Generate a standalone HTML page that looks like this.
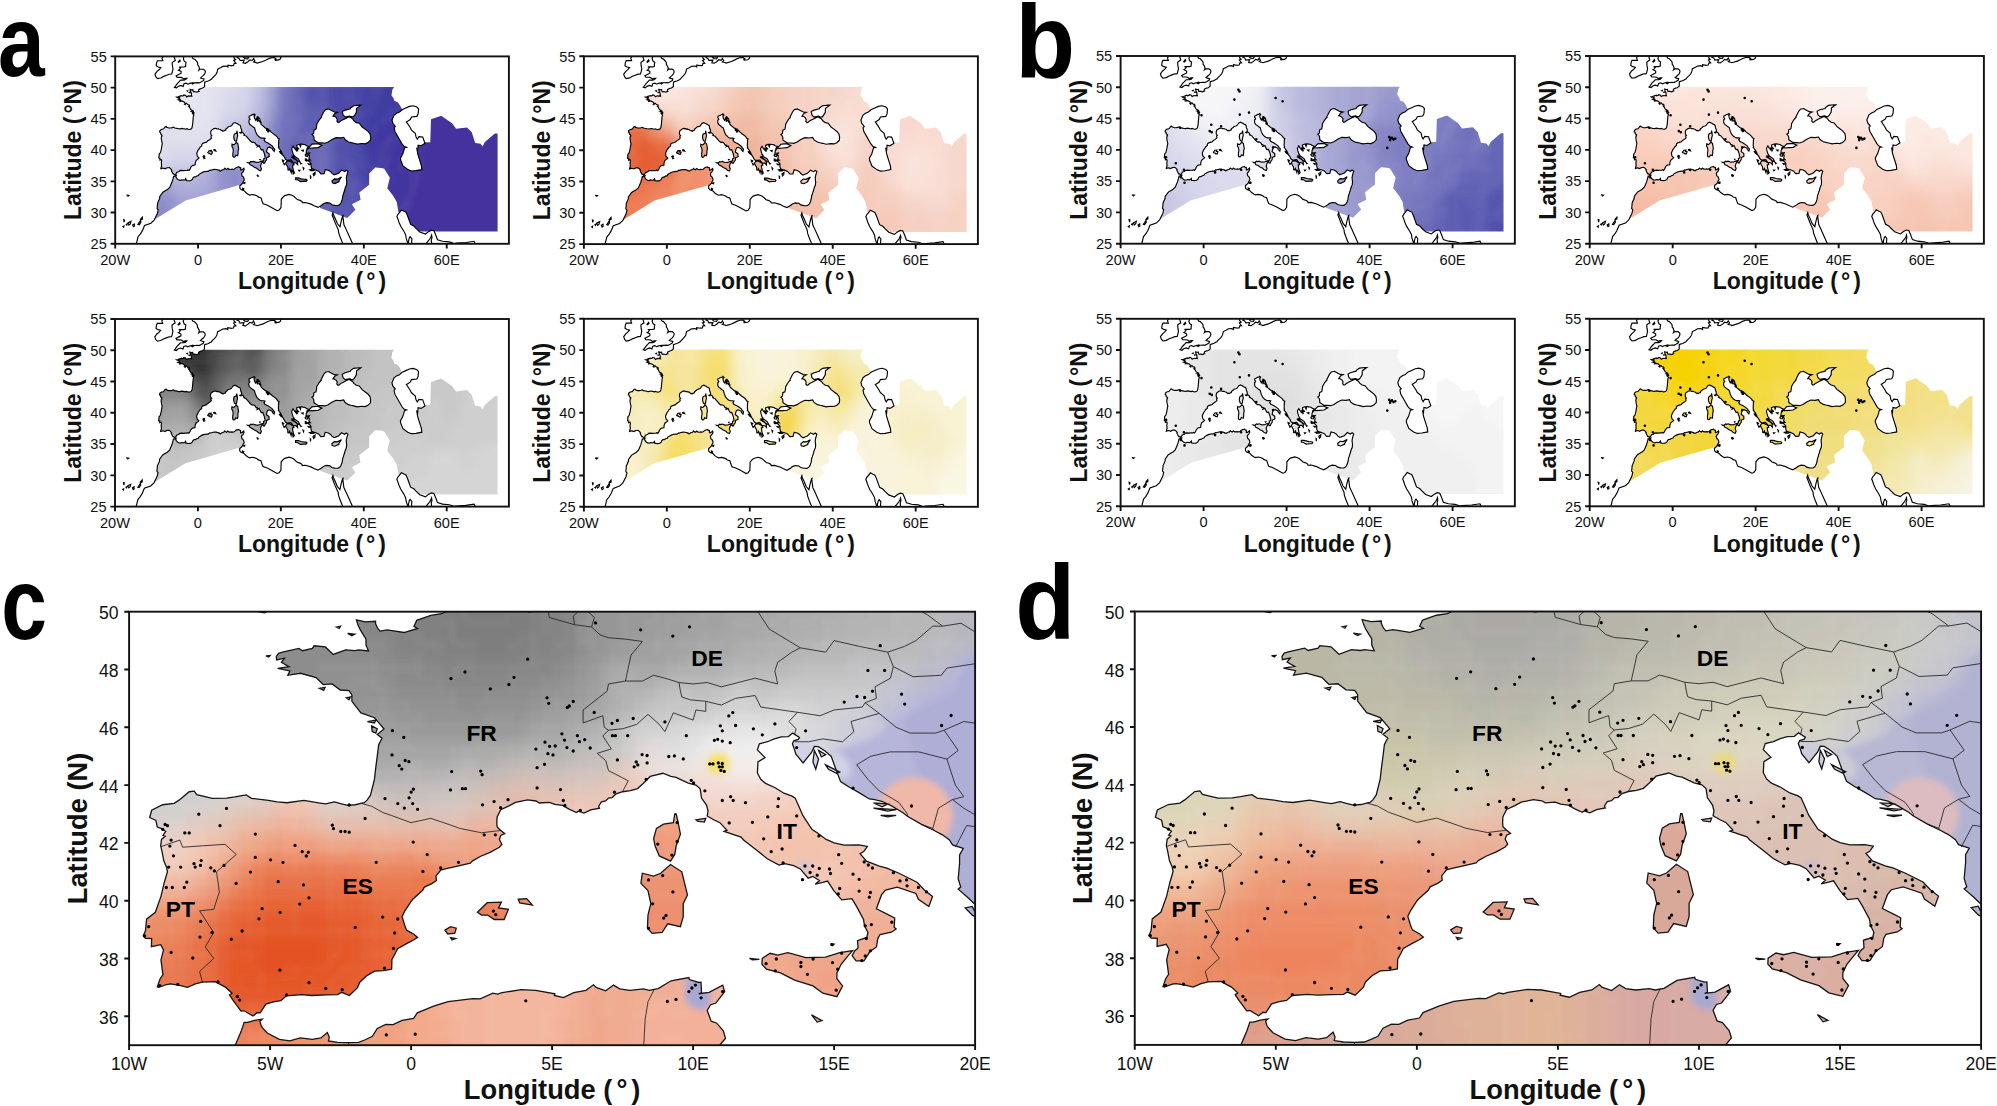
<!DOCTYPE html><html><head><meta charset="utf-8"><title>Figure</title><style>html,body{margin:0;padding:0;background:#fff}body{width:1997px;height:1106px;overflow:hidden;position:relative}svg.main{position:absolute;left:0;top:0}text{font-family:"Liberation Sans",Arial,Helvetica,sans-serif;fill:#111}.t{font-size:14.6px}.tl{font-size:17.6px}.ax{font-size:23px;font-weight:bold}.axl{font-size:27.3px;font-weight:bold}.cl{font-size:22.8px;font-weight:bold;fill:#000}.lab{font-size:100px;font-weight:bold;fill:#000}</style></head><body><svg class="main" width="1997" height="1106" viewBox="0 0 1997 1106"><defs><path id="land" vector-effect="non-scaling-stroke" d="M-17.1 -21L-16.9 -22L-16.3 -23L-15.9 -23.7L-15.3 -24.5L-14.9 -25L-14.48 -26.13L-13.9 -26.6L-13.4 -27.15L-12.92 -27.94L-11.4 -28.3L-10.6 -28.8L-10.17 -29.38L-9.85 -29.8L-9.62 -30.42L-9.89 -30.63L-9.8 -31.2L-9.77 -31.51L-9.25 -32.3L-9.27 -32.54L-8.5 -33.25L-7.62 -33.6L-7.38 -33.7L-6.84 -34.02L-6.66 -34.3L-6.29 -34.88L-6.15 -35.2L-6.03 -35.47L-5.92 -35.79L-5.8 -35.79L-5.55 -35.86L-5.28 -35.9L-5.36 -35.83L-5.32 -35.68L-5.27 -35.6L-5.1 -35.42L-4.67 -35.2L-4.3 -35.15L-3.93 -35.25L-3.5 -35.2L-3.2 -35.25L-2.97 -35.44L-2.9 -35.27L-2.93 -35.15L-2.6 -35.1L-2.23 -35.09L-1.86 -35.1L-1.65 -35.18L-1.38 -35.3L-1.2 -35.58L-0.9 -35.72L-0.64 -35.71L-0.32 -35.86L0.09 -35.93L0.22 -36.12L0.8 -36.35L1.31 -36.51L2.19 -36.61L2.45 -36.6L2.9 -36.8L3.06 -36.77L3.23 -36.82L3.91 -36.92L4.42 -36.9L5.1 -36.78L5.08 -36.72L5.4 -36.65L5.77 -36.82L6.2 -36.9L6.47 -37.09L6.56 -37L6.9 -36.88L7.18 -37.08L7.4 -36.95L7.76 -36.9L8.24 -36.95L8.44 -36.9L8.76 -36.96L9.22 -37.23L9.85 -37.34L9.87 -37.27L10.2 -37.17L10.28 -37.18L10.3 -36.82L10.2 -36.78L10.57 -36.83L11.05 -37.08L11.12 -36.85L10.8 -36.45L10.62 -36.4L10.5 -36.2L10.64 -35.83L10.83 -35.77L11.07 -35.5L11.15 -35.24L10.9 -34.95L10.76 -34.74L10.4 -34.45L10.07 -34.3L10.1 -33.88L10.45 -33.65L10.7 -33.6L11.11 -33.5L11.57 -33.17L12.08 -32.93L12.48 -32.8L13.19 -32.89L13.7 -32.8L14.26 -32.65L14.57 -32.47L15.1 -32.38L15.2 -32.35L15.4 -31.9L15.7 -31.4L16.59 -31.2L17.5 -30.9L18.57 -30.5L19.1 -30.3L19.58 -30.42L20 -30.8L20.05 -31.4L20.07 -32.12L20.58 -32.53L20.95 -32.71L21.97 -32.9L22.64 -32.77L23.1 -32.6L23.96 -32.08L24.6 -31.95L25.08 -31.76L25.16 -31.57L25.92 -31.61L27.25 -31.35L28 -31.1L28.95 -30.83L29.9 -31.2L30.07 -31.32L30.4 -31.45L31 -31.58L31.82 -31.52L32.3 -31.26L33 -31.15L33.8 -31.13L34.25 -31.32L34.45 -31.52L34.57 -31.67L34.77 -32.08L34.96 -32.83L35.07 -32.93L35.2 -33.27L35.37 -33.56L35.48 -33.9L35.82 -34.44L35.88 -34.89L35.77 -35.52L35.85 -35.85L35.93 -36.08L36.17 -36.59L35.8 -36.77L35.37 -36.57L34.64 -36.8L33.9 -36.3L33.3 -36.15L32.83 -36.02L32.3 -36.27L32 -36.54L31.45 -36.77L30.7 -36.88L30.57 -36.6L30.4 -36.22L29.64 -36.2L29.1 -36.62L28.8 -36.7L28.27 -36.85L27.8 -36.7L27.4 -36.7L27.9 -36.9L27.43 -37.03L27.26 -37.37L27.26 -37.86L26.8 -38.2L26.3 -38.32L26.5 -38.45L27.1 -38.42L26.75 -38.67L26.88 -39.07L26.69 -39.32L26.9 -39.55L26.07 -39.48L26.15 -39.95L26.4 -40.15L26.7 -40.35L26.55 -40.3L26.2 -40.05L26.35 -40.35L26.75 -40.55L26.5 -40.62L26.08 -40.72L25.87 -40.85L25 -40.95L24.4 -40.93L23.8 -40.77L23.85 -40.5L24.4 -40.15L23.9 -40.3L23.98 -39.96L23.65 -40.2L23.7 -39.95L23.3 -40.25L22.94 -40.63L22.6 -40.25L22.7 -39.9L22.95 -39.36L23.2 -39.15L22.95 -39L22.6 -38.85L23.1 -38.65L23.6 -38.46L24 -38.15L24.03 -37.65L23.63 -37.94L23.2 -37.95L22.98 -37.93L23.15 -37.63L22.8 -37.57L22.86 -37.17L23.05 -36.69L23.2 -36.44L22.8 -36.6L22.57 -36.76L22.48 -36.38L22.3 -36.7L22.11 -37.03L21.96 -36.8L21.7 -36.82L21.69 -36.91L21.66 -37.25L21.32 -37.65L21.14 -37.93L21.4 -38.2L21.73 -38.24L22.08 -38.25L22.93 -37.94L22.8 -38.1L22.43 -38.43L21.83 -38.39L21.43 -38.37L21.08 -38.53L20.75 -38.96L20.4 -39.28L20.27 -39.5L20 -39.87L19.75 -40.1L19.4 -40.4L19.49 -40.47L19.4 -40.75L19.45 -41.3L19.45 -41.58L19.58 -41.81L19.2 -41.93L19.09 -42.1L18.84 -42.28L18.55 -42.43L18.1 -42.64L17.6 -42.92L17.43 -43.05L17.02 -43.29L16.69 -43.44L16.44 -43.5L16.25 -43.52L15.9 -43.73L15.5 -43.95L15.23 -44.12L15.07 -44.53L14.9 -44.99L14.69 -45.17L14.44 -45.33L14.3 -45.34L14.2 -45.13L13.9 -44.77L13.64 -45.08L13.6 -45.22L13.52 -45.43L13.57 -45.53L13.73 -45.58L13.77 -45.65L13.53 -45.8L13.38 -45.68L13.13 -45.67L12.88 -45.6L12.64 -45.5L12.35 -45.43L12.28 -45.22L12.55 -44.95L12.3 -44.8L12.28 -44.42L12.4 -44.2L12.57 -44.06L12.91 -43.91L13.22 -43.72L13.51 -43.62L13.62 -43.55L13.73 -43.31L13.89 -42.95L14.22 -42.46L14.4 -42.35L14.72 -42.12L15 -42L15.35 -41.92L15.88 -41.93L16.18 -41.88L16.05 -41.7L15.92 -41.63L16.15 -41.37L16.6 -41.2L16.87 -41.13L17.3 -40.95L17.94 -40.64L18.2 -40.37L18.49 -40.15L18.36 -39.8L17.99 -40.05L17.9 -40.25L17.24 -40.47L16.82 -40.37L16.68 -40.2L16.5 -39.72L16.95 -39.5L17.15 -39.4L17.13 -39.08L17.2 -39.02L17.03 -38.91L16.63 -38.83L16.55 -38.69L16.5 -38.4L16.27 -38.24L16.06 -37.92L15.78 -37.92L15.64 -38.1L15.72 -38.25L15.85 -38.36L15.83 -38.62L16.16 -38.73L16.2 -38.9L16.08 -39.13L16.04 -39.36L15.79 -39.81L15.63 -40.07L15.27 -40.03L14.99 -40.35L14.77 -40.68L14.6 -40.63L14.33 -40.57L14.48 -40.7L14.25 -40.84L14.08 -40.78L13.8 -41.1L13.57 -41.21L13.25 -41.28L13.05 -41.23L12.63 -41.45L12.28 -41.73L11.8 -42.09L11.7 -42.2L11.1 -42.4L11.2 -42.44L10.95 -42.7L10.73 -42.8L10.5 -42.93L10.53 -43.1L10.48 -43.3L10.3 -43.55L10.25 -43.87L10.1 -44L9.83 -44.07L9.6 -44.17L9.4 -44.27L9.21 -44.3L8.93 -44.41L8.48 -44.3L8.22 -44.05L8.03 -43.88L7.78 -43.81L7.5 -43.77L7.27 -43.7L7.13 -43.57L7 -43.55L6.9 -43.45L6.75 -43.42L6.65 -43.27L6.68 -43.2L6.37 -43.14L6.13 -43.03L5.93 -43.1L5.86 -43.05L5.6 -43.17L5.37 -43.3L5.1 -43.33L4.9 -43.4L4.55 -43.38L4.43 -43.45L4.13 -43.49L3.7 -43.4L3.47 -43.28L3.18 -43.15L3.05 -42.9L3.04 -42.7L3.05 -42.55L3.17 -42.44L3.32 -42.32L3.18 -42.26L3.13 -42.12L3.22 -41.95L3.13 -41.85L2.8 -41.67L2.45 -41.53L2.18 -41.38L2.1 -41.3L1.8 -41.23L1.25 -41.11L1.05 -41.06L0.88 -40.85L0.9 -40.7L0.75 -40.6L0.47 -40.47L0.41 -40.36L0.06 -40.05L0 -39.98L-0.22 -39.65L-0.32 -39.45L-0.23 -39.16L-0.16 -38.98L0.1 -38.84L0.23 -38.73L0.07 -38.63L-0.13 -38.53L-0.48 -38.34L-0.55 -38.2L-0.68 -37.97L-0.69 -37.63L-0.98 -37.58L-1.3 -37.56L-1.58 -37.4L-1.82 -37.18L-1.9 -36.99L-2.19 -36.72L-2.46 -36.83L-2.6 -36.75L-3.02 -36.74L-3.52 -36.72L-3.88 -36.75L-4.42 -36.71L-4.62 -36.54L-4.88 -36.5L-5.15 -36.42L-5.35 -36.12L-5.45 -36.13L-5.61 -36.01L-5.92 -36.19L-6.03 -36.18L-6.3 -36.53L-6.36 -36.62L-6.44 -36.74L-6.35 -36.8L-6.57 -37L-6.95 -37.2L-7.4 -37.18L-7.65 -37.12L-7.93 -37L-8.25 -37.08L-8.54 -37.12L-8.67 -37.1L-8.95 -37L-9 -37.02L-8.9 -37.3L-8.8 -37.44L-8.87 -37.95L-8.78 -38.3L-8.88 -38.48L-9.21 -38.41L-9.2 -38.69L-9.42 -38.7L-9.5 -38.78L-9.42 -38.96L-9.38 -39.36L-9.07 -39.6L-8.87 -40.15L-8.75 -40.64L-8.64 -41L-8.67 -41.15L-8.77 -41.38L-8.83 -41.69L-8.88 -41.9L-8.85 -42.12L-8.72 -42.23L-8.8 -42.26L-8.7 -42.4L-8.87 -42.5L-9 -42.55L-9.05 -42.78L-9.27 -42.88L-9.2 -43.13L-8.81 -43.32L-8.4 -43.37L-8.23 -43.48L-7.87 -43.77L-7.69 -43.79L-7.6 -43.67L-7.05 -43.54L-6.54 -43.55L-6.25 -43.59L-5.85 -43.66L-5.66 -43.54L-5.06 -43.47L-4.75 -43.42L-4.4 -43.39L-3.8 -43.47L-3.22 -43.38L-3.03 -43.35L-2.72 -43.42L-2.5 -43.36L-2.25 -43.3L-1.98 -43.32L-1.78 -43.37L-1.66 -43.39L-1.56 -43.48L-1.44 -43.65L-1.3 -44.2L-1.25 -44.63L-1.2 -45L-1.15 -45.4L-1.06 -45.57L-1.03 -45.62L-1.2 -45.75L-0.96 -45.94L-1.15 -46.16L-1.3 -46.33L-1.78 -46.5L-1.94 -46.7L-2.1 -46.9L-2.1 -47.12L-2.2 -47.27L-2.51 -47.29L-2.8 -47.5L-3.12 -47.48L-3.37 -47.72L-3.92 -47.87L-4.37 -47.8L-4.3 -47.95L-4.73 -48.04L-4.33 -48.1L-4.6 -48.25L-4.49 -48.39L-4.77 -48.33L-4.78 -48.45L-4.7 -48.56L-4.56 -48.6L-3.98 -48.73L-3.85 -48.65L-3.5 -48.73L-3.44 -48.82L-3.04 -48.78L-2.76 -48.52L-2.32 -48.68L-2 -48.65L-1.85 -48.68L-1.51 -48.64L-1.6 -48.84L-1.6 -49.05L-1.8 -49.37L-1.88 -49.53L-1.94 -49.72L-1.62 -49.65L-1.26 -49.67L-1.26 -49.58L-1.18 -49.42L-1.1 -49.33L-0.85 -49.37L-0.62 -49.34L-0.25 -49.28L0.23 -49.42L0.1 -49.49L0.2 -49.7L0.37 -49.76L0.7 -49.87L1.08 -49.93L1.37 -50.06L1.6 -50.2L1.56 -50.4L1.58 -50.52L1.6 -50.73L1.58 -50.87L1.86 -50.95L2.37 -51.05L2.55 -51.1L2.92 -51.23L3.2 -51.33L3.44 -51.53L3.7 -51.7L3.9 -51.83L4.12 -51.98L4.27 -52.1L4.42 -52.24L4.58 -52.46L4.75 -52.96L5.4 -53.17L6 -53.4L6.8 -53.45L7.2 -53.3L7.2 -53.6L8.1 -53.5L8.13 -53.52L8.57 -53.55L8.7 -53.87L9.14 -53.9L8.86 -54.13L8.6 -54.35L9.05 -54.48L8.7 -54.7L8.66 -54.91L8.6 -55.3L8.2 -55.6L8.1 -56.2L10.3 -56.2L10 -55.7L9.75 -55.4L9.7 -55L9.45 -54.8L9.9 -54.67L10.15 -54.35L11.1 -54.4L10.85 -53.97L11.45 -53.9L12.1 -54.18L12.5 -54.45L13.1 -54.35L13.4 -54.68L13.7 -54.3L13.4 -54.1L14 -54L14.25 -53.92L15.58 -54.18L16.4 -54.43L16.85 -54.59L17.56 -54.76L18.33 -54.83L18.8 -54.6L18.55 -54.52L18.65 -54.38L19.5 -54.45L19.9 -54.65L20 -54.95L21.1 -55.2L21.1 -56.5L80 -56.5L80 -20L67 -24.85L66.6 -25.4L64.6 -25.2L62.3 -25.1L61.8 -25.05L60.6 -25.3L59 -25.4L57.77 -25.65L57.3 -26.5L56.9 -27.1L56.3 -27.18L55.6 -26.95L54.88 -26.56L53.5 -26.9L52.6 -27.47L52.06 -27.84L51.3 -28.1L50.83 -28.97L50.5 -29.58L50.17 -30.05L49.7 -30.2L49.07 -30.42L48.55 -29.95L48.3 -29.8L47.97 -29.37L48.2 -29L48.49 -28.42L48.9 -27.8L49.66 -27L50.1 -26.43L50.2 -25.9L50.55 -25.2L50.8 -24.75L50.78 -25.42L51 -26L51.2 -26.15L51.6 -25.8L51.53 -25.29L51.6 -24.9L51.5 -24.4L52.5 -24.1L54.37 -24.47L55.3 -25.27L55.4 -25.36L55.95 -25.8L56.25 -26.2L56.35 -26.38L56.45 -26L56.27 -25.6L56.35 -25.1L56.7 -24.35L57.5 -23.8L58.6 -23.6L59.8 -22.5L59.5 -20L40 -20L39.1 -22L38.5 -23.2L38.06 -24.09L37.26 -25.05L36.45 -26.24L35.7 -27.35L35.2 -28.05L34.95 -29.35L35 -29.53L34.92 -29.5L34.67 -28.97L34.5 -28.5L34.3 -27.9L34.25 -27.73L33.6 -28.24L33.1 -29.05L32.7 -29.6L32.55 -29.97L32.35 -29.6L32.65 -29.1L33.08 -28.35L33.83 -27.25L33.93 -26.75L34.28 -26.1L34.9 -25.07L35.5 -23.9L36 -22L37 -20L-17.3 -20ZM-5.7 -50.05L-5.2 -49.96L-4.8 -50.2L-4.2 -50.35L-3.6 -50.2L-3.4 -50.62L-2.9 -50.72L-2.45 -50.55L-2 -50.68L-1.3 -50.78L-0.8 -50.77L0 -50.8L0.3 -50.75L0.8 -50.93L1.35 -51.15L1.43 -51.38L0.9 -51.47L0.6 -51.55L1 -51.8L1.3 -51.95L1.6 -52.2L1.75 -52.5L1.7 -52.73L1.3 -52.95L0.5 -52.97L0.2 -52.8L0.35 -53.1L0.1 -53.5L-0.1 -53.65L-0.15 -54.05L-0.4 -54.25L-0.8 -54.55L-1.2 -54.63L-1.5 -55L-1.6 -55.6L-2.5 -56.5L-3.3 -56.5L-3.2 -55.5L-3.4 -54.95L-3.55 -54.6L-3.3 -54.2L-2.9 -54.05L-3 -53.75L-3 -53.4L-3.4 -53.3L-4 -53.3L-4.6 -53.3L-4.2 -53.2L-4.5 -52.9L-4.75 -52.8L-4.1 -52.6L-4.1 -52.3L-4.7 -52.1L-5.3 -51.9L-5.05 -51.65L-4.3 -51.65L-3.9 -51.6L-3.5 -51.4L-3 -51.5L-2.7 -51.5L-3 -51.3L-3.4 -51.2L-4.2 -51.2L-4.5 -51L-5 -50.65L-5.5 -50.2ZM-6 -55.2L-5.7 -54.75L-5.5 -54.35L-5.9 -54.2L-6.25 -54L-6.2 -53.5L-6.05 -53L-6.2 -52.55L-6.36 -52.18L-6.95 -52.15L-7.6 -51.98L-8.3 -51.8L-9 -51.55L-9.8 -51.45L-10.2 -51.75L-10.4 -52.15L-9.9 -52.6L-9.35 -52.9L-9 -53.2L-9.6 -53.3L-10.1 -53.5L-10 -54L-9.8 -54.3L-9 -54.3L-8.5 -54.3L-8.7 -54.7L-8.3 -55.15L-7.6 -55.3L-7 -55.2ZM9.4 -43L9.47 -42.7L9.55 -42.3L9.4 -41.9L9.35 -41.6L9.2 -41.37L8.8 -41.55L8.65 -41.9L8.6 -42.15L8.7 -42.5L8.95 -42.65L9.3 -42.7L9.35 -43ZM9.2 -41.25L9.6 -41L9.7 -40.6L9.8 -40.2L9.65 -39.9L9.65 -39.45L9.55 -39.1L9.1 -39.2L8.9 -38.9L8.55 -38.87L8.38 -39.05L8.4 -39.5L8.5 -39.9L8.4 -40.35L8.15 -40.6L8.2 -40.95L8.6 -40.85L8.85 -40.95ZM15.65 -38.27L15.2 -38.2L14.7 -38.05L14 -38.03L13.36 -38.2L13 -38.12L12.73 -38.18L12.45 -38L12.44 -37.8L12.6 -37.63L13.1 -37.5L13.6 -37.25L14.25 -37.05L14.6 -36.8L15.1 -36.68L15.3 -37.05L15.1 -37.3L15.1 -37.5L15.25 -37.8L15.5 -38.1ZM2.35 -39.6L2.7 -39.93L3.2 -39.95L3.1 -39.75L3.45 -39.7L3.3 -39.35L2.95 -39.35L2.72 -39.5L2.5 -39.5ZM3.8 -40.05L4.1 -40.07L4.3 -39.85L3.85 -39.92ZM1.2 -38.98L1.4 -39.1L1.6 -39.05L1.55 -38.88L1.3 -38.85ZM1.4 -38.72L1.58 -38.69L1.45 -38.64ZM23.55 -35.55L24.2 -35.55L24.9 -35.42L25.4 -35.35L26.1 -35.32L26.3 -35.2L26.1 -35L25.5 -35L24.7 -34.95L24 -35.25L23.55 -35.25ZM32.3 -35.05L32.9 -35.4L33.6 -35.35L34.6 -35.7L33.95 -35.05L34 -34.95L33 -34.65L32.4 -34.75ZM22.8 -39L23.4 -38.95L24.2 -38.6L24.6 -38.1L24.1 -38.2L23.6 -38.5L23.1 -38.8ZM27.75 -36.2L28.25 -36.45L28.2 -36.1L27.9 -35.9ZM25.85 -39.25L26.2 -39.4L26.6 -39.25L26.4 -38.98L25.95 -39.05ZM25.9 -38.6L26.15 -38.55L26.1 -38.25L25.9 -38.3ZM26.6 -37.8L27.05 -37.75L26.8 -37.65ZM20.35 -38.4L20.7 -38.3L20.5 -38.1L20.4 -38.25ZM19.65 -39.75L19.9 -39.8L20.1 -39.4L19.9 -39.5ZM20.65 -37.9L20.95 -37.75L20.8 -37.65ZM10.1 -42.8L10.45 -42.85L10.4 -42.72L10.15 -42.75ZM10.75 -33.9L11.05 -33.8L10.95 -33.65L10.75 -33.7ZM14.2 -36.05L14.57 -35.85L14.4 -35.8ZM-13.9 -28.9L-13.45 -29.25L-13.42 -28.95L-13.8 -28.85ZM-14.5 -28.1L-13.85 -28.75L-13.82 -28.4L-14.2 -28.05ZM-15.8 -28L-15.4 -28.18L-15.35 -27.85L-15.6 -27.73ZM-16.9 -28.35L-16.2 -28.58L-16.35 -28.2L-16.7 -28ZM-17.35 -28.1L-17.1 -28.2L-17.2 -28ZM-17.95 -28.85L-17.75 -28.8L-17.85 -28.45ZM-18.15 -27.75L-17.9 -27.85L-17.95 -27.65ZM-17.25 -32.8L-16.7 -32.75L-16.9 -32.63ZM-2.25 -49.25L-2 -49.22L-2.1 -49.17ZM-2.65 -49.47L-2.5 -49.5L-2.55 -49.42ZM-1.55 -50.68L-1.3 -50.77L-1.07 -50.68L-1.3 -50.57ZM-4.8 -54.1L-4.4 -54.42L-4.3 -54.25L-4.7 -54.05ZM9.7 -55.5L10.5 -55.6L10.9 -55.3L10.6 -55L10 -55.1ZM11 -55.5L11.9 -56.1L12.6 -55.7L12.3 -55.2L11.7 -55.05L11.2 -55.2ZM11 -54.85L11.8 -54.95L12.2 -54.85L12 -54.6L11.3 -54.65ZM14.7 -55.2L15.1 -55.3L15.15 -55.05L14.75 -55.05ZM-1.55 -46.2L-1.25 -46.25L-1.3 -46.15ZM-1.4 -46.05L-1.2 -45.95L-1.25 -45.8L-1.38 -45.85ZM-3.25 -47.35L-3.05 -47.38L-3.1 -47.28ZM-2.3 -47.02L-2.15 -47.05L-2.2 -46.95ZM-5.15 -48.47L-5 -48.48L-5.05 -48.43ZM11 -34.7L11.3 -34.8L11.25 -34.65ZM14.45 -45.2L14.7 -45.05L14.55 -44.98ZM14.3 -45.2L14.45 -44.9L14.35 -44.55L14.25 -44.8ZM14.7 -44.7L15.2 -44.45L15.1 -44.4L14.8 -44.55ZM16.4 -43.38L16.9 -43.35L16.7 -43.25ZM16.4 -43.2L17.2 -43.15L16.9 -43.1ZM16.65 -42.95L17.2 -42.95L16.9 -42.9ZM24.55 -40.8L24.8 -40.75L24.7 -40.55ZM25.05 -39.95L25.4 -39.98L25.35 -39.8ZM25.35 -37.2L25.55 -37.1L25.45 -36.95ZM24.7 -37.95L24.95 -37.85L24.8 -37.8ZM24.3 -36.75L24.55 -36.75L24.4 -36.65ZM22.9 -36.35L23.1 -36.25L22.95 -36.15ZM27.1 -35.85L27.2 -35.8L27.15 -35.4ZM26.95 -36.85L27.35 -36.9L27.2 -36.75ZM14.9 -38.5L15 -38.5L14.95 -38.45ZM12 -38L12.35 -37.97L12.1 -37.95Z"/><path id="lakes" vector-effect="non-scaling-stroke" d="M29.05 -41.15L29.9 -41.15L30.6 -41.1L31.4 -41.3L32.3 -41.7L33.3 -42L34.3 -41.95L35.15 -42.05L35.5 -41.65L36.3 -41.3L36.9 -41.2L37.6 -41.1L38.4 -40.95L39.5 -41.05L40.3 -41L41 -41.2L41.6 -41.6L41.65 -42.1L41.5 -42.6L41 -43L40.2 -43.4L39.6 -43.7L38.9 -44.3L38.2 -44.4L37.6 -44.7L37.3 -45L36.8 -45.2L36.45 -45.35L35.4 -45L34.95 -44.85L34.4 -44.67L34.15 -44.49L33.8 -44.39L33.5 -44.6L33.6 -44.9L33.35 -45.2L32.7 -45.5L32.48 -45.35L33 -45.85L33.6 -46.05L32.9 -46.1L31.6 -46.55L31.55 -46.6L30.75 -46.48L30.3 -46.1L29.7 -45.3L29.75 -45.2L29.65 -45.16L29.2 -44.8L28.65 -44.17L28.6 -43.8L28.47 -43.36L27.95 -43.2L27.9 -42.7L27.5 -42.5L27.7 -42.4L27.95 -42.1L28 -41.6L28.6 -41.35ZM36.6 -45.45L35.5 -45.3L35 -45.6L34.8 -46.17L35.5 -46.4L36.75 -46.62L36.8 -46.75L37.55 -47.1L38.9 -47.2L39.3 -47.2L38.25 -46.7L38.2 -46.05L37.7 -45.5L37.4 -45.3L36.9 -45.35ZM47.5 -42.98L47.3 -43.6L47.6 -43.8L47 -44.3L46.8 -44.8L47.3 -45.6L47.9 -45.9L48.6 -46.1L49.3 -46.5L50 -46.7L51 -47L51.9 -47.1L52.8 -46.9L53.2 -46.6L53.1 -45.8L52.8 -45.4L51.5 -45.3L51.2 -44.9L50.5 -44.6L50.27 -44.52L51.15 -43.65L51.5 -43.2L52.4 -42.7L52.6 -42.1L52.9 -41.75L53.3 -42.15L54.2 -42.1L54.75 -41.1L53.8 -40.7L53.1 -40.8L53 -40.05L52.8 -40.2L53 -39.4L53.9 -37.5L54 -36.9L52.6 -36.72L51.5 -36.66L50.6 -36.9L49.45 -37.47L48.87 -38.43L48.85 -38.75L49.4 -39.4L49.85 -40.38L50.3 -40.45L49.7 -40.6L49.2 -41L48.3 -42.05ZM26.7 -40.4L27.5 -40.95L28.3 -41L29 -41L29.9 -40.75L29 -40.4L28 -40.35L27 -40.3Z"/><path id="bord" vector-effect="non-scaling-stroke" d="M-1.78 -43.37L-1.4 -43.27L-1 -43.05L-0.7 -42.95L0 -42.7L0.7 -42.85L1.45 -42.6L1.73 -42.5L2.5 -42.35L3.17 -42.43M-8.87 -41.87L-8.2 -42.1L-8.1 -41.85L-7.4 -41.9L-6.6 -41.95L-6.2 -41.6L-6.9 -41L-6.8 -40.3L-7 -39.7L-7.5 -39.65L-7.2 -39.2L-7 -38.9L-7.3 -38.4L-7 -38L-7.5 -37.55L-7.4 -37.18M2.55 -51.1L2.95 -50.75L3.3 -50.5L4.2 -50.3L4.15 -49.97L4.85 -50.1L4.9 -49.8L5.8 -49.55L6.4 -49.47L6.7 -49.2L7 -49.1L7.6 -49.05L8.2 -48.97L7.8 -48.5L7.6 -47.6M5.8 -49.55L5.75 -49.85L6.1 -50.15L6.4 -50.3L6 -50.75M6.1 -50.15L6.5 -49.8L6.4 -49.47M7.6 -47.6L7 -47.5L6.95 -47.25L6.1 -46.6L6.1 -46.15L6.8 -46.4L6.85 -46L7 -45.9L6.8 -45.7L7.1 -45.25L6.6 -45.1L6.9 -44.85L7 -44.5L7.7 -44.15L7.5 -43.78M7 -45.9L7.5 -45.95L8 -46.1L8.4 -46.45L8.8 -46.1L9 -45.85L9.3 -46.5L10 -46.25L10.1 -46.6L10.45 -46.55L10.45 -46.9M7.6 -47.6L8.2 -47.6L8.6 -47.8L9 -47.7L9.5 -47.55L9.55 -47.25L9.6 -47.05L9.9 -46.95L10.45 -46.9M10.45 -46.9L11 -46.77L11.5 -47L12.2 -47.1L12.4 -46.7L13.7 -46.52L13.4 -46.2L13.65 -45.95L13.6 -45.75M9.5 -47.55L10 -47.5L10.5 -47.55L11 -47.4L12.2 -47.7L13 -47.5L12.9 -47.95L13 -48.25L13.5 -48.6L13.8 -48.75L12.7 -49.4L12.1 -50.3L12.5 -50.4L13.5 -50.7L14.3 -51.05M14.3 -51.05L14.7 -51.5L14.6 -52.5L14.2 -53L14.25 -53.92M13.8 -48.75L14.7 -48.6L15 -49L15.9 -48.8L16.9 -48.6L17.1 -48.1L17 -47.7L16.45 -47.4L16.5 -47L16.1 -46.85M13.7 -46.52L14.5 -46.4L15 -46.6L16 -46.7L16.1 -46.85L16.6 -46.48M13.6 -45.5L14.1 -45.5L14.6 -45.6L15.3 -45.5L15.7 -45.85L15.6 -46.2L16.3 -46.4L16.6 -46.48M16.6 -46.48L17.2 -46L17.7 -45.8L18.6 -45.8L18.9 -45.9L19.4 -45.2L19 -44.9M19 -44.9L18 -45.15L17 -45.15L16.3 -45L15.8 -44.7L16.2 -44.2L16.6 -43.8L17.3 -43.4L17.6 -43L17.6 -42.92M18.1 -42.64L18.5 -42.5L18.55 -42.43M19 -44.9L19.3 -44L19.6 -43.6L19.2 -43.5L18.7 -43.2L18.5 -42.5M19.2 -43.5L19.6 -43.2L20.3 -42.8M19.3 -41.85L19.7 -42.6L20.1 -42.55M17.1 -48.1L17.8 -47.75L18.8 -47.8L19 -48.05L20 -48.2L20.5 -48.5M16.9 -48.6L17.5 -48.8L17.9 -49L18.5 -49.5L18.85 -49.5M18.85 -49.5L18.3 -49.9L17.7 -50.2L16.9 -50.4L16.4 -50.6L15 -51L14.3 -51.05M18.85 -49.5L19.5 -49.6L20 -49.3L21 -49.4M18.9 -45.9L19.6 -46.2L20.3 -46.1M-2.23 -35.09L-2 -34.6L-1.8 -34M8.63 -36.95L8.4 -36.5L8.3 -35.9L8.25 -35L7.6 -34M20 -39.7L20.7 -40.3L21 -40.8"/><path id="maskp" d="M-12 -50.1L47.3 -50.1L46.85 -49.63L46.68 -48.76L47.17 -48.32L47.34 -47.89L48.16 -47.67L48.65 -47.23L48.98 -46.8L49.8 -45.8L50.3 -44.5L51 -43.2L52 -42.2L52.6 -41.7L53.5 -41.6L54.88 -41.24L56.03 -41.24L56.2 -44.94L58.66 -45.49L61.28 -44.29L62.26 -43.42L64.89 -43.63L66.04 -42.87L66.86 -41.13L68.17 -41.02L68.66 -40.58L69.15 -41.24L71.61 -42.65L72.27 -42.65L72.27 -26.95L51.5 -26.95L49.8 -28.8L49.2 -29.9L48.55 -29.95L48.35 -30.04L47.94 -31.7L47.11 -32.66L45.65 -33.91L46.27 -35.56L44.92 -37.01L44.2 -37.15L42.74 -37.22L41.29 -36.26L41.29 -34.46L38.9 -33.22L39.21 -32.04L37.13 -31.35L37.96 -30.46L35.99 -29.14L29.45 -30.73L29 -31.8L25 -33.5L20 -34L12 -34.3L10.3 -34.3L9.94 -34.4L-3 -31.95L-10.5 -28.9L-10.2 -29.5L-12 -33Z"/><clipPath id="cland"><use href="#land"/></clipPath><clipPath id="cmask"><use href="#maskp"/></clipPath><filter id="bs" x="-5%" y="-5%" width="110%" height="110%"><feGaussianBlur stdDeviation="0.8 0.5"/></filter><filter id="bl" x="-5%" y="-5%" width="110%" height="110%"><feGaussianBlur stdDeviation="0.11 0.11"/></filter></defs><svg x="115.20" y="56.40" width="393.70" height="187.40" viewBox="-20 -55 95 30" preserveAspectRatio="none"><g clip-path="url(#cland)"><g clip-path="url(#cmask)"><g filter="url(#bs)"><path fill="#45339f" d="M49 -27h25v1h-25zM48 -28h26v1h-26zM49 -29h25v1h-25zM49 -30h25v1h-25zM50 -31h24v1h-24zM51 -32h23v1h-23zM51 -33h23v1h-23zM52 -34h22v1h-22zM52 -35h22v1h-22zM53 -36h21v1h-21zM53 -37h21v1h-21zM53 -38h21v1h-21zM54 -39h20v1h-20zM54 -40h20v1h-20zM54 -41h20v1h-20zM54 -42h20v1h-20zM53 -43h21v1h-21zM53 -44h15v1h-15zM69 -44h5v1h-5zM54 -45h14v1h-14zM70 -45h3v1h-3zM54 -46h12v1h-12zM55 -47h7v1h-7z"/><path fill="#8a8ac9" d="M-12 -28h4v1h-4zM-12 -29h6v1h-6zM-13 -30h7v1h-7zM-13 -31h6v1h-6zM-13 -32h4v1h-4zM8 -33h1v1h-1zM11 -33h1v1h-1zM17 -33h1v1h-1zM8 -34h1v1h-1zM11 -34h1v1h-1zM17 -34h1v1h-1zM8 -35h3v1h-3zM8 -36h2v1h-2zM17 -40h1v1h-1zM17 -44h1v1h-1zM18 -47h1v1h-1z"/><path fill="#5451ae" d="M34 -28h1v1h-1zM34 -29h1v1h-1zM34 -30h1v1h-1zM34 -31h1v1h-1zM33 -37h1v1h-1zM33 -38h1v1h-1zM27 -47h1v1h-1zM26 -50h1v1h-1z"/><path fill="#514eae" d="M35 -28h1v1h-1zM35 -29h1v1h-1zM35 -31h1v1h-1z"/><path fill="#4e4eab" d="M36 -28h1v1h-1zM36 -29h1v1h-1zM36 -30h1v1h-1zM36 -31h1v1h-1zM36 -32h1v1h-1zM35 -33h1v1h-1zM35 -34h1v1h-1zM35 -35h1v1h-1zM34 -37h1v1h-1zM34 -38h1v1h-1zM34 -39h1v1h-1zM30 -46h1v1h-1zM29 -47h1v1h-1zM28 -49h1v1h-1zM28 -50h1v1h-1z"/><path fill="#5d5db4" d="M30 -29h1v1h-1zM29 -30h2v1h-2zM29 -31h2v1h-2zM25 -32h1v1h-1zM29 -32h2v1h-2zM20 -33h1v1h-1zM25 -33h1v1h-1zM30 -33h1v1h-1zM30 -34h1v1h-1zM24 -35h1v1h-1zM26 -44h1v1h-1z"/><path fill="#5a5ab1" d="M31 -29h1v1h-1zM31 -30h1v1h-1zM31 -31h1v1h-1zM31 -32h1v1h-1zM21 -33h3v1h-3zM31 -33h1v1h-1zM22 -34h1v1h-1zM31 -34h1v1h-1zM31 -42h1v1h-1zM29 -44h1v1h-1zM26 -45h2v1h-2zM25 -46h1v1h-1zM24 -49h1v1h-1zM24 -50h1v1h-1zM24 -51h1v1h-1z"/><path fill="#5757b1" d="M32 -29h1v1h-1zM32 -30h1v1h-1zM32 -31h1v1h-1zM32 -32h1v1h-1zM32 -33h1v1h-1zM32 -34h1v1h-1z"/><path fill="#5454ae" d="M33 -29h1v1h-1zM33 -30h1v1h-1zM33 -31h1v1h-1zM33 -32h1v1h-1zM33 -33h1v1h-1zM33 -34h1v1h-1zM33 -35h1v1h-1zM33 -36h1v1h-1zM32 -43h1v1h-1zM31 -44h1v1h-1zM29 -45h1v1h-1zM28 -46h1v1h-1zM26 -48h1v1h-1zM26 -49h1v1h-1z"/><path fill="#4e4bab" d="M37 -29h2v1h-2zM37 -30h2v1h-2zM37 -31h1v1h-1zM37 -32h1v1h-1zM36 -33h1v1h-1zM36 -34h1v1h-1zM35 -36h1v1h-1zM34 -40h1v1h-1zM34 -41h1v1h-1zM34 -42h1v1h-1zM33 -44h1v1h-1zM32 -45h1v1h-1zM30 -47h1v1h-1zM29 -48h1v1h-1zM29 -49h1v1h-1zM29 -50h1v1h-1zM28 -51h1v1h-1z"/><path fill="#45369f" d="M47 -29h2v1h-2zM48 -30h1v1h-1zM49 -31h1v1h-1zM50 -32h1v1h-1z"/><path fill="#8d8dcc" d="M-6 -30h1v1h-1zM-7 -31h1v1h-1zM-9 -32h2v1h-2zM-13 -33h3v1h-3zM7 -33h1v1h-1zM7 -34h1v1h-1zM12 -34h1v1h-1zM7 -35h1v1h-1zM11 -35h1v1h-1zM7 -36h1v1h-1zM11 -36h1v1h-1zM7 -37h4v1h-4z"/><path fill="#9393cc" d="M-5 -30h1v1h-1zM-8 -33h1v1h-1zM6 -38h1v1h-1zM16 -40h1v1h-1zM16 -41h1v1h-1zM16 -42h1v1h-1zM16 -43h1v1h-1zM16 -44h1v1h-1zM18 -50h1v1h-1zM18 -51h1v1h-1z"/><path fill="#9696cf" d="M-4 -30h1v1h-1zM-5 -32h1v1h-1zM5 -32h1v1h-1zM-7 -33h1v1h-1zM5 -33h1v1h-1zM14 -33h2v1h-2zM-13 -34h4v1h-4zM14 -34h1v1h-1zM16 -34h1v1h-1zM13 -35h1v1h-1zM16 -35h1v1h-1zM16 -36h1v1h-1zM12 -37h1v1h-1zM16 -37h1v1h-1zM5 -38h1v1h-1zM11 -38h1v1h-1zM16 -38h1v1h-1zM6 -39h1v1h-1zM9 -39h1v1h-1zM16 -39h1v1h-1z"/><path fill="#6060b4" d="M28 -30h1v1h-1zM27 -31h2v1h-2zM26 -32h3v1h-3zM26 -33h4v1h-4zM20 -34h1v1h-1zM25 -34h2v1h-2zM29 -34h1v1h-1zM25 -35h1v1h-1zM30 -35h1v1h-1zM21 -36h1v1h-1zM24 -36h1v1h-1zM30 -36h1v1h-1zM21 -37h4v1h-4zM22 -38h2v1h-2zM22 -39h2v1h-2zM30 -41h1v1h-1zM30 -42h1v1h-1zM24 -43h3v1h-3zM29 -43h1v1h-1zM24 -44h2v1h-2zM24 -45h1v1h-1zM23 -46h1v1h-1zM23 -47h1v1h-1zM23 -48h1v1h-1zM23 -49h1v1h-1zM23 -50h1v1h-1zM23 -51h1v1h-1z"/><path fill="#5151ae" d="M35 -30h1v1h-1zM34 -32h1v1h-1zM34 -33h1v1h-1zM33 -39h1v1h-1z"/><path fill="#4b4bab" d="M39 -30h1v1h-1zM38 -31h2v1h-2zM38 -32h1v1h-1zM37 -33h1v1h-1zM34 -43h1v1h-1z"/><path fill="#42369f" d="M46 -30h2v1h-2zM46 -31h3v1h-3zM45 -32h5v1h-5zM44 -33h7v1h-7zM44 -34h8v1h-8zM45 -35h7v1h-7zM46 -36h6v1h-6zM48 -37h4v1h-4zM49 -38h3v1h-3zM50 -39h2v1h-2zM51 -40h1v1h-1zM51 -41h1v1h-1zM51 -42h2v1h-2zM52 -43h1v1h-1zM52 -44h1v1h-1zM52 -45h1v1h-1z"/><path fill="#9090cc" d="M-6 -31h1v1h-1zM-7 -32h1v1h-1zM-10 -33h2v1h-2zM6 -33h1v1h-1zM13 -33h1v1h-1zM6 -34h1v1h-1zM6 -35h1v1h-1zM12 -35h1v1h-1zM6 -36h1v1h-1zM6 -37h1v1h-1zM7 -38h3v1h-3zM17 -46h1v1h-1zM18 -49h1v1h-1z"/><path fill="#9393cf" d="M-5 -31h1v1h-1zM-6 -32h1v1h-1zM16 -33h1v1h-1zM5 -34h1v1h-1zM13 -34h1v1h-1zM5 -35h1v1h-1zM5 -36h1v1h-1zM12 -36h1v1h-1zM5 -37h1v1h-1zM11 -37h1v1h-1zM10 -38h1v1h-1zM7 -39h2v1h-2z"/><path fill="#9999cf" d="M-4 -31h1v1h-1zM-6 -33h1v1h-1zM-9 -34h2v1h-2zM15 -34h1v1h-1zM13 -36h1v1h-1zM10 -39h1v1h-1zM16 -45h1v1h-1zM17 -48h1v1h-1z"/><path fill="#9c9cd2" d="M-3 -31h1v1h-1zM-4 -32h1v1h-1zM3 -32h1v1h-1zM-5 -33h1v1h-1zM3 -33h1v1h-1zM-7 -34h1v1h-1zM3 -34h1v1h-1zM3 -35h1v1h-1zM14 -37h2v1h-2zM4 -38h1v1h-1zM13 -38h3v1h-3zM5 -39h1v1h-1zM11 -39h1v1h-1zM15 -39h1v1h-1zM6 -40h4v1h-4zM15 -40h1v1h-1zM15 -41h1v1h-1zM15 -42h1v1h-1zM15 -43h1v1h-1zM16 -46h1v1h-1z"/><path fill="#9f9fd2" d="M-2 -31h1v1h-1zM-3 -32h1v1h-1zM-4 -33h1v1h-1zM-6 -34h1v1h-1zM3 -36h1v1h-1zM12 -39h3v1h-3zM10 -40h1v1h-1zM14 -40h1v1h-1zM15 -44h1v1h-1zM17 -50h1v1h-1zM17 -51h1v1h-1z"/><path fill="#a2a2d5" d="M-1 -31h2v1h-2zM-2 -32h4v1h-4zM-3 -33h2v1h-2zM0 -33h2v1h-2zM-5 -34h1v1h-1zM1 -34h1v1h-1zM-13 -35h1v1h-1zM2 -35h1v1h-1zM3 -37h1v1h-1zM4 -39h1v1h-1zM11 -40h3v1h-3zM14 -41h1v1h-1z"/><path fill="#4b48ab" d="M40 -31h1v1h-1z"/><path fill="#9f9fd5" d="M2 -32h1v1h-1zM2 -33h1v1h-1zM2 -34h1v1h-1z"/><path fill="#9999d2" d="M4 -32h1v1h-1zM4 -33h1v1h-1zM4 -34h1v1h-1zM4 -35h1v1h-1zM14 -35h2v1h-2zM4 -36h1v1h-1zM14 -36h2v1h-2zM4 -37h1v1h-1zM13 -37h1v1h-1zM12 -38h1v1h-1z"/><path fill="#5d5db1" d="M24 -32h1v1h-1zM24 -33h1v1h-1zM21 -34h1v1h-1zM23 -34h2v1h-2zM21 -35h3v1h-3zM22 -36h2v1h-2zM31 -36h1v1h-1zM31 -37h1v1h-1zM31 -38h1v1h-1zM31 -39h1v1h-1zM31 -40h1v1h-1zM30 -43h1v1h-1zM27 -44h2v1h-2zM25 -45h1v1h-1zM24 -46h1v1h-1zM24 -47h1v1h-1z"/><path fill="#514eab" d="M35 -32h1v1h-1zM34 -36h1v1h-1zM33 -43h1v1h-1zM31 -45h1v1h-1zM28 -48h1v1h-1zM27 -50h1v1h-1zM27 -51h1v1h-1z"/><path fill="#4b48a8" d="M39 -32h2v1h-2zM38 -33h2v1h-2zM38 -34h1v1h-1zM37 -35h1v1h-1zM36 -36h1v1h-1zM36 -37h1v1h-1zM35 -39h1v1h-1zM35 -40h1v1h-1zM35 -41h1v1h-1zM35 -42h1v1h-1zM34 -44h1v1h-1zM33 -45h1v1h-1zM32 -46h1v1h-1zM32 -47h1v1h-1zM31 -48h2v1h-2zM31 -49h2v1h-2zM31 -50h2v1h-2zM31 -51h2v1h-2z"/><path fill="#a5a5d5" d="M-1 -33h1v1h-1zM-4 -34h2v1h-2zM0 -34h1v1h-1zM-12 -35h5v1h-5zM1 -35h1v1h-1zM2 -36h1v1h-1zM3 -38h1v1h-1zM5 -40h1v1h-1zM7 -41h3v1h-3zM13 -41h1v1h-1zM14 -42h1v1h-1zM15 -45h1v1h-1zM16 -48h1v1h-1z"/><path fill="#8787c9" d="M9 -33h2v1h-2zM9 -34h2v1h-2zM17 -41h1v1h-1z"/><path fill="#8a8acc" d="M12 -33h1v1h-1zM10 -36h1v1h-1z"/><path fill="#7878c0" d="M18 -33h1v1h-1zM19 -45h1v1h-1zM20 -48h1v1h-1zM20 -49h1v1h-1z"/><path fill="#6666b7" d="M19 -33h1v1h-1zM27 -35h2v1h-2zM26 -36h4v1h-4zM20 -37h1v1h-1zM26 -37h1v1h-1zM29 -37h1v1h-1zM25 -38h1v1h-1zM29 -38h1v1h-1zM25 -39h1v1h-1zM29 -39h1v1h-1zM21 -40h1v1h-1zM25 -40h2v1h-2zM29 -40h1v1h-1zM21 -41h1v1h-1zM26 -41h3v1h-3zM21 -42h1v1h-1zM27 -42h2v1h-2zM22 -44h1v1h-1zM22 -45h1v1h-1zM22 -46h1v1h-1zM22 -47h1v1h-1zM22 -48h1v1h-1zM22 -49h1v1h-1z"/><path fill="#4845a8" d="M40 -33h1v1h-1zM39 -34h2v1h-2zM39 -35h1v1h-1zM38 -36h1v1h-1zM37 -37h1v1h-1zM36 -39h1v1h-1zM36 -40h1v1h-1zM36 -41h1v1h-1zM36 -42h1v1h-1zM35 -44h1v1h-1zM35 -45h1v1h-1zM34 -46h1v1h-1zM34 -47h1v1h-1zM34 -48h1v1h-1zM34 -49h1v1h-1zM34 -50h1v1h-1zM34 -51h1v1h-1z"/><path fill="#4845a5" d="M41 -33h1v1h-1zM37 -38h1v1h-1zM35 -46h1v1h-1zM35 -47h1v1h-1zM35 -48h1v1h-1zM35 -49h1v1h-1zM35 -50h1v1h-1zM35 -51h1v1h-1z"/><path fill="#a8a8d8" d="M-2 -34h2v1h-2zM0 -35h1v1h-1zM2 -37h1v1h-1zM6 -41h1v1h-1zM11 -41h2v1h-2z"/><path fill="#7b7bc0" d="M18 -34h1v1h-1zM19 -46h1v1h-1zM20 -50h1v1h-1zM20 -51h1v1h-1z"/><path fill="#6969b7" d="M19 -34h1v1h-1zM27 -37h2v1h-2zM20 -38h1v1h-1zM26 -38h3v1h-3zM20 -39h1v1h-1zM26 -39h3v1h-3zM27 -40h2v1h-2zM21 -43h1v1h-1zM21 -44h1v1h-1zM22 -50h1v1h-1zM22 -51h1v1h-1z"/><path fill="#6363b4" d="M27 -34h2v1h-2zM20 -35h1v1h-1zM26 -35h1v1h-1zM29 -35h1v1h-1zM20 -36h1v1h-1zM25 -36h1v1h-1zM30 -37h1v1h-1zM21 -38h1v1h-1zM24 -38h1v1h-1zM30 -38h1v1h-1zM21 -39h1v1h-1zM24 -39h1v1h-1zM30 -39h1v1h-1zM22 -40h3v1h-3zM22 -41h4v1h-4zM22 -42h5v1h-5zM29 -42h1v1h-1zM23 -43h1v1h-1zM27 -43h1v1h-1zM23 -44h1v1h-1zM23 -45h1v1h-1z"/><path fill="#5151ab" d="M34 -34h1v1h-1zM34 -35h1v1h-1zM33 -40h1v1h-1zM33 -41h1v1h-1zM33 -42h1v1h-1zM32 -44h1v1h-1zM29 -46h1v1h-1zM28 -47h1v1h-1zM27 -48h1v1h-1zM27 -49h1v1h-1z"/><path fill="#4b4ba8" d="M37 -34h1v1h-1zM36 -35h1v1h-1zM35 -37h1v1h-1zM35 -38h1v1h-1zM31 -47h1v1h-1zM30 -48h1v1h-1zM30 -49h1v1h-1zM30 -50h1v1h-1zM30 -51h1v1h-1z"/><path fill="#4542a5" d="M41 -34h1v1h-1zM40 -35h1v1h-1zM39 -36h2v1h-2zM38 -37h2v1h-2zM38 -38h1v1h-1zM37 -39h2v1h-2zM37 -40h1v1h-1zM37 -41h1v1h-1zM37 -42h1v1h-1zM37 -43h1v1h-1zM37 -44h1v1h-1zM37 -45h1v1h-1zM36 -46h2v1h-2zM36 -47h2v1h-2zM36 -48h2v1h-2zM37 -49h2v1h-2zM37 -50h2v1h-2zM37 -51h2v1h-2z"/><path fill="#423fa2" d="M42 -34h1v1h-1zM41 -36h1v1h-1zM40 -38h1v1h-1zM39 -40h1v1h-1zM39 -44h1v1h-1zM40 -46h1v1h-1zM41 -48h1v1h-1zM41 -49h1v1h-1zM42 -50h1v1h-1zM42 -51h1v1h-1z"/><path fill="#a8a8d5" d="M-7 -35h2v1h-2zM10 -41h1v1h-1zM14 -43h1v1h-1zM15 -46h1v1h-1zM16 -49h1v1h-1zM16 -50h1v1h-1z"/><path fill="#ababd8" d="M-5 -35h2v1h-2zM-1 -35h1v1h-1zM1 -36h1v1h-1zM13 -42h1v1h-1zM14 -44h1v1h-1zM16 -51h1v1h-1z"/><path fill="#aeaed8" d="M-3 -35h2v1h-2zM4 -40h1v1h-1zM8 -42h2v1h-2zM12 -42h1v1h-1zM13 -43h1v1h-1zM14 -45h1v1h-1zM15 -47h1v1h-1z"/><path fill="#8d8dc9" d="M17 -35h1v1h-1zM17 -36h1v1h-1zM17 -37h1v1h-1zM17 -38h1v1h-1zM17 -39h1v1h-1zM17 -45h1v1h-1zM18 -48h1v1h-1z"/><path fill="#7b7bc3" d="M18 -35h1v1h-1z"/><path fill="#6c6cba" d="M19 -35h1v1h-1zM20 -41h1v1h-1zM20 -42h1v1h-1zM20 -43h1v1h-1zM21 -46h1v1h-1zM21 -47h1v1h-1z"/><path fill="#5d5ab1" d="M31 -35h1v1h-1zM31 -41h1v1h-1zM24 -48h1v1h-1z"/><path fill="#5757ae" d="M32 -35h1v1h-1zM32 -36h1v1h-1zM32 -37h1v1h-1zM32 -38h1v1h-1zM32 -39h1v1h-1zM32 -40h1v1h-1zM31 -43h1v1h-1zM30 -44h1v1h-1zM28 -45h1v1h-1zM26 -46h1v1h-1zM25 -48h1v1h-1zM25 -49h1v1h-1zM25 -50h1v1h-1z"/><path fill="#4848a8" d="M38 -35h1v1h-1zM37 -36h1v1h-1zM36 -38h1v1h-1zM35 -43h1v1h-1zM34 -45h1v1h-1zM33 -46h1v1h-1zM33 -47h1v1h-1zM33 -48h1v1h-1zM33 -49h1v1h-1zM33 -50h1v1h-1zM33 -51h1v1h-1z"/><path fill="#453fa5" d="M41 -35h1v1h-1z"/><path fill="#423ca2" d="M42 -35h1v1h-1zM42 -36h1v1h-1zM41 -37h1v1h-1zM40 -39h1v1h-1zM39 -41h1v1h-1zM39 -42h1v1h-1zM39 -43h1v1h-1z"/><path fill="#42399f" d="M44 -35h1v1h-1z"/><path fill="#b7b7de" d="M-13 -36h3v1h-3zM0 -37h1v1h-1zM8 -43h4v1h-4zM13 -45h1v1h-1zM14 -47h1v1h-1z"/><path fill="#b4b4db" d="M-10 -36h6v1h-6zM-2 -36h1v1h-1zM6 -42h1v1h-1zM12 -43h1v1h-1zM13 -44h1v1h-1zM14 -46h1v1h-1zM15 -49h1v1h-1zM15 -50h1v1h-1zM15 -51h1v1h-1z"/><path fill="#b7b7db" d="M-4 -36h2v1h-2z"/><path fill="#b1b1db" d="M-1 -36h1v1h-1zM1 -37h1v1h-1zM2 -38h1v1h-1zM5 -41h1v1h-1zM15 -48h1v1h-1z"/><path fill="#aeaedb" d="M0 -36h1v1h-1zM3 -39h1v1h-1zM7 -42h1v1h-1zM10 -42h2v1h-2z"/><path fill="#7e7ec3" d="M18 -36h1v1h-1zM18 -40h1v1h-1zM18 -41h1v1h-1zM18 -42h1v1h-1zM18 -43h1v1h-1zM18 -44h1v1h-1zM19 -47h1v1h-1z"/><path fill="#6f6fba" d="M19 -36h1v1h-1zM20 -44h1v1h-1zM21 -48h1v1h-1zM21 -49h1v1h-1z"/><path fill="#3f39a2" d="M43 -36h1v1h-1zM43 -37h1v1h-1zM42 -38h2v1h-2zM42 -39h2v1h-2zM42 -40h2v1h-2zM41 -41h4v1h-4zM41 -42h5v1h-5zM42 -43h6v1h-6zM43 -44h7v1h-7zM45 -45h6v1h-6zM47 -46h5v1h-5zM49 -47h3v1h-3zM50 -48h1v1h-1z"/><path fill="#3f399f" d="M44 -36h1v1h-1zM44 -37h1v1h-1zM44 -38h1v1h-1zM44 -39h2v1h-2zM44 -40h2v1h-2zM45 -41h3v1h-3zM46 -42h3v1h-3zM48 -43h3v1h-3zM50 -44h1v1h-1zM51 -45h1v1h-1z"/><path fill="#3f369f" d="M45 -36h1v1h-1zM45 -37h3v1h-3zM45 -38h4v1h-4zM46 -39h4v1h-4zM46 -40h5v1h-5zM48 -41h3v1h-3zM49 -42h2v1h-2zM51 -43h1v1h-1zM51 -44h1v1h-1z"/><path fill="#42339f" d="M52 -36h1v1h-1zM52 -37h1v1h-1zM52 -38h1v1h-1zM52 -39h2v1h-2zM52 -40h2v1h-2zM52 -41h2v1h-2zM53 -42h1v1h-1z"/><path fill="#c9c9e4" d="M-13 -37h3v1h-3zM-3 -38h2v1h-2zM2 -40h1v1h-1zM3 -41h1v1h-1zM4 -42h1v1h-1zM5 -43h1v1h-1zM6 -44h1v1h-1zM8 -45h1v1h-1zM11 -46h1v1h-1zM12 -47h1v1h-1zM13 -50h1v1h-1zM13 -51h1v1h-1z"/><path fill="#c6c6e4" d="M-10 -37h1v1h-1zM-1 -38h1v1h-1zM1 -39h1v1h-1zM9 -45h2v1h-2zM13 -49h1v1h-1z"/><path fill="#c3c3e1" d="M-9 -37h2v1h-2zM11 -45h1v1h-1zM12 -46h1v1h-1zM13 -48h1v1h-1z"/><path fill="#c0c0e1" d="M-7 -37h6v1h-6zM0 -38h1v1h-1zM6 -43h1v1h-1zM8 -44h3v1h-3zM12 -45h1v1h-1zM13 -47h1v1h-1zM14 -50h1v1h-1zM14 -51h1v1h-1z"/><path fill="#bdbdde" d="M-1 -37h1v1h-1zM2 -39h1v1h-1zM3 -40h1v1h-1zM4 -41h1v1h-1zM13 -46h1v1h-1zM14 -49h1v1h-1z"/><path fill="#8181c3" d="M18 -37h1v1h-1zM18 -38h1v1h-1zM18 -39h1v1h-1zM18 -45h1v1h-1zM19 -48h1v1h-1z"/><path fill="#7272bd" d="M19 -37h1v1h-1zM19 -38h1v1h-1zM19 -39h1v1h-1zM19 -40h1v1h-1zM19 -41h1v1h-1zM19 -42h1v1h-1zM20 -45h1v1h-1zM20 -46h1v1h-1zM21 -51h1v1h-1z"/><path fill="#6363b7" d="M25 -37h1v1h-1zM22 -43h1v1h-1z"/><path fill="#423fa5" d="M40 -37h1v1h-1zM39 -38h1v1h-1zM39 -39h1v1h-1zM38 -40h1v1h-1zM38 -41h1v1h-1zM38 -42h1v1h-1zM38 -43h1v1h-1zM38 -44h1v1h-1zM38 -45h2v1h-2zM39 -46h1v1h-1zM39 -47h2v1h-2zM39 -48h2v1h-2zM39 -49h2v1h-2zM40 -50h2v1h-2zM40 -51h2v1h-2z"/><path fill="#3f3ca2" d="M42 -37h1v1h-1zM41 -38h1v1h-1zM41 -39h1v1h-1zM40 -40h2v1h-2zM40 -41h1v1h-1zM40 -42h1v1h-1zM40 -43h2v1h-2zM40 -44h3v1h-3zM40 -45h5v1h-5zM41 -46h6v1h-6zM42 -47h7v1h-7zM42 -48h8v1h-8zM43 -49h7v1h-7zM44 -50h5v1h-5zM44 -51h5v1h-5z"/><path fill="#d5d5ea" d="M-13 -38h2v1h-2zM-8 -39h1v1h-1zM-1 -40h2v1h-2zM2 -41h1v1h-1zM3 -42h1v1h-1zM5 -45h1v1h-1zM6 -46h1v1h-1zM7 -47h1v1h-1zM8 -48h2v1h-2zM9 -49h2v1h-2zM10 -50h1v1h-1zM10 -51h1v1h-1z"/><path fill="#d2d2ea" d="M-11 -38h1v1h-1zM8 -47h1v1h-1z"/><path fill="#d2d2e7" d="M-10 -38h1v1h-1zM-6 -39h5v1h-5zM4 -43h1v1h-1zM7 -46h1v1h-1zM9 -47h1v1h-1zM10 -48h1v1h-1zM11 -49h1v1h-1zM11 -50h1v1h-1zM11 -51h1v1h-1z"/><path fill="#cfcfe7" d="M-9 -38h2v1h-2zM-1 -39h1v1h-1zM1 -40h1v1h-1zM5 -44h1v1h-1zM6 -45h1v1h-1zM8 -46h1v1h-1zM10 -47h1v1h-1zM11 -48h1v1h-1zM12 -50h1v1h-1zM12 -51h1v1h-1z"/><path fill="#cccce4" d="M-7 -38h4v1h-4zM0 -39h1v1h-1zM10 -46h1v1h-1zM12 -48h1v1h-1z"/><path fill="#babade" d="M1 -38h1v1h-1zM7 -43h1v1h-1zM12 -44h1v1h-1zM14 -48h1v1h-1z"/><path fill="#dbdbed" d="M-13 -39h2v1h-2zM-11 -40h2v1h-2zM-8 -41h1v1h-1zM-3 -41h4v1h-4zM-6 -42h2v1h-2zM2 -42h1v1h-1zM4 -45h1v1h-1zM4 -46h1v1h-1zM5 -47h1v1h-1zM5 -48h2v1h-2zM6 -49h1v1h-1zM6 -50h2v1h-2zM7 -51h1v1h-1z"/><path fill="#d8d8ea" d="M-11 -39h3v1h-3zM-7 -40h6v1h-6zM1 -41h1v1h-1zM4 -44h1v1h-1zM5 -46h1v1h-1zM6 -47h1v1h-1zM7 -48h1v1h-1zM7 -49h2v1h-2zM8 -50h2v1h-2zM9 -51h1v1h-1z"/><path fill="#d5d5e7" d="M-7 -39h1v1h-1z"/><path fill="#dedeed" d="M-13 -40h2v1h-2zM-13 -41h5v1h-5zM-11 -42h5v1h-5zM-4 -42h6v1h-6zM-9 -43h7v1h-7zM2 -43h1v1h-1zM-8 -44h3v1h-3zM3 -44h1v1h-1zM3 -45h1v1h-1zM3 -46h1v1h-1zM4 -47h1v1h-1zM4 -48h1v1h-1zM4 -49h2v1h-2zM5 -50h1v1h-1zM5 -51h2v1h-2z"/><path fill="#dbdbea" d="M-9 -40h2v1h-2zM-7 -41h4v1h-4zM3 -43h1v1h-1zM8 -51h1v1h-1z"/><path fill="#6969ba" d="M20 -40h1v1h-1zM21 -45h1v1h-1z"/><path fill="#6360b4" d="M30 -40h1v1h-1zM28 -43h1v1h-1z"/><path fill="#6663b7" d="M29 -41h1v1h-1z"/><path fill="#5754ae" d="M32 -41h1v1h-1zM32 -42h1v1h-1zM27 -46h1v1h-1zM26 -47h1v1h-1zM25 -51h1v1h-1z"/><path fill="#e1e1ed" d="M-13 -42h2v1h-2zM-13 -43h4v1h-4zM-2 -43h4v1h-4zM-13 -44h5v1h-5zM-5 -44h3v1h-3zM2 -44h1v1h-1zM-13 -45h9v1h-9zM2 -45h1v1h-1zM-13 -46h7v1h-7zM-13 -47h5v1h-5zM3 -47h1v1h-1zM-13 -48h3v1h-3zM3 -48h1v1h-1zM-13 -49h1v1h-1zM3 -49h1v1h-1zM4 -50h1v1h-1zM4 -51h1v1h-1z"/><path fill="#bdbde1" d="M5 -42h1v1h-1zM11 -44h1v1h-1z"/><path fill="#8787c6" d="M17 -42h1v1h-1zM17 -43h1v1h-1zM19 -50h1v1h-1zM19 -51h1v1h-1z"/><path fill="#7575bd" d="M19 -43h1v1h-1zM20 -47h1v1h-1z"/><path fill="#4545a5" d="M36 -43h1v1h-1zM36 -44h1v1h-1zM36 -45h1v1h-1zM36 -49h1v1h-1zM36 -50h1v1h-1zM36 -51h1v1h-1z"/><path fill="#e1e1f0" d="M-2 -44h4v1h-4zM-4 -45h1v1h-1zM1 -45h1v1h-1zM2 -46h1v1h-1zM2 -47h1v1h-1zM2 -48h1v1h-1zM3 -50h1v1h-1zM3 -51h1v1h-1z"/><path fill="#c3c3e4" d="M7 -44h1v1h-1z"/><path fill="#7575c0" d="M19 -44h1v1h-1z"/><path fill="#e4e4f0" d="M-3 -45h4v1h-4zM-6 -46h8v1h-8zM-8 -47h10v1h-10zM-9 -48h4v1h-4zM-2 -48h4v1h-4zM-11 -49h4v1h-4zM-1 -49h4v1h-4zM-12 -50h4v1h-4zM0 -50h3v1h-3zM-13 -51h3v1h-3zM1 -51h2v1h-2z"/><path fill="#cccce7" d="M7 -45h1v1h-1zM9 -46h1v1h-1zM11 -47h1v1h-1zM12 -49h1v1h-1z"/><path fill="#5451ab" d="M30 -45h1v1h-1zM26 -51h1v1h-1z"/><path fill="#8484c6" d="M18 -46h1v1h-1zM19 -49h1v1h-1z"/><path fill="#4e4ba8" d="M31 -46h1v1h-1zM29 -51h1v1h-1z"/><path fill="#4242a5" d="M38 -46h1v1h-1zM38 -47h1v1h-1zM38 -48h1v1h-1zM39 -50h1v1h-1zM39 -51h1v1h-1z"/><path fill="#a2a2d2" d="M16 -47h1v1h-1z"/><path fill="#9696cc" d="M17 -47h1v1h-1z"/><path fill="#5a57b1" d="M25 -47h1v1h-1z"/><path fill="#3f3fa2" d="M41 -47h1v1h-1zM42 -49h1v1h-1zM43 -50h1v1h-1zM43 -51h1v1h-1z"/><path fill="#e4e4ed" d="M-10 -48h1v1h-1zM-12 -49h1v1h-1zM-13 -50h1v1h-1z"/><path fill="#e7e7f0" d="M-5 -48h3v1h-3zM-7 -49h6v1h-6zM-8 -50h8v1h-8zM-10 -51h11v1h-11z"/><path fill="#9c9ccf" d="M17 -49h1v1h-1z"/><path fill="#6f6fbd" d="M21 -50h1v1h-1z"/></g></g></g><use href="#lakes" fill="#fff"/><use href="#land" fill="none" stroke="#000" stroke-width="1.15"/><use href="#lakes" fill="none" stroke="#000" stroke-width="1.15"/></svg><rect x="115.20" y="56.40" width="393.70" height="187.40" fill="none" stroke="#111" stroke-width="1.9"/><text x="106.80" y="249.10" class="t" text-anchor="end">25</text><text x="106.80" y="217.87" class="t" text-anchor="end">30</text><text x="106.80" y="186.63" class="t" text-anchor="end">35</text><text x="106.80" y="155.40" class="t" text-anchor="end">40</text><text x="106.80" y="124.17" class="t" text-anchor="end">45</text><text x="106.80" y="92.93" class="t" text-anchor="end">50</text><text x="106.80" y="61.70" class="t" text-anchor="end">55</text><text x="115.20" y="264.70" class="t" text-anchor="middle">20W</text><text x="198.08" y="264.70" class="t" text-anchor="middle">0</text><text x="280.97" y="264.70" class="t" text-anchor="middle">20E</text><text x="363.85" y="264.70" class="t" text-anchor="middle">40E</text><text x="446.74" y="264.70" class="t" text-anchor="middle">60E</text><path d="M115.20 243.80h-4.6M115.20 212.57h-4.6M115.20 181.33h-4.6M115.20 150.10h-4.6M115.20 118.87h-4.6M115.20 87.63h-4.6M115.20 56.40h-4.6M115.20 243.80v4.6M198.08 243.80v4.6M280.97 243.80v4.6M363.85 243.80v4.6M446.74 243.80v4.6" stroke="#111" stroke-width="1.9" fill="none"/><text x="312.05" y="289.10" class="ax" text-anchor="middle">Longitude (<tspan dx="3">°</tspan><tspan dx="3">)</tspan></text><text transform="translate(81.20 150.10) rotate(-90)" class="ax" text-anchor="middle">Latitude (<tspan dx="3">°</tspan>N)</text><svg x="583.90" y="56.30" width="394.00" height="187.80" viewBox="-20 -55 95 30" preserveAspectRatio="none"><g clip-path="url(#cland)"><g clip-path="url(#cmask)"><g filter="url(#bs)"><path fill="#f6c9b7" d="M49 -27h6v1h-6zM48 -28h7v1h-7zM47 -29h8v1h-8zM46 -30h2v1h-2zM46 -31h2v1h-2zM45 -32h3v1h-3zM44 -33h4v1h-4zM41 -34h1v1h-1zM46 -34h1v1h-1zM38 -36h1v1h-1zM34 -37h2v1h-2zM32 -38h1v1h-1zM31 -39h1v1h-1zM31 -40h1v1h-1zM30 -42h1v1h-1zM30 -43h1v1h-1zM29 -44h1v1h-1zM28 -45h1v1h-1zM-1 -46h1v1h-1zM27 -46h1v1h-1zM-4 -47h1v1h-1zM26 -47h1v1h-1zM-11 -51h1v1h-1z"/><path fill="#f6c9ba" d="M55 -27h1v1h-1zM55 -28h1v1h-1zM55 -29h1v1h-1zM48 -30h7v1h-7zM48 -31h1v1h-1zM48 -32h1v1h-1zM48 -33h1v1h-1zM45 -34h1v1h-1zM47 -34h2v1h-2zM40 -35h1v1h-1zM47 -35h1v1h-1zM36 -37h1v1h-1zM33 -38h1v1h-1zM31 -41h1v1h-1zM4 -44h1v1h-1zM25 -49h1v1h-1z"/><path fill="#f6ccbd" d="M56 -27h1v1h-1zM56 -28h1v1h-1zM56 -29h1v1h-1zM56 -30h1v1h-1zM56 -31h1v1h-1zM50 -32h6v1h-6zM50 -33h2v1h-2zM42 -34h1v1h-1zM50 -34h1v1h-1zM41 -35h1v1h-1zM50 -35h1v1h-1zM46 -36h1v1h-1zM49 -36h2v1h-2zM38 -37h1v1h-1zM47 -37h3v1h-3zM35 -38h2v1h-2zM33 -39h2v1h-2zM33 -40h1v1h-1zM32 -41h1v1h-1zM32 -42h1v1h-1zM32 -43h1v1h-1zM31 -44h1v1h-1zM2 -45h1v1h-1zM12 -47h1v1h-1zM28 -47h1v1h-1zM-6 -48h1v1h-1zM27 -48h1v1h-1zM-8 -49h1v1h-1zM14 -49h1v1h-1zM26 -49h2v1h-2zM26 -50h1v1h-1zM15 -51h1v1h-1zM26 -51h1v1h-1z"/><path fill="#f6cfc0" d="M57 -27h2v1h-2zM57 -28h2v1h-2zM57 -29h2v1h-2zM57 -30h2v1h-2zM57 -31h1v1h-1zM56 -32h1v1h-1zM52 -33h4v1h-4zM51 -34h2v1h-2zM44 -35h1v1h-1zM51 -35h1v1h-1zM40 -36h1v1h-1zM45 -36h1v1h-1zM51 -36h1v1h-1zM39 -37h1v1h-1zM46 -37h1v1h-1zM50 -37h1v1h-1zM37 -38h1v1h-1zM47 -38h1v1h-1zM50 -38h1v1h-1zM35 -39h2v1h-2zM48 -39h2v1h-2zM34 -40h2v1h-2zM33 -41h2v1h-2zM33 -42h1v1h-1zM33 -43h1v1h-1zM32 -44h1v1h-1zM3 -45h1v1h-1zM5 -45h1v1h-1zM31 -45h1v1h-1zM0 -46h1v1h-1zM8 -46h1v1h-1zM30 -46h1v1h-1zM-3 -47h1v1h-1zM11 -47h1v1h-1zM29 -47h1v1h-1zM28 -48h2v1h-2zM28 -49h1v1h-1zM14 -50h1v1h-1zM27 -50h2v1h-2zM27 -51h2v1h-2z"/><path fill="#f6cfc3" d="M59 -27h5v1h-5zM59 -28h5v1h-5zM59 -29h4v1h-4zM59 -30h3v1h-3zM58 -31h1v1h-1zM57 -32h1v1h-1zM53 -34h1v1h-1zM52 -35h1v1h-1zM47 -39h1v1h-1zM50 -39h1v1h-1zM49 -40h1v1h-1zM34 -42h1v1h-1zM33 -44h1v1h-1zM30 -47h1v1h-1zM29 -49h1v1h-1zM29 -50h1v1h-1zM29 -51h1v1h-1z"/><path fill="#f6d2c3" d="M64 -27h10v1h-10zM64 -28h10v1h-10zM63 -29h2v1h-2zM67 -29h7v1h-7zM62 -30h1v1h-1zM68 -30h6v1h-6zM59 -31h3v1h-3zM69 -31h5v1h-5zM58 -32h1v1h-1zM70 -32h4v1h-4zM56 -33h1v1h-1zM71 -33h3v1h-3zM54 -34h1v1h-1zM42 -35h1v1h-1zM44 -36h1v1h-1zM45 -37h1v1h-1zM51 -37h1v1h-1zM38 -38h1v1h-1zM46 -38h1v1h-1zM51 -38h1v1h-1zM37 -39h1v1h-1zM36 -40h1v1h-1zM48 -40h1v1h-1zM50 -40h1v1h-1zM35 -41h1v1h-1zM49 -41h2v1h-2zM34 -43h1v1h-1zM34 -44h1v1h-1zM4 -45h1v1h-1zM32 -45h2v1h-2zM1 -46h1v1h-1zM7 -46h1v1h-1zM31 -46h3v1h-3zM9 -47h2v1h-2zM31 -47h2v1h-2zM11 -48h1v1h-1zM30 -48h3v1h-3zM30 -49h3v1h-3zM-9 -50h1v1h-1zM13 -50h1v1h-1zM30 -50h3v1h-3zM30 -51h3v1h-3z"/><path fill="#ed7b51" d="M-12 -28h4v1h-4zM-12 -29h5v1h-5zM-13 -30h6v1h-6zM-13 -31h3v1h-3zM-9 -31h3v1h-3zM-7 -32h1v1h-1zM-5 -33h1v1h-1z"/><path fill="#f0bda5" d="M34 -28h1v1h-1zM33 -30h1v1h-1zM33 -31h1v1h-1zM32 -32h1v1h-1zM31 -33h1v1h-1zM16 -45h1v1h-1zM18 -46h3v1h-3z"/><path fill="#f3bda8" d="M35 -28h1v1h-1zM34 -31h1v1h-1zM33 -32h1v1h-1zM32 -33h1v1h-1zM30 -34h1v1h-1zM29 -36h1v1h-1zM28 -37h1v1h-1zM28 -38h1v1h-1zM27 -39h1v1h-1zM26 -41h1v1h-1zM25 -42h1v1h-1zM5 -43h1v1h-1zM24 -43h1v1h-1zM9 -44h4v1h-4zM23 -44h1v1h-1zM15 -45h1v1h-1zM22 -45h1v1h-1zM21 -46h1v1h-1z"/><path fill="#f3c0a8" d="M36 -28h1v1h-1zM35 -29h2v1h-2zM35 -30h1v1h-1zM24 -44h1v1h-1zM23 -45h1v1h-1zM16 -46h1v1h-1zM19 -47h1v1h-1z"/><path fill="#ed7b54" d="M-7 -29h1v1h-1zM-7 -30h2v1h-2zM-6 -31h1v1h-1zM-6 -32h2v1h-2zM-4 -33h1v1h-1zM-2 -34h1v1h-1z"/><path fill="#f0b79f" d="M30 -29h1v1h-1zM29 -30h2v1h-2zM29 -31h2v1h-2zM29 -32h1v1h-1zM28 -34h1v1h-1zM26 -38h1v1h-1zM25 -39h1v1h-1zM24 -40h1v1h-1zM23 -41h1v1h-1zM22 -42h1v1h-1zM7 -43h1v1h-1zM11 -43h4v1h-4zM20 -43h2v1h-2zM17 -44h3v1h-3z"/><path fill="#f0b7a2" d="M31 -29h1v1h-1zM31 -30h1v1h-1zM29 -33h1v1h-1zM28 -35h1v1h-1zM27 -37h1v1h-1zM16 -44h1v1h-1zM20 -44h1v1h-1z"/><path fill="#f0baa2" d="M32 -29h1v1h-1zM32 -30h1v1h-1zM31 -31h1v1h-1zM30 -32h1v1h-1zM29 -34h1v1h-1zM23 -42h1v1h-1zM22 -43h1v1h-1zM15 -44h1v1h-1zM21 -44h1v1h-1zM17 -45h4v1h-4z"/><path fill="#f0baa5" d="M33 -29h1v1h-1zM32 -31h1v1h-1zM31 -32h1v1h-1zM30 -33h1v1h-1zM14 -44h1v1h-1zM22 -44h1v1h-1zM21 -45h1v1h-1z"/><path fill="#f0bda8" d="M34 -29h1v1h-1zM34 -30h1v1h-1zM17 -46h1v1h-1z"/><path fill="#f3c0ab" d="M37 -29h2v1h-2zM36 -30h4v1h-4zM35 -31h5v1h-5zM34 -32h3v1h-3zM33 -33h2v1h-2zM31 -34h2v1h-2zM30 -35h1v1h-1zM29 -37h1v1h-1zM28 -39h1v1h-1zM27 -40h1v1h-1zM27 -41h1v1h-1zM26 -42h1v1h-1zM4 -43h1v1h-1zM25 -43h2v1h-2zM2 -44h1v1h-1zM8 -44h1v1h-1zM25 -44h1v1h-1zM0 -45h1v1h-1zM14 -45h1v1h-1zM24 -45h1v1h-1zM15 -46h1v1h-1zM22 -46h1v1h-1zM17 -47h2v1h-2zM20 -47h2v1h-2z"/><path fill="#f6d2c6" d="M65 -29h2v1h-2zM63 -30h2v1h-2zM66 -30h2v1h-2zM62 -31h1v1h-1zM67 -31h2v1h-2zM59 -32h2v1h-2zM69 -32h1v1h-1zM70 -33h1v1h-1zM55 -34h1v1h-1zM71 -34h3v1h-3zM53 -35h1v1h-1zM73 -35h1v1h-1zM41 -36h1v1h-1zM52 -36h1v1h-1zM46 -39h1v1h-1zM51 -39h1v1h-1zM47 -40h1v1h-1zM48 -41h1v1h-1zM35 -42h1v1h-1zM49 -42h2v1h-2zM35 -43h1v1h-1zM34 -45h1v1h-1zM34 -46h1v1h-1zM-2 -47h1v1h-1zM33 -47h2v1h-2zM33 -48h2v1h-2zM12 -49h1v1h-1zM33 -49h2v1h-2zM33 -50h2v1h-2zM33 -51h2v1h-2z"/><path fill="#ed7e54" d="M-5 -30h1v1h-1zM-5 -31h1v1h-1zM-4 -32h1v1h-1zM-3 -33h1v1h-1z"/><path fill="#ed7e57" d="M-4 -30h1v1h-1zM-4 -31h2v1h-2zM-3 -32h1v1h-1zM-2 -33h1v1h-1zM-1 -34h1v1h-1zM0 -35h1v1h-1zM1 -36h1v1h-1z"/><path fill="#f0b49c" d="M28 -30h1v1h-1zM27 -31h2v1h-2zM28 -32h1v1h-1zM28 -33h1v1h-1zM27 -36h1v1h-1zM26 -37h1v1h-1zM24 -39h1v1h-1zM23 -40h1v1h-1zM22 -41h1v1h-1zM19 -42h3v1h-3zM8 -43h3v1h-3zM15 -43h4v1h-4z"/><path fill="#f6ccba" d="M55 -30h1v1h-1zM49 -31h7v1h-7zM49 -32h1v1h-1zM49 -33h1v1h-1zM44 -34h1v1h-1zM49 -34h1v1h-1zM45 -35h2v1h-2zM48 -35h2v1h-2zM39 -36h1v1h-1zM47 -36h2v1h-2zM37 -37h1v1h-1zM34 -38h1v1h-1zM32 -39h1v1h-1zM32 -40h1v1h-1zM31 -42h1v1h-1zM31 -43h1v1h-1zM30 -44h1v1h-1zM29 -45h1v1h-1zM28 -46h1v1h-1zM27 -47h1v1h-1zM26 -48h1v1h-1zM15 -50h1v1h-1zM25 -50h1v1h-1zM25 -51h1v1h-1z"/><path fill="#f6d5c6" d="M65 -30h1v1h-1zM61 -32h1v1h-1zM68 -32h1v1h-1zM69 -33h1v1h-1zM70 -34h1v1h-1zM71 -35h2v1h-2zM40 -37h1v1h-1zM52 -37h1v1h-1zM45 -38h1v1h-1zM51 -40h1v1h-1zM36 -41h1v1h-1zM47 -41h1v1h-1zM51 -41h1v1h-1zM35 -44h1v1h-1zM35 -45h1v1h-1zM6 -46h1v1h-1zM35 -46h2v1h-2zM8 -47h1v1h-1zM35 -47h2v1h-2zM-5 -48h1v1h-1zM10 -48h1v1h-1zM35 -48h3v1h-3zM35 -49h3v1h-3zM35 -50h4v1h-4zM13 -51h1v1h-1zM35 -51h4v1h-4z"/><path fill="#ed7851" d="M-10 -31h1v1h-1zM-13 -32h6v1h-6zM-13 -33h8v1h-8zM-3 -34h1v1h-1zM-1 -35h1v1h-1z"/><path fill="#ed815a" d="M-2 -31h2v1h-2zM-1 -32h1v1h-1zM-1 -33h1v1h-1zM0 -34h1v1h-1zM3 -39h1v1h-1z"/><path fill="#f0845d" d="M0 -31h1v1h-1z"/><path fill="#f3c3ae" d="M40 -31h1v1h-1zM37 -32h4v1h-4zM35 -33h4v1h-4zM33 -34h3v1h-3zM31 -35h2v1h-2zM30 -36h1v1h-1zM29 -38h1v1h-1zM29 -39h1v1h-1zM28 -41h1v1h-1zM28 -42h1v1h-1zM27 -43h1v1h-1zM26 -44h1v1h-1zM12 -45h2v1h-2zM25 -45h1v1h-1zM16 -47h1v1h-1zM22 -47h1v1h-1zM17 -48h2v1h-2zM20 -48h2v1h-2z"/><path fill="#f6d5c9" d="M63 -31h4v1h-4zM62 -32h1v1h-1zM67 -32h1v1h-1zM57 -33h2v1h-2zM68 -33h1v1h-1zM69 -34h1v1h-1zM54 -35h1v1h-1zM70 -35h1v1h-1zM42 -36h2v1h-2zM53 -36h1v1h-1zM71 -36h3v1h-3zM44 -37h1v1h-1zM71 -37h3v1h-3zM39 -38h1v1h-1zM52 -38h1v1h-1zM71 -38h3v1h-3zM38 -39h1v1h-1zM45 -39h1v1h-1zM71 -39h3v1h-3zM37 -40h1v1h-1zM46 -40h1v1h-1zM71 -40h3v1h-3zM72 -41h2v1h-2zM36 -42h1v1h-1zM47 -42h2v1h-2zM51 -42h1v1h-1zM72 -42h2v1h-2zM36 -43h1v1h-1zM48 -43h4v1h-4zM73 -43h1v1h-1zM73 -44h1v1h-1zM36 -45h1v1h-1zM2 -46h1v1h-1zM5 -46h1v1h-1zM37 -46h1v1h-1zM-1 -47h1v1h-1zM7 -47h1v1h-1zM37 -47h2v1h-2zM38 -48h2v1h-2zM11 -49h1v1h-1zM38 -49h3v1h-3zM12 -50h1v1h-1zM39 -50h3v1h-3zM39 -51h3v1h-3z"/><path fill="#ed8157" d="M-2 -32h1v1h-1zM2 -37h1v1h-1z"/><path fill="#ed845d" d="M0 -32h1v1h-1zM0 -33h1v1h-1zM1 -35h1v1h-1zM2 -36h1v1h-1zM3 -38h1v1h-1z"/><path fill="#f08760" d="M1 -32h1v1h-1zM1 -33h1v1h-1zM2 -35h1v1h-1z"/><path fill="#f08a63" d="M2 -32h1v1h-1zM2 -33h1v1h-1zM3 -34h1v1h-1zM3 -35h1v1h-1zM3 -36h1v1h-1zM4 -38h1v1h-1z"/><path fill="#f08a66" d="M3 -32h1v1h-1zM3 -33h1v1h-1zM4 -36h1v1h-1zM4 -37h1v1h-1z"/><path fill="#f08d66" d="M4 -32h2v1h-2zM4 -33h3v1h-3zM4 -34h3v1h-3zM4 -35h2v1h-2zM5 -36h1v1h-1zM5 -37h1v1h-1z"/><path fill="#f0a287" d="M24 -32h1v1h-1zM24 -33h1v1h-1zM24 -34h1v1h-1zM23 -35h1v1h-1zM-10 -49h1v1h-1z"/><path fill="#f0a88d" d="M25 -32h1v1h-1zM25 -35h1v1h-1zM24 -36h1v1h-1zM20 -37h4v1h-4zM18 -38h1v1h-1zM13 -40h2v1h-2zM11 -41h1v1h-1zM3 -42h1v1h-1zM-5 -46h1v1h-1z"/><path fill="#f0ae93" d="M26 -32h1v1h-1zM20 -39h3v1h-3zM17 -40h2v1h-2zM13 -41h4v1h-4zM6 -42h1v1h-1zM10 -42h1v1h-1z"/><path fill="#f0b199" d="M27 -32h1v1h-1zM27 -33h1v1h-1zM27 -34h1v1h-1zM27 -35h1v1h-1zM22 -40h1v1h-1zM19 -41h2v1h-2zM4 -42h2v1h-2zM12 -42h6v1h-6z"/><path fill="#f6d8cc" d="M63 -32h4v1h-4zM59 -33h2v1h-2zM67 -33h1v1h-1zM68 -34h1v1h-1zM55 -35h1v1h-1zM68 -35h2v1h-2zM54 -36h1v1h-1zM69 -36h2v1h-2zM41 -37h1v1h-1zM43 -37h1v1h-1zM53 -37h1v1h-1zM69 -37h2v1h-2zM40 -38h1v1h-1zM44 -38h1v1h-1zM68 -38h3v1h-3zM39 -39h1v1h-1zM52 -39h1v1h-1zM68 -39h3v1h-3zM38 -40h1v1h-1zM45 -40h1v1h-1zM52 -40h1v1h-1zM68 -40h3v1h-3zM37 -41h1v1h-1zM46 -41h1v1h-1zM52 -41h1v1h-1zM68 -41h3v1h-3zM46 -42h1v1h-1zM52 -42h1v1h-1zM69 -42h3v1h-3zM47 -43h1v1h-1zM52 -43h1v1h-1zM69 -43h3v1h-3zM48 -44h2v1h-2zM52 -44h1v1h-1zM70 -44h3v1h-3zM37 -45h1v1h-1zM50 -45h2v1h-2zM70 -45h3v1h-3zM38 -46h1v1h-1zM6 -47h1v1h-1zM39 -47h2v1h-2zM8 -48h1v1h-1zM40 -48h2v1h-2zM9 -49h2v1h-2zM41 -49h3v1h-3zM11 -50h1v1h-1zM42 -50h3v1h-3zM11 -51h1v1h-1zM42 -51h4v1h-4z"/><path fill="#f08d69" d="M7 -33h4v1h-4zM7 -34h3v1h-3zM6 -35h3v1h-3zM6 -36h2v1h-2zM6 -37h1v1h-1zM5 -38h1v1h-1z"/><path fill="#f09069" d="M11 -33h1v1h-1zM10 -34h1v1h-1zM9 -35h2v1h-2zM8 -36h2v1h-2zM7 -37h1v1h-1z"/><path fill="#ed906c" d="M12 -33h1v1h-1z"/><path fill="#ed9372" d="M13 -33h1v1h-1zM12 -35h1v1h-1zM7 -39h1v1h-1zM3 -41h1v1h-1z"/><path fill="#ed9675" d="M14 -33h1v1h-1zM13 -35h1v1h-1zM12 -36h1v1h-1zM9 -39h1v1h-1z"/><path fill="#ed9c7b" d="M15 -33h1v1h-1zM14 -35h1v1h-1zM9 -40h1v1h-1z"/><path fill="#ed9f7e" d="M16 -33h1v1h-1zM15 -35h1v1h-1z"/><path fill="#ed9f81" d="M17 -33h1v1h-1zM16 -34h1v1h-1zM16 -35h1v1h-1zM15 -36h1v1h-1zM14 -37h1v1h-1zM13 -38h1v1h-1zM10 -40h1v1h-1z"/><path fill="#eda284" d="M18 -33h1v1h-1zM20 -33h1v1h-1zM17 -34h1v1h-1zM21 -34h3v1h-3zM17 -35h1v1h-1zM16 -36h1v1h-1zM15 -37h1v1h-1zM14 -38h1v1h-1zM12 -39h1v1h-1zM11 -40h1v1h-1z"/><path fill="#eda287" d="M19 -33h1v1h-1zM18 -34h3v1h-3zM21 -35h2v1h-2z"/><path fill="#ed9f84" d="M21 -33h3v1h-3z"/><path fill="#f0a58a" d="M25 -33h1v1h-1zM25 -34h1v1h-1zM24 -35h1v1h-1zM22 -36h2v1h-2zM12 -40h1v1h-1zM10 -41h1v1h-1zM-3 -45h1v1h-1zM-7 -47h1v1h-1z"/><path fill="#f0ab90" d="M26 -33h1v1h-1zM26 -34h1v1h-1zM25 -36h1v1h-1zM24 -37h1v1h-1zM19 -38h4v1h-4zM17 -39h2v1h-2zM15 -40h2v1h-2zM12 -41h1v1h-1zM7 -42h1v1h-1zM9 -42h1v1h-1zM-11 -50h1v1h-1z"/><path fill="#f3c3b1" d="M39 -33h1v1h-1zM36 -34h2v1h-2zM33 -35h1v1h-1zM31 -36h1v1h-1zM30 -37h1v1h-1zM29 -40h1v1h-1zM28 -43h1v1h-1zM27 -44h1v1h-1zM-2 -46h1v1h-1zM14 -46h1v1h-1zM24 -46h1v1h-1zM23 -47h1v1h-1zM22 -48h1v1h-1zM18 -49h4v1h-4z"/><path fill="#f3c6b1" d="M40 -33h1v1h-1zM38 -34h1v1h-1zM34 -35h3v1h-3zM30 -38h1v1h-1zM29 -41h1v1h-1zM6 -44h1v1h-1zM10 -45h2v1h-2zM26 -45h1v1h-1zM25 -46h1v1h-1zM15 -47h1v1h-1zM16 -48h1v1h-1zM23 -48h1v1h-1zM17 -49h1v1h-1zM22 -49h1v1h-1z"/><path fill="#f3c6b4" d="M41 -33h1v1h-1zM39 -34h2v1h-2zM37 -35h2v1h-2zM32 -36h5v1h-5zM31 -37h1v1h-1zM31 -38h1v1h-1zM30 -39h1v1h-1zM30 -40h1v1h-1zM29 -42h1v1h-1zM29 -43h1v1h-1zM3 -44h1v1h-1zM28 -44h1v1h-1zM1 -45h1v1h-1zM9 -45h1v1h-1zM27 -45h1v1h-1zM13 -46h1v1h-1zM26 -46h1v1h-1zM24 -47h2v1h-2zM24 -48h1v1h-1zM23 -49h1v1h-1zM17 -50h7v1h-7zM18 -51h5v1h-5z"/><path fill="#f9d8cc" d="M61 -33h1v1h-1zM52 -45h1v1h-1zM0 -47h1v1h-1zM-4 -48h1v1h-1z"/><path fill="#f9d8cf" d="M62 -33h1v1h-1zM53 -43h7v1h-7zM53 -44h8v1h-8zM54 -45h8v1h-8zM54 -46h8v1h-8zM55 -47h7v1h-7z"/><path fill="#f9dbcf" d="M63 -33h3v1h-3zM57 -34h1v1h-1zM66 -34h1v1h-1zM56 -35h1v1h-1zM67 -35h1v1h-1zM55 -36h1v1h-1zM67 -36h1v1h-1zM54 -37h1v1h-1zM43 -38h1v1h-1zM54 -38h1v1h-1zM66 -38h1v1h-1zM53 -39h1v1h-1zM53 -40h1v1h-1zM53 -41h1v1h-1zM53 -42h4v1h-4zM66 -42h1v1h-1zM60 -43h1v1h-1zM61 -44h1v1h-1zM67 -44h1v1h-1zM62 -45h1v1h-1zM48 -46h2v1h-2zM62 -46h1v1h-1zM1 -47h4v1h-4zM43 -47h1v1h-1zM50 -47h2v1h-2zM-3 -48h1v1h-1zM45 -48h3v1h-3zM46 -49h3v1h-3zM-8 -50h1v1h-1zM47 -50h2v1h-2zM48 -51h1v1h-1z"/><path fill="#f6d8cf" d="M66 -33h1v1h-1zM67 -34h1v1h-1zM68 -36h1v1h-1zM42 -37h1v1h-1zM68 -37h1v1h-1zM53 -38h1v1h-1zM67 -39h1v1h-1zM67 -40h1v1h-1zM67 -41h1v1h-1zM37 -42h1v1h-1zM68 -42h1v1h-1zM68 -43h1v1h-1zM69 -44h1v1h-1zM49 -45h1v1h-1zM39 -46h1v1h-1zM51 -46h1v1h-1zM42 -48h1v1h-1zM45 -50h1v1h-1zM46 -51h1v1h-1z"/><path fill="#ea754e" d="M-13 -34h3v1h-3zM-6 -34h2v1h-2zM-10 -47h1v1h-1z"/><path fill="#ea754b" d="M-10 -34h4v1h-4zM-2 -35h1v1h-1zM2 -40h1v1h-1zM-6 -44h1v1h-1zM-9 -46h1v1h-1z"/><path fill="#ed784e" d="M-4 -34h1v1h-1z"/><path fill="#ed8760" d="M1 -34h1v1h-1zM3 -37h1v1h-1z"/><path fill="#f08763" d="M2 -34h1v1h-1z"/><path fill="#f0906c" d="M11 -34h1v1h-1zM11 -35h1v1h-1zM10 -36h1v1h-1zM8 -37h2v1h-2zM6 -38h2v1h-2zM5 -39h1v1h-1z"/><path fill="#ed936f" d="M12 -34h1v1h-1zM11 -36h1v1h-1zM10 -37h1v1h-1zM9 -38h1v1h-1z"/><path fill="#ed9672" d="M13 -34h1v1h-1zM11 -37h1v1h-1zM10 -38h1v1h-1zM8 -39h1v1h-1z"/><path fill="#ed9978" d="M14 -34h1v1h-1zM13 -36h1v1h-1zM12 -37h1v1h-1zM11 -38h1v1h-1zM10 -39h1v1h-1zM6 -40h2v1h-2zM-2 -44h1v1h-1zM-6 -46h1v1h-1z"/><path fill="#ed9c7e" d="M15 -34h1v1h-1zM14 -36h1v1h-1zM13 -37h1v1h-1zM12 -38h1v1h-1zM11 -39h1v1h-1z"/><path fill="#f6d8c9" d="M56 -34h1v1h-1zM36 -44h1v1h-1zM3 -46h2v1h-2zM9 -48h1v1h-1zM12 -51h1v1h-1z"/><path fill="#f9dbd2" d="M58 -34h1v1h-1zM62 -34h4v1h-4zM64 -35h3v1h-3zM65 -36h2v1h-2zM55 -37h1v1h-1zM65 -37h2v1h-2zM41 -38h2v1h-2zM55 -38h1v1h-1zM65 -38h1v1h-1zM40 -39h1v1h-1zM54 -39h2v1h-2zM65 -39h1v1h-1zM39 -40h1v1h-1zM44 -40h1v1h-1zM54 -40h2v1h-2zM64 -40h2v1h-2zM54 -41h4v1h-4zM64 -41h2v1h-2zM57 -42h4v1h-4zM63 -42h3v1h-3zM61 -43h6v1h-6zM62 -44h5v1h-5zM46 -45h1v1h-1zM63 -45h5v1h-5zM41 -46h1v1h-1zM45 -46h3v1h-3zM63 -46h3v1h-3zM44 -47h6v1h-6zM48 -48h3v1h-3zM-6 -49h1v1h-1zM7 -49h1v1h-1zM49 -49h1v1h-1z"/><path fill="#f9ded2" d="M59 -34h3v1h-3zM63 -35h1v1h-1zM56 -36h1v1h-1zM64 -36h1v1h-1zM64 -37h1v1h-1zM64 -38h1v1h-1zM43 -39h1v1h-1zM64 -39h1v1h-1zM56 -40h1v1h-1zM44 -41h1v1h-1zM63 -41h1v1h-1zM38 -42h1v1h-1zM61 -42h2v1h-2zM45 -43h1v1h-1zM45 -44h1v1h-1zM39 -45h1v1h-1zM45 -45h1v1h-1zM42 -46h3v1h-3zM-2 -48h1v1h-1zM5 -48h1v1h-1zM6 -49h1v1h-1zM8 -50h1v1h-1zM9 -51h1v1h-1z"/><path fill="#ea7248" d="M-13 -35h1v1h-1zM-4 -35h2v1h-2zM-1 -36h1v1h-1zM2 -39h1v1h-1zM-8 -45h1v1h-1zM-12 -48h1v1h-1z"/><path fill="#ea6f48" d="M-12 -35h2v1h-2zM-11 -47h1v1h-1z"/><path fill="#ea6f45" d="M-10 -35h6v1h-6z"/><path fill="#eda587" d="M18 -35h3v1h-3zM17 -36h1v1h-1zM16 -37h1v1h-1zM15 -38h1v1h-1zM13 -39h1v1h-1z"/><path fill="#f0ab93" d="M26 -35h1v1h-1zM23 -38h1v1h-1zM19 -39h1v1h-1zM0 -44h1v1h-1z"/><path fill="#f3bda5" d="M29 -35h1v1h-1zM26 -40h1v1h-1zM25 -41h1v1h-1zM13 -44h1v1h-1z"/><path fill="#f3c9b7" d="M39 -35h1v1h-1zM37 -36h1v1h-1zM33 -37h1v1h-1zM5 -44h1v1h-1zM8 -45h1v1h-1zM12 -46h1v1h-1zM25 -48h1v1h-1zM24 -49h1v1h-1zM16 -50h1v1h-1zM24 -50h1v1h-1zM17 -51h1v1h-1zM23 -51h2v1h-2z"/><path fill="#f9ded5" d="M57 -35h1v1h-1zM61 -35h2v1h-2zM57 -36h1v1h-1zM62 -36h2v1h-2zM56 -37h1v1h-1zM63 -37h1v1h-1zM56 -38h1v1h-1zM63 -38h1v1h-1zM41 -39h2v1h-2zM56 -39h2v1h-2zM63 -39h1v1h-1zM40 -40h1v1h-1zM43 -40h1v1h-1zM57 -40h2v1h-2zM63 -40h1v1h-1zM39 -41h1v1h-1zM58 -41h5v1h-5zM44 -42h1v1h-1zM38 -43h1v1h-1zM44 -43h1v1h-1zM38 -44h1v1h-1zM44 -44h1v1h-1zM40 -45h1v1h-1zM43 -45h2v1h-2zM-1 -48h2v1h-2zM3 -48h2v1h-2zM-5 -49h1v1h-1zM5 -49h1v1h-1zM6 -50h2v1h-2zM-9 -51h1v1h-1zM7 -51h2v1h-2z"/><path fill="#f9e1d8" d="M58 -35h3v1h-3zM58 -36h4v1h-4zM57 -37h2v1h-2zM61 -37h2v1h-2zM57 -38h2v1h-2zM61 -38h2v1h-2zM58 -39h2v1h-2zM61 -39h2v1h-2zM41 -40h2v1h-2zM59 -40h4v1h-4zM40 -41h4v1h-4zM39 -42h1v1h-1zM43 -42h1v1h-1zM39 -43h1v1h-1zM43 -43h1v1h-1zM39 -44h2v1h-2zM42 -44h2v1h-2zM-4 -49h2v1h-2zM3 -49h2v1h-2zM-6 -50h1v1h-1zM4 -50h2v1h-2zM-8 -51h1v1h-1zM5 -51h2v1h-2z"/><path fill="#e76942" d="M-13 -36h1v1h-1z"/><path fill="#e7693f" d="M-12 -36h5v1h-5zM-3 -36h1v1h-1zM1 -40h1v1h-1zM-13 -43h2v1h-2zM-6 -43h1v1h-1zM-13 -44h5v1h-5z"/><path fill="#e7693c" d="M-7 -36h4v1h-4zM-11 -43h1v1h-1z"/><path fill="#ea6c42" d="M-2 -36h1v1h-1z"/><path fill="#ea784e" d="M0 -36h1v1h-1zM1 -37h1v1h-1z"/><path fill="#eda58a" d="M18 -36h4v1h-4zM17 -37h1v1h-1zM16 -38h1v1h-1zM14 -39h1v1h-1z"/><path fill="#f0ae96" d="M26 -36h1v1h-1zM25 -37h1v1h-1zM24 -38h1v1h-1zM19 -40h2v1h-2zM17 -41h1v1h-1zM2 -43h1v1h-1zM-2 -45h1v1h-1z"/><path fill="#f3baa5" d="M28 -36h1v1h-1zM27 -38h1v1h-1zM24 -42h1v1h-1zM3 -43h1v1h-1zM23 -43h1v1h-1zM-9 -49h1v1h-1z"/><path fill="#e7633c" d="M-13 -37h1v1h-1z"/><path fill="#e76339" d="M-12 -37h3v1h-3zM0 -38h1v1h-1zM-13 -40h2v1h-2zM-12 -41h2v1h-2zM-9 -42h1v1h-1zM-5 -42h1v1h-1z"/><path fill="#e76336" d="M-9 -37h2v1h-2zM-2 -37h1v1h-1zM-10 -41h1v1h-1zM-8 -42h3v1h-3z"/><path fill="#e76036" d="M-7 -37h1v1h-1zM-12 -38h3v1h-3zM-12 -39h2v1h-2zM-11 -40h2v1h-2zM-9 -41h1v1h-1z"/><path fill="#e76033" d="M-6 -37h4v1h-4zM-9 -38h1v1h-1zM-10 -39h1v1h-1z"/><path fill="#e7663c" d="M-1 -37h1v1h-1zM1 -39h1v1h-1zM-13 -41h1v1h-1zM-1 -41h1v1h-1zM-13 -42h3v1h-3zM-4 -42h1v1h-1zM-10 -43h4v1h-4z"/><path fill="#ea6f42" d="M0 -37h1v1h-1zM1 -38h1v1h-1z"/><path fill="#eda88a" d="M18 -37h1v1h-1zM15 -39h1v1h-1z"/><path fill="#eda88d" d="M19 -37h1v1h-1zM17 -38h1v1h-1zM16 -39h1v1h-1z"/><path fill="#f3c9b4" d="M32 -37h1v1h-1zM14 -47h1v1h-1zM15 -48h1v1h-1zM16 -49h1v1h-1z"/><path fill="#f9e1db" d="M59 -37h2v1h-2zM59 -38h1v1h-1zM60 -39h1v1h-1zM40 -42h1v1h-1zM41 -44h1v1h-1zM-2 -49h1v1h-1zM2 -49h1v1h-1z"/><path fill="#f6dbcf" d="M67 -37h1v1h-1zM67 -38h1v1h-1zM44 -39h1v1h-1zM66 -39h1v1h-1zM66 -40h1v1h-1zM38 -41h1v1h-1zM45 -41h1v1h-1zM66 -41h1v1h-1zM67 -42h1v1h-1zM37 -43h1v1h-1zM46 -43h1v1h-1zM67 -43h1v1h-1zM37 -44h1v1h-1zM47 -44h1v1h-1zM38 -45h1v1h-1zM47 -45h2v1h-2zM50 -46h1v1h-1zM5 -47h1v1h-1zM41 -47h2v1h-2zM6 -48h2v1h-2zM43 -48h2v1h-2zM8 -49h1v1h-1zM44 -49h2v1h-2zM9 -50h2v1h-2zM46 -50h1v1h-1zM10 -51h1v1h-1zM47 -51h1v1h-1z"/><path fill="#e76039" d="M-13 -38h1v1h-1zM-13 -39h1v1h-1z"/><path fill="#e45d33" d="M-8 -38h1v1h-1zM-9 -39h1v1h-1z"/><path fill="#e45d30" d="M-7 -38h1v1h-1zM-1 -38h1v1h-1zM-8 -39h1v1h-1zM-8 -40h2v1h-2zM-1 -40h1v1h-1zM-7 -41h4v1h-4z"/><path fill="#e45a2d" d="M-6 -38h2v1h-2zM-2 -38h1v1h-1zM-7 -39h2v1h-2zM-1 -39h1v1h-1zM-6 -40h1v1h-1zM-2 -40h1v1h-1z"/><path fill="#e45a2a" d="M-4 -38h2v1h-2zM-5 -40h3v1h-3z"/><path fill="#ea7851" d="M2 -38h1v1h-1zM-7 -45h1v1h-1zM-11 -48h1v1h-1z"/><path fill="#f0936f" d="M8 -38h1v1h-1zM6 -39h1v1h-1z"/><path fill="#f0b499" d="M25 -38h1v1h-1zM21 -41h1v1h-1zM18 -42h1v1h-1z"/><path fill="#f6cfbd" d="M48 -38h2v1h-2zM6 -45h1v1h-1zM30 -45h1v1h-1zM9 -46h1v1h-1zM29 -46h1v1h-1zM13 -48h1v1h-1z"/><path fill="#f9e4db" d="M60 -38h1v1h-1zM41 -42h2v1h-2zM40 -43h3v1h-3zM-1 -49h3v1h-3zM-5 -50h2v1h-2zM2 -50h2v1h-2zM-7 -51h1v1h-1zM3 -51h2v1h-2z"/><path fill="#e4572a" d="M-5 -39h4v1h-4z"/><path fill="#e46033" d="M0 -39h1v1h-1zM-9 -40h1v1h-1zM-8 -41h1v1h-1zM-3 -41h1v1h-1z"/><path fill="#ed8a66" d="M4 -39h1v1h-1zM-7 -46h1v1h-1z"/><path fill="#f0b196" d="M23 -39h1v1h-1zM21 -40h1v1h-1zM18 -41h1v1h-1zM11 -42h1v1h-1z"/><path fill="#f3baa2" d="M26 -39h1v1h-1zM25 -40h1v1h-1zM24 -41h1v1h-1zM6 -43h1v1h-1z"/><path fill="#e46036" d="M0 -40h1v1h-1z"/><path fill="#ea845d" d="M3 -40h1v1h-1zM2 -41h1v1h-1z"/><path fill="#ed906f" d="M4 -40h1v1h-1z"/><path fill="#f09675" d="M5 -40h1v1h-1z"/><path fill="#ed997b" d="M8 -40h1v1h-1zM2 -42h1v1h-1zM-4 -45h1v1h-1z"/><path fill="#f3c0ae" d="M28 -40h1v1h-1zM27 -42h1v1h-1zM7 -44h1v1h-1zM23 -46h1v1h-1zM-5 -47h1v1h-1zM19 -48h1v1h-1z"/><path fill="#e46336" d="M-2 -41h1v1h-1z"/><path fill="#e76c42" d="M0 -41h1v1h-1zM-13 -45h5v1h-5zM-13 -46h3v1h-3zM-13 -47h1v1h-1z"/><path fill="#e7754e" d="M1 -41h1v1h-1zM-1 -42h1v1h-1z"/><path fill="#f09f81" d="M4 -41h1v1h-1z"/><path fill="#f0a284" d="M5 -41h2v1h-2zM8 -41h2v1h-2zM1 -43h1v1h-1zM-1 -44h1v1h-1z"/><path fill="#f09f84" d="M7 -41h1v1h-1z"/><path fill="#f6c6b4" d="M30 -41h1v1h-1z"/><path fill="#f6d5cc" d="M71 -41h1v1h-1zM72 -43h1v1h-1zM50 -44h2v1h-2z"/><path fill="#e76639" d="M-10 -42h1v1h-1z"/><path fill="#e76c3f" d="M-3 -42h1v1h-1zM-8 -44h1v1h-1z"/><path fill="#e76f45" d="M-2 -42h1v1h-1zM-5 -43h1v1h-1zM-7 -44h1v1h-1zM-10 -46h1v1h-1zM-12 -47h1v1h-1zM-13 -48h1v1h-1z"/><path fill="#ea7e57" d="M0 -42h1v1h-1z"/><path fill="#ea8a66" d="M1 -42h1v1h-1z"/><path fill="#f0ab8d" d="M8 -42h1v1h-1z"/><path fill="#f6dbd2" d="M45 -42h1v1h-1zM46 -44h1v1h-1zM40 -46h1v1h-1z"/><path fill="#e7754b" d="M-4 -43h1v1h-1z"/><path fill="#ea7b54" d="M-3 -43h1v1h-1zM-5 -44h1v1h-1z"/><path fill="#ea815d" d="M-2 -43h1v1h-1zM-6 -45h1v1h-1zM-9 -47h1v1h-1z"/><path fill="#ea8a69" d="M-1 -43h1v1h-1z"/><path fill="#ed9375" d="M0 -43h1v1h-1z"/><path fill="#f0b79c" d="M19 -43h1v1h-1z"/><path fill="#ea8460" d="M-4 -44h1v1h-1z"/><path fill="#ed8d6c" d="M-3 -44h1v1h-1zM-5 -45h1v1h-1z"/><path fill="#f3b79f" d="M1 -44h1v1h-1z"/><path fill="#f3b7a2" d="M-1 -45h1v1h-1z"/><path fill="#f3ccba" d="M7 -45h1v1h-1zM10 -46h2v1h-2zM13 -47h1v1h-1zM14 -48h1v1h-1z"/><path fill="#f9e1d5" d="M41 -45h2v1h-2zM1 -48h2v1h-2zM-7 -50h1v1h-1z"/><path fill="#ea7b57" d="M-8 -46h1v1h-1zM-12 -49h1v1h-1z"/><path fill="#f3b19c" d="M-4 -46h1v1h-1z"/><path fill="#f3baa8" d="M-3 -46h1v1h-1z"/><path fill="#ed9072" d="M-8 -47h1v1h-1zM-12 -50h1v1h-1z"/><path fill="#f3b49f" d="M-6 -47h1v1h-1z"/><path fill="#ed8763" d="M-10 -48h1v1h-1z"/><path fill="#f0997b" d="M-9 -48h1v1h-1z"/><path fill="#f3b199" d="M-8 -48h1v1h-1zM-12 -51h1v1h-1z"/><path fill="#f6c3ae" d="M-7 -48h1v1h-1z"/><path fill="#f6d2c0" d="M12 -48h1v1h-1zM13 -49h1v1h-1zM14 -51h1v1h-1z"/><path fill="#ea724b" d="M-13 -49h1v1h-1z"/><path fill="#ed8d69" d="M-11 -49h1v1h-1z"/><path fill="#f9d5c9" d="M-7 -49h1v1h-1zM-10 -51h1v1h-1z"/><path fill="#f3c9ba" d="M15 -49h1v1h-1zM16 -51h1v1h-1z"/><path fill="#ea7e5a" d="M-13 -50h1v1h-1z"/><path fill="#f6c0ae" d="M-10 -50h1v1h-1z"/><path fill="#f9e4de" d="M-3 -50h2v1h-2zM0 -50h2v1h-2zM-6 -51h1v1h-1zM2 -51h1v1h-1z"/><path fill="#f9e7de" d="M-1 -50h1v1h-1zM-5 -51h4v1h-4zM1 -51h1v1h-1z"/><path fill="#ed9678" d="M-13 -51h1v1h-1z"/><path fill="#f9e7e1" d="M-1 -51h2v1h-2z"/></g></g></g><use href="#lakes" fill="#fff"/><use href="#land" fill="none" stroke="#000" stroke-width="1.15"/><use href="#lakes" fill="none" stroke="#000" stroke-width="1.15"/></svg><rect x="583.90" y="56.30" width="394.00" height="187.80" fill="none" stroke="#111" stroke-width="1.9"/><text x="575.50" y="249.40" class="t" text-anchor="end">25</text><text x="575.50" y="218.10" class="t" text-anchor="end">30</text><text x="575.50" y="186.80" class="t" text-anchor="end">35</text><text x="575.50" y="155.50" class="t" text-anchor="end">40</text><text x="575.50" y="124.20" class="t" text-anchor="end">45</text><text x="575.50" y="92.90" class="t" text-anchor="end">50</text><text x="575.50" y="61.60" class="t" text-anchor="end">55</text><text x="583.90" y="265.00" class="t" text-anchor="middle">20W</text><text x="666.85" y="265.00" class="t" text-anchor="middle">0</text><text x="749.79" y="265.00" class="t" text-anchor="middle">20E</text><text x="832.74" y="265.00" class="t" text-anchor="middle">40E</text><text x="915.69" y="265.00" class="t" text-anchor="middle">60E</text><path d="M583.90 244.10h-4.6M583.90 212.80h-4.6M583.90 181.50h-4.6M583.90 150.20h-4.6M583.90 118.90h-4.6M583.90 87.60h-4.6M583.90 56.30h-4.6M583.90 244.10v4.6M666.85 244.10v4.6M749.79 244.10v4.6M832.74 244.10v4.6M915.69 244.10v4.6" stroke="#111" stroke-width="1.9" fill="none"/><text x="780.90" y="289.40" class="ax" text-anchor="middle">Longitude (<tspan dx="3">°</tspan><tspan dx="3">)</tspan></text><text transform="translate(549.90 150.20) rotate(-90)" class="ax" text-anchor="middle">Latitude (<tspan dx="3">°</tspan>N)</text><svg x="115.00" y="319.00" width="393.90" height="187.60" viewBox="-20 -55 95 30" preserveAspectRatio="none"><g clip-path="url(#cland)"><g clip-path="url(#cmask)"><g filter="url(#bs)"><path fill="#d5d5d5" d="M49 -27h25v1h-25zM50 -28h24v1h-24zM52 -29h22v1h-22zM55 -30h19v1h-19zM56 -31h8v1h-8zM66 -31h8v1h-8zM56 -32h7v1h-7zM67 -32h7v1h-7zM57 -33h5v1h-5zM68 -33h6v1h-6zM69 -34h5v1h-5zM71 -35h3v1h-3z"/><path fill="#c9c9c9" d="M-12 -28h4v1h-4zM-12 -29h4v1h-4zM-13 -30h4v1h-4zM-13 -31h3v1h-3zM-1 -31h2v1h-2zM27 -31h1v1h-1zM-13 -32h1v1h-1zM-1 -32h2v1h-2zM28 -32h1v1h-1zM31 -32h5v1h-5zM40 -32h1v1h-1zM-1 -33h3v1h-3zM11 -33h1v1h-1zM29 -33h13v1h-13zM0 -34h2v1h-2zM11 -34h1v1h-1zM36 -34h7v1h-7zM1 -35h2v1h-2zM10 -35h1v1h-1zM2 -36h1v1h-1zM9 -36h1v1h-1zM43 -36h2v1h-2zM3 -37h1v1h-1zM7 -37h1v1h-1zM44 -37h2v1h-2zM45 -38h4v1h-4zM45 -39h6v1h-6zM59 -39h2v1h-2zM45 -40h6v1h-6zM58 -40h4v1h-4zM46 -41h6v1h-6zM58 -41h5v1h-5zM47 -42h5v1h-5zM57 -42h7v1h-7zM50 -43h3v1h-3zM55 -43h9v1h-9zM51 -44h13v1h-13zM52 -45h1v1h-1zM54 -45h10v1h-10zM54 -46h11v1h-11zM55 -47h7v1h-7z"/><path fill="#cccccc" d="M34 -28h3v1h-3zM30 -29h9v1h-9zM28 -30h12v1h-12zM28 -31h13v1h-13zM1 -32h3v1h-3zM29 -32h2v1h-2zM36 -32h4v1h-4zM2 -33h2v1h-2zM9 -33h2v1h-2zM44 -33h1v1h-1zM2 -34h2v1h-2zM9 -34h2v1h-2zM44 -34h2v1h-2zM3 -35h1v1h-1zM8 -35h2v1h-2zM44 -35h4v1h-4zM3 -36h2v1h-2zM6 -36h3v1h-3zM45 -36h5v1h-5zM54 -36h7v1h-7zM4 -37h3v1h-3zM46 -37h16v1h-16zM49 -38h14v1h-14zM51 -39h8v1h-8zM61 -39h3v1h-3zM51 -40h7v1h-7zM62 -40h3v1h-3zM52 -41h6v1h-6zM63 -41h2v1h-2zM52 -42h5v1h-5zM64 -42h2v1h-2zM53 -43h2v1h-2zM64 -43h2v1h-2zM64 -44h2v1h-2zM64 -45h2v1h-2zM65 -46h1v1h-1z"/><path fill="#d2d2d2" d="M48 -28h2v1h-2zM47 -29h5v1h-5zM48 -30h7v1h-7zM49 -31h7v1h-7zM64 -31h2v1h-2zM51 -32h5v1h-5zM63 -32h4v1h-4zM52 -33h5v1h-5zM62 -33h6v1h-6zM57 -34h6v1h-6zM66 -34h3v1h-3zM67 -35h4v1h-4z"/><path fill="#c6c6c6" d="M-8 -29h2v1h-2zM-9 -30h6v1h-6zM-10 -31h9v1h-9zM-12 -32h11v1h-11zM27 -32h1v1h-1zM-13 -33h6v1h-6zM-3 -33h2v1h-2zM28 -33h1v1h-1zM-13 -34h2v1h-2zM-1 -34h1v1h-1zM30 -34h6v1h-6zM0 -35h1v1h-1zM11 -35h1v1h-1zM34 -35h9v1h-9zM10 -36h1v1h-1zM36 -36h7v1h-7zM8 -37h2v1h-2zM37 -37h7v1h-7zM4 -38h2v1h-2zM40 -38h5v1h-5zM41 -39h4v1h-4zM41 -40h4v1h-4zM41 -41h5v1h-5zM41 -42h6v1h-6zM43 -43h7v1h-7zM44 -44h7v1h-7zM47 -45h5v1h-5zM50 -46h2v1h-2z"/><path fill="#cfcfcf" d="M46 -30h2v1h-2zM46 -31h3v1h-3zM4 -32h2v1h-2zM45 -32h6v1h-6zM4 -33h5v1h-5zM45 -33h7v1h-7zM4 -34h5v1h-5zM46 -34h11v1h-11zM63 -34h3v1h-3zM4 -35h4v1h-4zM48 -35h19v1h-19zM5 -36h1v1h-1zM50 -36h4v1h-4zM61 -36h13v1h-13zM62 -37h12v1h-12zM63 -38h11v1h-11zM64 -39h10v1h-10zM65 -40h9v1h-9zM65 -41h9v1h-9zM66 -42h8v1h-8zM66 -43h8v1h-8zM66 -44h2v1h-2zM69 -44h5v1h-5zM66 -45h2v1h-2zM70 -45h3v1h-3z"/><path fill="#b7b7b7" d="M24 -32h1v1h-1zM25 -33h1v1h-1zM13 -34h1v1h-1zM26 -34h1v1h-1zM27 -35h1v1h-1zM-7 -36h6v1h-6zM12 -36h1v1h-1zM27 -36h2v1h-2zM28 -37h1v1h-1zM10 -38h1v1h-1zM29 -38h1v1h-1zM6 -39h1v1h-1zM29 -39h2v1h-2zM29 -40h2v1h-2zM30 -41h1v1h-1zM30 -42h2v1h-2zM31 -43h1v1h-1zM32 -44h2v1h-2zM34 -45h2v1h-2zM35 -46h2v1h-2zM35 -47h2v1h-2zM35 -48h2v1h-2zM35 -49h2v1h-2zM35 -50h2v1h-2zM35 -51h2v1h-2z"/><path fill="#bdbdbd" d="M25 -32h1v1h-1zM13 -33h1v1h-1zM26 -33h1v1h-1zM27 -34h1v1h-1zM-12 -35h10v1h-10zM12 -35h1v1h-1zM28 -35h1v1h-1zM30 -36h1v1h-1zM31 -37h2v1h-2zM9 -38h1v1h-1zM32 -38h2v1h-2zM32 -39h2v1h-2zM33 -40h2v1h-2zM33 -41h2v1h-2zM33 -42h3v1h-3zM34 -43h2v1h-2zM36 -44h2v1h-2zM38 -45h2v1h-2zM39 -46h1v1h-1zM39 -47h2v1h-2zM39 -48h2v1h-2zM40 -49h1v1h-1zM40 -50h2v1h-2zM40 -51h2v1h-2z"/><path fill="#c3c3c3" d="M26 -32h1v1h-1zM-7 -33h4v1h-4zM12 -33h1v1h-1zM27 -33h1v1h-1zM-11 -34h5v1h-5zM-4 -34h3v1h-3zM28 -34h2v1h-2zM-1 -35h1v1h-1zM31 -35h3v1h-3zM1 -36h1v1h-1zM33 -36h3v1h-3zM2 -37h1v1h-1zM34 -37h3v1h-3zM6 -38h1v1h-1zM36 -38h4v1h-4zM37 -39h4v1h-4zM38 -40h3v1h-3zM38 -41h3v1h-3zM38 -42h3v1h-3zM39 -43h4v1h-4zM40 -44h4v1h-4zM41 -45h6v1h-6zM42 -46h8v1h-8zM43 -47h9v1h-9zM43 -48h8v1h-8zM43 -49h7v1h-7zM43 -50h6v1h-6zM43 -51h6v1h-6z"/><path fill="#b1b1b1" d="M14 -33h1v1h-1zM23 -33h1v1h-1zM24 -34h1v1h-1zM24 -35h2v1h-2zM-12 -36h3v1h-3zM25 -36h1v1h-1zM-6 -37h1v1h-1zM12 -37h1v1h-1zM26 -37h1v1h-1zM11 -38h1v1h-1zM26 -38h1v1h-1zM8 -39h1v1h-1zM27 -39h1v1h-1zM27 -40h1v1h-1zM28 -41h1v1h-1zM28 -42h1v1h-1zM29 -43h1v1h-1zM30 -44h1v1h-1zM31 -45h2v1h-2zM32 -46h1v1h-1zM32 -47h2v1h-2zM32 -48h2v1h-2zM32 -49h2v1h-2zM32 -50h2v1h-2zM32 -51h2v1h-2z"/><path fill="#ababab" d="M15 -33h1v1h-1zM21 -33h1v1h-1zM15 -34h1v1h-1zM22 -34h1v1h-1zM14 -35h1v1h-1zM-9 -37h1v1h-1zM13 -37h1v1h-1zM24 -37h1v1h-1zM-7 -38h3v1h-3zM1 -38h1v1h-1zM12 -38h1v1h-1zM25 -38h1v1h-1zM10 -39h1v1h-1zM25 -39h1v1h-1zM26 -41h1v1h-1zM27 -42h1v1h-1zM27 -43h1v1h-1zM28 -44h1v1h-1zM29 -45h1v1h-1z"/><path fill="#a8a8a8" d="M16 -33h1v1h-1zM20 -33h1v1h-1zM16 -34h1v1h-1zM21 -34h1v1h-1zM15 -35h1v1h-1zM22 -35h1v1h-1zM14 -36h1v1h-1zM23 -36h1v1h-1zM-10 -37h1v1h-1zM14 -37h1v1h-1zM-8 -38h1v1h-1zM-4 -38h1v1h-1zM13 -38h1v1h-1zM24 -38h1v1h-1zM-6 -39h1v1h-1zM3 -39h1v1h-1zM11 -39h1v1h-1zM6 -40h1v1h-1zM25 -40h1v1h-1zM25 -41h1v1h-1zM26 -42h1v1h-1zM26 -43h1v1h-1zM27 -44h1v1h-1zM29 -46h1v1h-1zM29 -47h1v1h-1zM29 -48h1v1h-1zM29 -49h1v1h-1zM29 -50h1v1h-1zM29 -51h1v1h-1z"/><path fill="#a5a5a5" d="M17 -33h3v1h-3zM17 -34h1v1h-1zM20 -34h1v1h-1zM16 -35h1v1h-1zM21 -35h1v1h-1zM15 -36h2v1h-2zM22 -36h1v1h-1zM-11 -37h1v1h-1zM15 -37h1v1h-1zM23 -37h1v1h-1zM-9 -38h1v1h-1zM-3 -38h1v1h-1zM0 -38h1v1h-1zM14 -38h1v1h-1zM-8 -39h2v1h-2zM-5 -39h1v1h-1zM12 -39h1v1h-1zM24 -39h1v1h-1zM7 -40h2v1h-2zM24 -40h1v1h-1zM25 -42h1v1h-1zM25 -43h1v1h-1zM26 -44h1v1h-1zM27 -45h2v1h-2zM28 -46h1v1h-1zM28 -47h1v1h-1zM28 -48h1v1h-1zM28 -49h1v1h-1zM28 -50h1v1h-1zM28 -51h1v1h-1z"/><path fill="#aeaeae" d="M22 -33h1v1h-1zM14 -34h1v1h-1zM23 -34h1v1h-1zM23 -35h1v1h-1zM-13 -36h1v1h-1zM13 -36h1v1h-1zM24 -36h1v1h-1zM-8 -37h2v1h-2zM-5 -37h5v1h-5zM25 -37h1v1h-1zM9 -39h1v1h-1zM26 -39h1v1h-1zM26 -40h1v1h-1zM27 -41h1v1h-1zM28 -43h1v1h-1zM29 -44h1v1h-1zM30 -45h1v1h-1zM30 -46h2v1h-2zM30 -47h2v1h-2zM30 -48h2v1h-2zM30 -49h2v1h-2zM30 -50h2v1h-2zM30 -51h2v1h-2z"/><path fill="#b4b4b4" d="M24 -33h1v1h-1zM25 -34h1v1h-1zM13 -35h1v1h-1zM26 -35h1v1h-1zM-9 -36h2v1h-2zM26 -36h1v1h-1zM0 -37h1v1h-1zM27 -37h1v1h-1zM2 -38h1v1h-1zM27 -38h2v1h-2zM4 -39h1v1h-1zM7 -39h1v1h-1zM28 -39h1v1h-1zM28 -40h1v1h-1zM29 -41h1v1h-1zM29 -42h1v1h-1zM30 -43h1v1h-1zM31 -44h1v1h-1zM33 -45h1v1h-1zM33 -46h2v1h-2zM34 -47h1v1h-1zM34 -48h1v1h-1zM34 -49h1v1h-1zM34 -50h1v1h-1zM34 -51h1v1h-1z"/><path fill="#c0c0c0" d="M-6 -34h2v1h-2zM12 -34h1v1h-1zM-13 -35h1v1h-1zM-2 -35h1v1h-1zM29 -35h2v1h-2zM0 -36h1v1h-1zM11 -36h1v1h-1zM31 -36h2v1h-2zM10 -37h1v1h-1zM33 -37h1v1h-1zM3 -38h1v1h-1zM7 -38h2v1h-2zM34 -38h2v1h-2zM34 -39h3v1h-3zM35 -40h3v1h-3zM35 -41h3v1h-3zM36 -42h2v1h-2zM36 -43h3v1h-3zM38 -44h2v1h-2zM40 -45h1v1h-1zM40 -46h2v1h-2zM41 -47h2v1h-2zM41 -48h2v1h-2zM41 -49h2v1h-2zM42 -50h1v1h-1zM42 -51h1v1h-1z"/><path fill="#a2a2a2" d="M18 -34h2v1h-2zM17 -35h4v1h-4zM17 -36h2v1h-2zM20 -36h2v1h-2zM-13 -37h2v1h-2zM16 -37h2v1h-2zM22 -37h1v1h-1zM-10 -38h1v1h-1zM-2 -38h2v1h-2zM15 -38h2v1h-2zM23 -38h1v1h-1zM-4 -39h1v1h-1zM13 -39h3v1h-3zM23 -39h1v1h-1zM-7 -40h3v1h-3zM5 -40h1v1h-1zM9 -40h2v1h-2zM24 -41h1v1h-1zM24 -42h1v1h-1zM24 -43h1v1h-1zM25 -44h1v1h-1zM25 -45h2v1h-2zM26 -46h2v1h-2zM26 -47h2v1h-2zM27 -48h1v1h-1zM27 -49h1v1h-1zM27 -50h1v1h-1zM27 -51h1v1h-1z"/><path fill="#bababa" d="M-1 -36h1v1h-1zM29 -36h1v1h-1zM1 -37h1v1h-1zM11 -37h1v1h-1zM29 -37h2v1h-2zM30 -38h2v1h-2zM5 -39h1v1h-1zM31 -39h1v1h-1zM31 -40h2v1h-2zM31 -41h2v1h-2zM32 -42h1v1h-1zM32 -43h2v1h-2zM34 -44h2v1h-2zM36 -45h2v1h-2zM37 -46h2v1h-2zM37 -47h2v1h-2zM37 -48h2v1h-2zM37 -49h3v1h-3zM37 -50h3v1h-3zM37 -51h3v1h-3z"/><path fill="#9f9f9f" d="M19 -36h1v1h-1zM18 -37h4v1h-4zM-11 -38h1v1h-1zM17 -38h2v1h-2zM21 -38h2v1h-2zM-9 -39h1v1h-1zM-3 -39h1v1h-1zM16 -39h2v1h-2zM22 -39h1v1h-1zM-8 -40h1v1h-1zM11 -40h6v1h-6zM23 -40h1v1h-1zM23 -41h1v1h-1zM23 -42h1v1h-1zM23 -43h1v1h-1zM24 -44h1v1h-1zM24 -45h1v1h-1zM24 -46h2v1h-2zM25 -47h1v1h-1zM25 -48h2v1h-2zM26 -49h1v1h-1zM26 -50h1v1h-1zM26 -51h1v1h-1z"/><path fill="#999999" d="M-13 -38h1v1h-1zM-11 -39h1v1h-1zM-2 -39h1v1h-1zM19 -40h2v1h-2zM7 -41h7v1h-7zM16 -41h3v1h-3zM20 -41h2v1h-2zM21 -42h1v1h-1zM22 -43h1v1h-1zM22 -44h1v1h-1zM23 -46h1v1h-1zM23 -47h1v1h-1zM23 -48h1v1h-1zM24 -50h1v1h-1zM24 -51h1v1h-1z"/><path fill="#9c9c9c" d="M-12 -38h1v1h-1zM19 -38h2v1h-2zM-10 -39h1v1h-1zM2 -39h1v1h-1zM18 -39h4v1h-4zM-9 -40h1v1h-1zM-4 -40h1v1h-1zM17 -40h2v1h-2zM21 -40h2v1h-2zM-7 -41h3v1h-3zM14 -41h2v1h-2zM22 -41h1v1h-1zM22 -42h1v1h-1zM23 -44h1v1h-1zM23 -45h1v1h-1zM24 -47h1v1h-1zM24 -48h1v1h-1zM24 -49h2v1h-2zM25 -50h1v1h-1zM25 -51h1v1h-1z"/><path fill="#939393" d="M-13 -39h1v1h-1zM0 -39h1v1h-1zM-11 -40h1v1h-1zM-9 -41h1v1h-1zM-7 -42h3v1h-3zM8 -42h6v1h-6zM18 -42h2v1h-2zM19 -43h2v1h-2zM21 -44h1v1h-1zM21 -45h1v1h-1zM22 -47h1v1h-1zM22 -48h1v1h-1zM22 -49h1v1h-1z"/><path fill="#969696" d="M-12 -39h1v1h-1zM-1 -39h1v1h-1zM1 -39h1v1h-1zM-10 -40h1v1h-1zM-3 -40h1v1h-1zM4 -40h1v1h-1zM-8 -41h1v1h-1zM-4 -41h1v1h-1zM6 -41h1v1h-1zM19 -41h1v1h-1zM14 -42h4v1h-4zM20 -42h1v1h-1zM21 -43h1v1h-1zM22 -45h1v1h-1zM22 -46h1v1h-1zM23 -49h1v1h-1zM23 -50h1v1h-1zM23 -51h1v1h-1z"/><path fill="#8d8d8d" d="M-13 -40h1v1h-1zM-11 -41h1v1h-1zM-4 -42h1v1h-1zM13 -43h1v1h-1zM18 -44h1v1h-1zM19 -45h1v1h-1zM20 -46h1v1h-1zM21 -48h1v1h-1zM21 -49h1v1h-1z"/><path fill="#909090" d="M-12 -40h1v1h-1zM-2 -40h1v1h-1zM-10 -41h1v1h-1zM-3 -41h1v1h-1zM-8 -42h1v1h-1zM7 -42h1v1h-1zM14 -43h5v1h-5zM19 -44h2v1h-2zM20 -45h1v1h-1zM21 -46h1v1h-1zM21 -47h1v1h-1zM22 -50h1v1h-1zM22 -51h1v1h-1z"/><path fill="#8a8a8a" d="M-1 -40h1v1h-1zM-12 -41h1v1h-1zM5 -41h1v1h-1zM-9 -42h1v1h-1zM-7 -43h3v1h-3zM9 -43h4v1h-4zM16 -44h2v1h-2zM18 -45h1v1h-1zM19 -46h1v1h-1zM20 -47h1v1h-1zM21 -50h1v1h-1zM21 -51h1v1h-1z"/><path fill="#848484" d="M0 -40h1v1h-1zM-12 -42h2v1h-2zM-9 -43h1v1h-1zM-4 -43h1v1h-1zM7 -43h1v1h-1zM13 -44h2v1h-2zM18 -46h1v1h-1zM19 -47h1v1h-1zM20 -50h1v1h-1zM20 -51h1v1h-1z"/><path fill="#818181" d="M1 -40h2v1h-2zM-1 -41h1v1h-1zM-13 -42h1v1h-1zM-10 -43h1v1h-1zM-7 -44h2v1h-2zM9 -44h4v1h-4zM16 -45h1v1h-1zM17 -46h1v1h-1zM18 -47h1v1h-1zM19 -48h1v1h-1zM19 -49h1v1h-1z"/><path fill="#878787" d="M3 -40h1v1h-1zM-13 -41h1v1h-1zM-2 -41h1v1h-1zM-10 -42h1v1h-1zM-3 -42h1v1h-1zM6 -42h1v1h-1zM-8 -43h1v1h-1zM8 -43h1v1h-1zM15 -44h1v1h-1zM17 -45h1v1h-1zM20 -48h1v1h-1zM20 -49h1v1h-1z"/><path fill="#787878" d="M0 -41h1v1h-1zM4 -41h1v1h-1zM5 -42h1v1h-1zM-13 -44h3v1h-3zM-4 -44h1v1h-1zM-9 -45h4v1h-4zM10 -45h1v1h-1zM13 -45h1v1h-1zM18 -49h1v1h-1zM18 -50h1v1h-1zM18 -51h1v1h-1z"/><path fill="#6f6f6f" d="M1 -41h1v1h-1zM-3 -44h1v1h-1zM7 -45h1v1h-1zM-7 -46h1v1h-1zM14 -46h1v1h-1zM-13 -47h5v1h-5zM-13 -48h3v1h-3zM-13 -49h1v1h-1zM17 -50h1v1h-1zM17 -51h1v1h-1z"/><path fill="#696969" d="M2 -41h2v1h-2zM0 -42h1v1h-1zM-4 -45h1v1h-1zM6 -45h1v1h-1zM-6 -46h1v1h-1zM7 -46h1v1h-1zM12 -46h1v1h-1zM-8 -47h1v1h-1zM-11 -49h1v1h-1zM16 -49h1v1h-1zM-12 -50h1v1h-1z"/><path fill="#7e7e7e" d="M-2 -42h1v1h-1zM-11 -43h1v1h-1zM-8 -44h1v1h-1zM-5 -44h1v1h-1zM8 -44h1v1h-1zM15 -45h1v1h-1zM19 -50h1v1h-1zM19 -51h1v1h-1z"/><path fill="#757575" d="M-1 -42h1v1h-1zM-13 -45h4v1h-4zM8 -45h2v1h-2zM11 -45h2v1h-2zM15 -46h1v1h-1zM17 -48h1v1h-1z"/><path fill="#606060" d="M1 -42h1v1h-1zM-3 -45h1v1h-1zM-5 -46h1v1h-1zM6 -46h1v1h-1zM-7 -47h1v1h-1zM7 -47h1v1h-1zM11 -47h3v1h-3zM-10 -49h1v1h-1zM15 -49h1v1h-1z"/><path fill="#5a5a5a" d="M2 -42h2v1h-2zM4 -43h1v1h-1zM-1 -44h1v1h-1zM6 -47h1v1h-1zM10 -48h2v1h-2zM13 -48h1v1h-1zM8 -49h1v1h-1zM14 -49h1v1h-1zM15 -51h1v1h-1z"/><path fill="#636363" d="M4 -42h1v1h-1zM-2 -44h1v1h-1zM5 -44h1v1h-1zM8 -47h1v1h-1zM10 -47h1v1h-1zM-9 -48h1v1h-1z"/><path fill="#7b7b7b" d="M-13 -43h2v1h-2zM-3 -43h1v1h-1zM6 -43h1v1h-1zM-10 -44h2v1h-2zM7 -44h1v1h-1zM14 -45h1v1h-1zM16 -46h1v1h-1zM17 -47h1v1h-1zM18 -48h1v1h-1z"/><path fill="#727272" d="M-2 -43h1v1h-1zM6 -44h1v1h-1zM-5 -45h1v1h-1zM-13 -46h6v1h-6zM16 -47h1v1h-1zM17 -49h1v1h-1z"/><path fill="#666666" d="M-1 -43h1v1h-1zM9 -47h1v1h-1zM14 -47h1v1h-1zM15 -48h1v1h-1zM16 -50h1v1h-1zM-13 -51h1v1h-1zM16 -51h1v1h-1z"/><path fill="#5d5d5d" d="M0 -43h1v1h-1zM5 -45h1v1h-1zM7 -48h3v1h-3zM14 -48h1v1h-1zM-11 -50h1v1h-1zM15 -50h1v1h-1zM-12 -51h1v1h-1z"/><path fill="#575757" d="M1 -43h1v1h-1zM-2 -45h1v1h-1zM-4 -46h1v1h-1zM5 -46h1v1h-1zM-8 -48h1v1h-1zM12 -48h1v1h-1zM7 -49h1v1h-1zM9 -49h1v1h-1z"/><path fill="#515151" d="M2 -43h2v1h-2zM4 -45h1v1h-1zM5 -47h1v1h-1zM6 -49h1v1h-1zM11 -49h2v1h-2zM10 -50h1v1h-1zM7 -51h3v1h-3z"/><path fill="#6c6c6c" d="M5 -43h1v1h-1zM8 -46h4v1h-4zM13 -46h1v1h-1zM15 -47h1v1h-1zM-10 -48h1v1h-1zM16 -48h1v1h-1zM-12 -49h1v1h-1zM-13 -50h1v1h-1z"/><path fill="#545454" d="M0 -44h1v1h-1zM4 -44h1v1h-1zM-6 -47h1v1h-1zM6 -48h1v1h-1zM-9 -49h1v1h-1zM10 -49h1v1h-1zM13 -49h1v1h-1zM7 -50h3v1h-3zM14 -50h1v1h-1zM14 -51h1v1h-1z"/><path fill="#4e4e4e" d="M1 -44h1v1h-1zM3 -44h1v1h-1zM-1 -45h1v1h-1zM-3 -46h1v1h-1zM-10 -50h1v1h-1zM11 -50h3v1h-3zM10 -51h1v1h-1z"/><path fill="#4b4b4b" d="M2 -44h1v1h-1zM4 -46h1v1h-1zM-5 -47h1v1h-1zM-7 -48h1v1h-1zM5 -48h1v1h-1zM6 -50h1v1h-1zM-11 -51h1v1h-1zM11 -51h1v1h-1zM13 -51h1v1h-1z"/><path fill="#484848" d="M0 -45h1v1h-1zM3 -45h1v1h-1zM-2 -46h1v1h-1zM6 -51h1v1h-1zM12 -51h1v1h-1z"/><path fill="#454545" d="M1 -45h2v1h-2zM-4 -47h1v1h-1zM4 -47h1v1h-1zM-8 -49h1v1h-1zM5 -49h1v1h-1z"/><path fill="#424242" d="M-1 -46h1v1h-1zM3 -46h1v1h-1zM-6 -48h1v1h-1zM5 -50h1v1h-1z"/><path fill="#3f3f3f" d="M0 -46h3v1h-3zM-3 -47h1v1h-1zM4 -48h1v1h-1zM-9 -50h1v1h-1zM5 -51h1v1h-1z"/><path fill="#3c3c3c" d="M-2 -47h1v1h-1zM3 -47h1v1h-1zM-5 -48h1v1h-1zM4 -49h1v1h-1zM-10 -51h1v1h-1z"/><path fill="#393939" d="M-1 -47h4v1h-4zM-4 -48h1v1h-1zM3 -48h1v1h-1zM-7 -49h1v1h-1zM4 -50h1v1h-1z"/><path fill="#363636" d="M-3 -48h2v1h-2zM2 -48h1v1h-1zM-6 -49h1v1h-1zM3 -49h1v1h-1zM-8 -50h1v1h-1zM-9 -51h1v1h-1zM4 -51h1v1h-1z"/><path fill="#333333" d="M-1 -48h3v1h-3zM-5 -49h1v1h-1zM2 -49h1v1h-1zM-7 -50h1v1h-1zM3 -50h1v1h-1z"/><path fill="#303030" d="M-4 -49h6v1h-6zM-6 -50h3v1h-3zM2 -50h1v1h-1zM-8 -51h2v1h-2zM3 -51h1v1h-1z"/><path fill="#2d2d2d" d="M-3 -50h5v1h-5zM-6 -51h9v1h-9z"/></g></g></g><use href="#lakes" fill="#fff"/><use href="#land" fill="none" stroke="#000" stroke-width="1.15"/><use href="#lakes" fill="none" stroke="#000" stroke-width="1.15"/></svg><rect x="115.00" y="319.00" width="393.90" height="187.60" fill="none" stroke="#111" stroke-width="1.9"/><text x="106.60" y="511.90" class="t" text-anchor="end">25</text><text x="106.60" y="480.63" class="t" text-anchor="end">30</text><text x="106.60" y="449.37" class="t" text-anchor="end">35</text><text x="106.60" y="418.10" class="t" text-anchor="end">40</text><text x="106.60" y="386.83" class="t" text-anchor="end">45</text><text x="106.60" y="355.57" class="t" text-anchor="end">50</text><text x="106.60" y="324.30" class="t" text-anchor="end">55</text><text x="115.00" y="527.50" class="t" text-anchor="middle">20W</text><text x="197.93" y="527.50" class="t" text-anchor="middle">0</text><text x="280.85" y="527.50" class="t" text-anchor="middle">20E</text><text x="363.78" y="527.50" class="t" text-anchor="middle">40E</text><text x="446.71" y="527.50" class="t" text-anchor="middle">60E</text><path d="M115.00 506.60h-4.6M115.00 475.33h-4.6M115.00 444.07h-4.6M115.00 412.80h-4.6M115.00 381.53h-4.6M115.00 350.27h-4.6M115.00 319.00h-4.6M115.00 506.60v4.6M197.93 506.60v4.6M280.85 506.60v4.6M363.78 506.60v4.6M446.71 506.60v4.6" stroke="#111" stroke-width="1.9" fill="none"/><text x="311.95" y="551.90" class="ax" text-anchor="middle">Longitude (<tspan dx="3">°</tspan><tspan dx="3">)</tspan></text><text transform="translate(81.00 412.80) rotate(-90)" class="ax" text-anchor="middle">Latitude (<tspan dx="3">°</tspan>N)</text><svg x="583.90" y="318.80" width="394.00" height="188.00" viewBox="-20 -55 95 30" preserveAspectRatio="none"><g clip-path="url(#cland)"><g clip-path="url(#cmask)"><g filter="url(#bs)"><path fill="#f9f3de" d="M49 -27h7v1h-7zM65 -27h1v1h-1zM48 -28h8v1h-8zM65 -28h1v1h-1zM31 -29h3v1h-3zM47 -29h9v1h-9zM65 -29h1v1h-1zM31 -30h3v1h-3zM47 -30h3v1h-3zM51 -30h4v1h-4zM66 -30h1v1h-1zM32 -31h3v1h-3zM47 -31h2v1h-2zM67 -31h1v1h-1zM33 -32h3v1h-3zM40 -32h1v1h-1zM47 -32h2v1h-2zM68 -32h1v1h-1zM34 -33h7v1h-7zM48 -33h1v1h-1zM69 -33h1v1h-1zM45 -34h1v1h-1zM48 -34h2v1h-2zM70 -34h1v1h-1zM46 -35h4v1h-4zM72 -35h2v1h-2zM47 -36h3v1h-3zM48 -37h1v1h-1z"/><path fill="#f9f3db" d="M56 -27h1v1h-1zM56 -28h1v1h-1zM30 -29h1v1h-1zM56 -29h1v1h-1zM29 -30h2v1h-2zM50 -30h1v1h-1zM55 -30h2v1h-2zM65 -30h1v1h-1zM30 -31h2v1h-2zM49 -31h8v1h-8zM66 -31h1v1h-1zM31 -32h2v1h-2zM49 -32h8v1h-8zM67 -32h1v1h-1zM33 -33h1v1h-1zM41 -33h1v1h-1zM49 -33h6v1h-6zM68 -33h1v1h-1zM34 -34h7v1h-7zM44 -34h1v1h-1zM50 -34h2v1h-2zM69 -34h1v1h-1zM36 -35h3v1h-3zM45 -35h1v1h-1zM50 -35h2v1h-2zM70 -35h2v1h-2zM45 -36h2v1h-2zM50 -36h2v1h-2zM46 -37h2v1h-2zM49 -37h2v1h-2zM47 -38h4v1h-4zM48 -39h2v1h-2zM24 -47h3v1h-3zM23 -48h5v1h-5zM22 -49h6v1h-6zM22 -50h6v1h-6zM22 -51h6v1h-6z"/><path fill="#f9f3d8" d="M57 -27h8v1h-8zM57 -28h8v1h-8zM57 -29h8v1h-8zM28 -30h1v1h-1zM57 -30h8v1h-8zM28 -31h2v1h-2zM57 -31h5v1h-5zM30 -32h1v1h-1zM57 -32h4v1h-4zM31 -33h2v1h-2zM55 -33h2v1h-2zM33 -34h1v1h-1zM41 -34h1v1h-1zM52 -34h3v1h-3zM35 -35h1v1h-1zM39 -35h1v1h-1zM44 -35h1v1h-1zM52 -35h2v1h-2zM52 -36h1v1h-1zM72 -36h2v1h-2zM45 -37h1v1h-1zM51 -37h1v1h-1zM46 -38h1v1h-1zM51 -38h1v1h-1zM47 -39h1v1h-1zM50 -39h1v1h-1zM47 -40h4v1h-4zM49 -41h2v1h-2zM23 -46h2v1h-2zM22 -47h2v1h-2zM27 -47h2v1h-2zM21 -48h2v1h-2zM28 -48h2v1h-2zM21 -49h1v1h-1zM28 -49h2v1h-2zM21 -50h1v1h-1zM28 -50h2v1h-2zM21 -51h1v1h-1zM28 -51h2v1h-2z"/><path fill="#f9f6e1" d="M66 -27h8v1h-8zM34 -28h3v1h-3zM66 -28h8v1h-8zM34 -29h5v1h-5zM66 -29h8v1h-8zM35 -30h5v1h-5zM67 -30h7v1h-7zM35 -31h6v1h-6zM68 -31h6v1h-6zM69 -32h5v1h-5zM70 -33h4v1h-4zM71 -34h3v1h-3z"/><path fill="#f9f0cc" d="M-12 -28h4v1h-4zM-12 -29h6v1h-6zM-13 -30h7v1h-7zM-13 -31h6v1h-6zM-13 -32h6v1h-6zM-13 -33h5v1h-5zM29 -33h1v1h-1zM-13 -34h4v1h-4zM31 -34h1v1h-1zM41 -36h2v1h-2zM35 -37h1v1h-1zM39 -37h1v1h-1zM43 -37h1v1h-1zM54 -37h1v1h-1zM54 -38h1v1h-1zM53 -39h2v1h-2zM53 -40h2v1h-2zM46 -41h1v1h-1zM53 -41h3v1h-3zM47 -42h1v1h-1zM53 -42h5v1h-5zM20 -43h3v1h-3zM53 -43h3v1h-3zM20 -44h1v1h-1zM24 -44h1v1h-1zM51 -44h4v1h-4zM19 -45h1v1h-1zM26 -45h1v1h-1zM52 -45h1v1h-1zM19 -46h1v1h-1zM31 -46h1v1h-1zM32 -47h1v1h-1zM32 -48h1v1h-1zM18 -49h1v1h-1zM-8 -50h1v1h-1zM18 -50h1v1h-1zM-10 -51h4v1h-4zM33 -51h1v1h-1z"/><path fill="#f9f0c6" d="M-6 -30h1v1h-1zM-7 -32h1v1h-1zM-8 -34h1v1h-1zM-10 -35h1v1h-1zM32 -35h1v1h-1zM33 -36h1v1h-1zM34 -37h1v1h-1zM41 -37h2v1h-2zM38 -38h1v1h-1zM43 -38h1v1h-1zM-5 -39h2v1h-2zM-5 -40h1v1h-1zM20 -42h1v1h-1zM25 -44h1v1h-1zM28 -45h1v1h-1zM18 -46h1v1h-1zM17 -50h1v1h-1zM17 -51h1v1h-1z"/><path fill="#f6edbd" d="M-5 -30h1v1h-1zM-6 -33h1v1h-1zM-6 -36h1v1h-1zM-13 -37h3v1h-3zM-5 -37h1v1h-1zM-11 -38h3v1h-3zM40 -38h2v1h-2zM-9 -39h1v1h-1zM-2 -39h1v1h-1zM38 -39h1v1h-1zM-8 -40h1v1h-1zM-2 -40h1v1h-1zM21 -40h1v1h-1zM-7 -41h1v1h-1zM-4 -41h1v1h-1zM23 -41h1v1h-1zM19 -42h1v1h-1zM48 -44h1v1h-1zM31 -45h3v1h-3zM17 -46h1v1h-1zM34 -46h1v1h-1zM51 -46h1v1h-1zM35 -48h1v1h-1zM-5 -49h1v1h-1zM35 -49h1v1h-1zM-11 -50h1v1h-1zM-4 -50h1v1h-1zM43 -50h2v1h-2zM46 -50h2v1h-2zM42 -51h1v1h-1zM48 -51h1v1h-1z"/><path fill="#f6eab1" d="M-4 -30h1v1h-1zM27 -33h1v1h-1zM20 -39h1v1h-1zM22 -39h1v1h-1zM34 -39h1v1h-1zM38 -40h1v1h-1zM-11 -41h1v1h-1zM-2 -41h1v1h-1zM24 -41h1v1h-1zM37 -41h1v1h-1zM44 -41h1v1h-1zM-9 -42h1v1h-1zM18 -42h1v1h-1zM45 -42h1v1h-1zM-7 -43h2v1h-2zM46 -43h1v1h-1zM35 -45h1v1h-1zM48 -46h1v1h-1zM16 -47h1v1h-1zM36 -47h1v1h-1zM48 -47h1v1h-1zM-5 -48h1v1h-1zM16 -48h1v1h-1zM45 -48h2v1h-2zM-12 -50h1v1h-1zM37 -50h1v1h-1zM-2 -51h1v1h-1z"/><path fill="#f9f3e1" d="M34 -30h1v1h-1z"/><path fill="#f9f6de" d="M46 -30h1v1h-1zM46 -31h1v1h-1zM36 -32h4v1h-4zM45 -32h2v1h-2zM44 -33h4v1h-4zM46 -34h2v1h-2z"/><path fill="#f9f0c9" d="M-7 -31h1v1h-1zM-8 -33h1v1h-1zM-9 -34h1v1h-1zM-13 -35h3v1h-3zM40 -37h1v1h-1zM36 -38h2v1h-2zM44 -39h1v1h-1zM45 -40h1v1h-1zM55 -40h1v1h-1zM56 -41h1v1h-1zM21 -42h2v1h-2zM23 -43h1v1h-1zM48 -43h1v1h-1zM19 -44h1v1h-1zM50 -44h1v1h-1zM27 -45h1v1h-1zM32 -46h1v1h-1zM18 -47h1v1h-1zM18 -48h1v1h-1zM33 -49h1v1h-1zM-9 -50h1v1h-1zM-7 -50h1v1h-1zM33 -50h1v1h-1zM-11 -51h1v1h-1zM-6 -51h1v1h-1z"/><path fill="#f6edc3" d="M-6 -31h1v1h-1zM28 -33h1v1h-1zM-8 -35h1v1h-1zM58 -35h2v1h-2zM-13 -36h5v1h-5zM57 -36h2v1h-2zM60 -36h1v1h-1zM57 -37h1v1h-1zM60 -37h2v1h-2zM-7 -38h1v1h-1zM57 -38h5v1h-5zM-7 -39h1v1h-1zM58 -39h4v1h-4zM22 -41h1v1h-1zM23 -42h1v1h-1zM24 -43h1v1h-1zM33 -46h1v1h-1zM34 -48h1v1h-1zM-6 -49h1v1h-1zM34 -49h1v1h-1zM-5 -50h1v1h-1z"/><path fill="#f6edba" d="M-5 -31h1v1h-1zM-6 -34h1v1h-1zM-6 -35h1v1h-1zM-4 -37h1v1h-1zM-13 -38h2v1h-2zM-2 -38h1v1h-1zM-10 -39h1v1h-1zM42 -39h1v1h-1zM-9 -40h1v1h-1zM22 -40h1v1h-1zM36 -40h1v1h-1zM-8 -41h1v1h-1zM-3 -41h1v1h-1zM-7 -42h3v1h-3zM24 -42h1v1h-1zM18 -43h1v1h-1zM25 -43h1v1h-1zM17 -45h1v1h-1zM49 -45h1v1h-1zM-7 -48h1v1h-1zM46 -49h1v1h-1zM48 -50h1v1h-1zM16 -51h1v1h-1zM36 -51h1v1h-1z"/><path fill="#f6eaae" d="M-4 -31h1v1h-1zM-4 -35h1v1h-1zM-1 -38h1v1h-1zM21 -38h1v1h-1zM0 -39h1v1h-1zM0 -40h1v1h-1zM34 -40h1v1h-1zM42 -40h1v1h-1zM-13 -41h2v1h-2zM-10 -42h1v1h-1zM25 -42h1v1h-1zM35 -42h2v1h-2zM-8 -43h1v1h-1zM26 -43h1v1h-1zM34 -44h1v1h-1zM16 -45h1v1h-1zM47 -45h1v1h-1zM16 -46h1v1h-1zM-7 -47h1v1h-1zM47 -47h1v1h-1zM44 -48h1v1h-1zM-11 -49h1v1h-1zM-3 -49h1v1h-1zM42 -49h1v1h-1zM41 -50h1v1h-1zM40 -51h1v1h-1z"/><path fill="#f6e7a2" d="M-3 -31h1v1h-1zM28 -34h1v1h-1zM-3 -35h1v1h-1zM30 -35h1v1h-1zM32 -37h1v1h-1zM19 -39h1v1h-1zM18 -41h1v1h-1zM39 -41h1v1h-1zM-2 -42h1v1h-1zM-4 -43h1v1h-1zM45 -43h1v1h-1zM-13 -44h1v1h-1zM32 -44h1v1h-1zM36 -44h1v1h-1zM-13 -45h3v1h-3zM46 -45h1v1h-1zM-13 -46h4v1h-4zM-7 -46h1v1h-1zM-13 -47h3v1h-3zM-5 -47h1v1h-1zM44 -47h1v1h-1zM-13 -48h2v1h-2zM-3 -48h1v1h-1zM42 -48h1v1h-1zM-13 -49h1v1h-1zM38 -49h1v1h-1zM39 -50h1v1h-1zM0 -51h1v1h-1zM5 -51h1v1h-1zM15 -51h1v1h-1z"/><path fill="#f6e496" d="M-2 -31h1v1h-1zM19 -34h1v1h-1zM-2 -35h1v1h-1zM19 -35h1v1h-1zM19 -36h1v1h-1zM23 -37h1v1h-1zM24 -39h1v1h-1zM2 -40h1v1h-1zM7 -40h2v1h-2zM18 -40h1v1h-1zM2 -41h1v1h-1zM5 -41h3v1h-3zM0 -42h1v1h-1zM4 -42h1v1h-1zM7 -42h1v1h-1zM39 -42h1v1h-1zM4 -43h1v1h-1zM6 -43h1v1h-1zM4 -44h1v1h-1zM6 -44h1v1h-1zM15 -44h1v1h-1zM30 -44h1v1h-1zM37 -44h1v1h-1zM6 -45h1v1h-1zM-5 -46h1v1h-1zM3 -46h1v1h-1zM6 -46h1v1h-1zM44 -46h1v1h-1zM-3 -47h1v1h-1zM6 -47h1v1h-1zM0 -48h3v1h-3zM39 -48h1v1h-1z"/><path fill="#f6e187" d="M-1 -31h1v1h-1zM18 -33h1v1h-1zM23 -33h2v1h-2zM11 -34h1v1h-1zM18 -34h1v1h-1zM23 -34h1v1h-1zM-1 -35h1v1h-1zM7 -37h1v1h-1zM18 -38h1v1h-1zM32 -39h1v1h-1zM4 -40h1v1h-1zM26 -41h1v1h-1zM27 -42h1v1h-1zM32 -42h1v1h-1zM1 -43h1v1h-1zM40 -43h1v1h-1zM8 -44h1v1h-1zM39 -44h1v1h-1zM1 -45h1v1h-1zM39 -45h1v1h-1zM-2 -46h3v1h-3zM42 -46h1v1h-1zM8 -49h1v1h-1z"/><path fill="#f6de75" d="M0 -31h1v1h-1zM0 -32h1v1h-1zM17 -33h1v1h-1zM6 -34h1v1h-1zM17 -34h1v1h-1zM0 -35h1v1h-1zM6 -35h1v1h-1zM12 -35h1v1h-1zM17 -35h1v1h-1zM17 -36h1v1h-1zM25 -36h1v1h-1zM17 -37h1v1h-1zM2 -38h1v1h-1zM5 -38h1v1h-1zM25 -38h1v1h-1zM31 -38h1v1h-1zM4 -39h1v1h-1zM12 -40h1v1h-1zM26 -40h1v1h-1zM12 -42h2v1h-2zM31 -42h1v1h-1zM11 -43h1v1h-1zM13 -43h1v1h-1zM9 -45h1v1h-1zM10 -50h1v1h-1zM13 -51h1v1h-1z"/><path fill="#f9f0d2" d="M27 -31h1v1h-1zM64 -31h1v1h-1zM28 -32h1v1h-1zM62 -32h1v1h-1zM30 -33h1v1h-1zM60 -33h2v1h-2zM56 -34h1v1h-1zM33 -35h1v1h-1zM42 -35h1v1h-1zM55 -35h1v1h-1zM54 -36h1v1h-1zM69 -36h1v1h-1zM44 -37h1v1h-1zM53 -37h1v1h-1zM69 -37h1v1h-1zM52 -38h1v1h-1zM68 -38h1v1h-1zM67 -39h1v1h-1zM46 -40h1v1h-1zM66 -40h1v1h-1zM47 -41h1v1h-1zM51 -41h1v1h-1zM65 -41h1v1h-1zM48 -42h1v1h-1zM51 -42h1v1h-1zM61 -42h4v1h-4zM50 -43h1v1h-1zM58 -43h2v1h-2zM57 -44h1v1h-1zM56 -45h1v1h-1zM20 -46h1v1h-1zM29 -46h1v1h-1zM55 -46h1v1h-1zM30 -47h1v1h-1zM55 -47h1v1h-1zM31 -48h1v1h-1zM31 -49h1v1h-1zM31 -50h1v1h-1zM31 -51h1v1h-1z"/><path fill="#f9f0d5" d="M62 -31h2v1h-2zM61 -32h1v1h-1zM57 -33h3v1h-3zM54 -35h1v1h-1zM30 -48h1v1h-1zM30 -49h1v1h-1z"/><path fill="#f9f3d5" d="M65 -31h1v1h-1zM29 -32h1v1h-1zM66 -32h1v1h-1zM67 -33h1v1h-1zM42 -34h1v1h-1zM55 -34h1v1h-1zM68 -34h1v1h-1zM34 -35h1v1h-1zM40 -35h1v1h-1zM69 -35h1v1h-1zM35 -36h5v1h-5zM44 -36h1v1h-1zM53 -36h1v1h-1zM70 -36h2v1h-2zM52 -37h1v1h-1zM71 -37h3v1h-3zM45 -38h1v1h-1zM70 -38h4v1h-4zM46 -39h1v1h-1zM51 -39h1v1h-1zM70 -39h4v1h-4zM51 -40h1v1h-1zM69 -40h5v1h-5zM48 -41h1v1h-1zM68 -41h6v1h-6zM49 -42h2v1h-2zM67 -42h7v1h-7zM65 -43h9v1h-9zM61 -44h7v1h-7zM69 -44h5v1h-5zM59 -45h9v1h-9zM70 -45h3v1h-3zM21 -46h2v1h-2zM25 -46h4v1h-4zM58 -46h8v1h-8zM21 -47h1v1h-1zM29 -47h1v1h-1zM57 -47h5v1h-5zM20 -48h1v1h-1zM20 -49h1v1h-1zM20 -50h1v1h-1zM30 -50h1v1h-1zM20 -51h1v1h-1zM30 -51h1v1h-1z"/><path fill="#f6edc0" d="M-6 -32h1v1h-1zM-7 -34h1v1h-1zM-7 -35h1v1h-1zM-8 -36h2v1h-2zM59 -36h1v1h-1zM-10 -37h5v1h-5zM58 -37h2v1h-2zM-8 -38h1v1h-1zM-3 -38h1v1h-1zM-8 -39h1v1h-1zM-7 -40h1v1h-1zM-3 -40h1v1h-1zM-6 -41h2v1h-2zM20 -41h1v1h-1zM45 -41h1v1h-1zM46 -42h1v1h-1zM47 -43h1v1h-1zM18 -44h1v1h-1zM26 -44h1v1h-1zM50 -45h1v1h-1zM17 -47h1v1h-1zM34 -47h1v1h-1zM17 -48h1v1h-1zM-9 -49h1v1h-1zM35 -50h1v1h-1zM45 -50h1v1h-1zM-12 -51h1v1h-1zM-4 -51h1v1h-1zM35 -51h1v1h-1z"/><path fill="#f6eab7" d="M-5 -32h1v1h-1zM32 -36h1v1h-1zM-3 -37h1v1h-1zM-13 -39h2v1h-2zM39 -39h1v1h-1zM-10 -40h1v1h-1zM43 -40h1v1h-1zM-9 -41h1v1h-1zM27 -44h1v1h-1zM34 -45h1v1h-1zM50 -47h2v1h-2zM-6 -48h1v1h-1zM-4 -49h1v1h-1zM36 -49h1v1h-1zM44 -49h1v1h-1zM47 -49h3v1h-3zM42 -50h1v1h-1zM-13 -51h1v1h-1zM-3 -51h1v1h-1zM41 -51h1v1h-1z"/><path fill="#f6eaab" d="M-4 -32h1v1h-1zM-3 -36h1v1h-1zM-2 -37h1v1h-1zM20 -38h1v1h-1zM33 -38h1v1h-1zM19 -40h1v1h-1zM39 -40h1v1h-1zM41 -40h1v1h-1zM-1 -41h1v1h-1zM-11 -42h1v1h-1zM-3 -42h1v1h-1zM-9 -43h1v1h-1zM-5 -43h1v1h-1zM17 -43h1v1h-1zM35 -43h1v1h-1zM-7 -44h1v1h-1zM28 -44h1v1h-1zM33 -44h1v1h-1zM35 -44h1v1h-1zM47 -46h1v1h-1zM-8 -47h1v1h-1zM46 -47h1v1h-1zM-4 -48h1v1h-1zM-2 -50h1v1h-1z"/><path fill="#f6e79f" d="M-3 -32h1v1h-1zM25 -32h1v1h-1zM-3 -33h1v1h-1zM-3 -34h1v1h-1zM-2 -36h1v1h-1zM20 -36h2v1h-2zM-1 -37h1v1h-1zM22 -37h1v1h-1zM0 -38h1v1h-1zM23 -38h1v1h-1zM33 -39h1v1h-1zM25 -41h1v1h-1zM42 -41h1v1h-1zM17 -42h1v1h-1zM44 -42h1v1h-1zM27 -43h1v1h-1zM29 -44h1v1h-1zM45 -46h1v1h-1zM-1 -49h1v1h-1zM5 -49h1v1h-1zM4 -50h3v1h-3zM15 -50h1v1h-1zM4 -51h1v1h-1zM6 -51h1v1h-1z"/><path fill="#f6e493" d="M-2 -32h1v1h-1zM-2 -33h1v1h-1zM19 -33h2v1h-2zM-2 -34h1v1h-1zM21 -34h1v1h-1zM22 -35h1v1h-1zM8 -39h1v1h-1zM6 -40h1v1h-1zM9 -40h1v1h-1zM3 -41h2v1h-2zM8 -41h1v1h-1zM3 -42h1v1h-1zM43 -42h1v1h-1zM7 -43h1v1h-1zM38 -43h1v1h-1zM-4 -44h1v1h-1zM-5 -45h1v1h-1zM3 -45h1v1h-1zM38 -46h1v1h-1zM2 -47h1v1h-1zM42 -47h1v1h-1zM40 -48h1v1h-1zM7 -49h1v1h-1z"/><path fill="#f6e184" d="M-1 -32h1v1h-1zM24 -34h1v1h-1zM26 -34h1v1h-1zM18 -35h1v1h-1zM7 -36h1v1h-1zM18 -36h1v1h-1zM24 -36h1v1h-1zM18 -37h1v1h-1zM24 -37h1v1h-1zM31 -37h1v1h-1zM17 -40h1v1h-1zM32 -40h1v1h-1zM32 -41h1v1h-1zM10 -42h1v1h-1zM9 -43h1v1h-1zM43 -43h1v1h-1zM-2 -44h1v1h-1zM1 -44h1v1h-1zM-3 -45h1v1h-1zM14 -45h1v1h-1zM43 -45h1v1h-1zM40 -46h2v1h-2zM8 -48h1v1h-1zM14 -50h1v1h-1zM9 -51h1v1h-1z"/><path fill="#f6db66" d="M1 -32h1v1h-1zM5 -33h1v1h-1zM1 -35h1v1h-1zM4 -37h1v1h-1zM30 -37h1v1h-1zM12 -45h1v1h-1zM10 -46h1v1h-1zM11 -48h1v1h-1z"/><path fill="#f6db5a" d="M2 -32h1v1h-1zM4 -32h1v1h-1zM2 -33h1v1h-1zM2 -34h2v1h-2zM3 -35h1v1h-1z"/><path fill="#f6d857" d="M3 -32h1v1h-1z"/><path fill="#f6db63" d="M5 -32h1v1h-1zM1 -33h1v1h-1zM1 -34h1v1h-1zM4 -36h1v1h-1zM29 -36h1v1h-1zM3 -37h1v1h-1zM11 -45h1v1h-1zM12 -46h1v1h-1zM12 -47h1v1h-1zM12 -48h1v1h-1z"/><path fill="#f6e48d" d="M24 -32h1v1h-1zM25 -33h1v1h-1zM22 -34h1v1h-1zM0 -37h1v1h-1zM18 -39h1v1h-1zM25 -40h1v1h-1zM16 -42h1v1h-1zM42 -42h1v1h-1zM44 -45h1v1h-1zM-1 -47h2v1h-2zM7 -47h1v1h-1z"/><path fill="#f6eab4" d="M26 -32h1v1h-1zM-5 -33h1v1h-1zM-5 -34h1v1h-1zM29 -34h1v1h-1zM-5 -35h1v1h-1zM-4 -36h1v1h-1zM21 -39h1v1h-1zM40 -39h2v1h-2zM-13 -40h3v1h-3zM23 -40h1v1h-1zM-10 -41h1v1h-1zM19 -41h1v1h-1zM35 -41h2v1h-2zM-8 -42h1v1h-1zM-4 -42h1v1h-1zM17 -44h1v1h-1zM47 -44h1v1h-1zM48 -45h1v1h-1zM35 -46h1v1h-1zM49 -46h1v1h-1zM49 -47h1v1h-1zM-9 -48h1v1h-1zM36 -48h1v1h-1zM47 -48h4v1h-4zM43 -49h1v1h-1zM-3 -50h1v1h-1zM37 -51h1v1h-1z"/><path fill="#f9edc6" d="M27 -32h1v1h-1zM-9 -35h1v1h-1zM-6 -39h1v1h-1zM49 -44h1v1h-1zM51 -45h1v1h-1zM33 -47h1v1h-1zM-8 -49h1v1h-1zM-10 -50h1v1h-1zM-6 -50h1v1h-1zM-5 -51h1v1h-1zM34 -51h1v1h-1z"/><path fill="#f6f0cf" d="M63 -32h1v1h-1zM66 -39h1v1h-1zM65 -40h1v1h-1zM62 -41h2v1h-2z"/><path fill="#f6f0cc" d="M64 -32h1v1h-1zM62 -33h2v1h-2zM65 -33h1v1h-1zM57 -34h5v1h-5zM66 -34h1v1h-1zM67 -35h1v1h-1zM55 -36h1v1h-1zM68 -36h1v1h-1zM67 -37h1v1h-1zM66 -38h1v1h-1zM65 -39h1v1h-1zM64 -40h1v1h-1zM59 -41h3v1h-3z"/><path fill="#f9f0cf" d="M65 -32h1v1h-1zM66 -33h1v1h-1zM67 -34h1v1h-1zM68 -35h1v1h-1zM34 -36h1v1h-1zM40 -36h1v1h-1zM43 -36h1v1h-1zM36 -37h3v1h-3zM68 -37h1v1h-1zM44 -38h1v1h-1zM53 -38h1v1h-1zM67 -38h1v1h-1zM45 -39h1v1h-1zM52 -39h1v1h-1zM52 -40h1v1h-1zM52 -41h1v1h-1zM64 -41h1v1h-1zM52 -42h1v1h-1zM58 -42h3v1h-3zM49 -43h1v1h-1zM51 -43h2v1h-2zM56 -43h2v1h-2zM21 -44h3v1h-3zM55 -44h2v1h-2zM20 -45h1v1h-1zM25 -45h1v1h-1zM54 -45h2v1h-2zM30 -46h1v1h-1zM54 -46h1v1h-1zM19 -47h1v1h-1zM31 -47h1v1h-1zM19 -48h1v1h-1zM32 -49h1v1h-1zM32 -50h1v1h-1zM18 -51h1v1h-1zM32 -51h1v1h-1z"/><path fill="#f9edc3" d="M-7 -33h1v1h-1zM30 -34h1v1h-1zM-6 -38h3v1h-3zM42 -38h1v1h-1zM-3 -39h1v1h-1zM-6 -40h1v1h-1zM-4 -40h1v1h-1zM21 -41h1v1h-1zM19 -43h1v1h-1zM29 -45h1v1h-1zM-7 -49h1v1h-1zM43 -51h4v1h-4z"/><path fill="#f6e7ab" d="M-4 -33h1v1h-1zM-4 -34h1v1h-1zM-12 -42h1v1h-1zM-8 -44h1v1h-1zM36 -46h1v1h-1zM-10 -48h1v1h-1zM38 -51h1v1h-1z"/><path fill="#f6e181" d="M-1 -33h1v1h-1zM7 -33h1v1h-1zM-1 -34h1v1h-1zM7 -34h1v1h-1zM25 -34h1v1h-1zM7 -35h1v1h-1zM11 -35h1v1h-1zM24 -35h1v1h-1zM6 -38h1v1h-1zM11 -40h1v1h-1zM16 -41h1v1h-1zM15 -42h1v1h-1zM41 -43h2v1h-2zM-1 -44h2v1h-2zM14 -44h1v1h-1zM40 -44h1v1h-1zM43 -44h1v1h-1zM-2 -45h3v1h-3zM8 -45h1v1h-1zM40 -45h1v1h-1zM42 -45h1v1h-1zM8 -46h1v1h-1zM14 -46h1v1h-1zM8 -47h1v1h-1zM14 -47h1v1h-1zM14 -48h1v1h-1zM14 -49h1v1h-1z"/><path fill="#f6de72" d="M0 -33h1v1h-1zM6 -33h1v1h-1zM13 -33h1v1h-1zM0 -34h1v1h-1zM26 -35h1v1h-1zM12 -36h1v1h-1zM12 -37h1v1h-1zM25 -37h1v1h-1zM12 -38h1v1h-1zM12 -39h1v1h-1zM16 -39h1v1h-1zM13 -41h2v1h-2zM27 -41h1v1h-1zM28 -42h1v1h-1zM12 -43h1v1h-1zM10 -44h1v1h-1zM13 -44h1v1h-1zM9 -46h1v1h-1zM9 -47h1v1h-1zM13 -50h1v1h-1zM11 -51h1v1h-1z"/><path fill="#f6db57" d="M3 -33h1v1h-1z"/><path fill="#f6db5d" d="M4 -33h1v1h-1zM4 -34h1v1h-1zM2 -35h1v1h-1zM3 -36h1v1h-1z"/><path fill="#f6e18a" d="M8 -33h1v1h-1zM11 -33h1v1h-1zM22 -33h1v1h-1zM8 -34h1v1h-1zM8 -35h1v1h-1zM23 -35h1v1h-1zM29 -35h1v1h-1zM8 -36h1v1h-1zM10 -36h1v1h-1zM10 -37h1v1h-1zM7 -38h1v1h-1zM10 -38h1v1h-1zM6 -39h1v1h-1zM10 -39h1v1h-1zM3 -40h1v1h-1zM10 -40h1v1h-1zM10 -41h1v1h-1zM9 -42h1v1h-1zM2 -43h1v1h-1zM28 -43h1v1h-1zM2 -44h1v1h-1zM1 -46h1v1h-1zM39 -46h1v1h-1z"/><path fill="#f6e490" d="M9 -33h2v1h-2zM21 -33h1v1h-1zM27 -34h1v1h-1zM-1 -36h1v1h-1zM23 -36h1v1h-1zM8 -38h2v1h-2zM32 -38h1v1h-1zM7 -39h1v1h-1zM9 -39h1v1h-1zM9 -41h1v1h-1zM17 -41h1v1h-1zM1 -42h2v1h-2zM8 -42h1v1h-1zM40 -42h1v1h-1zM-2 -43h1v1h-1zM3 -43h1v1h-1zM44 -43h1v1h-1zM3 -44h1v1h-1zM7 -44h1v1h-1zM-4 -46h1v1h-1zM2 -46h1v1h-1zM43 -46h1v1h-1zM-2 -47h1v1h-1zM1 -47h1v1h-1zM7 -48h1v1h-1zM8 -51h1v1h-1z"/><path fill="#f6de7e" d="M12 -33h1v1h-1zM11 -39h1v1h-1zM31 -43h1v1h-1zM41 -44h2v1h-2zM41 -45h1v1h-1z"/><path fill="#f6db6c" d="M14 -33h2v1h-2zM14 -34h3v1h-3zM15 -35h2v1h-2zM13 -36h1v1h-1zM16 -36h1v1h-1zM13 -37h1v1h-1zM16 -37h1v1h-1zM13 -38h1v1h-1zM15 -38h1v1h-1zM13 -39h3v1h-3zM31 -39h1v1h-1zM31 -40h1v1h-1zM11 -44h2v1h-2zM10 -48h1v1h-1z"/><path fill="#f6db6f" d="M16 -33h1v1h-1zM16 -38h1v1h-1zM14 -40h1v1h-1zM31 -41h1v1h-1z"/><path fill="#f6e79c" d="M26 -33h1v1h-1zM20 -35h1v1h-1zM31 -36h1v1h-1zM19 -38h1v1h-1zM1 -39h1v1h-1zM33 -40h1v1h-1zM1 -41h1v1h-1zM40 -41h2v1h-2zM-1 -42h1v1h-1zM26 -42h1v1h-1zM38 -42h1v1h-1zM16 -43h1v1h-1zM33 -43h1v1h-1zM-5 -44h1v1h-1zM-6 -45h1v1h-1zM-6 -46h1v1h-1zM-4 -47h1v1h-1zM43 -47h1v1h-1zM-2 -48h1v1h-1zM15 -49h1v1h-1z"/><path fill="#f6f0c9" d="M64 -33h1v1h-1zM56 -35h1v1h-1zM67 -36h1v1h-1zM55 -37h1v1h-1zM55 -38h1v1h-1zM55 -39h1v1h-1zM56 -40h1v1h-1zM62 -40h2v1h-2zM57 -41h2v1h-2z"/><path fill="#f6db69" d="M5 -34h1v1h-1zM5 -35h1v1h-1zM14 -35h1v1h-1zM14 -36h2v1h-2zM2 -37h1v1h-1zM14 -37h2v1h-2zM14 -38h1v1h-1zM29 -42h2v1h-2zM10 -45h1v1h-1zM10 -47h1v1h-1zM11 -49h2v1h-2z"/><path fill="#f6e190" d="M9 -34h1v1h-1zM9 -35h1v1h-1zM9 -37h1v1h-1zM39 -47h1v1h-1z"/><path fill="#f6e18d" d="M10 -34h1v1h-1zM10 -35h1v1h-1zM9 -36h1v1h-1zM8 -37h1v1h-1zM24 -38h1v1h-1zM5 -40h1v1h-1zM41 -42h1v1h-1zM8 -43h1v1h-1zM15 -43h1v1h-1zM32 -43h1v1h-1zM39 -43h1v1h-1zM38 -44h1v1h-1zM2 -45h1v1h-1zM7 -45h1v1h-1zM38 -45h1v1h-1zM7 -46h1v1h-1zM40 -47h2v1h-2zM8 -50h1v1h-1z"/><path fill="#f6de78" d="M12 -34h1v1h-1zM28 -35h1v1h-1zM6 -36h1v1h-1zM1 -37h1v1h-1zM17 -38h1v1h-1zM3 -39h1v1h-1zM16 -40h1v1h-1zM12 -41h1v1h-1zM15 -41h1v1h-1zM14 -42h1v1h-1zM30 -43h1v1h-1zM9 -48h1v1h-1zM10 -51h1v1h-1z"/><path fill="#f6de6f" d="M13 -34h1v1h-1zM27 -35h1v1h-1zM5 -37h1v1h-1zM13 -40h1v1h-1zM15 -40h1v1h-1zM13 -45h1v1h-1zM10 -49h1v1h-1zM13 -49h1v1h-1zM11 -50h1v1h-1zM12 -51h1v1h-1z"/><path fill="#f6e499" d="M20 -34h1v1h-1zM21 -35h1v1h-1zM22 -36h1v1h-1zM19 -37h1v1h-1zM33 -41h1v1h-1zM5 -42h2v1h-2zM33 -42h1v1h-1zM5 -43h1v1h-1zM5 -44h1v1h-1zM31 -44h1v1h-1zM45 -44h1v1h-1zM4 -45h2v1h-2zM37 -45h1v1h-1zM45 -45h1v1h-1zM4 -46h2v1h-2zM3 -47h1v1h-1zM38 -47h1v1h-1zM-1 -48h1v1h-1zM3 -48h1v1h-1zM6 -48h1v1h-1zM41 -48h1v1h-1zM1 -49h2v1h-2zM7 -50h1v1h-1zM7 -51h1v1h-1z"/><path fill="#f9f3d2" d="M32 -34h1v1h-1zM41 -35h1v1h-1zM70 -37h1v1h-1zM69 -38h1v1h-1zM68 -39h2v1h-2zM67 -40h2v1h-2zM66 -41h2v1h-2zM65 -42h2v1h-2zM60 -43h5v1h-5zM58 -44h3v1h-3zM21 -45h4v1h-4zM57 -45h2v1h-2zM56 -46h2v1h-2zM20 -47h1v1h-1zM56 -47h1v1h-1zM19 -49h1v1h-1zM19 -50h1v1h-1zM19 -51h1v1h-1z"/><path fill="#f6edc9" d="M62 -34h4v1h-4zM62 -35h5v1h-5zM63 -36h4v1h-4zM64 -37h3v1h-3zM64 -38h2v1h-2zM63 -39h2v1h-2zM61 -40h1v1h-1z"/><path fill="#f6db60" d="M4 -35h1v1h-1zM2 -36h1v1h-1z"/><path fill="#f6de6c" d="M13 -35h1v1h-1zM1 -36h1v1h-1zM5 -36h1v1h-1zM4 -38h1v1h-1zM13 -46h1v1h-1zM13 -47h1v1h-1zM13 -48h1v1h-1zM12 -50h1v1h-1z"/><path fill="#f6de7b" d="M25 -35h1v1h-1zM6 -37h1v1h-1zM11 -37h1v1h-1zM11 -38h1v1h-1zM17 -39h1v1h-1zM11 -42h1v1h-1zM10 -43h1v1h-1zM29 -43h1v1h-1zM9 -44h1v1h-1zM9 -49h1v1h-1z"/><path fill="#f6edb7" d="M31 -35h1v1h-1zM33 -37h1v1h-1zM-1 -39h1v1h-1zM-1 -40h1v1h-1zM20 -40h1v1h-1zM35 -40h1v1h-1zM37 -40h1v1h-1zM45 -49h1v1h-1zM16 -50h1v1h-1z"/><path fill="#f6edc6" d="M57 -35h1v1h-1zM60 -35h2v1h-2zM56 -36h1v1h-1zM61 -36h2v1h-2zM56 -37h1v1h-1zM62 -37h2v1h-2zM56 -38h1v1h-1zM62 -38h2v1h-2zM56 -39h2v1h-2zM62 -39h1v1h-1zM57 -40h4v1h-4zM34 -50h1v1h-1z"/><path fill="#f6eaba" d="M-5 -36h1v1h-1zM-11 -39h1v1h-1zM50 -46h1v1h-1zM35 -47h1v1h-1zM-8 -48h1v1h-1zM-10 -49h1v1h-1zM36 -50h1v1h-1z"/><path fill="#f6e17e" d="M0 -36h1v1h-1zM11 -36h1v1h-1zM30 -36h1v1h-1zM5 -39h1v1h-1zM25 -39h1v1h-1zM14 -43h1v1h-1zM9 -50h1v1h-1z"/><path fill="#f3db66" d="M26 -36h1v1h-1z"/><path fill="#f3d857" d="M27 -36h2v1h-2zM30 -39h1v1h-1z"/><path fill="#f6e7a5" d="M20 -37h2v1h-2zM1 -40h1v1h-1zM24 -40h1v1h-1zM0 -41h1v1h-1zM43 -41h1v1h-1zM37 -42h1v1h-1zM-13 -43h2v1h-2zM36 -43h1v1h-1zM-12 -44h3v1h-3zM-6 -44h1v1h-1zM16 -44h1v1h-1zM-10 -45h4v1h-4zM36 -45h1v1h-1zM-9 -46h2v1h-2zM46 -46h1v1h-1zM-10 -47h1v1h-1zM37 -47h1v1h-1zM-11 -48h1v1h-1zM-2 -49h1v1h-1zM41 -49h1v1h-1zM-1 -50h1v1h-1zM40 -50h1v1h-1z"/><path fill="#f3d85d" d="M26 -37h1v1h-1zM26 -38h1v1h-1z"/><path fill="#f3d54b" d="M27 -37h1v1h-1zM27 -38h1v1h-1z"/><path fill="#f3d545" d="M28 -37h1v1h-1z"/><path fill="#f3d54e" d="M29 -37h1v1h-1z"/><path fill="#f6e48a" d="M1 -38h1v1h-1zM-1 -43h1v1h-1zM-3 -44h1v1h-1zM44 -44h1v1h-1zM-4 -45h1v1h-1zM-3 -46h1v1h-1z"/><path fill="#f6de69" d="M3 -38h1v1h-1z"/><path fill="#f6e7a8" d="M22 -38h1v1h-1zM23 -39h1v1h-1zM40 -40h1v1h-1zM38 -41h1v1h-1zM-13 -42h1v1h-1zM34 -42h1v1h-1zM-11 -43h2v1h-2zM34 -43h1v1h-1zM-9 -44h1v1h-1zM46 -44h1v1h-1zM-9 -47h1v1h-1zM45 -47h1v1h-1zM37 -48h1v1h-1zM43 -48h1v1h-1zM-12 -49h1v1h-1zM-13 -50h1v1h-1zM38 -50h1v1h-1zM-1 -51h1v1h-1zM39 -51h1v1h-1z"/><path fill="#f3d242" d="M28 -38h1v1h-1z"/><path fill="#f3d548" d="M29 -38h1v1h-1zM28 -39h2v1h-2z"/><path fill="#f3d85a" d="M30 -38h1v1h-1zM30 -40h1v1h-1zM29 -41h1v1h-1z"/><path fill="#f9edba" d="M34 -38h1v1h-1z"/><path fill="#f9f0c3" d="M35 -38h1v1h-1zM17 -49h1v1h-1z"/><path fill="#f9edc0" d="M39 -38h1v1h-1zM36 -39h2v1h-2zM43 -39h1v1h-1zM44 -40h1v1h-1zM47 -51h1v1h-1z"/><path fill="#f6e487" d="M2 -39h1v1h-1zM0 -43h1v1h-1zM14 -51h1v1h-1z"/><path fill="#f3db63" d="M26 -39h1v1h-1z"/><path fill="#f3d551" d="M27 -39h1v1h-1zM28 -40h2v1h-2z"/><path fill="#f9edbd" d="M35 -39h1v1h-1zM30 -45h1v1h-1z"/><path fill="#f3d860" d="M27 -40h1v1h-1zM28 -41h1v1h-1zM30 -41h1v1h-1z"/><path fill="#f6de81" d="M11 -41h1v1h-1z"/><path fill="#f6eaa8" d="M34 -41h1v1h-1zM-6 -47h1v1h-1z"/><path fill="#f6e799" d="M-3 -43h1v1h-1zM15 -45h1v1h-1zM15 -46h1v1h-1zM15 -47h1v1h-1zM15 -48h1v1h-1z"/><path fill="#f6e49c" d="M37 -43h1v1h-1zM4 -47h2v1h-2zM4 -48h2v1h-2zM38 -48h1v1h-1zM0 -49h1v1h-1zM3 -49h1v1h-1zM6 -49h1v1h-1zM39 -49h2v1h-2zM1 -50h3v1h-3zM1 -51h2v1h-2z"/><path fill="#f6f0c3" d="M18 -45h1v1h-1z"/><path fill="#f3db60" d="M11 -46h1v1h-1zM11 -47h1v1h-1z"/><path fill="#f6e49f" d="M37 -46h1v1h-1zM4 -49h1v1h-1zM0 -50h1v1h-1zM3 -51h1v1h-1z"/><path fill="#f9edc9" d="M33 -48h1v1h-1z"/><path fill="#f6edb4" d="M16 -49h1v1h-1z"/><path fill="#f6e7ae" d="M37 -49h1v1h-1z"/></g></g></g><use href="#lakes" fill="#fff"/><use href="#land" fill="none" stroke="#000" stroke-width="1.15"/><use href="#lakes" fill="none" stroke="#000" stroke-width="1.15"/></svg><rect x="583.90" y="318.80" width="394.00" height="188.00" fill="none" stroke="#111" stroke-width="1.9"/><text x="575.50" y="512.10" class="t" text-anchor="end">25</text><text x="575.50" y="480.77" class="t" text-anchor="end">30</text><text x="575.50" y="449.43" class="t" text-anchor="end">35</text><text x="575.50" y="418.10" class="t" text-anchor="end">40</text><text x="575.50" y="386.77" class="t" text-anchor="end">45</text><text x="575.50" y="355.43" class="t" text-anchor="end">50</text><text x="575.50" y="324.10" class="t" text-anchor="end">55</text><text x="583.90" y="527.70" class="t" text-anchor="middle">20W</text><text x="666.85" y="527.70" class="t" text-anchor="middle">0</text><text x="749.79" y="527.70" class="t" text-anchor="middle">20E</text><text x="832.74" y="527.70" class="t" text-anchor="middle">40E</text><text x="915.69" y="527.70" class="t" text-anchor="middle">60E</text><path d="M583.90 506.80h-4.6M583.90 475.47h-4.6M583.90 444.13h-4.6M583.90 412.80h-4.6M583.90 381.47h-4.6M583.90 350.13h-4.6M583.90 318.80h-4.6M583.90 506.80v4.6M666.85 506.80v4.6M749.79 506.80v4.6M832.74 506.80v4.6M915.69 506.80v4.6" stroke="#111" stroke-width="1.9" fill="none"/><text x="780.90" y="552.10" class="ax" text-anchor="middle">Longitude (<tspan dx="3">°</tspan><tspan dx="3">)</tspan></text><text transform="translate(549.90 412.80) rotate(-90)" class="ax" text-anchor="middle">Latitude (<tspan dx="3">°</tspan>N)</text><svg x="1120.60" y="56.00" width="394.25" height="187.70" viewBox="-20 -55 95 30" preserveAspectRatio="none"><g clip-path="url(#cland)"><g clip-path="url(#cmask)"><g filter="url(#bs)"><path fill="#6969b7" d="M49 -27h7v1h-7zM51 -28h5v1h-5zM54 -29h2v1h-2zM55 -30h1v1h-1zM55 -31h1v1h-1zM60 -36h1v1h-1zM61 -37h1v1h-1zM65 -39h2v1h-2zM67 -40h1v1h-1zM68 -41h1v1h-1zM68 -42h1v1h-1zM69 -44h1v1h-1z"/><path fill="#6363b4" d="M56 -27h1v1h-1zM56 -28h1v1h-1zM56 -29h1v1h-1zM56 -30h1v1h-1zM60 -35h1v1h-1zM62 -36h12v1h-12zM64 -37h3v1h-3z"/><path fill="#5d5db4" d="M57 -27h1v1h-1zM57 -28h1v1h-1zM57 -29h1v1h-1zM57 -30h1v1h-1zM63 -33h4v1h-4zM59 -34h2v1h-2zM67 -34h1v1h-1z"/><path fill="#5d5db1" d="M58 -27h4v1h-4zM58 -28h3v1h-3zM58 -29h3v1h-3zM58 -30h3v1h-3zM58 -31h3v1h-3zM58 -32h3v1h-3zM64 -32h2v1h-2zM58 -33h5v1h-5zM69 -35h1v1h-1z"/><path fill="#5a5ab1" d="M62 -27h4v1h-4zM61 -28h5v1h-5zM61 -29h5v1h-5zM61 -30h5v1h-5zM61 -31h6v1h-6zM61 -32h3v1h-3zM66 -32h1v1h-1zM67 -33h1v1h-1zM68 -34h1v1h-1zM70 -35h1v1h-1z"/><path fill="#5757ae" d="M66 -27h1v1h-1zM67 -30h1v1h-1zM67 -31h1v1h-1z"/><path fill="#5454ae" d="M67 -27h1v1h-1zM67 -28h1v1h-1zM67 -29h2v1h-2zM68 -30h2v1h-2zM68 -31h3v1h-3zM68 -32h5v1h-5zM69 -33h5v1h-5zM70 -34h4v1h-4z"/><path fill="#5151ab" d="M68 -27h1v1h-1zM69 -28h1v1h-1zM70 -29h2v1h-2zM71 -30h2v1h-2zM73 -31h1v1h-1z"/><path fill="#4e4eab" d="M69 -27h4v1h-4zM70 -28h4v1h-4zM72 -29h2v1h-2zM73 -30h1v1h-1z"/><path fill="#4b4bab" d="M73 -27h1v1h-1z"/><path fill="#c3c3e1" d="M-12 -28h4v1h-4zM-12 -29h4v1h-4zM-13 -30h4v1h-4zM-13 -31h3v1h-3zM-13 -32h2v1h-2zM19 -33h1v1h-1zM20 -35h1v1h-1zM20 -36h2v1h-2zM21 -37h1v1h-1zM21 -38h2v1h-2zM22 -39h1v1h-1zM22 -40h1v1h-1zM22 -41h1v1h-1zM22 -42h1v1h-1zM21 -43h2v1h-2zM21 -44h1v1h-1zM21 -45h1v1h-1zM20 -46h1v1h-1zM19 -47h1v1h-1zM19 -48h1v1h-1zM19 -49h1v1h-1z"/><path fill="#9c9ccf" d="M34 -28h1v1h-1zM34 -29h1v1h-1zM34 -30h1v1h-1zM34 -31h2v1h-2zM34 -32h2v1h-2zM34 -33h2v1h-2zM34 -34h2v1h-2zM34 -35h2v1h-2zM34 -36h1v1h-1zM34 -37h1v1h-1zM34 -38h1v1h-1zM33 -39h2v1h-2zM34 -40h1v1h-1zM34 -41h1v1h-1zM34 -42h1v1h-1zM34 -43h1v1h-1zM35 -44h1v1h-1zM39 -46h1v1h-1zM40 -47h1v1h-1zM41 -48h1v1h-1zM41 -49h1v1h-1zM41 -50h1v1h-1zM41 -51h2v1h-2z"/><path fill="#9999cf" d="M35 -28h2v1h-2zM35 -29h4v1h-4zM35 -30h5v1h-5zM36 -31h5v1h-5zM36 -32h4v1h-4zM36 -33h4v1h-4zM36 -34h3v1h-3zM36 -35h2v1h-2zM35 -36h3v1h-3zM35 -37h2v1h-2zM35 -38h1v1h-1zM35 -39h1v1h-1zM35 -40h1v1h-1zM35 -41h1v1h-1zM35 -42h1v1h-1zM35 -43h1v1h-1zM36 -44h1v1h-1zM38 -45h1v1h-1zM40 -46h1v1h-1zM41 -47h1v1h-1zM42 -49h1v1h-1zM42 -50h1v1h-1z"/><path fill="#6c6cba" d="M48 -28h2v1h-2zM49 -29h3v1h-3zM51 -30h4v1h-4zM53 -31h2v1h-2zM55 -32h1v1h-1zM56 -33h1v1h-1zM57 -35h1v1h-1zM59 -36h1v1h-1zM60 -37h1v1h-1zM61 -38h1v1h-1zM62 -39h2v1h-2zM65 -40h2v1h-2zM66 -41h1v1h-1zM67 -42h1v1h-1zM67 -43h1v1h-1z"/><path fill="#6c6cb7" d="M50 -28h1v1h-1zM52 -29h2v1h-2z"/><path fill="#5757b1" d="M66 -28h1v1h-1zM66 -29h1v1h-1zM66 -30h1v1h-1zM67 -32h1v1h-1zM68 -33h1v1h-1zM69 -34h1v1h-1zM71 -35h3v1h-3z"/><path fill="#5151ae" d="M68 -28h1v1h-1zM69 -29h1v1h-1zM70 -30h1v1h-1zM71 -31h2v1h-2zM73 -32h1v1h-1z"/><path fill="#c6c6e1" d="M-8 -29h1v1h-1zM-9 -30h2v1h-2zM-10 -31h2v1h-2zM-11 -32h2v1h-2zM-13 -33h2v1h-2zM19 -34h1v1h-1z"/><path fill="#c6c6e4" d="M-7 -29h1v1h-1zM-7 -30h2v1h-2zM-8 -31h2v1h-2zM-9 -32h2v1h-2zM-11 -33h4v1h-4zM-13 -34h4v1h-4zM19 -35h1v1h-1zM20 -37h1v1h-1zM20 -38h1v1h-1zM21 -39h1v1h-1zM21 -40h1v1h-1zM21 -41h1v1h-1zM21 -42h1v1h-1zM20 -43h1v1h-1zM20 -44h1v1h-1zM20 -45h1v1h-1zM19 -46h1v1h-1zM18 -48h1v1h-1zM18 -49h1v1h-1zM18 -50h1v1h-1zM18 -51h1v1h-1z"/><path fill="#a2a2d2" d="M30 -29h2v1h-2zM28 -30h4v1h-4zM28 -31h4v1h-4zM29 -32h3v1h-3zM29 -33h3v1h-3zM30 -34h2v1h-2zM30 -35h2v1h-2zM31 -36h1v1h-1zM31 -37h1v1h-1zM31 -38h1v1h-1zM31 -39h1v1h-1zM31 -40h1v1h-1zM31 -41h1v1h-1zM31 -42h2v1h-2zM32 -43h1v1h-1zM33 -44h1v1h-1zM35 -45h2v1h-2zM36 -46h2v1h-2zM36 -47h3v1h-3zM37 -48h2v1h-2zM37 -49h2v1h-2zM37 -50h2v1h-2zM37 -51h2v1h-2z"/><path fill="#9f9fd2" d="M32 -29h2v1h-2zM32 -30h2v1h-2zM32 -31h2v1h-2zM32 -32h2v1h-2zM32 -33h2v1h-2zM32 -34h2v1h-2zM32 -35h2v1h-2zM32 -36h2v1h-2zM32 -37h2v1h-2zM32 -38h1v1h-1zM32 -39h1v1h-1zM32 -40h1v1h-1zM32 -41h2v1h-2zM33 -42h1v1h-1zM33 -43h1v1h-1zM34 -44h1v1h-1zM38 -46h1v1h-1zM39 -47h1v1h-1zM39 -48h1v1h-1zM39 -49h1v1h-1zM39 -50h1v1h-1zM39 -51h1v1h-1z"/><path fill="#7272bd" d="M47 -29h1v1h-1zM48 -30h1v1h-1zM49 -31h2v1h-2zM51 -32h2v1h-2zM52 -33h3v1h-3zM53 -34h3v1h-3zM55 -35h2v1h-2zM56 -36h1v1h-1zM56 -37h2v1h-2zM56 -38h2v1h-2zM57 -39h2v1h-2zM58 -40h2v1h-2zM59 -41h2v1h-2zM60 -42h2v1h-2zM60 -43h2v1h-2zM61 -44h2v1h-2zM61 -45h2v1h-2zM62 -46h1v1h-1z"/><path fill="#6f6fba" d="M48 -29h1v1h-1zM49 -30h2v1h-2zM51 -31h2v1h-2zM53 -32h2v1h-2zM56 -34h1v1h-1zM58 -36h1v1h-1zM59 -37h1v1h-1zM63 -40h2v1h-2zM65 -41h1v1h-1zM66 -42h1v1h-1zM66 -43h1v1h-1zM67 -44h1v1h-1zM67 -45h1v1h-1z"/><path fill="#c9c9e4" d="M-5 -30h1v1h-1zM-6 -31h1v1h-1zM-7 -32h2v1h-2zM-7 -33h1v1h-1zM18 -33h1v1h-1zM-9 -34h2v1h-2zM-13 -35h4v1h-4zM19 -36h1v1h-1zM19 -37h1v1h-1zM20 -39h1v1h-1zM20 -40h1v1h-1zM20 -41h1v1h-1zM20 -42h1v1h-1zM19 -43h1v1h-1zM19 -44h1v1h-1zM19 -45h1v1h-1zM18 -46h1v1h-1zM18 -47h1v1h-1z"/><path fill="#cccce7" d="M-4 -30h1v1h-1zM-5 -31h1v1h-1zM-5 -32h1v1h-1zM-6 -33h1v1h-1zM-6 -34h1v1h-1zM18 -34h1v1h-1zM-9 -35h3v1h-3zM19 -38h1v1h-1zM19 -39h1v1h-1zM19 -40h1v1h-1zM19 -41h1v1h-1zM18 -43h1v1h-1zM18 -44h1v1h-1zM18 -45h1v1h-1zM17 -48h1v1h-1zM17 -49h1v1h-1zM17 -50h1v1h-1zM17 -51h1v1h-1z"/><path fill="#7b7bc0" d="M46 -30h1v1h-1zM46 -31h2v1h-2zM45 -32h3v1h-3zM45 -33h4v1h-4zM46 -34h3v1h-3zM47 -35h3v1h-3zM49 -36h2v1h-2zM50 -37h2v1h-2zM52 -38h1v1h-1zM53 -39h1v1h-1zM53 -40h2v1h-2zM53 -41h3v1h-3zM53 -42h4v1h-4zM52 -43h6v1h-6zM53 -44h6v1h-6zM54 -45h6v1h-6zM54 -46h6v1h-6zM55 -47h6v1h-6z"/><path fill="#7878c0" d="M47 -30h1v1h-1zM48 -31h1v1h-1zM48 -32h1v1h-1zM49 -33h1v1h-1zM49 -34h2v1h-2zM50 -35h1v1h-1zM51 -36h1v1h-1zM52 -37h1v1h-1zM53 -38h1v1h-1zM54 -39h1v1h-1zM55 -40h1v1h-1zM56 -41h1v1h-1zM57 -42h1v1h-1zM58 -43h1v1h-1zM59 -44h1v1h-1zM60 -45h1v1h-1zM60 -46h1v1h-1z"/><path fill="#cfcfe7" d="M-4 -31h1v1h-1zM-4 -32h1v1h-1zM-5 -33h2v1h-2zM-5 -34h1v1h-1zM-6 -35h2v1h-2zM18 -35h1v1h-1zM-13 -36h7v1h-7zM18 -36h1v1h-1zM18 -41h1v1h-1zM18 -42h1v1h-1zM17 -44h1v1h-1zM17 -45h1v1h-1zM17 -46h1v1h-1zM17 -47h1v1h-1z"/><path fill="#d2d2e7" d="M-3 -31h1v1h-1zM-4 -34h1v1h-1z"/><path fill="#d2d2ea" d="M-2 -31h1v1h-1zM-3 -32h2v1h-2zM-3 -33h2v1h-2zM-3 -34h1v1h-1zM-4 -35h1v1h-1zM-6 -36h2v1h-2zM-13 -37h6v1h-6zM18 -37h1v1h-1zM18 -38h1v1h-1zM18 -39h1v1h-1zM18 -40h1v1h-1zM17 -42h1v1h-1zM17 -43h1v1h-1z"/><path fill="#d5d5ea" d="M-1 -31h2v1h-2zM-1 -32h2v1h-2zM-1 -33h2v1h-2zM17 -33h1v1h-1zM-2 -34h2v1h-2zM17 -34h1v1h-1zM-3 -35h3v1h-3zM17 -35h1v1h-1zM-4 -36h2v1h-2zM17 -36h1v1h-1zM-7 -37h3v1h-3zM-13 -38h7v1h-7zM-13 -39h5v1h-5zM17 -40h1v1h-1zM17 -41h1v1h-1zM16 -43h1v1h-1zM16 -44h1v1h-1zM16 -45h1v1h-1zM16 -46h1v1h-1zM16 -47h1v1h-1zM16 -48h1v1h-1zM16 -49h1v1h-1zM16 -50h1v1h-1zM16 -51h1v1h-1z"/><path fill="#a5a5d2" d="M27 -31h1v1h-1zM28 -32h1v1h-1zM31 -43h1v1h-1zM32 -44h1v1h-1zM34 -45h1v1h-1zM35 -46h1v1h-1zM35 -47h1v1h-1zM35 -48h2v1h-2zM35 -49h2v1h-2zM35 -50h2v1h-2zM35 -51h2v1h-2z"/><path fill="#6666b7" d="M56 -31h1v1h-1zM56 -32h1v1h-1zM57 -34h1v1h-1zM58 -35h1v1h-1zM61 -36h1v1h-1zM62 -37h1v1h-1zM69 -37h5v1h-5zM63 -38h2v1h-2zM67 -38h7v1h-7zM67 -39h7v1h-7zM68 -40h6v1h-6zM69 -41h5v1h-5zM69 -42h5v1h-5zM69 -43h5v1h-5zM70 -44h4v1h-4zM70 -45h3v1h-3z"/><path fill="#6060b4" d="M57 -31h1v1h-1zM57 -32h1v1h-1zM57 -33h1v1h-1zM58 -34h1v1h-1zM61 -34h6v1h-6zM61 -35h8v1h-8z"/><path fill="#d8d8ea" d="M1 -32h1v1h-1zM0 -34h1v1h-1zM-2 -36h1v1h-1zM17 -37h1v1h-1zM-8 -39h1v1h-1z"/><path fill="#d8d8ed" d="M2 -32h2v1h-2zM1 -33h3v1h-3zM12 -33h5v1h-5zM1 -34h3v1h-3zM11 -34h6v1h-6zM0 -35h4v1h-4zM11 -35h6v1h-6zM-1 -36h4v1h-4zM12 -36h5v1h-5zM-4 -37h2v1h-2zM1 -37h1v1h-1zM12 -37h5v1h-5zM-6 -38h2v1h-2zM16 -38h2v1h-2zM-7 -39h2v1h-2zM16 -39h2v1h-2zM-13 -40h7v1h-7zM16 -40h1v1h-1zM-13 -41h5v1h-5zM16 -41h1v1h-1zM16 -42h1v1h-1z"/><path fill="#dbdbed" d="M4 -32h2v1h-2zM4 -33h8v1h-8zM4 -34h7v1h-7zM4 -35h7v1h-7zM3 -36h9v1h-9zM-2 -37h3v1h-3zM2 -37h10v1h-10zM-4 -38h3v1h-3zM0 -38h9v1h-9zM10 -38h6v1h-6zM-5 -39h2v1h-2zM12 -39h4v1h-4zM-6 -40h2v1h-2zM14 -40h2v1h-2zM-8 -41h3v1h-3zM15 -41h1v1h-1zM-13 -42h7v1h-7zM15 -42h1v1h-1zM-13 -43h6v1h-6zM15 -43h1v1h-1zM-13 -44h5v1h-5zM15 -44h1v1h-1zM-13 -45h4v1h-4zM15 -45h1v1h-1zM-13 -46h3v1h-3zM-13 -47h3v1h-3zM-13 -48h1v1h-1z"/><path fill="#b7b7db" d="M24 -32h1v1h-1zM24 -33h1v1h-1zM24 -34h2v1h-2zM25 -35h1v1h-1zM25 -36h1v1h-1zM25 -40h1v1h-1zM25 -41h1v1h-1zM26 -43h1v1h-1zM26 -44h1v1h-1zM25 -45h2v1h-2zM25 -46h1v1h-1zM24 -47h2v1h-2zM24 -48h1v1h-1zM24 -49h1v1h-1zM24 -50h1v1h-1zM24 -51h1v1h-1z"/><path fill="#b1b1d8" d="M25 -32h1v1h-1zM26 -33h1v1h-1zM26 -36h1v1h-1zM26 -37h1v1h-1zM26 -38h1v1h-1zM26 -39h1v1h-1zM27 -41h1v1h-1zM28 -43h1v1h-1zM28 -46h1v1h-1zM28 -47h1v1h-1zM27 -48h2v1h-2zM27 -49h1v1h-1zM27 -50h1v1h-1zM26 -51h2v1h-2z"/><path fill="#ababd5" d="M26 -32h1v1h-1zM27 -33h1v1h-1zM28 -35h1v1h-1zM28 -36h1v1h-1zM28 -37h1v1h-1zM28 -38h1v1h-1zM28 -39h1v1h-1zM29 -42h1v1h-1zM30 -45h1v1h-1zM30 -46h1v1h-1zM30 -47h1v1h-1zM30 -48h1v1h-1zM30 -49h1v1h-1zM30 -50h1v1h-1zM30 -51h1v1h-1z"/><path fill="#a5a5d5" d="M27 -32h1v1h-1zM28 -33h1v1h-1zM29 -34h1v1h-1zM29 -35h1v1h-1zM30 -36h1v1h-1zM30 -37h1v1h-1zM30 -38h1v1h-1zM30 -39h1v1h-1zM30 -40h1v1h-1zM30 -41h1v1h-1zM30 -42h1v1h-1zM31 -44h1v1h-1zM33 -45h1v1h-1zM33 -46h2v1h-2zM34 -47h1v1h-1zM34 -48h1v1h-1zM34 -49h1v1h-1zM34 -50h1v1h-1zM34 -51h1v1h-1z"/><path fill="#9696cf" d="M40 -32h1v1h-1z"/><path fill="#7575c0" d="M49 -32h1v1h-1zM51 -35h1v1h-1zM52 -36h1v1h-1zM53 -37h1v1h-1zM54 -38h1v1h-1zM55 -39h1v1h-1zM56 -40h1v1h-1z"/><path fill="#7575bd" d="M50 -32h1v1h-1zM50 -33h2v1h-2zM51 -34h2v1h-2zM52 -35h3v1h-3zM53 -36h3v1h-3zM54 -37h2v1h-2zM55 -38h1v1h-1zM56 -39h1v1h-1zM57 -40h1v1h-1zM57 -41h2v1h-2zM58 -42h2v1h-2zM59 -43h1v1h-1zM60 -44h1v1h-1zM61 -46h1v1h-1zM61 -47h1v1h-1z"/><path fill="#c0c0de" d="M20 -33h1v1h-1z"/><path fill="#bdbdde" d="M21 -33h1v1h-1zM21 -34h2v1h-2zM22 -35h1v1h-1zM23 -36h1v1h-1zM23 -37h1v1h-1zM23 -43h1v1h-1zM23 -44h1v1h-1zM23 -45h1v1h-1zM22 -46h1v1h-1zM21 -48h1v1h-1zM21 -49h1v1h-1zM21 -50h1v1h-1zM21 -51h1v1h-1z"/><path fill="#babade" d="M22 -33h1v1h-1zM23 -34h1v1h-1zM23 -35h1v1h-1zM24 -36h1v1h-1zM24 -37h1v1h-1zM24 -38h1v1h-1zM24 -39h1v1h-1zM24 -40h1v1h-1zM24 -41h1v1h-1zM24 -42h1v1h-1zM24 -43h2v1h-2zM24 -44h2v1h-2zM24 -45h1v1h-1zM23 -46h1v1h-1zM22 -47h2v1h-2zM22 -48h1v1h-1zM22 -49h1v1h-1zM22 -50h1v1h-1zM22 -51h1v1h-1z"/><path fill="#babadb" d="M23 -33h1v1h-1zM24 -35h1v1h-1z"/><path fill="#b4b4db" d="M25 -33h1v1h-1zM26 -34h1v1h-1zM26 -35h1v1h-1zM25 -37h1v1h-1zM25 -38h1v1h-1zM25 -39h1v1h-1zM26 -41h1v1h-1zM26 -42h1v1h-1zM27 -43h1v1h-1zM27 -44h1v1h-1zM27 -45h1v1h-1zM26 -46h2v1h-2zM26 -47h1v1h-1zM25 -48h2v1h-2zM25 -49h2v1h-2zM25 -50h1v1h-1zM25 -51h1v1h-1z"/><path fill="#9696cc" d="M40 -33h1v1h-1zM39 -34h2v1h-2zM38 -35h2v1h-2zM38 -36h2v1h-2zM37 -37h2v1h-2zM36 -38h2v1h-2zM36 -39h1v1h-1zM36 -40h1v1h-1zM36 -41h1v1h-1zM36 -43h1v1h-1zM37 -44h1v1h-1zM39 -45h1v1h-1zM42 -47h1v1h-1zM43 -48h1v1h-1zM43 -49h3v1h-3zM44 -50h3v1h-3zM45 -51h3v1h-3z"/><path fill="#9393cc" d="M41 -33h1v1h-1zM41 -34h1v1h-1zM40 -35h1v1h-1zM40 -36h1v1h-1zM39 -37h1v1h-1zM38 -38h1v1h-1zM37 -39h1v1h-1zM37 -40h1v1h-1zM37 -41h1v1h-1zM36 -42h1v1h-1zM41 -46h1v1h-1zM43 -47h2v1h-2zM44 -48h3v1h-3zM46 -49h3v1h-3zM47 -50h2v1h-2zM48 -51h1v1h-1z"/><path fill="#7e7ec3" d="M44 -33h1v1h-1zM44 -34h1v1h-1zM45 -35h2v1h-2zM46 -36h2v1h-2zM46 -37h4v1h-4zM47 -38h5v1h-5zM46 -39h7v1h-7zM45 -40h8v1h-8zM44 -41h9v1h-9zM45 -42h7v1h-7zM46 -43h6v1h-6zM51 -44h1v1h-1zM52 -45h1v1h-1z"/><path fill="#6f6fbd" d="M55 -33h1v1h-1zM57 -36h1v1h-1zM58 -37h1v1h-1zM58 -38h3v1h-3zM59 -39h3v1h-3zM60 -40h3v1h-3zM61 -41h4v1h-4zM62 -42h4v1h-4zM62 -43h4v1h-4zM63 -44h4v1h-4zM63 -45h4v1h-4zM63 -46h3v1h-3z"/><path fill="#cccce4" d="M-7 -34h1v1h-1zM19 -42h1v1h-1z"/><path fill="#c0c0e1" d="M20 -34h1v1h-1zM21 -35h1v1h-1zM22 -36h1v1h-1zM22 -37h1v1h-1zM23 -38h1v1h-1zM23 -39h1v1h-1zM23 -40h1v1h-1zM23 -41h1v1h-1zM23 -42h1v1h-1zM22 -44h1v1h-1zM22 -45h1v1h-1zM21 -46h1v1h-1zM20 -47h1v1h-1zM20 -48h1v1h-1zM20 -49h1v1h-1zM19 -50h1v1h-1zM19 -51h1v1h-1z"/><path fill="#aeaed8" d="M27 -34h1v1h-1zM27 -35h1v1h-1zM27 -36h1v1h-1zM27 -37h1v1h-1zM27 -39h1v1h-1zM27 -40h1v1h-1zM28 -42h1v1h-1zM29 -44h1v1h-1zM29 -45h1v1h-1zM29 -46h1v1h-1zM29 -47h1v1h-1zM29 -48h1v1h-1zM28 -49h2v1h-2zM28 -50h2v1h-2zM28 -51h2v1h-2z"/><path fill="#a8a8d5" d="M28 -34h1v1h-1zM29 -36h1v1h-1zM29 -37h1v1h-1zM29 -38h1v1h-1zM29 -39h1v1h-1zM29 -40h1v1h-1zM29 -41h1v1h-1zM30 -43h1v1h-1zM30 -44h1v1h-1zM31 -45h2v1h-2zM31 -46h2v1h-2zM31 -47h3v1h-3zM31 -48h3v1h-3zM31 -49h3v1h-3zM31 -50h3v1h-3zM31 -51h3v1h-3z"/><path fill="#8d8dc9" d="M42 -34h1v1h-1zM41 -36h1v1h-1zM40 -38h1v1h-1zM39 -39h1v1h-1zM39 -40h1v1h-1zM38 -41h1v1h-1zM38 -42h1v1h-1zM38 -43h1v1h-1zM39 -44h1v1h-1zM41 -45h2v1h-2zM44 -46h6v1h-6zM50 -47h1v1h-1z"/><path fill="#7e7ec0" d="M45 -34h1v1h-1zM48 -36h1v1h-1zM52 -42h1v1h-1zM52 -44h1v1h-1z"/><path fill="#9090c9" d="M41 -35h1v1h-1zM40 -37h1v1h-1zM39 -38h1v1h-1zM38 -40h1v1h-1zM40 -45h1v1h-1zM42 -46h2v1h-2zM45 -47h5v1h-5zM48 -48h3v1h-3zM49 -49h1v1h-1z"/><path fill="#8a8ac6" d="M42 -35h1v1h-1zM42 -36h1v1h-1zM41 -38h1v1h-1zM40 -40h1v1h-1zM44 -45h3v1h-3z"/><path fill="#8181c3" d="M44 -35h1v1h-1zM45 -36h1v1h-1zM45 -37h1v1h-1zM45 -38h2v1h-2zM44 -39h2v1h-2zM43 -40h2v1h-2zM43 -41h1v1h-1zM43 -42h2v1h-2zM44 -43h2v1h-2zM48 -44h3v1h-3zM51 -45h1v1h-1z"/><path fill="#6363b7" d="M59 -35h1v1h-1zM63 -37h1v1h-1zM67 -37h2v1h-2zM65 -38h2v1h-2z"/><path fill="#8787c6" d="M43 -36h1v1h-1zM42 -37h2v1h-2zM42 -38h1v1h-1zM41 -39h2v1h-2zM41 -40h1v1h-1zM40 -41h1v1h-1zM40 -42h1v1h-1zM40 -43h2v1h-2zM41 -44h4v1h-4zM47 -45h3v1h-3zM51 -46h1v1h-1z"/><path fill="#8484c3" d="M44 -36h1v1h-1zM44 -37h1v1h-1zM44 -38h1v1h-1zM42 -41h1v1h-1zM42 -42h1v1h-1zM43 -43h1v1h-1zM47 -44h1v1h-1z"/><path fill="#8a8ac9" d="M41 -37h1v1h-1zM40 -39h1v1h-1zM39 -41h1v1h-1zM39 -42h1v1h-1zM39 -43h1v1h-1zM40 -44h1v1h-1zM43 -45h1v1h-1zM50 -46h1v1h-1zM51 -47h1v1h-1z"/><path fill="#dedeed" d="M-1 -38h1v1h-1zM9 -38h1v1h-1zM3 -39h3v1h-3zM-8 -44h1v1h-1zM-9 -45h1v1h-1zM-10 -46h1v1h-1zM15 -46h1v1h-1zM15 -47h1v1h-1zM-12 -48h1v1h-1zM15 -48h1v1h-1zM-13 -49h1v1h-1zM15 -49h1v1h-1zM15 -50h1v1h-1zM15 -51h1v1h-1z"/><path fill="#ababd8" d="M27 -38h1v1h-1zM28 -40h1v1h-1zM28 -41h1v1h-1zM29 -43h1v1h-1z"/><path fill="#9f9fcf" d="M33 -38h1v1h-1zM33 -40h1v1h-1zM37 -45h1v1h-1zM40 -48h1v1h-1zM40 -49h1v1h-1zM40 -50h1v1h-1zM40 -51h1v1h-1z"/><path fill="#8484c6" d="M43 -38h1v1h-1zM43 -39h1v1h-1zM42 -40h1v1h-1zM41 -41h1v1h-1zM41 -42h1v1h-1zM42 -43h1v1h-1zM45 -44h2v1h-2zM50 -45h1v1h-1z"/><path fill="#6969ba" d="M62 -38h1v1h-1zM64 -39h1v1h-1zM67 -41h1v1h-1zM68 -43h1v1h-1z"/><path fill="#dedef0" d="M-3 -39h6v1h-6zM6 -39h6v1h-6zM-4 -40h2v1h-2zM6 -40h1v1h-1zM12 -40h2v1h-2zM-5 -41h1v1h-1zM14 -41h1v1h-1zM-6 -42h1v1h-1zM14 -42h1v1h-1zM-7 -43h1v1h-1zM-7 -44h1v1h-1zM-8 -45h1v1h-1zM-9 -46h1v1h-1zM-10 -47h1v1h-1zM-11 -48h1v1h-1zM-12 -49h1v1h-1z"/><path fill="#9090cc" d="M38 -39h1v1h-1zM37 -42h1v1h-1zM37 -43h1v1h-1zM38 -44h1v1h-1zM47 -48h1v1h-1z"/><path fill="#e1e1f0" d="M-2 -40h8v1h-8zM7 -40h5v1h-5zM-4 -41h3v1h-3zM7 -41h3v1h-3zM11 -41h3v1h-3zM-5 -42h2v1h-2zM13 -42h1v1h-1zM-6 -43h2v1h-2zM14 -43h1v1h-1zM-6 -44h1v1h-1zM14 -44h1v1h-1zM-7 -45h1v1h-1zM14 -45h1v1h-1zM-8 -46h1v1h-1zM-9 -47h1v1h-1zM-10 -48h1v1h-1zM-13 -50h1v1h-1z"/><path fill="#b1b1db" d="M26 -40h1v1h-1zM27 -42h1v1h-1zM28 -44h1v1h-1zM28 -45h1v1h-1zM27 -47h1v1h-1zM26 -50h1v1h-1z"/><path fill="#e4e4f0" d="M-1 -41h1v1h-1zM6 -41h1v1h-1zM10 -41h1v1h-1zM-3 -42h1v1h-1zM-4 -43h1v1h-1zM13 -43h1v1h-1zM-5 -44h1v1h-1zM-6 -45h1v1h-1zM-7 -46h1v1h-1zM14 -46h1v1h-1zM14 -47h1v1h-1zM14 -48h1v1h-1zM-11 -49h1v1h-1z"/><path fill="#e4e4f3" d="M0 -41h1v1h-1zM5 -41h1v1h-1zM-2 -42h1v1h-1zM8 -42h5v1h-5zM13 -44h1v1h-1zM14 -49h1v1h-1zM-12 -50h1v1h-1z"/><path fill="#e7e7f3" d="M1 -41h2v1h-2zM-1 -42h2v1h-2zM6 -42h2v1h-2zM-3 -43h2v1h-2zM11 -43h2v1h-2zM-4 -44h1v1h-1zM12 -44h1v1h-1zM-5 -45h1v1h-1zM13 -45h1v1h-1zM13 -46h1v1h-1zM-8 -47h1v1h-1zM-9 -48h1v1h-1zM14 -50h1v1h-1zM-13 -51h1v1h-1zM14 -51h1v1h-1z"/><path fill="#eaeaf3" d="M3 -41h2v1h-2zM1 -42h1v1h-1zM5 -42h1v1h-1zM-1 -43h2v1h-2zM7 -43h4v1h-4zM-3 -44h2v1h-2zM10 -44h2v1h-2zM-4 -45h1v1h-1zM12 -45h1v1h-1zM-6 -46h1v1h-1zM12 -46h1v1h-1zM13 -47h1v1h-1zM13 -48h1v1h-1zM-10 -49h1v1h-1zM13 -49h1v1h-1z"/><path fill="#ededf6" d="M2 -42h1v1h-1zM1 -43h1v1h-1zM6 -43h1v1h-1zM-1 -44h2v1h-2zM7 -44h3v1h-3zM-3 -45h2v1h-2zM9 -45h3v1h-3zM-5 -46h2v1h-2zM10 -46h2v1h-2zM-7 -47h1v1h-1zM11 -47h2v1h-2zM12 -48h1v1h-1zM12 -49h1v1h-1zM-11 -50h1v1h-1zM13 -51h1v1h-1z"/><path fill="#f0f0f6" d="M3 -42h2v1h-2zM2 -43h4v1h-4zM1 -44h2v1h-2zM5 -44h2v1h-2zM-1 -45h2v1h-2zM6 -45h3v1h-3zM-3 -46h2v1h-2zM7 -46h3v1h-3zM-6 -47h1v1h-1zM8 -47h3v1h-3zM-8 -48h1v1h-1zM9 -48h3v1h-3zM-9 -49h1v1h-1zM10 -49h2v1h-2zM11 -50h2v1h-2zM-12 -51h1v1h-1zM11 -51h2v1h-2z"/><path fill="#b7b7de" d="M25 -42h1v1h-1zM24 -46h1v1h-1zM23 -48h1v1h-1zM23 -49h1v1h-1zM23 -50h1v1h-1zM23 -51h1v1h-1z"/><path fill="#f3f3f6" d="M3 -44h2v1h-2zM1 -45h1v1h-1zM4 -45h2v1h-2zM-1 -46h1v1h-1zM5 -46h2v1h-2zM-5 -47h2v1h-2zM6 -47h2v1h-2zM8 -48h1v1h-1zM9 -49h1v1h-1zM10 -50h1v1h-1z"/><path fill="#f3f3f9" d="M2 -45h2v1h-2zM0 -46h5v1h-5zM-3 -47h3v1h-3zM5 -47h1v1h-1zM-7 -48h2v1h-2zM5 -48h3v1h-3zM-8 -49h1v1h-1zM6 -49h3v1h-3zM-10 -50h1v1h-1zM7 -50h3v1h-3zM-11 -51h1v1h-1zM7 -51h4v1h-4z"/><path fill="#f6f6f9" d="M0 -47h5v1h-5zM-5 -48h10v1h-10zM-7 -49h13v1h-13zM-9 -50h16v1h-16zM-10 -51h10v1h-10zM2 -51h5v1h-5z"/><path fill="#bdbde1" d="M21 -47h1v1h-1zM20 -50h1v1h-1zM20 -51h1v1h-1z"/><path fill="#9999cc" d="M42 -48h1v1h-1zM43 -50h1v1h-1zM43 -51h2v1h-2z"/><path fill="#eaeaf6" d="M13 -50h1v1h-1z"/><path fill="#f9f9f9" d="M0 -51h2v1h-2z"/></g></g></g><use href="#lakes" fill="#fff"/><use href="#land" fill="none" stroke="#000" stroke-width="1.15"/><use href="#lakes" fill="none" stroke="#000" stroke-width="1.15"/></svg><path d="M1238.4 89.8h0M1239.5 91.4h0M1234.4 99.6h0M1275.6 98.0h0M1282.6 101.2h0M1239.8 114.6h0M1249.0 112.6h0M1211.3 124.8h0M1221.1 126.2h0M1209.7 131.1h0M1211.8 132.2h0M1180.2 127.8h0M1166.1 157.2h0M1175.8 163.2h0M1183.9 169.7h0M1180.9 177.3h0M1184.5 182.7h0M1215.1 172.4h0M1221.1 170.0h0M1241.1 169.7h0M1263.4 175.6h0M1250.4 182.7h0M1273.7 130.0h0M1201.5 115.3h0M1266.6 123.5h0M1273.1 147.4h0M1256.3 139.2h0M1389.2 137.1h0M1390.5 138.6h0M1392.0 137.7h0M1393.5 139.4h0M1395.3 138.6h0M1390.1 140.1h0M1387.3 147.9h0" stroke="#000" stroke-width="2.6" stroke-linecap="round" fill="none"/><rect x="1120.60" y="56.00" width="394.25" height="187.70" fill="none" stroke="#111" stroke-width="1.9"/><text x="1112.20" y="249.00" class="t" text-anchor="end">25</text><text x="1112.20" y="217.72" class="t" text-anchor="end">30</text><text x="1112.20" y="186.43" class="t" text-anchor="end">35</text><text x="1112.20" y="155.15" class="t" text-anchor="end">40</text><text x="1112.20" y="123.87" class="t" text-anchor="end">45</text><text x="1112.20" y="92.58" class="t" text-anchor="end">50</text><text x="1112.20" y="61.30" class="t" text-anchor="end">55</text><text x="1120.60" y="264.60" class="t" text-anchor="middle">20W</text><text x="1203.60" y="264.60" class="t" text-anchor="middle">0</text><text x="1286.60" y="264.60" class="t" text-anchor="middle">20E</text><text x="1369.60" y="264.60" class="t" text-anchor="middle">40E</text><text x="1452.60" y="264.60" class="t" text-anchor="middle">60E</text><path d="M1120.60 243.70h-4.6M1120.60 212.42h-4.6M1120.60 181.13h-4.6M1120.60 149.85h-4.6M1120.60 118.57h-4.6M1120.60 87.28h-4.6M1120.60 56.00h-4.6M1120.60 243.70v4.6M1203.60 243.70v4.6M1286.60 243.70v4.6M1369.60 243.70v4.6M1452.60 243.70v4.6" stroke="#111" stroke-width="1.9" fill="none"/><text x="1317.72" y="289.00" class="ax" text-anchor="middle">Longitude (<tspan dx="3">°</tspan><tspan dx="3">)</tspan></text><text transform="translate(1086.60 149.85) rotate(-90)" class="ax" text-anchor="middle">Latitude (<tspan dx="3">°</tspan>N)</text><svg x="1589.70" y="56.00" width="394.20" height="187.70" viewBox="-20 -55 95 30" preserveAspectRatio="none"><g clip-path="url(#cland)"><g clip-path="url(#cmask)"><g filter="url(#bs)"><path fill="#f6c9b7" d="M49 -27h2v1h-2zM49 -28h4v1h-4zM50 -29h4v1h-4zM52 -30h3v1h-3zM64 -30h4v1h-4zM40 -31h1v1h-1zM54 -31h2v1h-2zM63 -31h1v1h-1zM67 -31h3v1h-3zM37 -32h3v1h-3zM55 -32h2v1h-2zM61 -32h2v1h-2zM69 -32h3v1h-3zM11 -33h2v1h-2zM23 -33h3v1h-3zM35 -33h3v1h-3zM56 -33h5v1h-5zM71 -33h3v1h-3zM10 -34h2v1h-2zM25 -34h4v1h-4zM31 -34h5v1h-5zM9 -35h2v1h-2zM29 -35h2v1h-2zM8 -36h2v1h-2zM7 -37h2v1h-2zM-6 -38h8v1h-8zM5 -38h2v1h-2zM-13 -39h6v1h-6z"/><path fill="#f6c6b7" d="M51 -27h1v1h-1z"/><path fill="#f6c6b4" d="M52 -27h3v1h-3zM66 -27h4v1h-4zM53 -28h3v1h-3zM65 -28h6v1h-6zM54 -29h3v1h-3zM64 -29h2v1h-2zM67 -29h6v1h-6zM39 -30h1v1h-1zM55 -30h2v1h-2zM62 -30h2v1h-2zM69 -30h5v1h-5zM36 -31h3v1h-3zM56 -31h2v1h-2zM61 -31h1v1h-1zM70 -31h4v1h-4zM25 -32h1v1h-1zM33 -32h4v1h-4zM57 -32h4v1h-4zM72 -32h2v1h-2zM7 -33h2v1h-2zM26 -33h8v1h-8zM7 -34h1v1h-1zM6 -35h1v1h-1zM6 -36h1v1h-1zM-5 -37h7v1h-7zM4 -37h1v1h-1zM-13 -38h3v1h-3z"/><path fill="#f6c6b1" d="M55 -27h2v1h-2zM64 -27h2v1h-2zM70 -27h4v1h-4zM56 -28h2v1h-2zM63 -28h2v1h-2zM71 -28h3v1h-3zM38 -29h1v1h-1zM57 -29h2v1h-2zM61 -29h3v1h-3zM73 -29h1v1h-1zM36 -30h3v1h-3zM57 -30h5v1h-5zM34 -31h2v1h-2zM58 -31h3v1h-3zM5 -32h1v1h-1zM26 -32h2v1h-2zM32 -32h1v1h-1zM5 -33h2v1h-2zM4 -34h3v1h-3zM4 -35h2v1h-2zM-3 -36h9v1h-9zM-10 -37h5v1h-5zM2 -37h2v1h-2z"/><path fill="#f6c3b1" d="M57 -27h7v1h-7zM36 -28h1v1h-1zM58 -28h5v1h-5zM34 -29h4v1h-4zM59 -29h2v1h-2zM33 -30h3v1h-3zM32 -31h2v1h-2zM28 -32h4v1h-4zM3 -35h1v1h-1zM-4 -36h1v1h-1zM-12 -37h2v1h-2z"/><path fill="#f3b49c" d="M-12 -28h3v1h-3zM-12 -29h2v1h-2zM-13 -30h2v1h-2z"/><path fill="#f3b79c" d="M-9 -28h1v1h-1zM-10 -29h2v1h-2zM-11 -30h2v1h-2zM-13 -31h2v1h-2zM-13 -32h1v1h-1z"/><path fill="#f6c3ae" d="M34 -28h2v1h-2zM30 -29h4v1h-4zM28 -30h5v1h-5zM27 -31h5v1h-5zM2 -32h3v1h-3zM2 -33h3v1h-3zM0 -34h4v1h-4zM-4 -35h7v1h-7zM-9 -36h5v1h-5zM-13 -37h1v1h-1z"/><path fill="#f6c9ba" d="M48 -28h1v1h-1zM49 -29h1v1h-1zM51 -30h1v1h-1zM53 -31h1v1h-1zM64 -31h1v1h-1zM40 -32h1v1h-1zM68 -32h1v1h-1zM38 -33h1v1h-1zM70 -33h1v1h-1zM24 -34h1v1h-1zM27 -35h2v1h-2zM31 -35h2v1h-2z"/><path fill="#f6b79f" d="M-8 -29h2v1h-2zM-9 -30h3v1h-3zM-10 -31h3v1h-3zM-12 -32h3v1h-3zM-13 -33h2v1h-2z"/><path fill="#f9ccbd" d="M47 -29h1v1h-1zM48 -30h1v1h-1zM49 -31h2v1h-2zM51 -32h1v1h-1zM17 -33h3v1h-3zM40 -33h1v1h-1zM52 -33h2v1h-2zM16 -34h6v1h-6zM39 -34h1v1h-1zM55 -34h2v1h-2zM58 -34h2v1h-2zM70 -34h1v1h-1zM15 -35h2v1h-2zM21 -35h3v1h-3zM36 -35h2v1h-2zM13 -36h2v1h-2zM23 -36h5v1h-5zM32 -36h4v1h-4zM11 -37h2v1h-2zM29 -37h2v1h-2zM9 -38h1v1h-1zM-5 -40h1v1h-1z"/><path fill="#f9ccba" d="M48 -29h1v1h-1zM49 -30h2v1h-2zM51 -31h1v1h-1zM52 -32h2v1h-2zM16 -33h1v1h-1zM20 -33h2v1h-2zM39 -33h1v1h-1zM54 -33h1v1h-1zM22 -34h1v1h-1zM37 -34h2v1h-2zM57 -34h1v1h-1zM24 -35h2v1h-2zM33 -35h3v1h-3zM28 -36h4v1h-4zM8 -38h1v1h-1zM-5 -39h12v1h-12zM-13 -40h8v1h-8z"/><path fill="#f6c9b4" d="M66 -29h1v1h-1zM68 -30h1v1h-1zM39 -31h1v1h-1zM62 -31h1v1h-1zM24 -32h1v1h-1zM9 -33h2v1h-2zM34 -33h1v1h-1zM8 -34h2v1h-2zM29 -34h2v1h-2zM7 -35h2v1h-2zM7 -36h1v1h-1zM5 -37h2v1h-2zM-10 -38h4v1h-4zM2 -38h3v1h-3z"/><path fill="#f6baa2" d="M-6 -30h2v1h-2zM-7 -31h2v1h-2zM-8 -32h2v1h-2zM-10 -33h2v1h-2zM-13 -34h3v1h-3z"/><path fill="#f6baa5" d="M-4 -30h1v1h-1zM-5 -31h1v1h-1zM-6 -32h1v1h-1zM-8 -33h1v1h-1zM-10 -34h1v1h-1z"/><path fill="#f9cfbd" d="M46 -30h2v1h-2zM47 -31h2v1h-2zM49 -32h2v1h-2zM41 -33h1v1h-1zM50 -33h2v1h-2zM67 -33h1v1h-1zM40 -34h1v1h-1zM52 -34h3v1h-3zM60 -34h1v1h-1zM17 -35h4v1h-4zM38 -35h1v1h-1zM15 -36h2v1h-2zM22 -36h1v1h-1zM36 -36h1v1h-1zM13 -37h3v1h-3zM25 -37h4v1h-4zM31 -37h3v1h-3zM10 -38h2v1h-2zM7 -39h2v1h-2zM-4 -40h3v1h-3zM-13 -41h8v1h-8zM-13 -42h5v1h-5z"/><path fill="#f6b79c" d="M-11 -31h1v1h-1z"/><path fill="#f6bda5" d="M-4 -31h2v1h-2zM-5 -32h2v1h-2zM-7 -33h2v1h-2zM-9 -34h2v1h-2zM-13 -35h2v1h-2z"/><path fill="#f6bda8" d="M-2 -31h1v1h-1zM-3 -32h1v1h-1zM-5 -33h1v1h-1zM-7 -34h1v1h-1zM-11 -35h2v1h-2z"/><path fill="#f6c0a8" d="M-1 -31h1v1h-1zM-2 -32h1v1h-1zM-4 -33h2v1h-2zM-6 -34h2v1h-2zM-9 -35h2v1h-2z"/><path fill="#f6c0ab" d="M0 -31h1v1h-1zM-1 -32h3v1h-3zM-2 -33h3v1h-3zM-4 -34h3v1h-3zM-7 -35h3v1h-3zM-13 -36h4v1h-4z"/><path fill="#f9cfc0" d="M46 -31h1v1h-1zM46 -32h3v1h-3zM48 -33h2v1h-2zM63 -33h4v1h-4zM41 -34h1v1h-1zM49 -34h3v1h-3zM61 -34h1v1h-1zM68 -34h2v1h-2zM39 -35h1v1h-1zM51 -35h5v1h-5zM17 -36h5v1h-5zM37 -36h2v1h-2zM16 -37h9v1h-9zM34 -37h3v1h-3zM12 -38h6v1h-6zM23 -38h12v1h-12zM9 -39h3v1h-3zM28 -39h4v1h-4zM-1 -40h8v1h-8zM-5 -41h2v1h-2zM-8 -42h3v1h-3zM-13 -43h5v1h-5z"/><path fill="#f6ccba" d="M52 -31h1v1h-1zM65 -31h2v1h-2zM54 -32h1v1h-1zM63 -32h1v1h-1zM67 -32h1v1h-1zM13 -33h3v1h-3zM22 -33h1v1h-1zM55 -33h1v1h-1zM61 -33h1v1h-1zM69 -33h1v1h-1zM13 -34h3v1h-3zM23 -34h1v1h-1zM36 -34h1v1h-1zM72 -34h2v1h-2zM12 -35h3v1h-3zM26 -35h1v1h-1zM10 -36h3v1h-3zM9 -37h2v1h-2zM7 -38h1v1h-1zM-6 -39h1v1h-1z"/><path fill="#f6ba9f" d="M-9 -32h1v1h-1zM-11 -33h1v1h-1z"/><path fill="#f9d2c0" d="M45 -32h1v1h-1zM46 -33h2v1h-2zM48 -34h1v1h-1zM40 -35h1v1h-1zM50 -35h1v1h-1zM56 -35h1v1h-1zM37 -37h1v1h-1zM12 -39h3v1h-3zM7 -40h1v1h-1zM-3 -41h1v1h-1zM-5 -42h1v1h-1zM-8 -43h2v1h-2zM-13 -44h4v1h-4z"/><path fill="#f6ccbd" d="M64 -32h3v1h-3zM62 -33h1v1h-1zM68 -33h1v1h-1zM71 -34h1v1h-1z"/><path fill="#f6c3ab" d="M1 -33h1v1h-1zM-1 -34h1v1h-1z"/><path fill="#f9d2c3" d="M44 -33h2v1h-2zM42 -34h1v1h-1zM44 -34h4v1h-4zM62 -34h6v1h-6zM41 -35h1v1h-1zM46 -35h4v1h-4zM57 -35h2v1h-2zM70 -35h4v1h-4zM39 -36h2v1h-2zM48 -36h7v1h-7zM38 -37h2v1h-2zM51 -37h2v1h-2zM18 -38h5v1h-5zM35 -38h3v1h-3zM15 -39h13v1h-13zM33 -39h4v1h-4zM8 -40h9v1h-9zM26 -40h9v1h-9zM-2 -41h3v1h-3zM29 -41h4v1h-4zM-4 -42h2v1h-2zM-6 -43h2v1h-2zM-9 -44h3v1h-3zM-13 -45h5v1h-5zM-13 -46h2v1h-2z"/><path fill="#f6ccb7" d="M12 -34h1v1h-1zM11 -35h1v1h-1zM-7 -39h1v1h-1z"/><path fill="#f9d2c6" d="M42 -35h1v1h-1zM69 -35h1v1h-1zM50 -37h1v1h-1zM38 -38h1v1h-1zM17 -40h2v1h-2zM23 -40h3v1h-3zM35 -40h1v1h-1zM28 -41h1v1h-1zM33 -41h1v1h-1z"/><path fill="#f9d5c6" d="M44 -35h2v1h-2zM59 -35h10v1h-10zM41 -36h7v1h-7zM55 -36h1v1h-1zM40 -37h1v1h-1zM47 -37h3v1h-3zM53 -37h1v1h-1zM39 -38h1v1h-1zM49 -38h4v1h-4zM37 -39h2v1h-2zM19 -40h4v1h-4zM36 -40h2v1h-2zM2 -41h17v1h-17zM25 -41h3v1h-3zM34 -41h2v1h-2zM-2 -42h3v1h-3zM29 -42h4v1h-4zM-4 -43h2v1h-2zM-6 -44h2v1h-2zM-8 -45h2v1h-2zM-10 -46h2v1h-2zM-12 -47h2v1h-2zM-13 -48h1v1h-1z"/><path fill="#f9d5c9" d="M56 -36h1v1h-1zM41 -37h2v1h-2zM45 -37h2v1h-2zM54 -37h1v1h-1zM40 -38h1v1h-1zM48 -38h1v1h-1zM39 -39h1v1h-1zM38 -40h1v1h-1zM19 -41h6v1h-6zM36 -41h1v1h-1zM14 -42h4v1h-4zM26 -42h3v1h-3zM33 -42h2v1h-2zM-12 -48h1v1h-1z"/><path fill="#f9d8cc" d="M57 -36h1v1h-1zM61 -36h3v1h-3zM67 -36h5v1h-5zM73 -36h1v1h-1zM55 -37h1v1h-1zM43 -38h2v1h-2zM41 -39h3v1h-3zM45 -39h3v1h-3zM52 -39h1v1h-1zM39 -40h2v1h-2zM49 -40h3v1h-3zM38 -41h2v1h-2zM3 -42h9v1h-9zM36 -42h2v1h-2zM0 -43h1v1h-1zM13 -43h22v1h-22zM-3 -44h2v1h-2zM-5 -45h1v1h-1zM-7 -46h1v1h-1zM-9 -47h1v1h-1zM-12 -49h1v1h-1z"/><path fill="#f9dbcf" d="M58 -36h3v1h-3zM62 -37h6v1h-6zM54 -38h1v1h-1zM53 -39h1v1h-1zM42 -40h6v1h-6zM52 -40h1v1h-1zM40 -41h2v1h-2zM47 -41h5v1h-5zM38 -42h2v1h-2zM2 -43h10v1h-10zM35 -43h2v1h-2zM-1 -44h3v1h-3zM12 -44h14v1h-14zM-3 -45h2v1h-2zM-6 -46h1v1h-1zM-8 -47h1v1h-1zM-11 -49h1v1h-1z"/><path fill="#f9d8c9" d="M64 -36h3v1h-3zM43 -37h2v1h-2zM41 -38h2v1h-2zM45 -38h3v1h-3zM53 -38h1v1h-1zM40 -39h1v1h-1zM48 -39h4v1h-4zM37 -41h1v1h-1zM1 -42h2v1h-2zM12 -42h2v1h-2zM18 -42h8v1h-8zM35 -42h1v1h-1zM-2 -43h2v1h-2zM-4 -44h1v1h-1zM-6 -45h1v1h-1zM-8 -46h1v1h-1zM-10 -47h1v1h-1zM-11 -48h1v1h-1zM-13 -49h1v1h-1z"/><path fill="#f9dbcc" d="M72 -36h1v1h-1zM44 -39h1v1h-1zM41 -40h1v1h-1zM48 -40h1v1h-1zM1 -43h1v1h-1zM12 -43h1v1h-1zM-4 -45h1v1h-1zM-10 -48h1v1h-1zM-13 -50h1v1h-1z"/><path fill="#f9dbd2" d="M56 -37h1v1h-1zM42 -41h1v1h-1zM37 -43h1v1h-1zM11 -44h1v1h-1zM26 -44h5v1h-5zM16 -45h5v1h-5zM-5 -46h1v1h-1z"/><path fill="#f9ded5" d="M57 -37h1v1h-1zM59 -37h2v1h-2zM70 -37h2v1h-2zM55 -38h1v1h-1zM62 -38h2v1h-2zM66 -38h2v1h-2zM52 -41h1v1h-1zM42 -42h2v1h-2zM46 -42h2v1h-2zM51 -42h1v1h-1zM39 -43h1v1h-1zM34 -44h1v1h-1zM2 -45h1v1h-1zM8 -45h3v1h-3zM25 -45h3v1h-3zM-2 -46h1v1h-1zM12 -46h11v1h-11z"/><path fill="#f9e1d5" d="M58 -37h1v1h-1zM72 -37h2v1h-2zM54 -39h1v1h-1zM53 -40h1v1h-1zM44 -42h2v1h-2zM40 -43h1v1h-1zM49 -43h2v1h-2zM35 -44h2v1h-2zM3 -45h5v1h-5zM9 -46h3v1h-3zM23 -46h1v1h-1zM15 -47h5v1h-5z"/><path fill="#f9ded2" d="M61 -37h1v1h-1zM68 -37h2v1h-2zM64 -38h2v1h-2zM43 -41h4v1h-4zM40 -42h2v1h-2zM48 -42h3v1h-3zM38 -43h1v1h-1zM2 -44h9v1h-9zM31 -44h3v1h-3zM-1 -45h3v1h-3zM11 -45h5v1h-5zM21 -45h4v1h-4zM-4 -46h2v1h-2zM-7 -47h1v1h-1zM-9 -48h1v1h-1zM-10 -49h1v1h-1zM-13 -51h1v1h-1z"/><path fill="#fce1d8" d="M56 -38h1v1h-1zM62 -39h1v1h-1zM52 -42h1v1h-1zM42 -43h7v1h-7zM51 -43h1v1h-1zM38 -44h1v1h-1zM30 -45h1v1h-1zM3 -46h1v1h-1zM-3 -47h9v1h-9zM-7 -48h2v1h-2zM-10 -50h1v1h-1z"/><path fill="#fce4db" d="M57 -38h3v1h-3zM71 -38h3v1h-3zM55 -39h1v1h-1zM60 -39h2v1h-2zM68 -39h4v1h-4zM54 -40h1v1h-1zM63 -40h3v1h-3zM53 -41h1v1h-1zM52 -43h1v1h-1zM40 -44h3v1h-3zM47 -44h5v1h-5zM31 -45h3v1h-3zM28 -46h1v1h-1zM26 -47h1v1h-1zM-5 -48h12v1h-12zM24 -48h1v1h-1zM-7 -49h2v1h-2zM-3 -49h13v1h-13zM22 -49h1v1h-1zM-9 -50h1v1h-1zM3 -50h11v1h-11zM18 -50h1v1h-1zM-11 -51h2v1h-2zM5 -51h10v1h-10z"/><path fill="#f9e1d8" d="M60 -38h2v1h-2zM68 -38h3v1h-3zM63 -39h4v1h-4zM41 -43h1v1h-1zM37 -44h1v1h-1zM28 -45h2v1h-2zM4 -46h5v1h-5zM24 -46h3v1h-3zM6 -47h9v1h-9zM20 -47h4v1h-4zM8 -48h13v1h-13z"/><path fill="#f9cfc3" d="M32 -39h1v1h-1z"/><path fill="#fce4de" d="M56 -39h1v1h-1zM58 -39h2v1h-2zM72 -39h2v1h-2zM60 -40h3v1h-3zM66 -40h4v1h-4zM43 -44h1v1h-1zM46 -44h1v1h-1zM29 -46h1v1h-1zM27 -47h1v1h-1zM25 -48h1v1h-1zM-5 -49h2v1h-2zM23 -49h1v1h-1zM-8 -50h1v1h-1zM1 -50h2v1h-2zM19 -50h4v1h-4zM3 -51h2v1h-2zM15 -51h5v1h-5z"/><path fill="#fce7de" d="M57 -39h1v1h-1zM55 -40h1v1h-1zM58 -40h2v1h-2zM70 -40h4v1h-4zM60 -41h14v1h-14zM53 -42h1v1h-1zM69 -42h5v1h-5zM70 -43h4v1h-4zM44 -44h2v1h-2zM52 -44h1v1h-1zM71 -44h3v1h-3zM34 -45h5v1h-5zM48 -45h4v1h-4zM71 -45h2v1h-2zM30 -46h1v1h-1zM28 -47h1v1h-1zM26 -48h1v1h-1zM24 -49h2v1h-2zM-7 -50h8v1h-8zM23 -50h2v1h-2zM-9 -51h2v1h-2zM-2 -51h5v1h-5zM20 -51h3v1h-3z"/><path fill="#f9e4d8" d="M67 -39h1v1h-1z"/><path fill="#fce7e1" d="M56 -40h2v1h-2zM54 -41h2v1h-2zM57 -41h3v1h-3zM59 -42h6v1h-6zM66 -42h3v1h-3zM53 -43h1v1h-1zM60 -43h2v1h-2zM68 -43h2v1h-2zM69 -44h2v1h-2zM39 -45h5v1h-5zM45 -45h3v1h-3zM70 -45h1v1h-1zM31 -46h1v1h-1zM29 -47h1v1h-1zM27 -48h2v1h-2zM26 -49h2v1h-2zM25 -50h2v1h-2zM-7 -51h5v1h-5zM23 -51h3v1h-3z"/><path fill="#f9d5c3" d="M1 -41h1v1h-1zM-11 -46h1v1h-1zM-13 -47h1v1h-1z"/><path fill="#fceae1" d="M56 -41h1v1h-1zM54 -42h1v1h-1zM58 -42h1v1h-1zM65 -42h1v1h-1zM59 -43h1v1h-1zM62 -43h2v1h-2zM66 -43h2v1h-2zM44 -45h1v1h-1zM52 -45h1v1h-1zM32 -46h1v1h-1zM49 -46h3v1h-3zM27 -50h1v1h-1zM26 -51h1v1h-1z"/><path fill="#fceae4" d="M55 -42h3v1h-3zM54 -43h5v1h-5zM64 -43h2v1h-2zM53 -44h2v1h-2zM56 -44h12v1h-12zM57 -45h11v1h-11zM33 -46h3v1h-3zM39 -46h10v1h-10zM59 -46h7v1h-7zM30 -47h2v1h-2zM50 -47h2v1h-2zM60 -47h2v1h-2zM29 -48h2v1h-2zM28 -49h2v1h-2zM28 -50h2v1h-2zM27 -51h3v1h-3z"/><path fill="#fce4d8" d="M39 -44h1v1h-1zM7 -48h1v1h-1zM-8 -49h1v1h-1z"/><path fill="#fceae7" d="M55 -44h1v1h-1zM54 -45h1v1h-1zM56 -45h1v1h-1zM58 -46h1v1h-1zM59 -47h1v1h-1z"/><path fill="#fcede7" d="M55 -45h1v1h-1zM54 -46h4v1h-4zM33 -47h3v1h-3zM41 -47h9v1h-9zM55 -47h4v1h-4zM31 -48h3v1h-3zM48 -48h3v1h-3zM30 -49h3v1h-3zM30 -50h3v1h-3zM30 -51h3v1h-3z"/><path fill="#fcded5" d="M-1 -46h1v1h-1zM-6 -47h1v1h-1zM-8 -48h1v1h-1z"/><path fill="#fce1d5" d="M0 -46h3v1h-3zM-5 -47h2v1h-2zM-9 -49h1v1h-1zM-11 -50h1v1h-1zM-12 -51h1v1h-1z"/><path fill="#f9e4db" d="M27 -46h1v1h-1zM25 -47h1v1h-1zM22 -48h2v1h-2zM10 -49h12v1h-12zM14 -50h4v1h-4z"/><path fill="#fcede4" d="M36 -46h3v1h-3zM32 -47h1v1h-1z"/><path fill="#f9e1db" d="M24 -47h1v1h-1zM21 -48h1v1h-1z"/><path fill="#fcedea" d="M36 -47h1v1h-1zM39 -47h2v1h-2zM46 -48h2v1h-2z"/><path fill="#fcf0ea" d="M37 -47h2v1h-2zM34 -48h12v1h-12zM33 -49h4v1h-4zM44 -49h6v1h-6zM33 -50h3v1h-3zM48 -50h1v1h-1zM33 -51h3v1h-3z"/><path fill="#fcf0ed" d="M37 -49h7v1h-7zM36 -50h12v1h-12zM36 -51h4v1h-4zM42 -51h7v1h-7z"/><path fill="#f9decf" d="M-12 -50h1v1h-1z"/><path fill="#fcf3ed" d="M40 -51h2v1h-2z"/></g></g></g><use href="#lakes" fill="#fff"/><use href="#land" fill="none" stroke="#000" stroke-width="1.15"/><use href="#lakes" fill="none" stroke="#000" stroke-width="1.15"/></svg><path d="M1707.5 89.8h0M1708.6 91.4h0M1703.5 99.6h0M1744.7 98.0h0M1751.7 101.2h0M1708.9 114.6h0M1718.0 112.6h0M1680.4 124.8h0M1690.2 126.2h0M1678.8 131.1h0M1680.9 132.2h0M1649.3 127.8h0M1635.2 157.2h0M1644.9 163.2h0M1652.9 169.7h0M1650.0 177.3h0M1653.6 182.7h0M1684.2 172.4h0M1690.2 170.0h0M1710.2 169.7h0M1732.5 175.6h0M1719.4 182.7h0M1742.8 130.0h0M1670.6 115.3h0M1735.7 123.5h0M1742.2 147.4h0M1725.4 139.2h0M1858.3 137.1h0M1859.6 138.6h0M1861.0 137.7h0M1862.5 139.4h0M1864.4 138.6h0M1859.2 140.1h0M1856.4 147.9h0" stroke="#000" stroke-width="2.6" stroke-linecap="round" fill="none"/><rect x="1589.70" y="56.00" width="394.20" height="187.70" fill="none" stroke="#111" stroke-width="1.9"/><text x="1581.30" y="249.00" class="t" text-anchor="end">25</text><text x="1581.30" y="217.72" class="t" text-anchor="end">30</text><text x="1581.30" y="186.43" class="t" text-anchor="end">35</text><text x="1581.30" y="155.15" class="t" text-anchor="end">40</text><text x="1581.30" y="123.87" class="t" text-anchor="end">45</text><text x="1581.30" y="92.58" class="t" text-anchor="end">50</text><text x="1581.30" y="61.30" class="t" text-anchor="end">55</text><text x="1589.70" y="264.60" class="t" text-anchor="middle">20W</text><text x="1672.69" y="264.60" class="t" text-anchor="middle">0</text><text x="1755.68" y="264.60" class="t" text-anchor="middle">20E</text><text x="1838.67" y="264.60" class="t" text-anchor="middle">40E</text><text x="1921.66" y="264.60" class="t" text-anchor="middle">60E</text><path d="M1589.70 243.70h-4.6M1589.70 212.42h-4.6M1589.70 181.13h-4.6M1589.70 149.85h-4.6M1589.70 118.57h-4.6M1589.70 87.28h-4.6M1589.70 56.00h-4.6M1589.70 243.70v4.6M1672.69 243.70v4.6M1755.68 243.70v4.6M1838.67 243.70v4.6M1921.66 243.70v4.6" stroke="#111" stroke-width="1.9" fill="none"/><text x="1786.80" y="289.00" class="ax" text-anchor="middle">Longitude (<tspan dx="3">°</tspan><tspan dx="3">)</tspan></text><text transform="translate(1555.70 149.85) rotate(-90)" class="ax" text-anchor="middle">Latitude (<tspan dx="3">°</tspan>N)</text><svg x="1120.60" y="318.80" width="394.25" height="187.50" viewBox="-20 -55 95 30" preserveAspectRatio="none"><g clip-path="url(#cland)"><g clip-path="url(#cmask)"><g filter="url(#bs)"><path fill="#f0f0f0" d="M49 -27h17v1h-17zM48 -28h18v1h-18zM47 -29h19v1h-19zM46 -30h20v1h-20zM46 -31h19v1h-19zM45 -32h19v1h-19zM44 -33h19v1h-19zM44 -34h17v1h-17zM44 -35h13v1h-13zM43 -36h13v1h-13zM42 -37h13v1h-13zM42 -38h11v1h-11zM41 -39h10v1h-10zM41 -40h8v1h-8zM40 -41h8v1h-8zM39 -42h8v1h-8zM38 -43h7v1h-7zM37 -44h6v1h-6zM34 -45h6v1h-6zM32 -46h5v1h-5zM31 -47h5v1h-5zM31 -48h4v1h-4zM30 -49h5v1h-5zM30 -50h5v1h-5zM30 -51h5v1h-5z"/><path fill="#f3f3f3" d="M66 -27h8v1h-8zM66 -28h8v1h-8zM66 -29h8v1h-8zM66 -30h8v1h-8zM65 -31h9v1h-9zM64 -32h10v1h-10zM63 -33h11v1h-11zM61 -34h13v1h-13zM57 -35h17v1h-17zM56 -36h18v1h-18zM55 -37h19v1h-19zM53 -38h18v1h-18zM51 -39h6v1h-6zM61 -39h9v1h-9zM49 -40h7v1h-7zM62 -40h6v1h-6zM48 -41h7v1h-7zM63 -41h4v1h-4zM47 -42h7v1h-7zM65 -42h1v1h-1zM45 -43h9v1h-9zM43 -44h11v1h-11zM40 -45h13v1h-13zM37 -46h15v1h-15zM36 -47h16v1h-16zM35 -48h16v1h-16zM35 -49h15v1h-15zM35 -50h14v1h-14zM35 -51h14v1h-14z"/><path fill="#ededed" d="M-12 -28h4v1h-4zM-12 -29h6v1h-6zM-13 -30h7v1h-7zM-13 -31h7v1h-7zM-13 -32h6v1h-6zM39 -32h2v1h-2zM-13 -33h6v1h-6zM38 -33h4v1h-4zM-13 -34h6v1h-6zM37 -34h6v1h-6zM-13 -35h6v1h-6zM36 -35h7v1h-7zM-13 -36h6v1h-6zM36 -36h7v1h-7zM-13 -37h6v1h-6zM36 -37h6v1h-6zM-13 -38h7v1h-7zM36 -38h6v1h-6zM-13 -39h8v1h-8zM36 -39h5v1h-5zM-13 -40h8v1h-8zM36 -40h5v1h-5zM-13 -41h8v1h-8zM36 -41h4v1h-4zM-13 -42h8v1h-8zM35 -42h4v1h-4zM-13 -43h7v1h-7zM34 -43h4v1h-4zM-13 -44h7v1h-7zM33 -44h4v1h-4zM-13 -45h6v1h-6zM31 -45h3v1h-3zM-13 -46h6v1h-6zM30 -46h2v1h-2zM-13 -47h5v1h-5zM29 -47h2v1h-2zM-13 -48h5v1h-5zM28 -48h3v1h-3zM-13 -49h4v1h-4zM27 -49h3v1h-3zM-13 -50h4v1h-4zM27 -50h3v1h-3zM-13 -51h4v1h-4zM26 -51h4v1h-4z"/><path fill="#eaeaea" d="M34 -28h3v1h-3zM31 -29h8v1h-8zM-6 -30h3v1h-3zM30 -30h10v1h-10zM-6 -31h4v1h-4zM30 -31h11v1h-11zM-7 -32h5v1h-5zM30 -32h9v1h-9zM-7 -33h5v1h-5zM30 -33h8v1h-8zM-7 -34h5v1h-5zM30 -34h7v1h-7zM-7 -35h5v1h-5zM31 -35h5v1h-5zM-7 -36h6v1h-6zM31 -36h5v1h-5zM-7 -37h7v1h-7zM31 -37h5v1h-5zM-6 -38h6v1h-6zM31 -38h5v1h-5zM-5 -39h6v1h-6zM32 -39h4v1h-4zM-5 -40h6v1h-6zM32 -40h4v1h-4zM-5 -41h6v1h-6zM32 -41h4v1h-4zM-5 -42h5v1h-5zM31 -42h4v1h-4zM-6 -43h5v1h-5zM31 -43h3v1h-3zM-6 -44h4v1h-4zM29 -44h4v1h-4zM-7 -45h4v1h-4zM28 -45h3v1h-3zM-7 -46h4v1h-4zM27 -46h3v1h-3zM-8 -47h5v1h-5zM26 -47h3v1h-3zM-8 -48h5v1h-5zM26 -48h2v1h-2zM-9 -49h6v1h-6zM25 -49h2v1h-2zM-9 -50h7v1h-7zM24 -50h3v1h-3zM-9 -51h7v1h-7zM23 -51h3v1h-3z"/><path fill="#e7e7e7" d="M30 -29h1v1h-1zM28 -30h2v1h-2zM-2 -31h3v1h-3zM27 -31h3v1h-3zM-2 -32h6v1h-6zM24 -32h6v1h-6zM-2 -33h6v1h-6zM22 -33h8v1h-8zM-2 -34h6v1h-6zM24 -34h6v1h-6zM-2 -35h6v1h-6zM25 -35h6v1h-6zM-1 -36h5v1h-5zM26 -36h5v1h-5zM0 -37h4v1h-4zM26 -37h5v1h-5zM0 -38h4v1h-4zM27 -38h4v1h-4zM1 -39h4v1h-4zM28 -39h4v1h-4zM1 -40h4v1h-4zM28 -40h4v1h-4zM1 -41h3v1h-3zM28 -41h4v1h-4zM0 -42h4v1h-4zM28 -42h3v1h-3zM-1 -43h4v1h-4zM27 -43h4v1h-4zM-2 -44h4v1h-4zM27 -44h2v1h-2zM-3 -45h5v1h-5zM26 -45h2v1h-2zM-3 -46h5v1h-5zM25 -46h2v1h-2zM-3 -47h4v1h-4zM24 -47h2v1h-2zM-3 -48h5v1h-5zM23 -48h3v1h-3zM-3 -49h5v1h-5zM22 -49h3v1h-3zM-2 -50h4v1h-4zM20 -50h4v1h-4zM-2 -51h5v1h-5zM18 -51h5v1h-5z"/><path fill="#e4e4e4" d="M4 -32h2v1h-2zM4 -33h18v1h-18zM4 -34h20v1h-20zM4 -35h21v1h-21zM4 -36h22v1h-22zM4 -37h15v1h-15zM22 -37h4v1h-4zM4 -38h14v1h-14zM23 -38h4v1h-4zM5 -39h12v1h-12zM24 -39h4v1h-4zM5 -40h11v1h-11zM24 -40h4v1h-4zM4 -41h10v1h-10zM25 -41h3v1h-3zM4 -42h9v1h-9zM25 -42h3v1h-3zM3 -43h9v1h-9zM25 -43h2v1h-2zM2 -44h9v1h-9zM24 -44h3v1h-3zM2 -45h10v1h-10zM24 -45h2v1h-2zM2 -46h11v1h-11zM23 -46h2v1h-2zM1 -47h14v1h-14zM21 -47h3v1h-3zM2 -48h21v1h-21zM2 -49h20v1h-20zM2 -50h18v1h-18zM3 -51h15v1h-15z"/><path fill="#e1e1e1" d="M19 -37h3v1h-3zM18 -38h5v1h-5zM17 -39h7v1h-7zM16 -40h8v1h-8zM14 -41h5v1h-5zM21 -41h4v1h-4zM13 -42h5v1h-5zM22 -42h3v1h-3zM12 -43h6v1h-6zM22 -43h3v1h-3zM11 -44h7v1h-7zM21 -44h3v1h-3zM12 -45h12v1h-12zM13 -46h10v1h-10zM15 -47h6v1h-6z"/><path fill="#f6f6f6" d="M71 -38h3v1h-3zM57 -39h4v1h-4zM70 -39h4v1h-4zM56 -40h6v1h-6zM68 -40h6v1h-6zM55 -41h8v1h-8zM67 -41h7v1h-7zM54 -42h11v1h-11zM66 -42h8v1h-8zM54 -43h20v1h-20zM54 -44h14v1h-14zM69 -44h5v1h-5zM54 -45h14v1h-14zM70 -45h3v1h-3zM54 -46h12v1h-12zM55 -47h7v1h-7z"/><path fill="#dedede" d="M19 -41h2v1h-2zM18 -42h4v1h-4zM18 -43h4v1h-4zM18 -44h3v1h-3z"/></g></g></g><use href="#lakes" fill="#fff"/><use href="#land" fill="none" stroke="#000" stroke-width="1.15"/><use href="#lakes" fill="none" stroke="#000" stroke-width="1.15"/></svg><path d="M1238.4 352.6h0M1239.5 354.2h0M1234.4 362.3h0M1275.6 360.7h0M1282.6 364.0h0M1239.8 377.3h0M1249.0 375.4h0M1211.3 387.5h0M1221.1 388.9h0M1209.7 393.8h0M1211.8 394.9h0M1180.2 390.6h0M1166.1 419.9h0M1175.8 425.8h0M1183.9 432.3h0M1180.9 439.9h0M1184.5 445.4h0M1215.1 435.1h0M1221.1 432.7h0M1241.1 432.3h0M1263.4 438.3h0M1250.4 445.4h0M1273.7 392.7h0M1201.5 378.1h0M1266.6 386.2h0M1273.1 410.1h0M1256.3 402.0h0M1389.2 399.9h0M1390.5 401.3h0M1392.0 400.4h0M1393.5 402.1h0M1395.3 401.3h0M1390.1 402.8h0M1387.3 410.6h0" stroke="#000" stroke-width="2.6" stroke-linecap="round" fill="none"/><rect x="1120.60" y="318.80" width="394.25" height="187.50" fill="none" stroke="#111" stroke-width="1.9"/><text x="1112.20" y="511.60" class="t" text-anchor="end">25</text><text x="1112.20" y="480.35" class="t" text-anchor="end">30</text><text x="1112.20" y="449.10" class="t" text-anchor="end">35</text><text x="1112.20" y="417.85" class="t" text-anchor="end">40</text><text x="1112.20" y="386.60" class="t" text-anchor="end">45</text><text x="1112.20" y="355.35" class="t" text-anchor="end">50</text><text x="1112.20" y="324.10" class="t" text-anchor="end">55</text><text x="1120.60" y="527.20" class="t" text-anchor="middle">20W</text><text x="1203.60" y="527.20" class="t" text-anchor="middle">0</text><text x="1286.60" y="527.20" class="t" text-anchor="middle">20E</text><text x="1369.60" y="527.20" class="t" text-anchor="middle">40E</text><text x="1452.60" y="527.20" class="t" text-anchor="middle">60E</text><path d="M1120.60 506.30h-4.6M1120.60 475.05h-4.6M1120.60 443.80h-4.6M1120.60 412.55h-4.6M1120.60 381.30h-4.6M1120.60 350.05h-4.6M1120.60 318.80h-4.6M1120.60 506.30v4.6M1203.60 506.30v4.6M1286.60 506.30v4.6M1369.60 506.30v4.6M1452.60 506.30v4.6" stroke="#111" stroke-width="1.9" fill="none"/><text x="1317.72" y="551.60" class="ax" text-anchor="middle">Longitude (<tspan dx="3">°</tspan><tspan dx="3">)</tspan></text><text transform="translate(1086.60 412.55) rotate(-90)" class="ax" text-anchor="middle">Latitude (<tspan dx="3">°</tspan>N)</text><svg x="1589.70" y="318.80" width="394.10" height="187.50" viewBox="-20 -55 95 30" preserveAspectRatio="none"><g clip-path="url(#cland)"><g clip-path="url(#cmask)"><g filter="url(#bs)"><path fill="#f3e7ab" d="M49 -27h1v1h-1zM50 -28h2v1h-2zM51 -29h2v1h-2zM53 -30h2v1h-2zM56 -33h1v1h-1zM65 -35h2v1h-2z"/><path fill="#f3e7ae" d="M50 -27h4v1h-4zM52 -28h2v1h-2zM53 -29h2v1h-2zM55 -31h1v1h-1zM57 -34h1v1h-1zM62 -34h4v1h-4zM67 -35h1v1h-1z"/><path fill="#f3e7b1" d="M54 -27h1v1h-1zM54 -28h1v1h-1zM55 -30h1v1h-1zM56 -32h1v1h-1zM61 -34h1v1h-1zM66 -34h1v1h-1zM68 -35h1v1h-1z"/><path fill="#f3eab4" d="M55 -27h1v1h-1zM55 -28h1v1h-1zM56 -31h1v1h-1zM57 -33h1v1h-1zM63 -33h3v1h-3zM58 -34h3v1h-3z"/><path fill="#f3eaba" d="M56 -27h1v1h-1zM56 -28h1v1h-1zM57 -32h1v1h-1zM58 -33h1v1h-1zM61 -33h1v1h-1zM66 -33h1v1h-1zM70 -35h1v1h-1z"/><path fill="#f6eac0" d="M57 -27h1v1h-1zM57 -28h1v1h-1zM58 -31h1v1h-1zM58 -32h1v1h-1zM62 -32h1v1h-1zM65 -32h1v1h-1zM67 -33h1v1h-1z"/><path fill="#f6edc6" d="M58 -27h1v1h-1zM59 -28h1v1h-1zM59 -29h1v1h-1zM59 -30h2v1h-2zM60 -31h4v1h-4zM68 -33h1v1h-1z"/><path fill="#f6edc9" d="M59 -27h1v1h-1zM60 -28h1v1h-1zM60 -29h1v1h-1zM61 -30h1v1h-1zM64 -31h2v1h-2zM67 -32h1v1h-1zM70 -34h1v1h-1z"/><path fill="#f6edcc" d="M60 -27h1v1h-1zM61 -28h1v1h-1zM61 -29h1v1h-1zM62 -30h2v1h-2zM66 -31h1v1h-1z"/><path fill="#f6edcf" d="M61 -27h1v1h-1zM62 -28h1v1h-1zM62 -29h1v1h-1zM64 -30h1v1h-1z"/><path fill="#f6f0d2" d="M62 -27h1v1h-1zM63 -28h1v1h-1zM64 -29h1v1h-1zM66 -30h1v1h-1zM69 -32h1v1h-1zM70 -33h1v1h-1zM73 -34h1v1h-1z"/><path fill="#f6f0d5" d="M63 -27h2v1h-2zM64 -28h2v1h-2zM65 -29h2v1h-2zM67 -30h1v1h-1zM68 -31h1v1h-1zM70 -32h1v1h-1zM71 -33h1v1h-1z"/><path fill="#f6f0d8" d="M65 -27h2v1h-2zM66 -28h1v1h-1zM67 -29h1v1h-1zM68 -30h1v1h-1zM69 -31h2v1h-2zM71 -32h1v1h-1zM72 -33h2v1h-2z"/><path fill="#f6f0db" d="M67 -27h1v1h-1zM67 -28h1v1h-1zM68 -29h1v1h-1zM69 -30h1v1h-1z"/><path fill="#f6f3de" d="M68 -27h1v1h-1zM68 -28h2v1h-2zM69 -29h2v1h-2zM71 -30h1v1h-1zM72 -31h2v1h-2z"/><path fill="#f6f3e1" d="M69 -27h1v1h-1zM70 -28h1v1h-1zM71 -29h1v1h-1zM72 -30h2v1h-2z"/><path fill="#f6f3e4" d="M70 -27h1v1h-1zM71 -28h2v1h-2zM72 -29h2v1h-2z"/><path fill="#f6f3e7" d="M71 -27h1v1h-1z"/><path fill="#f9f6e7" d="M72 -27h2v1h-2zM73 -28h1v1h-1z"/><path fill="#f3db60" d="M-12 -28h2v1h-2zM-12 -29h1v1h-1zM-13 -30h1v1h-1zM24 -34h1v1h-1zM25 -35h1v1h-1zM36 -44h2v1h-2zM40 -45h2v1h-2zM43 -46h3v1h-3zM46 -47h3v1h-3zM48 -48h3v1h-3zM49 -49h1v1h-1z"/><path fill="#f3db5d" d="M-10 -28h2v1h-2zM-11 -29h2v1h-2zM-12 -30h2v1h-2zM-13 -31h2v1h-2zM-13 -32h1v1h-1zM23 -33h1v1h-1zM25 -36h1v1h-1zM26 -37h1v1h-1zM31 -43h1v1h-1zM35 -44h1v1h-1zM39 -45h1v1h-1zM41 -46h2v1h-2zM43 -47h3v1h-3zM44 -48h4v1h-4zM45 -49h4v1h-4zM47 -50h2v1h-2zM48 -51h1v1h-1z"/><path fill="#f0e18d" d="M34 -28h1v1h-1zM36 -28h1v1h-1zM31 -29h2v1h-2zM28 -30h4v1h-4zM46 -31h1v1h-1zM47 -32h1v1h-1zM48 -33h1v1h-1zM48 -34h1v1h-1zM49 -35h1v1h-1zM50 -36h1v1h-1zM52 -37h1v1h-1z"/><path fill="#f0de8d" d="M35 -28h1v1h-1zM33 -29h6v1h-6zM32 -30h8v1h-8zM29 -31h3v1h-3z"/><path fill="#f3e7a5" d="M48 -28h1v1h-1zM49 -29h1v1h-1zM51 -30h1v1h-1zM52 -31h2v1h-2zM54 -32h1v1h-1zM55 -33h1v1h-1zM56 -34h1v1h-1zM58 -35h2v1h-2zM64 -36h5v1h-5z"/><path fill="#f3e7a8" d="M49 -28h1v1h-1zM50 -29h1v1h-1zM52 -30h1v1h-1zM54 -31h1v1h-1zM55 -32h1v1h-1zM60 -35h5v1h-5zM69 -36h5v1h-5z"/><path fill="#f6edc3" d="M58 -28h1v1h-1zM58 -29h1v1h-1zM58 -30h1v1h-1zM59 -31h1v1h-1zM59 -32h2v1h-2zM66 -32h1v1h-1zM69 -34h1v1h-1z"/><path fill="#f3d85d" d="M-9 -29h2v1h-2zM-10 -30h2v1h-2zM-11 -31h2v1h-2zM-12 -32h2v1h-2zM-13 -33h1v1h-1z"/><path fill="#f3d85a" d="M-7 -29h1v1h-1zM-8 -30h2v1h-2zM-9 -31h2v1h-2zM-10 -32h2v1h-2zM-12 -33h3v1h-3z"/><path fill="#f0e190" d="M30 -29h1v1h-1zM46 -30h1v1h-1zM47 -31h1v1h-1zM48 -32h1v1h-1zM49 -34h1v1h-1zM50 -35h1v1h-1zM51 -36h1v1h-1zM53 -37h1v1h-1zM55 -37h1v1h-1z"/><path fill="#f0e49c" d="M47 -29h1v1h-1zM48 -30h1v1h-1zM52 -33h1v1h-1zM53 -34h2v1h-2z"/><path fill="#f3e4a2" d="M48 -29h1v1h-1zM51 -31h1v1h-1zM54 -33h1v1h-1zM57 -35h1v1h-1zM62 -36h1v1h-1zM64 -37h3v1h-3z"/><path fill="#f3eab1" d="M55 -29h1v1h-1z"/><path fill="#f3eab7" d="M56 -29h1v1h-1zM56 -30h1v1h-1zM62 -33h1v1h-1zM67 -34h1v1h-1zM69 -35h1v1h-1z"/><path fill="#f3eac0" d="M57 -29h1v1h-1zM63 -32h1v1h-1z"/><path fill="#f6f0cf" d="M63 -29h1v1h-1zM65 -30h1v1h-1zM67 -31h1v1h-1zM68 -32h1v1h-1zM72 -34h1v1h-1z"/><path fill="#f3d857" d="M-6 -30h1v1h-1zM-7 -31h1v1h-1zM-8 -32h2v1h-2zM-9 -33h1v1h-1zM-13 -34h3v1h-3z"/><path fill="#f3d854" d="M-5 -30h1v1h-1zM-6 -31h1v1h-1zM-6 -32h1v1h-1zM-8 -33h2v1h-2zM-10 -34h2v1h-2zM-13 -35h1v1h-1zM31 -44h1v1h-1z"/><path fill="#f3d851" d="M-4 -30h1v1h-1zM-5 -31h1v1h-1zM-5 -32h1v1h-1zM-6 -33h1v1h-1zM-8 -34h2v1h-2zM-12 -35h3v1h-3zM30 -44h1v1h-1z"/><path fill="#f0e496" d="M47 -30h1v1h-1zM48 -31h1v1h-1zM49 -32h1v1h-1zM50 -33h1v1h-1zM51 -34h1v1h-1zM52 -35h1v1h-1zM53 -36h3v1h-3z"/><path fill="#f3e49f" d="M49 -30h1v1h-1zM50 -31h1v1h-1zM52 -32h1v1h-1zM53 -33h1v1h-1zM55 -34h1v1h-1zM56 -35h1v1h-1zM61 -36h1v1h-1zM63 -37h1v1h-1zM67 -37h1v1h-1z"/><path fill="#f3e7a2" d="M50 -30h1v1h-1zM53 -32h1v1h-1z"/><path fill="#f3eabd" d="M57 -30h1v1h-1zM57 -31h1v1h-1zM64 -32h1v1h-1zM60 -33h1v1h-1zM68 -34h1v1h-1z"/><path fill="#f6f3db" d="M70 -30h1v1h-1zM71 -31h1v1h-1zM72 -32h2v1h-2z"/><path fill="#f3d84e" d="M-4 -31h1v1h-1zM-4 -32h1v1h-1zM-5 -33h1v1h-1zM-6 -34h1v1h-1zM-9 -35h2v1h-2zM29 -44h1v1h-1zM33 -45h1v1h-1z"/><path fill="#f3d84b" d="M-3 -31h2v1h-2zM-3 -32h1v1h-1zM-4 -33h2v1h-2zM-5 -34h2v1h-2zM-7 -35h2v1h-2zM-13 -36h4v1h-4zM24 -41h1v1h-1zM25 -42h1v1h-1zM26 -43h1v1h-1zM28 -44h1v1h-1zM31 -45h2v1h-2z"/><path fill="#f3d848" d="M-1 -31h1v1h-1zM-2 -32h1v1h-1zM-2 -33h1v1h-1zM-3 -34h1v1h-1zM19 -34h1v1h-1zM-5 -35h2v1h-2zM19 -35h1v1h-1zM-9 -36h3v1h-3zM20 -36h1v1h-1zM22 -39h1v1h-1zM23 -40h1v1h-1zM24 -42h1v1h-1zM25 -43h1v1h-1zM27 -44h1v1h-1zM30 -45h1v1h-1zM33 -46h2v1h-2zM35 -49h1v1h-1zM35 -50h1v1h-1zM35 -51h1v1h-1z"/><path fill="#f3d845" d="M0 -31h1v1h-1zM-1 -32h1v1h-1zM-1 -33h1v1h-1zM18 -33h1v1h-1zM-2 -34h1v1h-1zM18 -34h1v1h-1zM-3 -35h1v1h-1zM-6 -36h2v1h-2zM19 -36h1v1h-1zM-13 -37h5v1h-5zM20 -37h1v1h-1zM21 -38h1v1h-1zM22 -40h1v1h-1zM23 -41h1v1h-1zM26 -44h1v1h-1zM29 -45h1v1h-1zM32 -46h1v1h-1zM33 -47h2v1h-2zM34 -48h1v1h-1zM34 -49h1v1h-1zM34 -50h1v1h-1zM34 -51h1v1h-1z"/><path fill="#f0de87" d="M27 -31h1v1h-1zM28 -32h1v1h-1zM34 -32h7v1h-7zM31 -33h3v1h-3z"/><path fill="#f0de8a" d="M28 -31h1v1h-1zM32 -31h9v1h-9zM29 -32h5v1h-5z"/><path fill="#f0e499" d="M49 -31h1v1h-1zM50 -32h1v1h-1zM51 -33h1v1h-1zM52 -34h1v1h-1zM53 -35h2v1h-2z"/><path fill="#f3d545" d="M0 -32h1v1h-1zM-1 -34h1v1h-1z"/><path fill="#f3d542" d="M1 -32h1v1h-1zM0 -33h2v1h-2zM0 -34h2v1h-2zM-1 -35h2v1h-2zM-3 -36h1v1h-1z"/><path fill="#f3d53f" d="M2 -32h2v1h-2zM2 -33h2v1h-2zM2 -34h2v1h-2zM1 -35h2v1h-2zM-2 -36h4v1h-4zM-4 -37h1v1h-1z"/><path fill="#f3d53c" d="M4 -32h2v1h-2zM4 -33h2v1h-2zM4 -34h1v1h-1zM3 -35h2v1h-2zM2 -36h3v1h-3zM-3 -37h6v1h-6zM-6 -38h2v1h-2zM-7 -39h1v1h-1z"/><path fill="#f0de69" d="M24 -32h1v1h-1z"/><path fill="#f0de72" d="M25 -32h1v1h-1zM26 -33h1v1h-1z"/><path fill="#f0de7b" d="M26 -32h1v1h-1zM29 -34h1v1h-1zM31 -35h2v1h-2zM41 -35h2v1h-2zM35 -36h6v1h-6zM43 -36h1v1h-1zM44 -37h1v1h-1zM45 -38h1v1h-1zM46 -39h2v1h-2zM48 -40h1v1h-1z"/><path fill="#f0de81" d="M27 -32h1v1h-1zM41 -33h1v1h-1zM31 -34h10v1h-10zM44 -34h1v1h-1zM44 -35h2v1h-2zM45 -36h2v1h-2zM47 -37h1v1h-1zM48 -38h2v1h-2zM50 -39h2v1h-2zM52 -40h1v1h-1z"/><path fill="#f0e187" d="M45 -32h1v1h-1zM45 -33h1v1h-1zM46 -34h1v1h-1zM47 -35h1v1h-1zM48 -36h1v1h-1zM50 -37h1v1h-1zM51 -38h1v1h-1z"/><path fill="#f0e18a" d="M46 -32h1v1h-1zM46 -33h2v1h-2zM47 -34h1v1h-1zM48 -35h1v1h-1zM49 -36h1v1h-1zM51 -37h1v1h-1zM52 -38h3v1h-3z"/><path fill="#f3e49c" d="M51 -32h1v1h-1zM55 -35h1v1h-1zM60 -36h1v1h-1zM62 -37h1v1h-1zM68 -37h2v1h-2zM64 -38h3v1h-3z"/><path fill="#f6eac3" d="M61 -32h1v1h-1z"/><path fill="#f3d539" d="M6 -33h5v1h-5zM5 -34h6v1h-6zM5 -35h6v1h-6zM5 -36h3v1h-3zM10 -36h1v1h-1zM3 -37h4v1h-4zM-4 -38h2v1h-2zM3 -38h1v1h-1zM-6 -39h2v1h-2zM-8 -40h2v1h-2zM-9 -41h2v1h-2zM-12 -42h5v1h-5zM-13 -43h5v1h-5zM-13 -44h4v1h-4zM-13 -45h3v1h-3zM-13 -46h2v1h-2z"/><path fill="#f3d839" d="M11 -33h1v1h-1zM11 -34h1v1h-1zM11 -35h1v1h-1zM11 -36h1v1h-1zM11 -37h6v1h-6zM13 -38h5v1h-5zM18 -39h1v1h-1zM19 -40h1v1h-1zM-10 -41h1v1h-1zM20 -41h1v1h-1zM-13 -42h1v1h-1zM20 -42h1v1h-1zM21 -43h1v1h-1zM22 -44h1v1h-1zM23 -45h1v1h-1zM24 -46h2v1h-2zM26 -47h2v1h-2zM27 -48h2v1h-2zM27 -49h2v1h-2zM27 -50h2v1h-2zM27 -51h2v1h-2z"/><path fill="#f3d83c" d="M12 -33h3v1h-3zM12 -34h4v1h-4zM12 -35h5v1h-5zM12 -36h6v1h-6zM17 -37h1v1h-1zM18 -38h1v1h-1zM-10 -39h3v1h-3zM19 -39h1v1h-1zM-13 -40h5v1h-5zM20 -40h1v1h-1zM-13 -41h3v1h-3zM21 -42h1v1h-1zM22 -43h1v1h-1zM23 -44h1v1h-1zM24 -45h1v1h-1zM26 -46h3v1h-3zM28 -47h2v1h-2zM29 -48h2v1h-2zM29 -49h2v1h-2zM29 -50h2v1h-2zM29 -51h2v1h-2z"/><path fill="#f3d83f" d="M15 -33h2v1h-2zM16 -34h2v1h-2zM17 -35h1v1h-1zM18 -36h1v1h-1zM-5 -37h1v1h-1zM18 -37h1v1h-1zM-12 -38h6v1h-6zM19 -38h1v1h-1zM-13 -39h3v1h-3zM20 -39h1v1h-1zM21 -41h1v1h-1zM22 -42h1v1h-1zM23 -43h1v1h-1zM24 -44h1v1h-1zM25 -45h2v1h-2zM29 -46h1v1h-1zM30 -47h2v1h-2zM31 -48h1v1h-1zM31 -49h1v1h-1zM31 -50h1v1h-1zM31 -51h1v1h-1z"/><path fill="#f3d842" d="M17 -33h1v1h-1zM-2 -35h1v1h-1zM18 -35h1v1h-1zM-4 -36h1v1h-1zM-8 -37h3v1h-3zM19 -37h1v1h-1zM-13 -38h1v1h-1zM20 -38h1v1h-1zM21 -39h1v1h-1zM21 -40h1v1h-1zM22 -41h1v1h-1zM23 -42h1v1h-1zM24 -43h1v1h-1zM25 -44h1v1h-1zM27 -45h2v1h-2zM30 -46h2v1h-2zM32 -47h1v1h-1zM32 -48h2v1h-2zM32 -49h2v1h-2zM32 -50h2v1h-2zM32 -51h2v1h-2z"/><path fill="#f3db4b" d="M19 -33h1v1h-1zM20 -35h1v1h-1zM21 -36h1v1h-1zM22 -38h1v1h-1zM23 -39h1v1h-1zM35 -46h1v1h-1zM36 -47h1v1h-1zM37 -48h1v1h-1zM37 -49h1v1h-1zM37 -50h1v1h-1zM37 -51h1v1h-1z"/><path fill="#f3db51" d="M20 -33h1v1h-1zM21 -35h1v1h-1zM22 -36h1v1h-1zM23 -37h1v1h-1zM24 -39h1v1h-1zM25 -40h1v1h-1zM28 -43h1v1h-1zM35 -45h1v1h-1zM37 -46h1v1h-1zM38 -47h1v1h-1zM39 -48h1v1h-1zM39 -49h2v1h-2zM39 -50h2v1h-2zM40 -51h1v1h-1z"/><path fill="#f3db57" d="M21 -33h1v1h-1zM22 -34h1v1h-1zM23 -35h1v1h-1zM24 -37h1v1h-1zM25 -38h1v1h-1zM26 -40h1v1h-1zM27 -41h1v1h-1zM28 -42h1v1h-1zM29 -43h1v1h-1zM32 -44h1v1h-1zM37 -45h1v1h-1zM39 -46h1v1h-1zM40 -47h1v1h-1zM41 -48h1v1h-1zM42 -49h1v1h-1zM42 -50h2v1h-2zM42 -51h2v1h-2z"/><path fill="#f3db5a" d="M22 -33h1v1h-1zM23 -34h1v1h-1zM24 -35h1v1h-1zM24 -36h1v1h-1zM25 -37h1v1h-1zM26 -38h1v1h-1zM26 -39h1v1h-1zM27 -40h1v1h-1zM30 -43h1v1h-1zM33 -44h2v1h-2zM38 -45h1v1h-1zM40 -46h1v1h-1zM41 -47h2v1h-2zM42 -48h2v1h-2zM43 -49h2v1h-2zM44 -50h3v1h-3zM44 -51h4v1h-4z"/><path fill="#f3db63" d="M24 -33h1v1h-1zM25 -34h1v1h-1zM38 -44h1v1h-1zM42 -45h4v1h-4zM46 -46h3v1h-3zM49 -47h2v1h-2z"/><path fill="#f0db69" d="M25 -33h1v1h-1zM26 -34h1v1h-1zM27 -35h1v1h-1zM28 -36h1v1h-1zM31 -38h1v1h-1zM31 -39h2v1h-2zM32 -40h2v1h-2zM33 -41h2v1h-2zM34 -42h2v1h-2z"/><path fill="#f0de78" d="M27 -33h1v1h-1zM41 -36h2v1h-2zM38 -37h3v1h-3zM43 -37h1v1h-1zM44 -38h1v1h-1zM45 -39h1v1h-1z"/><path fill="#f0de7e" d="M28 -33h1v1h-1zM30 -34h1v1h-1zM41 -34h2v1h-2zM33 -35h8v1h-8zM44 -36h1v1h-1zM45 -37h2v1h-2zM46 -38h2v1h-2zM48 -39h2v1h-2zM49 -40h3v1h-3z"/><path fill="#f0de84" d="M29 -33h2v1h-2zM34 -33h7v1h-7zM44 -33h1v1h-1zM45 -34h1v1h-1zM46 -35h1v1h-1zM47 -36h1v1h-1zM48 -37h2v1h-2zM50 -38h1v1h-1zM52 -39h2v1h-2z"/><path fill="#f0e193" d="M49 -33h1v1h-1zM50 -34h1v1h-1zM51 -35h1v1h-1zM52 -36h1v1h-1zM54 -37h1v1h-1z"/><path fill="#f6eabd" d="M59 -33h1v1h-1zM71 -35h1v1h-1z"/><path fill="#f6f0cc" d="M69 -33h1v1h-1zM71 -34h1v1h-1z"/><path fill="#f3db4e" d="M20 -34h1v1h-1zM22 -37h1v1h-1zM23 -38h1v1h-1zM24 -40h1v1h-1zM25 -41h1v1h-1zM26 -42h1v1h-1zM27 -43h1v1h-1zM34 -45h1v1h-1zM36 -46h1v1h-1zM37 -47h1v1h-1zM38 -48h1v1h-1zM38 -49h1v1h-1zM38 -50h1v1h-1zM38 -51h2v1h-2z"/><path fill="#f3db54" d="M21 -34h1v1h-1zM22 -35h1v1h-1zM23 -36h1v1h-1zM24 -38h1v1h-1zM25 -39h1v1h-1zM26 -41h1v1h-1zM27 -42h1v1h-1zM36 -45h1v1h-1zM38 -46h1v1h-1zM39 -47h1v1h-1zM40 -48h1v1h-1zM41 -49h1v1h-1zM41 -50h1v1h-1zM41 -51h1v1h-1z"/><path fill="#f0de6f" d="M27 -34h1v1h-1z"/><path fill="#f0de75" d="M28 -34h1v1h-1z"/><path fill="#f0db63" d="M26 -35h1v1h-1zM27 -36h1v1h-1zM28 -37h1v1h-1zM28 -38h1v1h-1zM29 -39h1v1h-1zM30 -40h1v1h-1zM30 -41h2v1h-2zM31 -42h1v1h-1zM33 -43h2v1h-2z"/><path fill="#f0db6f" d="M28 -35h1v1h-1zM30 -36h1v1h-1zM31 -37h1v1h-1zM33 -38h1v1h-1zM34 -39h2v1h-2zM35 -40h3v1h-3zM37 -41h2v1h-2z"/><path fill="#f0db72" d="M29 -35h1v1h-1zM32 -37h1v1h-1zM34 -38h2v1h-2zM36 -39h6v1h-6zM38 -40h2v1h-2z"/><path fill="#f0db78" d="M30 -35h1v1h-1zM33 -36h1v1h-1zM35 -37h3v1h-3zM41 -37h2v1h-2zM43 -38h1v1h-1z"/><path fill="#f6edc0" d="M72 -35h2v1h-2z"/><path fill="#f3d536" d="M8 -36h2v1h-2zM7 -37h4v1h-4zM-2 -38h5v1h-5zM4 -38h5v1h-5zM10 -38h2v1h-2zM-4 -39h1v1h-1zM13 -39h3v1h-3zM-6 -40h2v1h-2zM-7 -41h2v1h-2zM-7 -42h1v1h-1zM-8 -43h1v1h-1zM-9 -44h2v1h-2zM-10 -45h2v1h-2zM-11 -46h2v1h-2zM-13 -47h2v1h-2zM-13 -48h1v1h-1z"/><path fill="#f0db60" d="M26 -36h1v1h-1zM27 -37h1v1h-1zM27 -38h1v1h-1zM28 -39h1v1h-1zM29 -40h1v1h-1zM29 -41h1v1h-1zM30 -42h1v1h-1zM32 -43h1v1h-1z"/><path fill="#f0db6c" d="M29 -36h1v1h-1zM30 -37h1v1h-1zM32 -38h1v1h-1zM33 -39h1v1h-1zM34 -40h1v1h-1zM35 -41h2v1h-2zM36 -42h2v1h-2z"/><path fill="#f0db75" d="M31 -36h2v1h-2zM33 -37h2v1h-2zM36 -38h7v1h-7zM44 -39h1v1h-1z"/><path fill="#f0db7b" d="M34 -36h1v1h-1z"/><path fill="#f3e496" d="M56 -36h1v1h-1zM58 -36h2v1h-2zM61 -37h1v1h-1zM73 -37h1v1h-1zM62 -38h1v1h-1zM68 -38h2v1h-2z"/><path fill="#f3e493" d="M57 -36h1v1h-1zM70 -38h1v1h-1zM65 -39h2v1h-2z"/><path fill="#f3e4a5" d="M63 -36h1v1h-1z"/><path fill="#f3db48" d="M21 -37h1v1h-1zM35 -47h1v1h-1zM35 -48h2v1h-2zM36 -49h1v1h-1zM36 -50h1v1h-1zM36 -51h1v1h-1z"/><path fill="#f0db66" d="M29 -37h1v1h-1zM29 -38h2v1h-2zM30 -39h1v1h-1zM31 -40h1v1h-1zM32 -41h1v1h-1zM32 -42h2v1h-2zM35 -43h1v1h-1z"/><path fill="#f3e18d" d="M56 -37h1v1h-1zM58 -37h2v1h-2zM60 -38h1v1h-1zM61 -39h2v1h-2zM64 -40h3v1h-3zM67 -41h2v1h-2zM68 -42h2v1h-2zM69 -43h2v1h-2zM69 -44h2v1h-2zM70 -45h2v1h-2z"/><path fill="#f3e18a" d="M57 -37h1v1h-1zM59 -38h1v1h-1zM60 -39h1v1h-1zM62 -40h2v1h-2zM64 -41h3v1h-3zM67 -42h1v1h-1zM67 -43h2v1h-2z"/><path fill="#f3e193" d="M60 -37h1v1h-1zM71 -38h3v1h-3zM64 -39h1v1h-1zM67 -39h2v1h-2z"/><path fill="#f3e499" d="M70 -37h3v1h-3zM63 -38h1v1h-1zM67 -38h1v1h-1z"/><path fill="#f3d533" d="M9 -38h1v1h-1zM-3 -39h2v1h-2zM3 -39h6v1h-6zM10 -39h3v1h-3zM-4 -40h1v1h-1zM14 -40h3v1h-3zM-5 -41h1v1h-1zM17 -41h1v1h-1zM-6 -42h1v1h-1zM-7 -43h1v1h-1zM-8 -45h1v1h-1zM-9 -46h1v1h-1zM-11 -47h1v1h-1zM-12 -48h1v1h-1zM-13 -49h1v1h-1z"/><path fill="#f3d836" d="M12 -38h1v1h-1zM16 -39h2v1h-2zM17 -40h2v1h-2zM18 -41h2v1h-2zM19 -42h1v1h-1zM20 -43h1v1h-1zM21 -44h1v1h-1zM22 -45h1v1h-1zM23 -46h1v1h-1zM24 -47h2v1h-2zM25 -48h2v1h-2zM25 -49h2v1h-2zM25 -50h2v1h-2zM25 -51h2v1h-2z"/><path fill="#f3e187" d="M55 -38h4v1h-4zM59 -39h1v1h-1zM60 -40h2v1h-2zM61 -41h3v1h-3zM62 -42h5v1h-5zM65 -43h2v1h-2zM66 -44h2v1h-2zM66 -45h2v1h-2z"/><path fill="#f3e190" d="M61 -38h1v1h-1zM63 -39h1v1h-1zM69 -39h5v1h-5zM67 -40h7v1h-7zM69 -41h5v1h-5zM70 -42h4v1h-4zM71 -43h3v1h-3zM71 -44h3v1h-3zM72 -45h1v1h-1z"/><path fill="#f3d530" d="M-1 -39h4v1h-4zM9 -39h1v1h-1zM-3 -40h1v1h-1zM11 -40h3v1h-3zM-4 -41h1v1h-1zM14 -41h3v1h-3zM-5 -42h1v1h-1zM16 -42h2v1h-2zM-6 -43h1v1h-1zM18 -43h1v1h-1zM-7 -44h1v1h-1zM-10 -47h1v1h-1zM-11 -48h1v1h-1z"/><path fill="#f0db5d" d="M27 -39h1v1h-1zM28 -40h1v1h-1zM29 -42h1v1h-1z"/><path fill="#f3db75" d="M42 -39h2v1h-2zM44 -40h2v1h-2zM46 -41h1v1h-1zM47 -42h1v1h-1zM50 -43h1v1h-1zM52 -45h1v1h-1z"/><path fill="#f3de84" d="M54 -39h5v1h-5zM58 -40h2v1h-2zM59 -41h2v1h-2zM60 -42h1v1h-1zM61 -43h1v1h-1zM61 -44h1v1h-1zM62 -45h1v1h-1zM62 -46h1v1h-1z"/><path fill="#f3d52d" d="M-2 -40h2v1h-2zM6 -40h5v1h-5zM-3 -41h1v1h-1zM13 -41h1v1h-1zM14 -42h2v1h-2zM16 -43h2v1h-2zM18 -44h1v1h-1zM-7 -45h1v1h-1zM-12 -49h1v1h-1z"/><path fill="#f3d52a" d="M0 -40h6v1h-6zM-4 -42h1v1h-1zM15 -43h1v1h-1zM16 -44h2v1h-2zM17 -45h2v1h-2zM18 -46h1v1h-1z"/><path fill="#f3db72" d="M40 -40h4v1h-4zM43 -41h3v1h-3zM46 -42h1v1h-1zM48 -43h2v1h-2zM50 -44h2v1h-2z"/><path fill="#f3de78" d="M46 -40h1v1h-1zM47 -41h2v1h-2zM49 -42h3v1h-3z"/><path fill="#f3de7b" d="M47 -40h1v1h-1zM49 -41h6v1h-6zM52 -42h4v1h-4zM55 -43h2v1h-2zM56 -44h2v1h-2zM57 -45h2v1h-2zM58 -46h2v1h-2zM59 -47h1v1h-1z"/><path fill="#f3de7e" d="M53 -40h3v1h-3zM55 -41h2v1h-2zM56 -42h2v1h-2zM57 -43h2v1h-2zM58 -44h2v1h-2zM59 -45h2v1h-2zM60 -46h1v1h-1zM60 -47h1v1h-1z"/><path fill="#f3de81" d="M56 -40h2v1h-2zM57 -41h2v1h-2zM58 -42h2v1h-2zM59 -43h2v1h-2zM60 -44h1v1h-1zM61 -45h1v1h-1zM61 -46h1v1h-1zM61 -47h1v1h-1z"/><path fill="#f6d52a" d="M-2 -41h1v1h-1zM10 -41h2v1h-2zM13 -42h1v1h-1zM-5 -43h1v1h-1zM-9 -47h1v1h-1zM-10 -48h1v1h-1z"/><path fill="#f6d527" d="M-1 -41h1v1h-1zM7 -41h3v1h-3zM-3 -42h1v1h-1zM12 -42h1v1h-1zM13 -43h2v1h-2zM15 -44h1v1h-1zM-11 -49h1v1h-1z"/><path fill="#f6d524" d="M0 -41h1v1h-1zM6 -41h1v1h-1zM-2 -42h1v1h-1zM10 -42h2v1h-2zM-4 -43h1v1h-1zM12 -43h1v1h-1zM-5 -44h1v1h-1zM14 -44h1v1h-1zM-6 -45h1v1h-1zM15 -45h1v1h-1zM-7 -46h1v1h-1zM16 -46h1v1h-1zM17 -47h1v1h-1zM17 -48h2v1h-2zM18 -49h1v1h-1zM-12 -50h1v1h-1zM18 -50h1v1h-1zM18 -51h1v1h-1z"/><path fill="#f6d521" d="M1 -41h1v1h-1zM5 -41h1v1h-1zM-1 -42h1v1h-1zM8 -42h2v1h-2zM-3 -43h1v1h-1zM11 -43h1v1h-1zM12 -44h2v1h-2zM14 -45h1v1h-1zM15 -46h1v1h-1zM-8 -47h1v1h-1zM15 -47h2v1h-2zM-9 -48h1v1h-1zM16 -48h1v1h-1zM17 -49h1v1h-1zM17 -50h1v1h-1zM-13 -51h1v1h-1zM17 -51h1v1h-1z"/><path fill="#f6d51e" d="M2 -41h3v1h-3zM7 -42h1v1h-1zM-2 -43h1v1h-1zM10 -43h1v1h-1zM-4 -44h1v1h-1zM11 -44h1v1h-1zM-5 -45h1v1h-1zM13 -45h1v1h-1zM14 -46h1v1h-1zM14 -47h1v1h-1zM15 -48h1v1h-1zM-10 -49h1v1h-1zM15 -49h2v1h-2zM16 -50h1v1h-1zM16 -51h1v1h-1z"/><path fill="#f6d52d" d="M12 -41h1v1h-1zM-6 -44h1v1h-1zM-8 -46h1v1h-1zM-13 -50h1v1h-1z"/><path fill="#f0db5a" d="M28 -41h1v1h-1z"/><path fill="#f3db6f" d="M39 -41h4v1h-4zM39 -42h7v1h-7zM46 -43h2v1h-2zM49 -44h1v1h-1zM51 -45h1v1h-1z"/><path fill="#f6d21b" d="M0 -42h1v1h-1zM-3 -44h1v1h-1z"/><path fill="#f6d218" d="M1 -42h1v1h-1zM-1 -43h1v1h-1zM-4 -45h1v1h-1z"/><path fill="#f6d215" d="M2 -42h4v1h-4zM0 -43h1v1h-1zM-2 -44h1v1h-1zM8 -44h1v1h-1z"/><path fill="#f6d51b" d="M6 -42h1v1h-1zM9 -43h1v1h-1zM10 -44h1v1h-1zM12 -45h1v1h-1zM-6 -46h1v1h-1zM12 -46h2v1h-2zM-7 -47h1v1h-1zM13 -47h1v1h-1zM14 -48h1v1h-1zM14 -49h1v1h-1zM-11 -50h1v1h-1zM14 -50h2v1h-2zM15 -51h1v1h-1z"/><path fill="#f3d833" d="M18 -42h1v1h-1zM19 -43h1v1h-1zM20 -44h1v1h-1zM21 -45h1v1h-1zM22 -46h1v1h-1zM23 -47h1v1h-1zM23 -48h2v1h-2zM24 -49h1v1h-1zM24 -50h1v1h-1zM24 -51h1v1h-1z"/><path fill="#f3db6c" d="M38 -42h1v1h-1zM39 -43h7v1h-7zM47 -44h2v1h-2zM50 -45h1v1h-1zM51 -46h1v1h-1z"/><path fill="#f3de75" d="M48 -42h1v1h-1z"/><path fill="#f3e184" d="M61 -42h1v1h-1zM62 -43h3v1h-3zM62 -44h4v1h-4zM63 -45h3v1h-3zM63 -46h3v1h-3z"/><path fill="#f6d212" d="M1 -43h1v1h-1zM6 -43h1v1h-1zM-1 -44h1v1h-1zM7 -44h1v1h-1zM-3 -45h1v1h-1zM9 -45h1v1h-1zM9 -46h1v1h-1zM10 -47h1v1h-1zM10 -48h1v1h-1z"/><path fill="#f6d20f" d="M2 -43h1v1h-1zM5 -43h1v1h-1zM0 -44h1v1h-1zM-2 -45h1v1h-1zM8 -45h1v1h-1zM-4 -46h1v1h-1zM8 -46h1v1h-1zM-5 -47h1v1h-1zM9 -47h1v1h-1zM9 -48h1v1h-1zM10 -49h1v1h-1zM10 -50h1v1h-1zM10 -51h1v1h-1z"/><path fill="#f6d20c" d="M3 -43h2v1h-2zM1 -44h2v1h-2zM5 -44h2v1h-2zM-1 -45h2v1h-2zM7 -45h1v1h-1zM-3 -46h2v1h-2zM7 -46h1v1h-1zM-4 -47h1v1h-1zM8 -47h1v1h-1zM-6 -48h1v1h-1zM8 -48h1v1h-1zM8 -49h2v1h-2zM9 -50h1v1h-1zM9 -51h1v1h-1z"/><path fill="#f6d515" d="M7 -43h1v1h-1zM10 -45h1v1h-1zM-5 -46h1v1h-1zM10 -46h1v1h-1zM11 -47h1v1h-1zM11 -48h2v1h-2zM-9 -49h1v1h-1zM12 -49h1v1h-1zM12 -50h1v1h-1zM12 -51h1v1h-1z"/><path fill="#f6d518" d="M8 -43h1v1h-1zM9 -44h1v1h-1zM11 -45h1v1h-1zM11 -46h1v1h-1zM12 -47h1v1h-1zM-8 -48h1v1h-1zM13 -48h1v1h-1zM13 -49h1v1h-1zM13 -50h1v1h-1zM-12 -51h1v1h-1zM13 -51h2v1h-2z"/><path fill="#f3db66" d="M36 -43h1v1h-1zM39 -44h6v1h-6zM46 -45h2v1h-2zM49 -46h2v1h-2z"/><path fill="#f3db69" d="M37 -43h2v1h-2zM45 -44h2v1h-2zM48 -45h2v1h-2zM51 -47h1v1h-1z"/><path fill="#f3db78" d="M51 -43h3v1h-3zM52 -44h3v1h-3zM54 -45h2v1h-2zM54 -46h3v1h-3zM55 -47h3v1h-3z"/><path fill="#f3db7b" d="M54 -43h1v1h-1zM55 -44h1v1h-1zM56 -45h1v1h-1zM57 -46h1v1h-1zM58 -47h1v1h-1z"/><path fill="#f6d209" d="M3 -44h2v1h-2zM1 -45h2v1h-2zM5 -45h2v1h-2zM-1 -46h2v1h-2zM6 -46h1v1h-1zM-3 -47h2v1h-2zM7 -47h1v1h-1zM-5 -48h2v1h-2zM7 -48h1v1h-1zM-6 -49h1v1h-1zM7 -49h1v1h-1zM8 -50h1v1h-1zM-7 -51h1v1h-1zM8 -51h1v1h-1z"/><path fill="#f3d830" d="M19 -44h1v1h-1zM20 -45h1v1h-1zM21 -46h1v1h-1zM21 -47h2v1h-2zM22 -48h1v1h-1zM22 -49h2v1h-2zM23 -50h1v1h-1zM23 -51h1v1h-1z"/><path fill="#f6d206" d="M3 -45h2v1h-2zM1 -46h5v1h-5zM-1 -47h2v1h-2zM5 -47h2v1h-2zM-3 -48h3v1h-3zM6 -48h1v1h-1zM-5 -49h3v1h-3zM6 -49h1v1h-1zM-6 -50h4v1h-4zM6 -50h2v1h-2zM-6 -51h3v1h-3zM7 -51h1v1h-1z"/><path fill="#f3d527" d="M16 -45h1v1h-1zM17 -46h1v1h-1zM18 -47h1v1h-1z"/><path fill="#f3d82d" d="M19 -45h1v1h-1zM20 -46h1v1h-1zM20 -47h1v1h-1zM21 -48h1v1h-1zM21 -49h1v1h-1zM21 -50h2v1h-2zM22 -51h1v1h-1z"/><path fill="#f3d82a" d="M19 -46h1v1h-1zM19 -47h1v1h-1zM20 -48h1v1h-1zM20 -49h1v1h-1zM20 -50h1v1h-1zM20 -51h2v1h-2z"/><path fill="#f6d512" d="M-6 -47h1v1h-1zM-7 -48h1v1h-1zM11 -49h1v1h-1zM-10 -50h1v1h-1zM11 -50h1v1h-1zM-11 -51h1v1h-1zM11 -51h1v1h-1z"/><path fill="#f6d203" d="M1 -47h4v1h-4zM0 -48h6v1h-6zM-2 -49h8v1h-8zM-2 -50h4v1h-4zM4 -50h2v1h-2zM-3 -51h4v1h-4zM5 -51h2v1h-2z"/><path fill="#f3d827" d="M19 -48h1v1h-1zM19 -49h1v1h-1z"/><path fill="#f6d50f" d="M-8 -49h1v1h-1zM-9 -50h1v1h-1z"/><path fill="#f6d50c" d="M-7 -49h1v1h-1zM-8 -50h1v1h-1zM-10 -51h1v1h-1z"/><path fill="#f6d509" d="M-7 -50h1v1h-1zM-9 -51h2v1h-2z"/><path fill="#f6cf00" d="M2 -50h2v1h-2zM2 -51h2v1h-2z"/><path fill="#f6d827" d="M19 -50h1v1h-1zM19 -51h1v1h-1z"/><path fill="#f6d200" d="M1 -51h1v1h-1z"/><path fill="#f6cf03" d="M4 -51h1v1h-1z"/></g></g></g><use href="#lakes" fill="#fff"/><use href="#land" fill="none" stroke="#000" stroke-width="1.15"/><use href="#lakes" fill="none" stroke="#000" stroke-width="1.15"/></svg><path d="M1707.5 352.6h0M1708.6 354.2h0M1703.5 362.3h0M1744.7 360.7h0M1751.6 364.0h0M1708.9 377.3h0M1718.0 375.4h0M1680.4 387.5h0M1690.1 388.9h0M1678.7 393.8h0M1680.9 394.9h0M1649.2 390.6h0M1635.1 419.9h0M1644.9 425.8h0M1652.9 432.3h0M1650.0 439.9h0M1653.6 445.4h0M1684.2 435.1h0M1690.1 432.7h0M1710.2 432.3h0M1732.4 438.3h0M1719.4 445.4h0M1742.7 392.7h0M1670.6 378.1h0M1735.7 386.2h0M1742.2 410.1h0M1725.4 402.0h0M1858.2 399.9h0M1859.5 401.3h0M1861.0 400.4h0M1862.5 402.1h0M1864.3 401.3h0M1859.1 402.8h0M1856.3 410.6h0" stroke="#000" stroke-width="2.6" stroke-linecap="round" fill="none"/><rect x="1589.70" y="318.80" width="394.10" height="187.50" fill="none" stroke="#111" stroke-width="1.9"/><text x="1581.30" y="511.60" class="t" text-anchor="end">25</text><text x="1581.30" y="480.35" class="t" text-anchor="end">30</text><text x="1581.30" y="449.10" class="t" text-anchor="end">35</text><text x="1581.30" y="417.85" class="t" text-anchor="end">40</text><text x="1581.30" y="386.60" class="t" text-anchor="end">45</text><text x="1581.30" y="355.35" class="t" text-anchor="end">50</text><text x="1581.30" y="324.10" class="t" text-anchor="end">55</text><text x="1589.70" y="527.20" class="t" text-anchor="middle">20W</text><text x="1672.67" y="527.20" class="t" text-anchor="middle">0</text><text x="1755.64" y="527.20" class="t" text-anchor="middle">20E</text><text x="1838.61" y="527.20" class="t" text-anchor="middle">40E</text><text x="1921.57" y="527.20" class="t" text-anchor="middle">60E</text><path d="M1589.70 506.30h-4.6M1589.70 475.05h-4.6M1589.70 443.80h-4.6M1589.70 412.55h-4.6M1589.70 381.30h-4.6M1589.70 350.05h-4.6M1589.70 318.80h-4.6M1589.70 506.30v4.6M1672.67 506.30v4.6M1755.64 506.30v4.6M1838.61 506.30v4.6M1921.57 506.30v4.6" stroke="#111" stroke-width="1.9" fill="none"/><text x="1786.75" y="551.60" class="ax" text-anchor="middle">Longitude (<tspan dx="3">°</tspan><tspan dx="3">)</tspan></text><text transform="translate(1555.70 412.55) rotate(-90)" class="ax" text-anchor="middle">Latitude (<tspan dx="3">°</tspan>N)</text><svg x="129.10" y="611.70" width="846.00" height="433.50" viewBox="-10 -50 30 15" preserveAspectRatio="none"><g clip-path="url(#cland)"><g filter="url(#bl)"><path fill="#e77851" d="M-10.5 -34.9h0.8v0.4h-0.8zM-10.5 -35.3h0.8v0.4h-0.8zM-10.5 -35.7h0.8v0.4h-0.8zM-10.5 -36.1h0.8v0.4h-0.8zM-10.5 -36.5h1.2v0.4h-1.2zM-10.5 -36.9h1.2v0.4h-1.2zM-10.1 -37.3h1.2v0.4h-1.2zM-9.3 -37.7h0.4v0.4h-0.4z"/><path fill="#e7784e" d="M-9.7 -34.9h0.8v0.4h-0.8zM-9.7 -35.3h0.4v0.4h-0.4zM-9.7 -35.7h0.8v0.4h-0.8zM-9.7 -36.1h0.8v0.4h-0.8zM-9.3 -36.5h0.4v0.4h-0.4zM-9.3 -36.9h0.4v0.4h-0.4zM-8.9 -37.3h0.4v0.4h-0.4zM-8.9 -37.7h0.4v0.4h-0.4zM-8.5 -38.1h0.4v0.4h-0.4zM-8.1 -38.5h0.4v0.4h-0.4z"/><path fill="#ea7b54" d="M-8.9 -34.9h0.4v0.4h-0.4zM-7.3 -35.7h1.2v0.4h-1.2zM-10.5 -37.7h0.8v0.4h-0.8zM-9.3 -38.1h0.4v0.4h-0.4zM-8.1 -38.9h0.4v0.4h-0.4zM-6.9 -40.1h0.4v0.4h-0.4zM-4.5 -41.3h0.4v0.4h-0.4zM-2.9 -41.3h0.8v0.4h-0.8z"/><path fill="#ed7e57" d="M-8.5 -34.9h0.4v0.4h-0.4zM-7.7 -35.3h0.4v0.4h-0.4zM-5.7 -35.7h0.4v0.4h-0.4z"/><path fill="#ed8157" d="M-8.1 -34.9h1.2v0.4h-1.2zM-7.3 -35.3h0.8v0.4h-0.8zM-2.9 -36.1h0.4v0.4h-0.4z"/><path fill="#ed815a" d="M-6.9 -34.9h0.8v0.4h-0.8zM-6.5 -35.3h0.8v0.4h-0.8zM-5.3 -35.7h0.4v0.4h-0.4zM-0.1 -37.3h0.4v0.4h-0.4z"/><path fill="#ed845d" d="M-6.1 -34.9h0.8v0.4h-0.8zM-5.7 -35.3h0.4v0.4h-0.4z"/><path fill="#ed8a63" d="M-5.3 -34.9h0.4v0.4h-0.4zM-4.9 -35.3h0.4v0.4h-0.4zM-4.5 -35.7h0.4v0.4h-0.4zM0.7 -41.3h0.4v0.4h-0.4z"/><path fill="#ed8d66" d="M-4.9 -34.9h0.4v0.4h-0.4zM-4.1 -35.7h0.4v0.4h-0.4zM-2.1 -36.1h0.4v0.4h-0.4zM-10.1 -39.3h0.8v0.4h-0.8zM-5.3 -41.7h0.4v0.4h-0.4zM-4.1 -41.7h0.4v0.4h-0.4zM-3.3 -41.7h0.4v0.4h-0.4z"/><path fill="#f09066" d="M-4.5 -34.9h0.4v0.4h-0.4zM-3.7 -35.7h0.4v0.4h-0.4z"/><path fill="#f09069" d="M-4.1 -34.9h0.4v0.4h-0.4zM-4.1 -35.3h0.4v0.4h-0.4zM-3.3 -35.7h0.4v0.4h-0.4z"/><path fill="#f0936c" d="M-3.7 -34.9h0.4v0.4h-0.4zM-2.9 -35.7h0.4v0.4h-0.4z"/><path fill="#f0966f" d="M-3.3 -34.9h0.4v0.4h-0.4zM-3.3 -35.3h0.4v0.4h-0.4zM-2.5 -35.7h0.4v0.4h-0.4z"/><path fill="#f09672" d="M-2.9 -34.9h0.4v0.4h-0.4zM-2.9 -35.3h0.4v0.4h-0.4zM-0.9 -36.5h0.4v0.4h-0.4z"/><path fill="#f09972" d="M-2.5 -34.9h0.4v0.4h-0.4zM-2.5 -35.3h0.4v0.4h-0.4z"/><path fill="#f09975" d="M-2.1 -34.9h0.4v0.4h-0.4zM-2.1 -35.3h0.4v0.4h-0.4zM-2.1 -35.7h0.4v0.4h-0.4z"/><path fill="#f09c7b" d="M-1.7 -34.9h0.4v0.4h-0.4zM-1.7 -35.7h0.4v0.4h-0.4zM-1.3 -36.1h0.4v0.4h-0.4zM9.9 -41.7h0.4v0.4h-0.4zM-4.5 -42.1h0.8v0.4h-0.8zM9.1 -42.1h0.8v0.4h-0.8zM8.3 -42.5h0.8v0.4h-0.8z"/><path fill="#f09f7e" d="M-1.3 -34.9h0.4v0.4h-0.4zM-1.3 -35.3h0.4v0.4h-0.4zM-1.3 -35.7h0.4v0.4h-0.4zM-0.9 -36.1h0.4v0.4h-0.4zM7.9 -42.5h0.4v0.4h-0.4zM9.5 -42.5h0.4v0.4h-0.4zM8.7 -42.9h0.8v0.4h-0.8z"/><path fill="#f09f81" d="M-0.9 -34.9h0.4v0.4h-0.4zM3.1 -38.1h0.4v0.4h-0.4zM9.5 -38.5h0.4v0.4h-0.4zM11.1 -39.7h0.4v0.4h-0.4zM10.3 -41.3h0.4v0.4h-0.4zM1.9 -41.7h0.4v0.4h-0.4zM9.9 -42.1h0.4v0.4h-0.4zM8.3 -42.9h0.4v0.4h-0.4zM9.5 -42.9h0.4v0.4h-0.4z"/><path fill="#f0a284" d="M-0.5 -34.9h0.4v0.4h-0.4zM13.9 -34.9h3.6v0.4h-3.6zM-0.5 -35.3h0.4v0.4h-0.4zM13.9 -35.3h3.6v0.4h-3.6zM14.3 -35.7h2.8v0.4h-2.8zM14.3 -36.1h2.4v0.4h-2.4zM14.3 -36.5h2v0.4h-2zM-0.1 -36.9h0.4v0.4h-0.4zM14.7 -36.9h1.2v0.4h-1.2zM6.7 -38.5h0.4v0.4h-0.4zM2.3 -41.7h0.8v0.4h-0.8zM8.7 -43.3h0.8v0.4h-0.8z"/><path fill="#f0a587" d="M-0.1 -34.9h0.4v0.4h-0.4zM17.5 -35.3h0.4v0.4h-0.4zM17.1 -35.7h0.4v0.4h-0.4zM13.5 -36.1h0.4v0.4h-0.4zM16.7 -36.1h0.4v0.4h-0.4zM13.5 -36.5h0.4v0.4h-0.4zM16.3 -36.5h0.4v0.4h-0.4zM13.5 -36.9h0.4v0.4h-0.4zM15.9 -36.9h0.4v0.4h-0.4zM13.9 -37.3h0.4v0.4h-0.4zM15.5 -37.3h0.4v0.4h-0.4zM1.9 -37.7h0.4v0.4h-0.4zM13.9 -37.7h0.4v0.4h-0.4zM15.1 -37.7h0.4v0.4h-0.4zM13.9 -38.1h1.2v0.4h-1.2zM14.3 -38.5h0.4v0.4h-0.4zM-10.1 -40.5h0.4v0.4h-0.4zM2.3 -42.1h0.4v0.4h-0.4zM9.9 -42.5h0.4v0.4h-0.4z"/><path fill="#f3a88a" d="M0.3 -34.9h0.8v0.4h-0.8zM0.3 -35.3h0.4v0.4h-0.4zM0.3 -35.7h0.4v0.4h-0.4zM-0.1 -36.1h0.8v0.4h-0.8zM-0.1 -36.5h0.8v0.4h-0.8zM0.3 -36.9h0.4v0.4h-0.4zM0.7 -37.3h0.4v0.4h-0.4z"/><path fill="#f3ab90" d="M1.1 -34.9h0.4v0.4h-0.4zM1.1 -35.3h0.4v0.4h-0.4zM0.7 -36.5h0.4v0.4h-0.4zM0.7 -36.9h0.4v0.4h-0.4z"/><path fill="#f3b196" d="M1.5 -34.9h0.4v0.4h-0.4zM5.1 -34.9h0.4v0.4h-0.4zM5.1 -35.3h0.4v0.4h-0.4zM12.7 -35.3h0.4v0.4h-0.4zM1.1 -36.5h0.4v0.4h-0.4zM8.3 -36.5h0.4v0.4h-0.4zM5.5 -37.3h0.4v0.4h-0.4zM5.5 -37.7h0.4v0.4h-0.4z"/><path fill="#f3b499" d="M1.9 -34.9h0.4v0.4h-0.4zM8.7 -34.9h0.4v0.4h-0.4zM1.5 -36.1h0.4v0.4h-0.4zM5.1 -36.5h0.4v0.4h-0.4zM11.9 -36.5h0.4v0.4h-0.4zM11.1 -38.1h0.4v0.4h-0.4zM10.7 -38.5h0.4v0.4h-0.4z"/><path fill="#f3b49c" d="M2.3 -34.9h0.8v0.4h-0.8zM4.7 -34.9h0.4v0.4h-0.4zM9.1 -34.9h0.4v0.4h-0.4zM1.9 -35.3h0.8v0.4h-0.8zM4.7 -35.3h0.4v0.4h-0.4zM9.1 -35.3h0.4v0.4h-0.4zM1.9 -35.7h0.8v0.4h-0.8zM1.9 -36.1h0.8v0.4h-0.8zM1.5 -36.5h1.2v0.4h-1.2zM11.5 -36.5h0.4v0.4h-0.4zM1.5 -36.9h1.2v0.4h-1.2zM5.1 -36.9h0.4v0.4h-0.4zM10.7 -36.9h1.2v0.4h-1.2zM1.9 -37.3h0.8v0.4h-0.8zM5.1 -37.3h0.4v0.4h-0.4zM10.7 -37.3h1.2v0.4h-1.2zM2.7 -37.7h0.4v0.4h-0.4zM5.1 -37.7h0.4v0.4h-0.4zM10.7 -37.7h0.8v0.4h-0.8zM4.3 -38.1h0.4v0.4h-0.4zM5.1 -38.1h0.4v0.4h-0.4zM10.7 -38.1h0.4v0.4h-0.4z"/><path fill="#f3b79f" d="M3.1 -34.9h1.6v0.4h-1.6zM2.7 -35.3h2v0.4h-2zM2.7 -35.7h2v0.4h-2zM2.7 -36.1h2v0.4h-2zM2.7 -36.5h2.4v0.4h-2.4zM2.7 -36.9h2.4v0.4h-2.4zM2.7 -37.3h2.4v0.4h-2.4zM3.1 -37.7h2v0.4h-2zM19.1 -37.7h0.4v0.4h-0.4zM18.7 -38.1h0.4v0.4h-0.4zM18.3 -38.5h0.8v0.4h-0.8zM18.3 -38.9h0.4v0.4h-0.4zM17.9 -39.3h0.8v0.4h-0.8zM17.5 -39.7h0.8v0.4h-0.8zM17.1 -40.1h1.2v0.4h-1.2zM16.7 -40.5h1.2v0.4h-1.2zM17.1 -40.9h0.8v0.4h-0.8zM10.3 -42.1h0.4v0.4h-0.4z"/><path fill="#f0ab90" d="M5.5 -34.9h0.4v0.4h-0.4zM7.1 -34.9h0.4v0.4h-0.4zM5.5 -35.3h0.4v0.4h-0.4zM7.1 -35.3h0.8v0.4h-0.8zM7.1 -35.7h0.8v0.4h-0.8zM5.9 -36.1h0.4v0.4h-0.4zM7.1 -36.1h0.8v0.4h-0.8zM12.7 -36.1h0.4v0.4h-0.4zM17.9 -36.1h0.4v0.4h-0.4zM5.9 -36.5h0.4v0.4h-0.4zM7.1 -36.5h0.8v0.4h-0.8zM5.9 -36.9h0.4v0.4h-0.4zM7.1 -36.9h0.8v0.4h-0.8zM12.3 -36.9h0.4v0.4h-0.4zM16.7 -36.9h0.4v0.4h-0.4zM5.9 -37.3h0.4v0.4h-0.4zM7.1 -37.3h0.8v0.4h-0.8zM16.3 -37.3h0.4v0.4h-0.4zM5.9 -37.7h0.4v0.4h-0.4zM7.1 -37.7h0.8v0.4h-0.8zM11.9 -37.7h0.4v0.4h-0.4zM15.9 -37.7h0.4v0.4h-0.4zM9.5 -38.1h0.4v0.4h-0.4zM15.5 -38.1h0.4v0.4h-0.4zM11.5 -38.5h0.4v0.4h-0.4zM15.1 -38.5h0.4v0.4h-0.4zM14.7 -38.9h0.4v0.4h-0.4zM13.9 -39.3h0.4v0.4h-0.4zM11.5 -39.7h0.4v0.4h-0.4zM13.1 -39.7h0.4v0.4h-0.4zM10.7 -40.9h0.4v0.4h-0.4zM7.5 -42.5h0.4v0.4h-0.4z"/><path fill="#f0a88d" d="M5.9 -34.9h1.2v0.4h-1.2zM13.1 -34.9h0.4v0.4h-0.4zM5.9 -35.3h1.2v0.4h-1.2zM6.3 -35.7h0.8v0.4h-0.8zM17.9 -35.7h0.4v0.4h-0.4zM6.3 -36.1h0.8v0.4h-0.8zM17.5 -36.1h0.4v0.4h-0.4zM6.3 -36.5h0.4v0.4h-0.4zM12.7 -36.5h0.4v0.4h-0.4zM6.3 -36.9h0.4v0.4h-0.4zM12.7 -36.9h0.4v0.4h-0.4zM12.3 -37.3h0.8v0.4h-0.8zM12.3 -37.7h0.8v0.4h-0.8zM3.5 -38.1h0.4v0.4h-0.4zM6.7 -38.1h0.8v0.4h-0.8zM8.7 -38.1h0.4v0.4h-0.4zM11.9 -38.1h1.2v0.4h-1.2zM5.1 -38.5h0.4v0.4h-0.4zM6.3 -38.5h0.4v0.4h-0.4zM11.9 -38.5h1.2v0.4h-1.2zM11.5 -38.9h2v0.4h-2zM11.1 -39.3h2.8v0.4h-2.8zM12.3 -39.7h0.8v0.4h-0.8zM-8.1 -40.5h0.4v0.4h-0.4zM-4.1 -42.5h0.4v0.4h-0.4zM8.3 -43.3h0.4v0.4h-0.4z"/><path fill="#f0ab93" d="M7.5 -34.9h0.4v0.4h-0.4zM17.5 -36.5h0.4v0.4h-0.4zM17.1 -36.9h0.4v0.4h-0.4zM10.7 -38.9h0.4v0.4h-0.4z"/><path fill="#f0ae96" d="M7.9 -34.9h0.4v0.4h-0.4zM7.9 -35.3h0.4v0.4h-0.4zM7.9 -35.7h0.4v0.4h-0.4zM7.9 -36.1h0.4v0.4h-0.4zM12.3 -36.5h0.4v0.4h-0.4zM18.7 -36.5h0.4v0.4h-0.4zM8.3 -36.9h1.2v0.4h-1.2zM18.7 -36.9h0.4v0.4h-0.4zM8.3 -37.3h1.6v0.4h-1.6zM11.9 -37.3h0.4v0.4h-0.4zM9.9 -37.7h0.4v0.4h-0.4zM17.9 -38.1h0.4v0.4h-0.4zM10.3 -38.5h0.4v0.4h-0.4zM17.5 -38.5h0.4v0.4h-0.4zM17.1 -38.9h0.4v0.4h-0.4zM14.3 -39.3h0.4v0.4h-0.4zM15.1 -39.3h2v0.4h-2zM-7.7 -40.9h0.4v0.4h-0.4zM10.3 -41.7h0.4v0.4h-0.4zM3.9 -42.1h0.4v0.4h-0.4zM7.1 -42.1h0.4v0.4h-0.4z"/><path fill="#f3b199" d="M8.3 -34.9h0.4v0.4h-0.4zM9.5 -34.9h3.6v0.4h-3.6zM1.5 -35.3h0.4v0.4h-0.4zM8.3 -35.3h0.8v0.4h-0.8zM9.5 -35.3h3.2v0.4h-3.2zM1.5 -35.7h0.4v0.4h-0.4zM5.1 -35.7h0.4v0.4h-0.4zM8.3 -35.7h4.4v0.4h-4.4zM5.1 -36.1h0.4v0.4h-0.4zM8.3 -36.1h4.4v0.4h-4.4zM8.7 -36.5h0.4v0.4h-0.4zM9.9 -36.5h1.6v0.4h-1.6zM1.1 -36.9h0.4v0.4h-0.4zM10.3 -36.9h0.4v0.4h-0.4zM11.9 -36.9h0.4v0.4h-0.4zM1.5 -37.3h0.4v0.4h-0.4zM10.3 -37.3h0.4v0.4h-0.4zM10.3 -37.7h0.4v0.4h-0.4zM11.5 -37.7h0.4v0.4h-0.4zM5.5 -38.1h0.4v0.4h-0.4z"/><path fill="#f0a287" d="M13.5 -34.9h0.4v0.4h-0.4zM13.5 -35.3h0.4v0.4h-0.4zM13.5 -35.7h0.8v0.4h-0.8zM13.9 -36.1h0.4v0.4h-0.4zM13.9 -36.5h0.4v0.4h-0.4zM13.9 -36.9h0.8v0.4h-0.8zM14.3 -37.3h1.2v0.4h-1.2zM14.3 -37.7h0.8v0.4h-0.8zM5.9 -41.3h0.4v0.4h-0.4zM5.1 -41.7h0.4v0.4h-0.4z"/><path fill="#eda58a" d="M17.5 -34.9h0.4v0.4h-0.4zM-6.5 -41.7h0.4v0.4h-0.4zM-0.5 -42.1h0.4v0.4h-0.4zM0.3 -42.1h0.4v0.4h-0.4zM1.5 -42.1h0.4v0.4h-0.4z"/><path fill="#e1ae9c" d="M17.9 -34.9h0.4v0.4h-0.4z"/><path fill="#deb1a5" d="M18.3 -34.9h0.4v0.4h-0.4zM18.7 -35.7h0.4v0.4h-0.4zM19.1 -36.1h0.4v0.4h-0.4z"/><path fill="#dbb1a5" d="M18.7 -34.9h0.8v0.4h-0.8zM18.7 -35.3h0.8v0.4h-0.8z"/><path fill="#dbb1a8" d="M19.5 -34.9h0.8v0.4h-0.8zM19.5 -35.3h0.8v0.4h-0.8zM19.1 -35.7h1.2v0.4h-1.2zM19.5 -36.1h0.8v0.4h-0.8zM19.5 -36.5h0.4v0.4h-0.4z"/><path fill="#d8b1a8" d="M20.3 -34.9h0.4v0.4h-0.4zM20.3 -35.3h0.4v0.4h-0.4zM20.3 -35.7h0.4v0.4h-0.4z"/><path fill="#e7754e" d="M-9.3 -35.3h0.8v0.4h-0.8zM-8.9 -36.1h0.4v0.4h-0.4zM-8.9 -36.5h0.4v0.4h-0.4zM-8.9 -36.9h0.4v0.4h-0.4zM-8.5 -37.7h0.4v0.4h-0.4z"/><path fill="#ea7851" d="M-8.5 -35.3h0.4v0.4h-0.4zM-3.7 -41.3h0.4v0.4h-0.4z"/><path fill="#ea7e57" d="M-8.1 -35.3h0.4v0.4h-0.4zM-10.1 -38.1h0.4v0.4h-0.4zM2.7 -38.9h0.4v0.4h-0.4zM2.7 -39.3h0.4v0.4h-0.4zM0.7 -39.7h0.4v0.4h-0.4zM2.3 -39.7h0.8v0.4h-0.8zM2.3 -40.1h0.4v0.4h-0.4z"/><path fill="#ed8760" d="M-5.3 -35.3h0.4v0.4h-0.4z"/><path fill="#f08d66" d="M-4.5 -35.3h0.4v0.4h-0.4z"/><path fill="#f09369" d="M-3.7 -35.3h0.4v0.4h-0.4z"/><path fill="#f09f7b" d="M-1.7 -35.3h0.4v0.4h-0.4z"/><path fill="#f0a281" d="M-0.9 -35.3h0.4v0.4h-0.4zM-0.9 -35.7h0.4v0.4h-0.4zM-0.5 -36.5h0.4v0.4h-0.4zM-10.5 -40.5h0.4v0.4h-0.4z"/><path fill="#f3a587" d="M-0.1 -35.3h0.4v0.4h-0.4z"/><path fill="#f3a88d" d="M0.7 -35.3h0.4v0.4h-0.4z"/><path fill="#f0a58a" d="M13.1 -35.3h0.4v0.4h-0.4zM13.1 -35.7h0.4v0.4h-0.4zM17.5 -35.7h0.4v0.4h-0.4zM13.1 -36.1h0.4v0.4h-0.4zM17.1 -36.1h0.4v0.4h-0.4zM13.1 -36.5h0.4v0.4h-0.4zM16.7 -36.5h0.4v0.4h-0.4zM13.1 -36.9h0.4v0.4h-0.4zM13.1 -37.3h0.8v0.4h-0.8zM13.5 -37.7h0.4v0.4h-0.4zM7.9 -38.1h0.8v0.4h-0.8zM13.5 -38.1h0.4v0.4h-0.4zM9.9 -38.5h0.4v0.4h-0.4zM13.5 -38.5h0.8v0.4h-0.8zM13.9 -38.9h0.4v0.4h-0.4zM2.7 -42.1h0.8v0.4h-0.8z"/><path fill="#eda88d" d="M17.9 -35.3h0.4v0.4h-0.4zM0.7 -42.1h0.8v0.4h-0.8zM-4.9 -42.5h0.4v0.4h-0.4z"/><path fill="#deaea2" d="M18.3 -35.3h0.4v0.4h-0.4z"/><path fill="#e7754b" d="M-8.9 -35.7h0.4v0.4h-0.4zM-8.5 -36.9h0.4v0.4h-0.4zM-8.5 -37.3h0.4v0.4h-0.4zM-8.1 -38.1h0.4v0.4h-0.4zM-7.7 -38.9h0.4v0.4h-0.4z"/><path fill="#e7724b" d="M-8.5 -35.7h0.4v0.4h-0.4zM-8.5 -36.1h0.4v0.4h-0.4zM-8.5 -36.5h0.4v0.4h-0.4zM-8.1 -37.7h0.4v0.4h-0.4z"/><path fill="#ea754e" d="M-8.1 -35.7h0.4v0.4h-0.4zM-4.9 -36.1h0.4v0.4h-0.4zM-1.7 -36.5h0.4v0.4h-0.4z"/><path fill="#ea7b51" d="M-7.7 -35.7h0.4v0.4h-0.4zM-4.5 -36.1h0.4v0.4h-0.4zM-9.7 -37.7h0.4v0.4h-0.4zM-8.9 -38.1h0.4v0.4h-0.4zM-8.5 -38.5h0.4v0.4h-0.4zM-7.3 -39.7h0.4v0.4h-0.4zM-1.3 -40.9h0.8v0.4h-0.8zM-5.3 -41.3h0.8v0.4h-0.8zM-4.1 -41.3h0.4v0.4h-0.4zM-3.3 -41.3h0.4v0.4h-0.4z"/><path fill="#ea7e54" d="M-6.1 -35.7h0.4v0.4h-0.4zM-4.1 -36.1h0.4v0.4h-0.4zM-3.3 -36.1h0.4v0.4h-0.4zM-9.7 -38.1h0.4v0.4h-0.4zM-8.9 -38.5h0.4v0.4h-0.4zM1.1 -40.1h0.4v0.4h-0.4zM-2.1 -41.3h0.4v0.4h-0.4z"/><path fill="#ed875d" d="M-4.9 -35.7h0.4v0.4h-0.4zM-2.5 -36.1h0.4v0.4h-0.4z"/><path fill="#f0a584" d="M-0.5 -35.7h0.4v0.4h-0.4zM-0.5 -36.1h0.4v0.4h-0.4z"/><path fill="#f3a887" d="M-0.1 -35.7h0.4v0.4h-0.4z"/><path fill="#f3ab8d" d="M0.7 -35.7h0.4v0.4h-0.4zM0.7 -36.1h0.4v0.4h-0.4z"/><path fill="#f3ae93" d="M1.1 -35.7h0.4v0.4h-0.4zM1.1 -36.1h0.4v0.4h-0.4zM5.5 -36.5h0.4v0.4h-0.4zM2.3 -37.7h0.4v0.4h-0.4zM5.5 -38.5h0.4v0.4h-0.4z"/><path fill="#f3b79c" d="M4.7 -35.7h0.4v0.4h-0.4zM4.7 -36.1h0.4v0.4h-0.4zM4.7 -38.1h0.4v0.4h-0.4z"/><path fill="#f0ae93" d="M5.5 -35.7h0.4v0.4h-0.4zM12.7 -35.7h0.4v0.4h-0.4zM5.5 -36.1h0.4v0.4h-0.4zM18.3 -36.1h0.4v0.4h-0.4zM7.9 -36.5h0.4v0.4h-0.4zM17.9 -36.5h0.8v0.4h-0.8zM7.9 -36.9h0.4v0.4h-0.4zM17.5 -36.9h1.2v0.4h-1.2zM7.9 -37.3h0.4v0.4h-0.4zM16.7 -37.3h2v0.4h-2zM7.9 -37.7h2v0.4h-2zM16.3 -37.7h2v0.4h-2zM5.9 -38.1h0.4v0.4h-0.4zM9.9 -38.1h0.4v0.4h-0.4zM11.5 -38.1h0.4v0.4h-0.4zM15.9 -38.1h2v0.4h-2zM5.9 -38.5h0.4v0.4h-0.4zM15.5 -38.5h2v0.4h-2zM11.1 -38.9h0.4v0.4h-0.4zM15.1 -38.9h2v0.4h-2zM-8.9 -40.5h0.8v0.4h-0.8zM-10.5 -40.9h0.4v0.4h-0.4zM6.3 -41.3h0.4v0.4h-0.4z"/><path fill="#f0ab8d" d="M5.9 -35.7h0.4v0.4h-0.4zM6.7 -36.5h0.4v0.4h-0.4zM17.1 -36.5h0.4v0.4h-0.4zM6.7 -36.9h0.4v0.4h-0.4zM6.3 -37.3h0.8v0.4h-0.8zM6.3 -37.7h0.8v0.4h-0.8zM6.3 -38.1h0.4v0.4h-0.4zM11.9 -39.7h0.4v0.4h-0.4zM9.9 -42.9h0.4v0.4h-0.4z"/><path fill="#eaae96" d="M18.3 -35.7h0.4v0.4h-0.4z"/><path fill="#e76f48" d="M-8.1 -36.1h0.4v0.4h-0.4zM-8.1 -36.5h0.4v0.4h-0.4z"/><path fill="#e76f45" d="M-7.7 -36.1h0.4v0.4h-0.4zM-7.7 -37.3h0.4v0.4h-0.4zM-7.7 -37.7h0.4v0.4h-0.4zM-6.9 -39.7h0.4v0.4h-0.4z"/><path fill="#ea7248" d="M-7.3 -36.1h0.8v0.4h-0.8zM-5.7 -36.1h0.4v0.4h-0.4zM-2.9 -40.9h0.8v0.4h-0.8z"/><path fill="#ea6f45" d="M-6.5 -36.1h0.8v0.4h-0.8z"/><path fill="#ea754b" d="M-5.3 -36.1h0.4v0.4h-0.4zM-0.9 -36.9h0.4v0.4h-0.4zM0.3 -37.7h0.4v0.4h-0.4zM0.3 -38.5h0.4v0.4h-0.4z"/><path fill="#ea7e51" d="M-3.7 -36.1h0.4v0.4h-0.4z"/><path fill="#ed9372" d="M-1.7 -36.1h0.4v0.4h-0.4zM4.3 -38.5h0.4v0.4h-0.4zM7.1 -38.9h2.4v0.4h-2.4zM6.3 -39.3h3.2v0.4h-3.2zM10.3 -39.3h0.4v0.4h-0.4zM6.7 -39.7h1.2v0.4h-1.2zM10.7 -39.7h0.4v0.4h-0.4zM10.7 -40.1h0.4v0.4h-0.4zM6.7 -40.5h4v0.4h-4zM6.3 -40.9h4v0.4h-4z"/><path fill="#eaae99" d="M18.7 -36.1h0.4v0.4h-0.4z"/><path fill="#d8b1ab" d="M20.3 -36.1h0.4v0.4h-0.4zM20.3 -36.5h0.4v0.4h-0.4zM20.3 -36.9h0.4v0.4h-0.4z"/><path fill="#e76c42" d="M-7.7 -36.5h0.4v0.4h-0.4zM-7.7 -36.9h0.4v0.4h-0.4zM-7.3 -38.9h0.4v0.4h-0.4z"/><path fill="#e7663c" d="M-7.3 -36.5h0.4v0.4h-0.4zM-7.3 -36.9h0.4v0.4h-0.4zM-7.3 -37.3h0.4v0.4h-0.4z"/><path fill="#e76336" d="M-6.9 -36.5h0.4v0.4h-0.4zM-5.7 -36.5h1.2v0.4h-1.2zM-2.9 -36.5h0.4v0.4h-0.4zM-0.5 -37.7h0.4v0.4h-0.4zM-0.5 -38.1h0.4v0.4h-0.4zM-6.9 -38.9h0.4v0.4h-0.4zM-0.9 -38.9h0.4v0.4h-0.4zM-1.3 -39.3h0.4v0.4h-0.4zM-6.1 -39.7h0.4v0.4h-0.4zM-5.3 -40.1h0.4v0.4h-0.4zM-2.5 -40.1h0.8v0.4h-0.8z"/><path fill="#e76033" d="M-6.5 -36.5h0.8v0.4h-0.8zM-4.5 -36.5h1.2v0.4h-1.2zM-1.7 -36.9h0.4v0.4h-0.4zM-0.9 -37.3h0.4v0.4h-0.4zM-0.9 -38.1h0.4v0.4h-0.4zM-1.3 -38.9h0.4v0.4h-0.4zM-1.7 -39.7h0.4v0.4h-0.4zM-4.1 -40.1h1.2v0.4h-1.2z"/><path fill="#e76333" d="M-3.3 -36.5h0.4v0.4h-0.4zM-0.9 -38.5h0.4v0.4h-0.4zM-6.5 -39.3h0.4v0.4h-0.4zM-4.9 -40.1h0.8v0.4h-0.8zM-2.9 -40.1h0.4v0.4h-0.4z"/><path fill="#e76639" d="M-2.5 -36.5h0.4v0.4h-0.4zM-1.3 -36.9h0.4v0.4h-0.4zM-0.1 -38.1h0.4v0.4h-0.4zM-0.5 -38.9h0.4v0.4h-0.4zM-0.9 -39.3h0.4v0.4h-0.4zM-1.3 -39.7h0.4v0.4h-0.4zM-1.7 -40.1h0.4v0.4h-0.4z"/><path fill="#e76c3f" d="M-2.1 -36.5h0.4v0.4h-0.4zM-0.5 -37.3h0.4v0.4h-0.4zM-0.1 -39.3h0.4v0.4h-0.4zM-0.1 -39.7h0.4v0.4h-0.4zM-6.1 -40.1h0.4v0.4h-0.4zM-0.9 -40.1h0.4v0.4h-0.4zM-5.3 -40.5h1.6v0.4h-1.6zM-2.9 -40.5h1.2v0.4h-1.2z"/><path fill="#ed8460" d="M-1.3 -36.5h0.4v0.4h-0.4zM3.5 -38.5h0.4v0.4h-0.4zM1.9 -38.9h0.4v0.4h-0.4zM3.5 -39.3h0.4v0.4h-0.4zM1.5 -39.7h0.4v0.4h-0.4zM3.1 -40.1h0.4v0.4h-0.4z"/><path fill="#f0b199" d="M9.1 -36.5h0.8v0.4h-0.8zM9.9 -36.9h0.4v0.4h-0.4zM19.1 -36.9h0.4v0.4h-0.4zM10.3 -38.1h0.4v0.4h-0.4zM11.1 -38.5h0.4v0.4h-0.4zM17.9 -38.5h0.4v0.4h-0.4zM15.5 -39.7h1.6v0.4h-1.6zM-10.1 -40.9h0.4v0.4h-0.4z"/><path fill="#e7b19f" d="M19.1 -36.5h0.4v0.4h-0.4z"/><path fill="#dbb1ab" d="M19.9 -36.5h0.4v0.4h-0.4z"/><path fill="#e77248" d="M-8.1 -36.9h0.4v0.4h-0.4zM-8.1 -37.3h0.4v0.4h-0.4zM-7.7 -38.5h0.4v0.4h-0.4zM-7.3 -39.3h0.4v0.4h-0.4zM-6.5 -40.1h0.4v0.4h-0.4zM-5.3 -40.9h1.6v0.4h-1.6z"/><path fill="#e45d30" d="M-6.9 -36.9h0.4v0.4h-0.4zM-6.9 -37.3h0.4v0.4h-0.4zM-6.9 -37.7h0.4v0.4h-0.4zM-6.9 -38.1h0.4v0.4h-0.4zM-6.9 -38.5h0.4v0.4h-0.4zM-6.1 -39.3h0.4v0.4h-0.4zM-2.5 -39.7h0.4v0.4h-0.4z"/><path fill="#e4572a" d="M-6.5 -36.9h2v0.4h-2zM-6.5 -38.5h0.4v0.4h-0.4zM-6.1 -38.9h0.4v0.4h-0.4zM-2.5 -38.9h0.4v0.4h-0.4zM-4.1 -39.3h1.2v0.4h-1.2z"/><path fill="#e45727" d="M-4.5 -36.9h0.8v0.4h-0.8zM-6.5 -37.3h0.4v0.4h-0.4zM-3.7 -37.3h0.8v0.4h-0.8zM-6.5 -37.7h0.4v0.4h-0.4zM-3.3 -37.7h0.8v0.4h-0.8zM-6.5 -38.1h0.4v0.4h-0.4zM-2.9 -38.1h0.8v0.4h-0.8zM-2.5 -38.5h0.4v0.4h-0.4zM-5.7 -38.9h0.4v0.4h-0.4zM-2.9 -38.9h0.4v0.4h-0.4z"/><path fill="#e45a2a" d="M-3.7 -36.9h0.8v0.4h-0.8zM-2.9 -37.3h0.8v0.4h-0.8zM-2.5 -37.7h0.4v0.4h-0.4zM-2.1 -38.1h0.4v0.4h-0.4zM-2.1 -38.5h0.4v0.4h-0.4zM-2.1 -38.9h0.4v0.4h-0.4zM-5.3 -39.3h1.2v0.4h-1.2zM-2.9 -39.3h0.4v0.4h-0.4z"/><path fill="#e45a2d" d="M-2.9 -36.9h0.4v0.4h-0.4zM-5.7 -39.3h0.4v0.4h-0.4zM-2.5 -39.3h0.4v0.4h-0.4zM-4.1 -39.7h1.2v0.4h-1.2z"/><path fill="#e75d2d" d="M-2.5 -36.9h0.4v0.4h-0.4zM-1.7 -37.3h0.4v0.4h-0.4zM-1.3 -37.7h0.4v0.4h-0.4zM-1.7 -38.5h0.4v0.4h-0.4z"/><path fill="#e75d30" d="M-2.1 -36.9h0.4v0.4h-0.4zM-1.3 -37.3h0.4v0.4h-0.4zM-1.3 -38.1h0.4v0.4h-0.4zM-1.7 -38.9h0.4v0.4h-0.4zM-2.1 -39.7h0.4v0.4h-0.4z"/><path fill="#ed906c" d="M-0.5 -36.9h0.4v0.4h-0.4zM-8.5 -39.7h0.4v0.4h-0.4zM-6.5 -40.9h0.4v0.4h-0.4zM-2.9 -41.7h0.4v0.4h-0.4z"/><path fill="#f3ae96" d="M5.5 -36.9h0.4v0.4h-0.4zM1.1 -37.3h0.4v0.4h-0.4zM3.9 -38.1h0.4v0.4h-0.4z"/><path fill="#f0b196" d="M9.5 -36.9h0.4v0.4h-0.4zM9.9 -37.3h0.4v0.4h-0.4zM18.7 -37.3h0.4v0.4h-0.4zM18.3 -37.7h0.4v0.4h-0.4zM17.5 -38.9h0.4v0.4h-0.4zM14.7 -39.3h0.4v0.4h-0.4zM17.1 -39.3h0.4v0.4h-0.4zM-7.3 -41.3h0.4v0.4h-0.4zM-6.9 -41.7h0.4v0.4h-0.4zM9.1 -43.7h0.4v0.4h-0.4z"/><path fill="#f0a88a" d="M16.3 -36.9h0.4v0.4h-0.4zM15.9 -37.3h0.4v0.4h-0.4zM13.1 -37.7h0.4v0.4h-0.4zM15.5 -37.7h0.4v0.4h-0.4zM7.5 -38.1h0.4v0.4h-0.4zM13.1 -38.1h0.4v0.4h-0.4zM15.1 -38.1h0.4v0.4h-0.4zM13.1 -38.5h0.4v0.4h-0.4zM14.7 -38.5h0.4v0.4h-0.4zM13.5 -38.9h0.4v0.4h-0.4zM14.3 -38.9h0.4v0.4h-0.4zM-9.7 -40.5h0.4v0.4h-0.4zM-4.5 -42.5h0.4v0.4h-0.4zM7.9 -42.9h0.4v0.4h-0.4zM9.5 -43.3h0.4v0.4h-0.4z"/><path fill="#e7b4a2" d="M19.5 -36.9h0.4v0.4h-0.4z"/><path fill="#deb4a8" d="M19.9 -36.9h0.4v0.4h-0.4z"/><path fill="#e77b51" d="M-10.5 -37.3h0.4v0.4h-0.4zM-7.7 -39.3h0.4v0.4h-0.4z"/><path fill="#e45427" d="M-6.1 -37.3h0.8v0.4h-0.8zM-6.1 -38.5h0.4v0.4h-0.4zM-2.9 -38.5h0.4v0.4h-0.4zM-3.3 -38.9h0.4v0.4h-0.4z"/><path fill="#e45424" d="M-5.3 -37.3h1.6v0.4h-1.6zM-6.1 -37.7h0.8v0.4h-0.8zM-4.1 -37.7h0.8v0.4h-0.8zM-6.1 -38.1h0.4v0.4h-0.4zM-3.3 -38.1h0.4v0.4h-0.4zM-3.3 -38.5h0.4v0.4h-0.4zM-5.3 -38.9h2v0.4h-2z"/><path fill="#e75a2d" d="M-2.1 -37.3h0.4v0.4h-0.4zM-1.7 -37.7h0.4v0.4h-0.4zM-1.7 -38.1h0.4v0.4h-0.4z"/><path fill="#f09978" d="M0.3 -37.3h0.4v0.4h-0.4zM9.1 -41.7h0.8v0.4h-0.8z"/><path fill="#f0b79c" d="M19.1 -37.3h0.4v0.4h-0.4zM-9.7 -40.9h0.4v0.4h-0.4z"/><path fill="#f0b79f" d="M19.5 -37.3h0.4v0.4h-0.4zM19.1 -38.1h0.4v0.4h-0.4zM15.9 -40.5h0.8v0.4h-0.8zM-8.1 -40.9h0.4v0.4h-0.4z"/><path fill="#edb7a5" d="M19.9 -37.3h0.4v0.4h-0.4zM18.7 -39.7h0.4v0.4h-0.4z"/><path fill="#deb4ab" d="M20.3 -37.3h0.4v0.4h-0.4z"/><path fill="#e7693c" d="M-7.3 -37.7h0.4v0.4h-0.4zM-0.1 -37.7h0.4v0.4h-0.4zM-7.3 -38.1h0.4v0.4h-0.4zM-0.1 -38.5h0.4v0.4h-0.4zM-0.1 -38.9h0.4v0.4h-0.4zM-6.9 -39.3h0.4v0.4h-0.4zM-6.5 -39.7h0.4v0.4h-0.4zM-0.9 -39.7h0.4v0.4h-0.4zM-1.3 -40.1h0.4v0.4h-0.4z"/><path fill="#e45121" d="M-5.3 -37.7h0.8v0.4h-0.8zM-5.7 -38.1h2.4v0.4h-2.4zM-5.3 -38.5h2v0.4h-2z"/><path fill="#e45124" d="M-4.5 -37.7h0.4v0.4h-0.4zM-5.7 -38.5h0.4v0.4h-0.4z"/><path fill="#e75a2a" d="M-2.1 -37.7h0.4v0.4h-0.4z"/><path fill="#e76030" d="M-0.9 -37.7h0.4v0.4h-0.4zM-1.3 -38.5h0.4v0.4h-0.4zM-1.7 -39.3h0.4v0.4h-0.4z"/><path fill="#ed8a66" d="M0.7 -37.7h0.4v0.4h-0.4zM1.5 -38.1h0.8v0.4h-0.8zM3.5 -40.1h0.4v0.4h-0.4zM3.1 -40.9h0.4v0.4h-0.4zM-4.9 -41.7h0.4v0.4h-0.4zM-3.7 -41.7h0.4v0.4h-0.4z"/><path fill="#ed9375" d="M1.1 -37.7h0.4v0.4h-0.4zM2.7 -38.1h0.4v0.4h-0.4zM5.5 -38.9h0.4v0.4h-0.4zM6.7 -38.9h0.4v0.4h-0.4zM9.5 -38.9h0.4v0.4h-0.4zM3.1 -41.3h0.4v0.4h-0.4zM5.5 -41.3h0.4v0.4h-0.4zM7.1 -41.3h2v0.4h-2zM4.3 -41.7h0.4v0.4h-0.4z"/><path fill="#f09c7e" d="M1.5 -37.7h0.4v0.4h-0.4zM4.7 -38.5h0.4v0.4h-0.4zM9.1 -38.5h0.4v0.4h-0.4zM5.9 -38.9h0.4v0.4h-0.4zM10.3 -38.9h0.4v0.4h-0.4zM3.5 -41.7h0.4v0.4h-0.4zM7.1 -41.7h0.4v0.4h-0.4zM7.5 -42.1h0.4v0.4h-0.4zM9.1 -42.5h0.4v0.4h-0.4z"/><path fill="#f0b49c" d="M18.7 -37.7h0.4v0.4h-0.4zM17.9 -38.9h0.4v0.4h-0.4zM17.5 -39.3h0.4v0.4h-0.4zM13.5 -39.7h0.4v0.4h-0.4zM15.1 -39.7h0.4v0.4h-0.4zM17.1 -39.7h0.4v0.4h-0.4zM15.5 -40.1h1.6v0.4h-1.6zM4.3 -42.1h0.4v0.4h-0.4zM-4.5 -42.9h0.4v0.4h-0.4zM8.7 -43.7h0.4v0.4h-0.4z"/><path fill="#f0b7a2" d="M19.5 -37.7h0.4v0.4h-0.4zM19.1 -38.5h0.4v0.4h-0.4zM18.7 -38.9h0.4v0.4h-0.4zM18.7 -39.3h0.4v0.4h-0.4zM14.7 -39.7h0.4v0.4h-0.4zM18.3 -39.7h0.4v0.4h-0.4zM15.1 -40.1h0.4v0.4h-0.4zM18.3 -40.1h0.4v0.4h-0.4zM17.9 -40.5h0.4v0.4h-0.4zM17.9 -40.9h0.4v0.4h-0.4zM17.5 -41.3h0.4v0.4h-0.4zM7.9 -43.3h0.4v0.4h-0.4z"/><path fill="#eab7a5" d="M19.9 -37.7h0.4v0.4h-0.4z"/><path fill="#d8b4b7" d="M20.3 -37.7h0.4v0.4h-0.4z"/><path fill="#ea8157" d="M-10.5 -38.1h0.4v0.4h-0.4zM-9.3 -38.5h0.4v0.4h-0.4zM-8.5 -38.9h0.4v0.4h-0.4zM-5.7 -41.3h0.4v0.4h-0.4z"/><path fill="#e77245" d="M-7.7 -38.1h0.4v0.4h-0.4zM-3.7 -40.9h0.8v0.4h-0.8z"/><path fill="#ea7245" d="M0.3 -38.1h0.4v0.4h-0.4zM-1.3 -40.5h0.4v0.4h-0.4z"/><path fill="#ea815d" d="M0.7 -38.1h0.4v0.4h-0.4zM1.9 -39.7h0.4v0.4h-0.4zM3.1 -39.7h0.4v0.4h-0.4zM1.5 -40.1h0.4v0.4h-0.4zM2.3 -40.5h0.8v0.4h-0.8z"/><path fill="#ed8763" d="M1.1 -38.1h0.4v0.4h-0.4zM1.1 -38.5h1.2v0.4h-1.2zM1.1 -38.9h0.8v0.4h-0.8zM1.1 -39.3h0.8v0.4h-0.8zM3.5 -39.7h0.4v0.4h-0.4zM1.9 -40.5h0.4v0.4h-0.4z"/><path fill="#ed8d69" d="M2.3 -38.1h0.4v0.4h-0.4zM3.9 -39.7h0.4v0.4h-0.4zM-6.1 -41.3h0.4v0.4h-0.4zM-4.5 -41.7h0.4v0.4h-0.4z"/><path fill="#f0a890" d="M9.1 -38.1h0.4v0.4h-0.4zM11.1 -40.1h0.4v0.4h-0.4zM3.5 -42.1h0.4v0.4h-0.4z"/><path fill="#f0b499" d="M18.3 -38.1h0.4v0.4h-0.4z"/><path fill="#edb7a2" d="M19.5 -38.1h0.4v0.4h-0.4zM19.1 -38.9h0.4v0.4h-0.4zM18.3 -40.5h0.4v0.4h-0.4zM17.9 -41.3h0.4v0.4h-0.4z"/><path fill="#e4b7ae" d="M19.9 -38.1h0.4v0.4h-0.4zM17.9 -41.7h0.4v0.4h-0.4z"/><path fill="#c9b4c3" d="M20.3 -38.1h0.4v0.4h-0.4zM19.9 -38.9h0.4v0.4h-0.4z"/><path fill="#ea875d" d="M-10.5 -38.5h0.4v0.4h-0.4zM-9.3 -38.9h0.4v0.4h-0.4zM-8.5 -39.3h0.4v0.4h-0.4zM1.1 -40.9h0.4v0.4h-0.4zM-1.3 -41.3h0.4v0.4h-0.4z"/><path fill="#ea845d" d="M-10.1 -38.5h0.4v0.4h-0.4zM0.7 -38.5h0.4v0.4h-0.4zM2.3 -38.5h0.4v0.4h-0.4zM0.7 -39.3h0.4v0.4h-0.4zM-7.7 -39.7h0.4v0.4h-0.4zM1.1 -39.7h0.4v0.4h-0.4zM-6.1 -40.9h0.4v0.4h-0.4zM-0.9 -41.3h0.4v0.4h-0.4z"/><path fill="#ea815a" d="M-9.7 -38.5h0.4v0.4h-0.4zM2.3 -38.9h0.4v0.4h-0.4zM-8.1 -39.3h0.4v0.4h-0.4zM1.9 -40.1h0.4v0.4h-0.4zM-6.5 -40.5h0.4v0.4h-0.4zM-1.7 -41.3h0.4v0.4h-0.4zM-0.1 -41.3h0.4v0.4h-0.4z"/><path fill="#e7693f" d="M-7.3 -38.5h0.4v0.4h-0.4zM-3.7 -40.5h0.8v0.4h-0.8z"/><path fill="#e76636" d="M-0.5 -38.5h0.4v0.4h-0.4zM-5.7 -40.1h0.4v0.4h-0.4z"/><path fill="#ea7e5a" d="M2.7 -38.5h0.8v0.4h-0.8zM3.1 -38.9h0.4v0.4h-0.4zM2.3 -39.3h0.4v0.4h-0.4zM3.1 -39.3h0.4v0.4h-0.4zM2.7 -40.1h0.4v0.4h-0.4z"/><path fill="#ed8a69" d="M3.9 -38.5h0.4v0.4h-0.4zM3.9 -39.3h0.4v0.4h-0.4zM3.5 -40.5h0.4v0.4h-0.4zM2.7 -40.9h0.4v0.4h-0.4z"/><path fill="#f0997b" d="M7.1 -38.5h0.4v0.4h-0.4zM6.3 -38.9h0.4v0.4h-0.4zM10.7 -40.5h0.4v0.4h-0.4zM7.9 -42.1h1.2v0.4h-1.2z"/><path fill="#ed9675" d="M7.5 -38.5h0.8v0.4h-0.8zM9.9 -38.9h0.4v0.4h-0.4zM-7.3 -40.5h0.4v0.4h-0.4zM1.9 -40.9h0.4v0.4h-0.4zM10.3 -40.9h0.4v0.4h-0.4zM9.1 -41.3h1.2v0.4h-1.2zM-1.3 -41.7h0.8v0.4h-0.8zM0.3 -41.7h0.4v0.4h-0.4zM3.9 -41.7h0.4v0.4h-0.4z"/><path fill="#ed9678" d="M8.3 -38.5h0.4v0.4h-0.4z"/><path fill="#ed997b" d="M8.7 -38.5h0.4v0.4h-0.4zM-6.9 -40.9h0.4v0.4h-0.4zM2.7 -41.3h0.4v0.4h-0.4z"/><path fill="#eab7a8" d="M19.5 -38.5h0.4v0.4h-0.4zM19.1 -39.3h0.4v0.4h-0.4zM18.7 -40.1h0.4v0.4h-0.4zM18.3 -40.9h0.4v0.4h-0.4z"/><path fill="#d5b4b7" d="M19.9 -38.5h0.4v0.4h-0.4z"/><path fill="#bdb1cc" d="M20.3 -38.5h0.4v0.4h-0.4zM19.9 -39.3h0.4v0.4h-0.4z"/><path fill="#ea8a63" d="M-10.5 -38.9h0.4v0.4h-0.4zM-8.9 -39.3h0.4v0.4h-0.4z"/><path fill="#ea8a60" d="M-10.1 -38.9h0.4v0.4h-0.4z"/><path fill="#ea8760" d="M-9.7 -38.9h0.4v0.4h-0.4zM1.5 -40.5h0.4v0.4h-0.4z"/><path fill="#ea845a" d="M-8.9 -38.9h0.4v0.4h-0.4zM-0.5 -41.3h0.4v0.4h-0.4zM0.3 -41.3h0.4v0.4h-0.4z"/><path fill="#e45d2d" d="M-6.5 -38.9h0.4v0.4h-0.4zM-2.1 -39.3h0.4v0.4h-0.4zM-5.3 -39.7h1.2v0.4h-1.2zM-2.9 -39.7h0.4v0.4h-0.4z"/><path fill="#ea784e" d="M0.3 -38.9h0.4v0.4h-0.4zM0.3 -39.3h0.4v0.4h-0.4zM-6.1 -40.5h0.4v0.4h-0.4zM-5.7 -40.9h0.4v0.4h-0.4z"/><path fill="#ea8460" d="M0.7 -38.9h0.4v0.4h-0.4zM1.9 -39.3h0.4v0.4h-0.4z"/><path fill="#ed8160" d="M3.5 -38.9h0.4v0.4h-0.4z"/><path fill="#ed8766" d="M3.9 -38.9h0.4v0.4h-0.4z"/><path fill="#ed8d6c" d="M4.3 -38.9h0.4v0.4h-0.4zM4.3 -39.3h0.4v0.4h-0.4zM3.9 -40.1h0.4v0.4h-0.4zM3.9 -40.5h0.4v0.4h-0.4zM3.5 -40.9h0.4v0.4h-0.4z"/><path fill="#ed906f" d="M4.7 -38.9h0.4v0.4h-0.4zM4.7 -39.3h1.6v0.4h-1.6zM4.7 -39.7h1.6v0.4h-1.6zM-7.7 -40.1h0.4v0.4h-0.4zM4.3 -40.1h2v0.4h-2zM4.3 -40.5h2v0.4h-2zM4.3 -40.9h1.6v0.4h-1.6zM3.5 -41.3h1.6v0.4h-1.6z"/><path fill="#ed9072" d="M5.1 -38.9h0.4v0.4h-0.4zM9.5 -39.3h0.8v0.4h-0.8zM6.3 -39.7h0.4v0.4h-0.4zM7.9 -39.7h2.8v0.4h-2.8zM6.3 -40.1h4.4v0.4h-4.4zM6.3 -40.5h0.4v0.4h-0.4zM5.9 -40.9h0.4v0.4h-0.4zM5.1 -41.3h0.4v0.4h-0.4z"/><path fill="#e1b7ae" d="M19.5 -38.9h0.4v0.4h-0.4zM19.1 -39.7h0.4v0.4h-0.4z"/><path fill="#b7b1d2" d="M20.3 -38.9h0.4v0.4h-0.4zM19.9 -39.7h0.4v0.4h-0.4z"/><path fill="#ed9066" d="M-10.5 -39.3h0.4v0.4h-0.4z"/><path fill="#ea8d63" d="M-9.3 -39.3h0.4v0.4h-0.4z"/><path fill="#e76939" d="M-0.5 -39.3h0.4v0.4h-0.4z"/><path fill="#f09678" d="M10.7 -39.3h0.4v0.4h-0.4zM6.7 -41.3h0.4v0.4h-0.4zM4.7 -41.7h0.4v0.4h-0.4zM7.5 -41.7h1.6v0.4h-1.6z"/><path fill="#d5b4ba" d="M19.5 -39.3h0.4v0.4h-0.4z"/><path fill="#b4b1d5" d="M20.3 -39.3h0.4v0.4h-0.4zM19.5 -40.5h0.4v0.4h-0.4zM19.1 -41.3h0.4v0.4h-0.4zM19.1 -43.7h0.4v0.4h-0.4z"/><path fill="#ed936c" d="M-10.5 -39.7h1.2v0.4h-1.2z"/><path fill="#ed936f" d="M-9.3 -39.7h0.8v0.4h-0.8zM1.5 -40.9h0.4v0.4h-0.4zM2.3 -40.9h0.4v0.4h-0.4zM1.1 -41.3h0.4v0.4h-0.4zM-5.7 -41.7h0.4v0.4h-0.4zM-1.7 -41.7h0.4v0.4h-0.4zM-0.5 -41.7h0.8v0.4h-0.8z"/><path fill="#ea8a66" d="M-8.1 -39.7h0.4v0.4h-0.4z"/><path fill="#e46030" d="M-5.7 -39.7h0.4v0.4h-0.4z"/><path fill="#e76c3c" d="M-0.5 -39.7h0.4v0.4h-0.4z"/><path fill="#ea7548" d="M0.3 -39.7h0.4v0.4h-0.4zM-0.9 -40.5h0.8v0.4h-0.8zM-2.1 -40.9h0.4v0.4h-0.4z"/><path fill="#ed8d6f" d="M4.3 -39.7h0.4v0.4h-0.4zM3.9 -40.9h0.4v0.4h-0.4z"/><path fill="#f3bdab" d="M13.9 -39.7h0.4v0.4h-0.4zM14.7 -40.1h0.4v0.4h-0.4zM15.1 -40.5h0.4v0.4h-0.4z"/><path fill="#f3bda8" d="M14.3 -39.7h0.4v0.4h-0.4zM15.5 -40.9h0.4v0.4h-0.4zM10.7 -41.3h0.4v0.4h-0.4zM15.9 -41.3h0.4v0.4h-0.4zM16.3 -41.7h0.4v0.4h-0.4z"/><path fill="#c6b4c6" d="M19.5 -39.7h0.4v0.4h-0.4zM19.1 -40.5h0.4v0.4h-0.4z"/><path fill="#b1b1d8" d="M20.3 -39.7h0.4v0.4h-0.4zM20.3 -40.1h0.4v0.4h-0.4zM19.9 -40.5h0.8v0.4h-0.8zM19.9 -40.9h0.8v0.4h-0.8zM19.5 -41.3h1.2v0.4h-1.2zM19.1 -41.7h1.6v0.4h-1.6zM19.5 -42.1h1.2v0.4h-1.2zM19.9 -42.5h0.8v0.4h-0.8zM19.9 -42.9h0.8v0.4h-0.8zM19.9 -43.3h0.8v0.4h-0.8zM19.5 -43.7h1.2v0.4h-1.2zM19.1 -44.1h1.6v0.4h-1.6zM18.7 -44.5h2v0.4h-2zM19.1 -44.9h1.6v0.4h-1.6zM19.1 -45.3h1.6v0.4h-1.6zM19.5 -45.7h1.2v0.4h-1.2zM19.1 -46.1h1.6v0.4h-1.6zM19.1 -46.5h1.6v0.4h-1.6zM19.1 -46.9h1.6v0.4h-1.6zM19.1 -47.3h1.6v0.4h-1.6zM19.5 -47.7h1.2v0.4h-1.2zM20.3 -48.1h0.4v0.4h-0.4z"/><path fill="#ed9972" d="M-10.5 -40.1h0.4v0.4h-0.4z"/><path fill="#ed9975" d="M-10.1 -40.1h0.4v0.4h-0.4z"/><path fill="#ed9c7b" d="M-9.7 -40.1h0.4v0.4h-0.4zM1.5 -41.3h0.4v0.4h-0.4zM-6.1 -41.7h0.4v0.4h-0.4zM0.7 -41.7h0.4v0.4h-0.4zM-4.9 -42.1h0.4v0.4h-0.4z"/><path fill="#ed9f7e" d="M-9.3 -40.1h0.4v0.4h-0.4zM-8.5 -40.1h0.4v0.4h-0.4zM-5.3 -42.1h0.4v0.4h-0.4z"/><path fill="#eda281" d="M-8.9 -40.1h0.4v0.4h-0.4z"/><path fill="#ed9978" d="M-8.1 -40.1h0.4v0.4h-0.4zM-6.5 -41.3h0.4v0.4h-0.4z"/><path fill="#ea8763" d="M-7.3 -40.1h0.4v0.4h-0.4z"/><path fill="#e76f42" d="M-0.5 -40.1h0.8v0.4h-0.8zM-5.7 -40.5h0.4v0.4h-0.4zM-1.7 -40.5h0.4v0.4h-0.4z"/><path fill="#ea7242" d="M0.3 -40.1h0.4v0.4h-0.4zM0.3 -40.5h0.4v0.4h-0.4z"/><path fill="#ea784b" d="M0.7 -40.1h0.4v0.4h-0.4zM-1.7 -40.9h0.4v0.4h-0.4zM-0.1 -40.9h0.8v0.4h-0.8z"/><path fill="#f3c0ab" d="M11.5 -40.1h0.4v0.4h-0.4zM13.1 -40.1h0.4v0.4h-0.4zM-10.1 -41.3h0.4v0.4h-0.4zM15.5 -41.3h0.4v0.4h-0.4zM15.5 -41.7h0.4v0.4h-0.4z"/><path fill="#f3c0a8" d="M11.9 -40.1h0.4v0.4h-0.4zM15.9 -41.7h0.4v0.4h-0.4z"/><path fill="#f3bda5" d="M12.3 -40.1h0.8v0.4h-0.8zM11.1 -40.5h0.4v0.4h-0.4zM16.3 -41.3h0.4v0.4h-0.4z"/><path fill="#f3c3b1" d="M13.5 -40.1h0.4v0.4h-0.4zM14.3 -40.1h0.4v0.4h-0.4zM11.5 -40.5h0.8v0.4h-0.8zM14.7 -40.5h0.4v0.4h-0.4zM11.1 -40.9h1.6v0.4h-1.6zM13.9 -40.9h0.4v0.4h-0.4zM-9.3 -41.3h0.4v0.4h-0.4zM11.9 -41.3h0.8v0.4h-0.8zM14.3 -41.3h0.4v0.4h-0.4zM15.1 -41.3h0.4v0.4h-0.4zM5.9 -41.7h0.8v0.4h-0.8zM10.7 -41.7h0.4v0.4h-0.4zM12.3 -41.7h0.4v0.4h-0.4zM14.7 -41.7h0.8v0.4h-0.8zM5.5 -42.1h0.4v0.4h-0.4zM6.7 -42.1h0.4v0.4h-0.4zM12.7 -42.1h0.4v0.4h-0.4zM5.5 -42.5h0.4v0.4h-0.4zM13.9 -42.9h0.4v0.4h-0.4z"/><path fill="#f3c6b4" d="M13.9 -40.1h0.4v0.4h-0.4zM14.3 -40.5h0.4v0.4h-0.4zM14.3 -40.9h0.8v0.4h-0.8zM-8.9 -41.3h0.8v0.4h-0.8zM11.1 -41.3h0.4v0.4h-0.4zM14.7 -41.3h0.4v0.4h-0.4zM11.1 -41.7h0.8v0.4h-0.8zM6.3 -42.1h0.4v0.4h-0.4zM10.7 -42.1h0.4v0.4h-0.4zM11.5 -42.1h0.8v0.4h-0.8zM5.9 -42.5h0.4v0.4h-0.4zM12.3 -42.5h0.8v0.4h-0.8zM13.1 -42.9h0.4v0.4h-0.4zM13.9 -43.3h0.4v0.4h-0.4z"/><path fill="#d2b4ba" d="M19.1 -40.1h0.4v0.4h-0.4zM18.7 -40.9h0.4v0.4h-0.4z"/><path fill="#bab1cf" d="M19.5 -40.1h0.4v0.4h-0.4zM19.1 -40.9h0.4v0.4h-0.4z"/><path fill="#b1b1d5" d="M19.9 -40.1h0.4v0.4h-0.4zM19.5 -40.9h0.4v0.4h-0.4z"/><path fill="#f0ae90" d="M-9.3 -40.5h0.4v0.4h-0.4z"/><path fill="#eda284" d="M-7.7 -40.5h0.4v0.4h-0.4zM-3.3 -42.1h0.4v0.4h-0.4z"/><path fill="#ea8d69" d="M-6.9 -40.5h0.4v0.4h-0.4z"/><path fill="#ea7545" d="M-0.1 -40.5h0.4v0.4h-0.4zM0.7 -40.5h0.4v0.4h-0.4z"/><path fill="#ea7b4e" d="M1.1 -40.5h0.4v0.4h-0.4zM-0.5 -40.9h0.4v0.4h-0.4zM0.7 -40.9h0.4v0.4h-0.4z"/><path fill="#ed8463" d="M3.1 -40.5h0.4v0.4h-0.4z"/><path fill="#f3c3ae" d="M12.3 -40.5h1.6v0.4h-1.6zM12.7 -40.9h1.2v0.4h-1.2zM15.1 -40.9h0.4v0.4h-0.4zM-9.7 -41.3h0.4v0.4h-0.4zM12.7 -41.3h1.6v0.4h-1.6zM12.7 -41.7h2v0.4h-2zM13.1 -42.1h2.4v0.4h-2.4zM13.5 -42.5h1.6v0.4h-1.6z"/><path fill="#f3c6b1" d="M13.9 -40.5h0.4v0.4h-0.4zM11.5 -41.3h0.4v0.4h-0.4zM11.9 -41.7h0.4v0.4h-0.4zM5.9 -42.1h0.4v0.4h-0.4zM12.3 -42.1h0.4v0.4h-0.4zM13.1 -42.5h0.4v0.4h-0.4zM13.5 -42.9h0.4v0.4h-0.4z"/><path fill="#f3baa2" d="M15.5 -40.5h0.4v0.4h-0.4zM16.3 -40.9h0.8v0.4h-0.8zM16.7 -41.3h0.8v0.4h-0.8zM9.9 -43.3h0.4v0.4h-0.4z"/><path fill="#e1b7b1" d="M18.7 -40.5h0.4v0.4h-0.4z"/><path fill="#f0baa2" d="M-9.3 -40.9h0.4v0.4h-0.4zM-7.3 -41.7h0.4v0.4h-0.4zM17.1 -41.7h0.4v0.4h-0.4zM-6.9 -42.1h0.4v0.4h-0.4zM3.9 -42.5h0.4v0.4h-0.4z"/><path fill="#f3baa5" d="M-8.9 -40.9h0.4v0.4h-0.4zM15.9 -40.9h0.4v0.4h-0.4zM5.5 -41.7h0.4v0.4h-0.4zM16.7 -41.7h0.4v0.4h-0.4zM10.3 -42.5h0.4v0.4h-0.4z"/><path fill="#f0baa5" d="M-8.5 -40.9h0.4v0.4h-0.4zM-7.7 -41.3h0.4v0.4h-0.4zM4.7 -42.1h0.4v0.4h-0.4zM7.5 -42.9h0.4v0.4h-0.4zM9.5 -43.7h0.4v0.4h-0.4z"/><path fill="#eda587" d="M-7.3 -40.9h0.4v0.4h-0.4zM-6.9 -41.3h0.4v0.4h-0.4zM-2.9 -42.1h0.8v0.4h-0.8zM-1.7 -42.1h0.4v0.4h-0.4zM-0.1 -42.1h0.4v0.4h-0.4zM1.9 -42.1h0.4v0.4h-0.4z"/><path fill="#f0bda5" d="M-10.5 -41.3h0.4v0.4h-0.4z"/><path fill="#f0c3ae" d="M-8.1 -41.3h0.4v0.4h-0.4zM-7.7 -41.7h0.4v0.4h-0.4zM5.1 -42.5h0.4v0.4h-0.4z"/><path fill="#ed9c7e" d="M1.9 -41.3h0.8v0.4h-0.8zM-3.7 -42.1h0.4v0.4h-0.4z"/><path fill="#deb7b1" d="M18.3 -41.3h0.4v0.4h-0.4z"/><path fill="#c3b1c9" d="M18.7 -41.3h0.4v0.4h-0.4z"/><path fill="#f0c9b7" d="M-10.5 -41.7h0.4v0.4h-0.4zM-8.1 -41.7h0.4v0.4h-0.4z"/><path fill="#f0c9ba" d="M-10.1 -41.7h0.4v0.4h-0.4z"/><path fill="#f0ccbd" d="M-9.7 -41.7h0.4v0.4h-0.4zM-8.5 -41.7h0.4v0.4h-0.4zM-8.1 -42.1h0.4v0.4h-0.4zM9.1 -44.1h0.4v0.4h-0.4z"/><path fill="#f0ccc0" d="M-9.3 -41.7h0.8v0.4h-0.8zM7.9 -44.1h0.4v0.4h-0.4z"/><path fill="#ed9069" d="M-2.5 -41.7h0.8v0.4h-0.8z"/><path fill="#ed9f81" d="M1.1 -41.7h0.8v0.4h-0.8z"/><path fill="#f09f84" d="M3.1 -41.7h0.4v0.4h-0.4z"/><path fill="#f0b19c" d="M6.7 -41.7h0.4v0.4h-0.4z"/><path fill="#f0b7a5" d="M17.5 -41.7h0.4v0.4h-0.4z"/><path fill="#ccb4c3" d="M18.3 -41.7h0.4v0.4h-0.4z"/><path fill="#bab1d2" d="M18.7 -41.7h0.4v0.4h-0.4z"/><path fill="#edcfc3" d="M-10.5 -42.1h2.4v0.4h-2.4z"/><path fill="#f0c6b4" d="M-7.7 -42.1h0.4v0.4h-0.4zM6.3 -42.5h0.8v0.4h-0.8zM5.9 -42.9h0.4v0.4h-0.4zM7.9 -43.7h0.4v0.4h-0.4zM-4.5 -44.1h0.8v0.4h-0.8zM-4.5 -44.5h0.8v0.4h-0.8zM-4.5 -44.9h0.8v0.4h-0.8zM-4.5 -45.3h0.8v0.4h-0.8zM-4.5 -45.7h0.4v0.4h-0.4z"/><path fill="#f0c0ab" d="M-7.3 -42.1h0.4v0.4h-0.4zM15.9 -42.1h0.8v0.4h-0.8zM4.7 -42.5h0.4v0.4h-0.4zM7.1 -42.5h0.4v0.4h-0.4z"/><path fill="#edb199" d="M-6.5 -42.1h0.4v0.4h-0.4zM-6.1 -42.5h0.4v0.4h-0.4z"/><path fill="#edab8d" d="M-6.1 -42.1h0.4v0.4h-0.4z"/><path fill="#eda584" d="M-5.7 -42.1h0.4v0.4h-0.4z"/><path fill="#eda287" d="M-2.1 -42.1h0.4v0.4h-0.4z"/><path fill="#eda88a" d="M-1.3 -42.1h0.8v0.4h-0.8z"/><path fill="#f3c0ae" d="M5.1 -42.1h0.4v0.4h-0.4zM15.5 -42.1h0.4v0.4h-0.4zM10.3 -42.9h0.4v0.4h-0.4z"/><path fill="#f3c9b7" d="M11.1 -42.1h0.4v0.4h-0.4zM10.7 -42.5h0.4v0.4h-0.4zM11.5 -42.5h0.8v0.4h-0.8zM12.7 -42.9h0.4v0.4h-0.4zM13.5 -43.3h0.4v0.4h-0.4z"/><path fill="#f0bda8" d="M16.7 -42.1h0.4v0.4h-0.4zM4.3 -42.5h0.4v0.4h-0.4z"/><path fill="#edbaa8" d="M17.1 -42.1h0.4v0.4h-0.4zM3.9 -42.9h0.4v0.4h-0.4z"/><path fill="#e1b7b4" d="M17.5 -42.1h0.4v0.4h-0.4z"/><path fill="#cfb7c6" d="M17.9 -42.1h0.4v0.4h-0.4z"/><path fill="#c3b4cf" d="M18.3 -42.1h0.4v0.4h-0.4z"/><path fill="#bab4d5" d="M18.7 -42.1h0.4v0.4h-0.4zM18.7 -43.7h0.4v0.4h-0.4z"/><path fill="#b4b1d8" d="M19.1 -42.1h0.4v0.4h-0.4zM19.5 -42.5h0.4v0.4h-0.4zM19.5 -42.9h0.4v0.4h-0.4zM19.5 -43.3h0.4v0.4h-0.4zM18.7 -44.1h0.4v0.4h-0.4zM18.7 -44.9h0.4v0.4h-0.4z"/><path fill="#e4cfc9" d="M-10.5 -42.5h2v0.4h-2z"/><path fill="#e4cfc6" d="M-8.5 -42.5h0.4v0.4h-0.4z"/><path fill="#e7ccc0" d="M-8.1 -42.5h0.4v0.4h-0.4z"/><path fill="#eac9ba" d="M-7.7 -42.5h0.4v0.4h-0.4zM-3.7 -43.7h0.4v0.4h-0.4zM-4.9 -44.1h0.4v0.4h-0.4zM-3.7 -44.1h0.4v0.4h-0.4zM-3.7 -44.5h0.4v0.4h-0.4z"/><path fill="#eac3b4" d="M-7.3 -42.5h0.4v0.4h-0.4zM-3.7 -43.3h0.4v0.4h-0.4z"/><path fill="#eac0ae" d="M-6.9 -42.5h0.4v0.4h-0.4zM-4.9 -43.3h0.4v0.4h-0.4zM4.7 -43.3h0.4v0.4h-0.4z"/><path fill="#eabaa5" d="M-6.5 -42.5h0.4v0.4h-0.4zM-3.7 -42.9h0.4v0.4h-0.4zM3.5 -42.9h0.4v0.4h-0.4z"/><path fill="#edae93" d="M-5.7 -42.5h0.4v0.4h-0.4z"/><path fill="#edab90" d="M-5.3 -42.5h0.4v0.4h-0.4z"/><path fill="#edab93" d="M-3.7 -42.5h0.4v0.4h-0.4zM1.9 -42.5h1.2v0.4h-1.2z"/><path fill="#eab199" d="M-3.3 -42.5h0.4v0.4h-0.4zM1.5 -42.5h0.4v0.4h-0.4z"/><path fill="#eab19c" d="M-2.9 -42.5h0.4v0.4h-0.4zM-0.1 -42.5h0.8v0.4h-0.8z"/><path fill="#eab49c" d="M-2.5 -42.5h1.6v0.4h-1.6z"/><path fill="#eab49f" d="M-0.9 -42.5h0.4v0.4h-0.4zM0.7 -42.5h0.8v0.4h-0.8z"/><path fill="#e7b49f" d="M-0.5 -42.5h0.4v0.4h-0.4z"/><path fill="#edae96" d="M3.1 -42.5h0.4v0.4h-0.4z"/><path fill="#edb49c" d="M3.5 -42.5h0.4v0.4h-0.4z"/><path fill="#f3c9ba" d="M11.1 -42.5h0.4v0.4h-0.4zM12.3 -42.9h0.4v0.4h-0.4z"/><path fill="#f0c3b1" d="M15.1 -42.5h0.4v0.4h-0.4zM5.1 -42.9h0.8v0.4h-0.8zM7.1 -42.9h0.4v0.4h-0.4zM14.3 -42.9h0.4v0.4h-0.4zM-4.5 -43.7h0.8v0.4h-0.8z"/><path fill="#eac0b7" d="M15.5 -42.5h0.8v0.4h-0.8z"/><path fill="#e7c0ba" d="M16.3 -42.5h0.4v0.4h-0.4z"/><path fill="#e4c0bd" d="M16.7 -42.5h0.4v0.4h-0.4z"/><path fill="#d8bdc3" d="M17.1 -42.5h0.4v0.4h-0.4z"/><path fill="#ccb7cc" d="M17.5 -42.5h0.4v0.4h-0.4z"/><path fill="#c6b7cf" d="M17.9 -42.5h0.4v0.4h-0.4z"/><path fill="#c3b7d2" d="M18.3 -42.5h0.4v0.4h-0.4zM18.3 -42.9h0.4v0.4h-0.4zM18.3 -43.3h0.4v0.4h-0.4zM17.9 -43.7h0.4v0.4h-0.4z"/><path fill="#bdb4d5" d="M18.7 -42.5h0.4v0.4h-0.4zM18.7 -43.3h0.4v0.4h-0.4z"/><path fill="#b7b1d5" d="M19.1 -42.5h0.4v0.4h-0.4zM19.1 -43.3h0.4v0.4h-0.4z"/><path fill="#d8cfcc" d="M-10.5 -42.9h2v0.4h-2zM-7.7 -43.3h0.4v0.4h-0.4zM-6.5 -44.1h0.4v0.4h-0.4z"/><path fill="#dbcfc9" d="M-8.5 -42.9h0.4v0.4h-0.4zM-6.1 -44.1h0.4v0.4h-0.4zM-2.5 -44.1h0.4v0.4h-0.4z"/><path fill="#dbccc6" d="M-8.1 -42.9h0.4v0.4h-0.4zM-6.9 -43.3h0.4v0.4h-0.4z"/><path fill="#deccc3" d="M-7.7 -42.9h0.4v0.4h-0.4zM-5.7 -43.7h0.4v0.4h-0.4z"/><path fill="#e1c9bd" d="M-7.3 -42.9h0.4v0.4h-0.4zM-3.3 -43.3h0.4v0.4h-0.4z"/><path fill="#e1c6ba" d="M-6.9 -42.9h0.4v0.4h-0.4zM-6.1 -43.3h0.4v0.4h-0.4zM7.1 -44.5h0.4v0.4h-0.4z"/><path fill="#e4c3b1" d="M-6.5 -42.9h0.4v0.4h-0.4z"/><path fill="#e7bda8" d="M-6.1 -42.9h0.4v0.4h-0.4z"/><path fill="#e7baa5" d="M-5.7 -42.9h0.4v0.4h-0.4z"/><path fill="#eab7a2" d="M-5.3 -42.9h0.4v0.4h-0.4zM2.7 -42.9h0.8v0.4h-0.8z"/><path fill="#edb49f" d="M-4.9 -42.9h0.4v0.4h-0.4zM-4.1 -42.9h0.4v0.4h-0.4z"/><path fill="#e4bdae" d="M-3.3 -42.9h0.4v0.4h-0.4zM-1.3 -42.9h0.4v0.4h-0.4zM3.9 -43.7h0.8v0.4h-0.8z"/><path fill="#e4c0b1" d="M-2.9 -42.9h1.2v0.4h-1.2zM4.7 -43.7h0.4v0.4h-0.4z"/><path fill="#e4c0ae" d="M-1.7 -42.9h0.4v0.4h-0.4z"/><path fill="#e1bdae" d="M-0.9 -42.9h0.8v0.4h-0.8zM0.3 -42.9h0.4v0.4h-0.4z"/><path fill="#e1baab" d="M-0.1 -42.9h0.4v0.4h-0.4zM3.5 -43.7h0.4v0.4h-0.4z"/><path fill="#e1bdb1" d="M0.7 -42.9h0.4v0.4h-0.4z"/><path fill="#e4bdb1" d="M1.1 -42.9h0.4v0.4h-0.4z"/><path fill="#e4bdab" d="M1.5 -42.9h0.4v0.4h-0.4zM2.7 -43.3h0.4v0.4h-0.4z"/><path fill="#e4b7a8" d="M1.9 -42.9h0.4v0.4h-0.4z"/><path fill="#e7b7a2" d="M2.3 -42.9h0.4v0.4h-0.4z"/><path fill="#edbdab" d="M4.3 -42.9h0.4v0.4h-0.4z"/><path fill="#edc0ae" d="M4.7 -42.9h0.4v0.4h-0.4z"/><path fill="#f0c6b7" d="M6.3 -42.9h0.8v0.4h-0.8z"/><path fill="#f3ccbd" d="M10.7 -42.9h1.2v0.4h-1.2zM10.3 -43.3h0.4v0.4h-0.4zM12.7 -43.3h0.4v0.4h-0.4zM9.9 -43.7h0.4v0.4h-0.4zM13.5 -43.7h0.4v0.4h-0.4z"/><path fill="#f3ccba" d="M11.9 -42.9h0.4v0.4h-0.4zM13.1 -43.3h0.4v0.4h-0.4z"/><path fill="#eac3b7" d="M14.7 -42.9h0.4v0.4h-0.4z"/><path fill="#dec3c9" d="M15.1 -42.9h0.4v0.4h-0.4z"/><path fill="#d8c3cf" d="M15.5 -42.9h0.4v0.4h-0.4zM14.7 -43.3h0.4v0.4h-0.4z"/><path fill="#d8c3d2" d="M15.9 -42.9h0.4v0.4h-0.4z"/><path fill="#d5c3d5" d="M16.3 -42.9h0.8v0.4h-0.8z"/><path fill="#cfbdd2" d="M17.1 -42.9h0.4v0.4h-0.4z"/><path fill="#c9bad2" d="M17.5 -42.9h0.4v0.4h-0.4zM17.5 -43.3h0.4v0.4h-0.4z"/><path fill="#c6b7d2" d="M17.9 -42.9h0.4v0.4h-0.4zM17.9 -43.3h0.4v0.4h-0.4z"/><path fill="#bdb4d2" d="M18.7 -42.9h0.4v0.4h-0.4z"/><path fill="#b7b4d5" d="M19.1 -42.9h0.4v0.4h-0.4zM18.3 -44.1h0.4v0.4h-0.4z"/><path fill="#d2cfcf" d="M-10.5 -43.3h2v0.4h-2zM-8.5 -43.7h1.2v0.4h-1.2zM-8.1 -44.1h0.4v0.4h-0.4zM-8.5 -46.5h0.4v0.4h-0.4z"/><path fill="#d2cfcc" d="M-8.5 -43.3h0.4v0.4h-0.4z"/><path fill="#d5cfcc" d="M-8.1 -43.3h0.4v0.4h-0.4zM-6.9 -43.7h0.4v0.4h-0.4zM-6.5 -46.1h0.4v0.4h-0.4z"/><path fill="#d8cfc9" d="M-7.3 -43.3h0.4v0.4h-0.4zM-6.5 -43.7h0.4v0.4h-0.4z"/><path fill="#dec9c0" d="M-6.5 -43.3h0.4v0.4h-0.4zM-2.9 -43.3h0.4v0.4h-0.4z"/><path fill="#e1c3b7" d="M-5.7 -43.3h0.4v0.4h-0.4z"/><path fill="#e4c3b4" d="M-5.3 -43.3h0.4v0.4h-0.4zM5.1 -43.7h0.4v0.4h-0.4z"/><path fill="#f0bdab" d="M-4.5 -43.3h0.4v0.4h-0.4z"/><path fill="#edc0ab" d="M-4.1 -43.3h0.4v0.4h-0.4z"/><path fill="#e1c9c0" d="M-2.5 -43.3h0.8v0.4h-0.8zM-5.3 -43.7h0.4v0.4h-0.4z"/><path fill="#dec6bd" d="M-1.7 -43.3h0.4v0.4h-0.4zM-3.3 -45.3h0.4v0.4h-0.4z"/><path fill="#dbc3b7" d="M-1.3 -43.3h0.4v0.4h-0.4z"/><path fill="#d8c0b7" d="M-0.9 -43.3h0.4v0.4h-0.4zM2.3 -43.7h0.4v0.4h-0.4z"/><path fill="#d5c0b7" d="M-0.5 -43.3h0.8v0.4h-0.8z"/><path fill="#d5c0ba" d="M0.3 -43.3h0.4v0.4h-0.4z"/><path fill="#d8c3bd" d="M0.7 -43.3h0.8v0.4h-0.8z"/><path fill="#dbc3ba" d="M1.5 -43.3h0.4v0.4h-0.4z"/><path fill="#dbc0b7" d="M1.9 -43.3h0.4v0.4h-0.4zM5.1 -44.1h0.4v0.4h-0.4z"/><path fill="#debdb1" d="M2.3 -43.3h0.4v0.4h-0.4z"/><path fill="#e7baa8" d="M3.1 -43.3h0.8v0.4h-0.8z"/><path fill="#eabdab" d="M3.9 -43.3h0.8v0.4h-0.8z"/><path fill="#eac3b1" d="M5.1 -43.3h0.4v0.4h-0.4z"/><path fill="#edc3b4" d="M5.5 -43.3h0.4v0.4h-0.4zM7.1 -43.7h0.4v0.4h-0.4z"/><path fill="#edc6b4" d="M5.9 -43.3h0.4v0.4h-0.4z"/><path fill="#edc6b7" d="M6.3 -43.3h0.8v0.4h-0.8zM7.5 -44.1h0.4v0.4h-0.4zM-3.7 -45.3h0.4v0.4h-0.4z"/><path fill="#f0c3b4" d="M7.1 -43.3h0.4v0.4h-0.4zM7.5 -43.7h0.4v0.4h-0.4z"/><path fill="#f0c0ae" d="M7.5 -43.3h0.4v0.4h-0.4zM8.3 -43.7h0.4v0.4h-0.4z"/><path fill="#f3d2c3" d="M10.7 -43.3h0.4v0.4h-0.4zM12.7 -43.7h0.4v0.4h-0.4z"/><path fill="#f3cfc3" d="M11.1 -43.3h1.2v0.4h-1.2zM13.5 -44.1h0.4v0.4h-0.4z"/><path fill="#f3cfc0" d="M12.3 -43.3h0.4v0.4h-0.4zM13.1 -43.7h0.4v0.4h-0.4z"/><path fill="#eac6ba" d="M14.3 -43.3h0.4v0.4h-0.4z"/><path fill="#d2c3d8" d="M15.1 -43.3h2v0.4h-2z"/><path fill="#ccc0d8" d="M17.1 -43.3h0.4v0.4h-0.4z"/><path fill="#cfcfcf" d="M-10.5 -43.7h2v0.4h-2zM-10.5 -44.1h2.4v0.4h-2.4zM-10.5 -44.5h2.4v0.4h-2.4zM-10.5 -44.9h2.4v0.4h-2.4zM-10.5 -45.3h2.4v0.4h-2.4zM-10.5 -45.7h2.4v0.4h-2.4zM-10.1 -46.1h1.6v0.4h-1.6zM7.9 -46.1h0.4v0.4h-0.4zM-8.9 -46.5h0.4v0.4h-0.4zM9.5 -46.5h0.8v0.4h-0.8zM11.9 -46.9h0.8v0.4h-0.8z"/><path fill="#d5cfcf" d="M-7.3 -43.7h0.4v0.4h-0.4z"/><path fill="#deccc6" d="M-6.1 -43.7h0.4v0.4h-0.4zM7.5 -44.9h0.4v0.4h-0.4z"/><path fill="#eac6b7" d="M-4.9 -43.7h0.4v0.4h-0.4zM6.7 -43.7h0.4v0.4h-0.4z"/><path fill="#e1ccc3" d="M-3.3 -43.7h0.4v0.4h-0.4zM-5.3 -44.1h0.4v0.4h-0.4z"/><path fill="#decfc9" d="M-2.9 -43.7h0.4v0.4h-0.4zM-5.7 -44.1h0.4v0.4h-0.4zM-5.7 -44.5h0.4v0.4h-0.4z"/><path fill="#decfc6" d="M-2.5 -43.7h0.4v0.4h-0.4z"/><path fill="#dbccc3" d="M-2.1 -43.7h0.4v0.4h-0.4z"/><path fill="#d5c6c0" d="M-1.7 -43.7h0.4v0.4h-0.4zM7.1 -44.9h0.4v0.4h-0.4z"/><path fill="#cfc0ba" d="M-1.3 -43.7h0.4v0.4h-0.4z"/><path fill="#ccc0ba" d="M-0.9 -43.7h0.4v0.4h-0.4zM5.1 -44.5h0.4v0.4h-0.4z"/><path fill="#c9c0ba" d="M-0.5 -43.7h0.4v0.4h-0.4zM1.9 -44.1h0.4v0.4h-0.4z"/><path fill="#c9c0bd" d="M-0.1 -43.7h0.8v0.4h-0.8zM6.3 -44.9h0.4v0.4h-0.4z"/><path fill="#ccc3c0" d="M0.7 -43.7h0.4v0.4h-0.4z"/><path fill="#cfc3c0" d="M1.1 -43.7h0.4v0.4h-0.4z"/><path fill="#cfc3bd" d="M1.5 -43.7h0.4v0.4h-0.4z"/><path fill="#d2c3ba" d="M1.9 -43.7h0.4v0.4h-0.4z"/><path fill="#dbbdb1" d="M2.7 -43.7h0.4v0.4h-0.4zM3.9 -44.1h0.4v0.4h-0.4z"/><path fill="#debaae" d="M3.1 -43.7h0.4v0.4h-0.4z"/><path fill="#e7c3b4" d="M5.5 -43.7h0.4v0.4h-0.4z"/><path fill="#e7c6b7" d="M5.9 -43.7h0.8v0.4h-0.8zM7.1 -44.1h0.4v0.4h-0.4z"/><path fill="#f3d5cc" d="M10.3 -43.7h0.8v0.4h-0.8z"/><path fill="#f3d5c9" d="M11.1 -43.7h1.2v0.4h-1.2z"/><path fill="#f3d2c6" d="M12.3 -43.7h0.4v0.4h-0.4zM13.1 -44.1h0.4v0.4h-0.4z"/><path fill="#edc9bd" d="M13.9 -43.7h0.4v0.4h-0.4z"/><path fill="#d8c6cf" d="M14.3 -43.7h0.4v0.4h-0.4z"/><path fill="#ccc3db" d="M14.7 -43.7h0.8v0.4h-0.8zM16.7 -43.7h0.4v0.4h-0.4zM15.5 -44.1h1.2v0.4h-1.2z"/><path fill="#cfc3db" d="M15.5 -43.7h0.4v0.4h-0.4z"/><path fill="#cfc3d8" d="M15.9 -43.7h0.8v0.4h-0.8z"/><path fill="#c9c0db" d="M17.1 -43.7h0.4v0.4h-0.4z"/><path fill="#c6bad8" d="M17.5 -43.7h0.4v0.4h-0.4z"/><path fill="#c0b4d2" d="M18.3 -43.7h0.4v0.4h-0.4z"/><path fill="#d2d2d2" d="M-7.7 -44.1h0.8v0.4h-0.8zM-7.7 -44.5h0.8v0.4h-0.8zM-8.1 -44.9h1.2v0.4h-1.2zM-8.1 -45.3h1.2v0.4h-1.2zM-8.1 -45.7h1.2v0.4h-1.2zM-8.5 -46.1h1.6v0.4h-1.6zM8.3 -46.1h0.8v0.4h-0.8zM-8.1 -46.5h0.8v0.4h-0.8zM10.3 -46.5h0.4v0.4h-0.4zM11.1 -46.9h0.8v0.4h-0.8zM12.7 -46.9h0.4v0.4h-0.4zM13.9 -46.9h0.4v0.4h-0.4z"/><path fill="#d5d2cf" d="M-6.9 -44.1h0.4v0.4h-0.4zM-6.9 -46.1h0.4v0.4h-0.4z"/><path fill="#e1ccc6" d="M-3.3 -44.1h0.4v0.4h-0.4zM-5.3 -44.5h0.4v0.4h-0.4zM-5.3 -45.7h0.4v0.4h-0.4z"/><path fill="#decfcc" d="M-2.9 -44.1h0.4v0.4h-0.4zM-5.7 -44.9h0.4v0.4h-0.4zM-5.7 -45.3h0.4v0.4h-0.4zM-5.7 -45.7h0.4v0.4h-0.4z"/><path fill="#d2c9c3" d="M-2.1 -44.1h0.4v0.4h-0.4zM-6.1 -46.1h0.4v0.4h-0.4z"/><path fill="#c6c0bd" d="M-1.7 -44.1h0.4v0.4h-0.4zM1.5 -44.1h0.4v0.4h-0.4z"/><path fill="#c0bab7" d="M-1.3 -44.1h0.4v0.4h-0.4zM1.9 -44.5h0.4v0.4h-0.4zM-2.5 -44.9h0.4v0.4h-0.4zM4.7 -44.9h0.8v0.4h-0.8z"/><path fill="#bdbab7" d="M-0.9 -44.1h0.8v0.4h-0.8zM1.5 -44.5h0.4v0.4h-0.4zM5.9 -45.3h0.4v0.4h-0.4z"/><path fill="#bdbaba" d="M-0.1 -44.1h0.4v0.4h-0.4z"/><path fill="#c0bdba" d="M0.3 -44.1h0.4v0.4h-0.4zM6.3 -45.3h0.4v0.4h-0.4z"/><path fill="#c0bdbd" d="M0.7 -44.1h0.4v0.4h-0.4z"/><path fill="#c3c0bd" d="M1.1 -44.1h0.4v0.4h-0.4zM6.7 -45.3h0.4v0.4h-0.4z"/><path fill="#ccbdb7" d="M2.3 -44.1h0.4v0.4h-0.4zM4.7 -44.5h0.4v0.4h-0.4z"/><path fill="#d2bab1" d="M2.7 -44.1h0.4v0.4h-0.4z"/><path fill="#d5bab1" d="M3.1 -44.1h0.4v0.4h-0.4z"/><path fill="#d8bdb1" d="M3.5 -44.1h0.4v0.4h-0.4z"/><path fill="#dbbdb4" d="M4.3 -44.1h0.4v0.4h-0.4z"/><path fill="#d8c0b4" d="M4.7 -44.1h0.4v0.4h-0.4z"/><path fill="#dec3b7" d="M5.5 -44.1h0.4v0.4h-0.4z"/><path fill="#dec3ba" d="M5.9 -44.1h0.4v0.4h-0.4z"/><path fill="#dec6ba" d="M6.3 -44.1h0.4v0.4h-0.4z"/><path fill="#e4c6ba" d="M6.7 -44.1h0.4v0.4h-0.4z"/><path fill="#f0d2c6" d="M8.3 -44.1h0.4v0.4h-0.4z"/><path fill="#f0cfc6" d="M8.7 -44.1h0.4v0.4h-0.4z"/><path fill="#f0cfc3" d="M9.5 -44.1h0.4v0.4h-0.4z"/><path fill="#f3d8cf" d="M9.9 -44.1h0.4v0.4h-0.4z"/><path fill="#f3dbd2" d="M10.3 -44.1h1.2v0.4h-1.2zM12.3 -44.1h0.4v0.4h-0.4z"/><path fill="#f3ded5" d="M11.5 -44.1h0.8v0.4h-0.8zM13.1 -44.5h0.4v0.4h-0.4z"/><path fill="#f3d8cc" d="M12.7 -44.1h0.4v0.4h-0.4z"/><path fill="#e1cccc" d="M13.9 -44.1h0.4v0.4h-0.4z"/><path fill="#c9c6db" d="M14.3 -44.1h0.4v0.4h-0.4z"/><path fill="#c6c6de" d="M14.7 -44.1h0.4v0.4h-0.4zM14.7 -44.5h0.8v0.4h-0.8zM15.1 -44.9h0.8v0.4h-0.8zM15.9 -45.3h0.4v0.4h-0.4zM16.3 -45.7h0.4v0.4h-0.4z"/><path fill="#c9c3de" d="M15.1 -44.1h0.4v0.4h-0.4zM15.9 -44.5h0.4v0.4h-0.4z"/><path fill="#c6c0db" d="M16.7 -44.1h0.4v0.4h-0.4z"/><path fill="#c3bddb" d="M17.1 -44.1h0.4v0.4h-0.4z"/><path fill="#c0bddb" d="M17.5 -44.1h0.4v0.4h-0.4z"/><path fill="#bdb7d8" d="M17.9 -44.1h0.4v0.4h-0.4z"/><path fill="#d2d2cf" d="M-8.1 -44.5h0.4v0.4h-0.4z"/><path fill="#d5d2d2" d="M-6.9 -44.5h0.4v0.4h-0.4zM-6.9 -44.9h0.4v0.4h-0.4zM-6.9 -45.3h0.4v0.4h-0.4zM-6.9 -45.7h0.4v0.4h-0.4zM7.9 -45.7h0.4v0.4h-0.4z"/><path fill="#d8d2cf" d="M-6.5 -44.5h0.4v0.4h-0.4zM-6.5 -44.9h0.4v0.4h-0.4zM-6.5 -45.3h0.4v0.4h-0.4zM-6.5 -45.7h0.4v0.4h-0.4z"/><path fill="#dbcfcc" d="M-6.1 -44.5h0.4v0.4h-0.4zM-2.9 -44.5h0.4v0.4h-0.4zM-6.1 -44.9h0.4v0.4h-0.4zM-6.1 -45.3h0.4v0.4h-0.4zM-6.1 -45.7h0.4v0.4h-0.4z"/><path fill="#eac9bd" d="M-4.9 -44.5h0.4v0.4h-0.4zM-4.9 -44.9h0.4v0.4h-0.4zM-4.9 -45.3h0.4v0.4h-0.4z"/><path fill="#e4ccc6" d="M-3.3 -44.5h0.4v0.4h-0.4z"/><path fill="#d2c9c6" d="M-2.5 -44.5h0.4v0.4h-0.4z"/><path fill="#c3bdba" d="M-2.1 -44.5h0.4v0.4h-0.4zM5.5 -44.9h0.4v0.4h-0.4z"/><path fill="#b7b4b4" d="M-1.7 -44.5h0.4v0.4h-0.4zM-0.1 -44.5h1.2v0.4h-1.2zM1.9 -44.9h0.4v0.4h-0.4z"/><path fill="#b4b1b1" d="M-1.3 -44.5h0.8v0.4h-0.8zM2.3 -44.9h0.8v0.4h-0.8zM3.9 -45.3h0.4v0.4h-0.4zM4.7 -45.3h0.4v0.4h-0.4z"/><path fill="#b4b4b4" d="M-0.5 -44.5h0.4v0.4h-0.4zM5.9 -45.7h0.4v0.4h-0.4zM7.1 -46.5h0.4v0.4h-0.4zM7.5 -46.9h0.4v0.4h-0.4zM7.9 -47.3h0.4v0.4h-0.4zM8.7 -47.7h0.4v0.4h-0.4zM11.1 -48.1h0.4v0.4h-0.4zM12.3 -48.5h1.2v0.4h-1.2zM13.5 -48.9h0.8v0.4h-0.8zM14.7 -49.3h1.6v0.4h-1.6zM15.5 -49.7h1.6v0.4h-1.6zM16.3 -50.1h0.8v0.4h-0.8zM16.7 -50.5h0.8v0.4h-0.8z"/><path fill="#b7b7b7" d="M1.1 -44.5h0.4v0.4h-0.4zM6.3 -45.7h0.4v0.4h-0.4zM8.3 -47.3h0.4v0.4h-0.4zM9.1 -47.7h0.4v0.4h-0.4zM11.5 -48.1h0.8v0.4h-0.8zM13.5 -48.5h0.4v0.4h-0.4zM14.3 -48.9h1.6v0.4h-1.6zM16.3 -49.3h1.2v0.4h-1.2zM17.1 -49.7h1.2v0.4h-1.2zM17.1 -50.1h1.6v0.4h-1.6zM17.5 -50.5h1.2v0.4h-1.2z"/><path fill="#c0bab4" d="M2.3 -44.5h0.4v0.4h-0.4z"/><path fill="#c3b7b4" d="M2.7 -44.5h0.4v0.4h-0.4z"/><path fill="#c6b7b4" d="M3.1 -44.5h0.4v0.4h-0.4z"/><path fill="#ccbab4" d="M3.5 -44.5h0.4v0.4h-0.4z"/><path fill="#cfbdb4" d="M3.9 -44.5h0.4v0.4h-0.4z"/><path fill="#cfbdb7" d="M4.3 -44.5h0.4v0.4h-0.4z"/><path fill="#d2c0ba" d="M5.5 -44.5h0.4v0.4h-0.4zM-10.1 -46.5h0.4v0.4h-0.4z"/><path fill="#d2c3bd" d="M5.9 -44.5h0.4v0.4h-0.4z"/><path fill="#d5c3bd" d="M6.3 -44.5h0.4v0.4h-0.4z"/><path fill="#d8c3ba" d="M6.7 -44.5h0.4v0.4h-0.4z"/><path fill="#e7c9bd" d="M7.5 -44.5h0.4v0.4h-0.4zM-4.9 -45.7h0.4v0.4h-0.4z"/><path fill="#ead2c9" d="M7.9 -44.5h0.4v0.4h-0.4z"/><path fill="#edd8d2" d="M8.3 -44.5h0.4v0.4h-0.4z"/><path fill="#eddbd8" d="M8.7 -44.5h0.8v0.4h-0.8z"/><path fill="#edded8" d="M9.5 -44.5h0.4v0.4h-0.4z"/><path fill="#f0ded8" d="M9.9 -44.5h0.4v0.4h-0.4z"/><path fill="#f3ded8" d="M10.3 -44.5h0.4v0.4h-0.4z"/><path fill="#f3e1db" d="M10.7 -44.5h0.4v0.4h-0.4z"/><path fill="#f3e4de" d="M11.1 -44.5h0.4v0.4h-0.4z"/><path fill="#f3e7e1" d="M11.5 -44.5h1.2v0.4h-1.2z"/><path fill="#f3e4db" d="M12.7 -44.5h0.4v0.4h-0.4z"/><path fill="#ead8d2" d="M13.5 -44.5h0.4v0.4h-0.4z"/><path fill="#d5cfdb" d="M13.9 -44.5h0.4v0.4h-0.4z"/><path fill="#c9c9de" d="M14.3 -44.5h0.4v0.4h-0.4zM14.7 -44.9h0.4v0.4h-0.4zM15.1 -45.3h0.4v0.4h-0.4zM15.5 -45.7h0.8v0.4h-0.8z"/><path fill="#c6c3de" d="M15.5 -44.5h0.4v0.4h-0.4zM15.9 -44.9h0.4v0.4h-0.4z"/><path fill="#c6c0de" d="M16.3 -44.5h0.4v0.4h-0.4z"/><path fill="#c3c0de" d="M16.7 -44.5h0.4v0.4h-0.4z"/><path fill="#c0bdde" d="M17.1 -44.5h0.4v0.4h-0.4z"/><path fill="#bdbade" d="M17.5 -44.5h0.4v0.4h-0.4z"/><path fill="#b7b7db" d="M17.9 -44.5h0.4v0.4h-0.4zM17.9 -44.9h0.4v0.4h-0.4zM17.5 -45.3h0.4v0.4h-0.4zM17.5 -45.7h0.4v0.4h-0.4zM17.5 -46.1h0.4v0.4h-0.4zM17.5 -46.5h0.4v0.4h-0.4z"/><path fill="#b4b4d8" d="M18.3 -44.5h0.4v0.4h-0.4zM18.7 -45.3h0.4v0.4h-0.4zM18.7 -45.7h0.8v0.4h-0.8zM18.3 -46.1h0.8v0.4h-0.8zM18.3 -46.5h0.8v0.4h-0.8zM18.3 -46.9h0.8v0.4h-0.8z"/><path fill="#e1cfc6" d="M-5.3 -44.9h0.4v0.4h-0.4zM-5.3 -45.3h0.4v0.4h-0.4z"/><path fill="#edc9ba" d="M-3.7 -44.9h0.4v0.4h-0.4z"/><path fill="#e4ccc3" d="M-3.3 -44.9h0.4v0.4h-0.4z"/><path fill="#d5c9c6" d="M-2.9 -44.9h0.4v0.4h-0.4z"/><path fill="#b1aeae" d="M-2.1 -44.9h0.4v0.4h-0.4zM3.5 -45.3h0.4v0.4h-0.4z"/><path fill="#ababab" d="M-1.7 -44.9h1.6v0.4h-1.6zM0.3 -44.9h0.8v0.4h-0.8zM1.9 -45.3h0.4v0.4h-0.4zM4.3 -45.7h1.2v0.4h-1.2zM5.9 -46.1h0.4v0.4h-0.4zM-6.9 -46.5h0.4v0.4h-0.4zM7.1 -47.7h0.4v0.4h-0.4zM7.5 -48.1h0.4v0.4h-0.4zM9.9 -48.5h1.2v0.4h-1.2zM11.5 -48.9h0.4v0.4h-0.4zM12.3 -49.3h0.8v0.4h-0.8zM12.7 -49.7h0.8v0.4h-0.8zM13.1 -50.1h1.2v0.4h-1.2zM13.1 -50.5h1.6v0.4h-1.6z"/><path fill="#aeaeae" d="M-0.1 -44.9h0.4v0.4h-0.4zM5.5 -45.7h0.4v0.4h-0.4zM6.7 -46.5h0.4v0.4h-0.4zM7.1 -46.9h0.4v0.4h-0.4zM7.1 -47.3h0.4v0.4h-0.4zM7.5 -47.7h1.2v0.4h-1.2zM9.1 -48.1h0.4v0.4h-0.4zM11.1 -48.5h0.4v0.4h-0.4zM11.9 -48.9h0.8v0.4h-0.8zM13.1 -49.3h0.8v0.4h-0.8zM13.5 -49.7h1.2v0.4h-1.2zM14.3 -50.1h0.8v0.4h-0.8zM14.7 -50.5h0.4v0.4h-0.4z"/><path fill="#aeabab" d="M1.1 -44.9h0.4v0.4h-0.4zM3.1 -45.3h0.4v0.4h-0.4z"/><path fill="#b1b1b1" d="M1.5 -44.9h0.4v0.4h-0.4zM6.3 -46.1h0.4v0.4h-0.4zM7.5 -47.3h0.4v0.4h-0.4zM9.5 -48.1h1.6v0.4h-1.6zM11.5 -48.5h0.8v0.4h-0.8zM12.7 -48.9h0.8v0.4h-0.8zM13.9 -49.3h0.8v0.4h-0.8zM14.7 -49.7h0.8v0.4h-0.8zM15.1 -50.1h1.2v0.4h-1.2zM15.1 -50.5h1.6v0.4h-1.6z"/><path fill="#bab4b1" d="M3.1 -44.9h0.4v0.4h-0.4z"/><path fill="#bdb7b4" d="M3.5 -44.9h0.4v0.4h-0.4z"/><path fill="#c3bab4" d="M3.9 -44.9h0.4v0.4h-0.4z"/><path fill="#c3bab7" d="M4.3 -44.9h0.4v0.4h-0.4zM-5.7 -46.1h0.4v0.4h-0.4z"/><path fill="#c6bdba" d="M5.9 -44.9h0.4v0.4h-0.4z"/><path fill="#ccc3bd" d="M6.7 -44.9h0.4v0.4h-0.4z"/><path fill="#e4d5cf" d="M7.9 -44.9h0.4v0.4h-0.4z"/><path fill="#e7dbd8" d="M8.3 -44.9h0.4v0.4h-0.4z"/><path fill="#e7dedb" d="M8.7 -44.9h0.4v0.4h-0.4z"/><path fill="#e7e1de" d="M9.1 -44.9h0.4v0.4h-0.4z"/><path fill="#eae1e1" d="M9.5 -44.9h0.4v0.4h-0.4z"/><path fill="#ede4e1" d="M9.9 -44.9h0.4v0.4h-0.4z"/><path fill="#f0e4e1" d="M10.3 -44.9h0.4v0.4h-0.4z"/><path fill="#f0e7e4" d="M10.7 -44.9h0.4v0.4h-0.4z"/><path fill="#f3eae7" d="M11.1 -44.9h0.4v0.4h-0.4z"/><path fill="#f3edea" d="M11.5 -44.9h1.2v0.4h-1.2z"/><path fill="#f0eae7" d="M12.7 -44.9h0.4v0.4h-0.4z"/><path fill="#ede7e4" d="M13.1 -44.9h0.4v0.4h-0.4z"/><path fill="#e1dede" d="M13.5 -44.9h0.4v0.4h-0.4zM9.1 -45.3h0.4v0.4h-0.4z"/><path fill="#d5d5de" d="M13.9 -44.9h0.4v0.4h-0.4zM14.3 -45.3h0.4v0.4h-0.4z"/><path fill="#cfcfde" d="M14.3 -44.9h0.4v0.4h-0.4zM14.7 -45.3h0.4v0.4h-0.4z"/><path fill="#c3c3de" d="M16.3 -44.9h0.4v0.4h-0.4zM16.3 -45.3h0.4v0.4h-0.4z"/><path fill="#c0c0de" d="M16.7 -44.9h0.4v0.4h-0.4zM16.7 -45.3h0.4v0.4h-0.4zM16.7 -45.7h0.4v0.4h-0.4z"/><path fill="#bdbdde" d="M17.1 -44.9h0.4v0.4h-0.4zM17.1 -45.3h0.4v0.4h-0.4z"/><path fill="#babadb" d="M17.5 -44.9h0.4v0.4h-0.4zM17.1 -45.7h0.4v0.4h-0.4zM17.1 -46.1h0.4v0.4h-0.4z"/><path fill="#b4b4db" d="M18.3 -44.9h0.4v0.4h-0.4zM17.9 -45.3h0.8v0.4h-0.8zM17.9 -45.7h0.8v0.4h-0.8zM17.9 -46.1h0.4v0.4h-0.4z"/><path fill="#bab4b4" d="M-2.9 -45.3h0.4v0.4h-0.4z"/><path fill="#a8a8a8" d="M-2.5 -45.3h0.4v0.4h-0.4zM1.5 -45.3h0.4v0.4h-0.4zM3.9 -45.7h0.4v0.4h-0.4zM5.5 -46.1h0.4v0.4h-0.4zM6.3 -46.5h0.4v0.4h-0.4zM6.7 -46.9h0.4v0.4h-0.4zM6.7 -47.3h0.4v0.4h-0.4zM7.1 -48.1h0.4v0.4h-0.4zM7.9 -48.1h1.2v0.4h-1.2zM9.5 -48.5h0.4v0.4h-0.4zM10.3 -48.9h1.2v0.4h-1.2zM11.1 -49.3h1.2v0.4h-1.2zM11.5 -49.7h1.2v0.4h-1.2zM12.3 -50.1h0.8v0.4h-0.8zM12.7 -50.5h0.4v0.4h-0.4z"/><path fill="#a5a5a5" d="M-2.1 -45.3h3.6v0.4h-3.6zM4.7 -46.1h0.8v0.4h-0.8zM5.9 -46.5h0.4v0.4h-0.4zM6.3 -46.9h0.4v0.4h-0.4zM6.7 -47.7h0.4v0.4h-0.4zM9.1 -48.5h0.4v0.4h-0.4zM9.5 -48.9h0.8v0.4h-0.8zM10.3 -49.3h0.8v0.4h-0.8zM11.1 -49.7h0.4v0.4h-0.4zM11.1 -50.1h1.2v0.4h-1.2zM11.1 -50.5h1.6v0.4h-1.6z"/><path fill="#ababa8" d="M2.3 -45.3h0.8v0.4h-0.8z"/><path fill="#b4b4b1" d="M4.3 -45.3h0.4v0.4h-0.4zM5.1 -45.3h0.4v0.4h-0.4z"/><path fill="#b7b7b4" d="M5.5 -45.3h0.4v0.4h-0.4zM6.7 -46.1h0.4v0.4h-0.4z"/><path fill="#c9c6c3" d="M7.1 -45.3h0.4v0.4h-0.4z"/><path fill="#d2ccc9" d="M7.5 -45.3h0.4v0.4h-0.4z"/><path fill="#dbd5d2" d="M7.9 -45.3h0.4v0.4h-0.4z"/><path fill="#e1dbd8" d="M8.3 -45.3h0.4v0.4h-0.4z"/><path fill="#e1dbdb" d="M8.7 -45.3h0.4v0.4h-0.4z"/><path fill="#e4e1e1" d="M9.5 -45.3h0.4v0.4h-0.4zM11.1 -46.1h0.4v0.4h-0.4z"/><path fill="#e7e4e4" d="M9.9 -45.3h0.4v0.4h-0.4zM13.1 -45.3h0.4v0.4h-0.4z"/><path fill="#ede7e7" d="M10.3 -45.3h0.4v0.4h-0.4z"/><path fill="#edeaea" d="M10.7 -45.3h0.4v0.4h-0.4zM12.7 -45.3h0.4v0.4h-0.4zM11.9 -45.7h0.8v0.4h-0.8z"/><path fill="#f0edea" d="M11.1 -45.3h0.4v0.4h-0.4z"/><path fill="#f0eded" d="M11.5 -45.3h1.2v0.4h-1.2z"/><path fill="#dedede" d="M13.5 -45.3h0.4v0.4h-0.4zM9.5 -45.7h0.4v0.4h-0.4zM13.5 -45.7h0.4v0.4h-0.4zM10.3 -46.1h0.4v0.4h-0.4zM13.5 -46.1h0.4v0.4h-0.4z"/><path fill="#d8d8de" d="M13.9 -45.3h0.4v0.4h-0.4zM13.9 -45.7h0.4v0.4h-0.4z"/><path fill="#c9c6de" d="M15.5 -45.3h0.4v0.4h-0.4z"/><path fill="#edc3b1" d="M-4.1 -45.7h0.4v0.4h-0.4z"/><path fill="#dbbdae" d="M-3.7 -45.7h0.4v0.4h-0.4z"/><path fill="#aea5a2" d="M-3.3 -45.7h0.4v0.4h-0.4z"/><path fill="#9f9f9f" d="M-2.9 -45.7h2v0.4h-2zM-0.1 -45.7h2.4v0.4h-2.4zM4.7 -46.5h0.8v0.4h-0.8zM5.9 -46.9h0.4v0.4h-0.4zM6.3 -47.3h0.4v0.4h-0.4zM7.9 -48.9h0.8v0.4h-0.8zM8.7 -49.3h0.8v0.4h-0.8zM9.1 -49.7h0.8v0.4h-0.8zM9.5 -50.1h0.8v0.4h-0.8zM9.5 -50.5h1.2v0.4h-1.2z"/><path fill="#a2a2a2" d="M-0.9 -45.7h0.8v0.4h-0.8zM2.3 -45.7h1.2v0.4h-1.2zM4.3 -46.1h0.4v0.4h-0.4zM5.5 -46.5h0.4v0.4h-0.4zM6.7 -48.1h0.4v0.4h-0.4zM7.1 -48.5h2v0.4h-2zM8.7 -48.9h0.8v0.4h-0.8zM9.5 -49.3h0.8v0.4h-0.8zM9.9 -49.7h1.2v0.4h-1.2zM10.3 -50.1h0.8v0.4h-0.8zM10.7 -50.5h0.4v0.4h-0.4z"/><path fill="#a5a5a2" d="M3.5 -45.7h0.4v0.4h-0.4z"/><path fill="#bdbdbd" d="M6.7 -45.7h0.4v0.4h-0.4zM7.1 -46.1h0.4v0.4h-0.4zM7.5 -46.5h0.4v0.4h-0.4zM8.7 -47.3h0.4v0.4h-0.4zM13.5 -48.1h0.4v0.4h-0.4zM15.5 -48.5h0.4v0.4h-0.4z"/><path fill="#c3c3c3" d="M7.1 -45.7h0.4v0.4h-0.4zM8.7 -46.9h0.4v0.4h-0.4zM9.5 -47.3h0.4v0.4h-0.4zM10.7 -47.3h0.4v0.4h-0.4zM11.5 -47.7h0.4v0.4h-0.4zM13.1 -47.7h0.4v0.4h-0.4zM15.9 -48.1h0.4v0.4h-0.4z"/><path fill="#ccccc9" d="M7.5 -45.7h0.4v0.4h-0.4z"/><path fill="#dbd8d5" d="M8.3 -45.7h0.4v0.4h-0.4z"/><path fill="#dbd8d8" d="M8.7 -45.7h0.4v0.4h-0.4z"/><path fill="#dbdbdb" d="M9.1 -45.7h0.4v0.4h-0.4zM9.9 -46.1h0.4v0.4h-0.4zM11.5 -46.5h0.8v0.4h-0.8zM12.7 -46.5h1.2v0.4h-1.2z"/><path fill="#e1e1e1" d="M9.9 -45.7h0.4v0.4h-0.4zM13.1 -45.7h0.4v0.4h-0.4zM10.7 -46.1h0.4v0.4h-0.4zM12.7 -46.1h0.4v0.4h-0.4z"/><path fill="#e7e7e7" d="M10.3 -45.7h0.4v0.4h-0.4zM12.7 -45.7h0.4v0.4h-0.4z"/><path fill="#eaeaea" d="M10.7 -45.7h1.2v0.4h-1.2z"/><path fill="#d5d5db" d="M14.3 -45.7h0.4v0.4h-0.4zM14.3 -46.1h0.4v0.4h-0.4z"/><path fill="#d2d2db" d="M14.7 -45.7h0.4v0.4h-0.4z"/><path fill="#cfcfdb" d="M15.1 -45.7h0.4v0.4h-0.4z"/><path fill="#cfccc9" d="M-10.5 -46.1h0.4v0.4h-0.4zM-9.7 -46.5h0.4v0.4h-0.4z"/><path fill="#b1aba8" d="M-5.3 -46.1h0.4v0.4h-0.4z"/><path fill="#ab9f9c" d="M-4.9 -46.1h0.4v0.4h-0.4z"/><path fill="#a89c99" d="M-4.5 -46.1h0.4v0.4h-0.4z"/><path fill="#9f9996" d="M-4.1 -46.1h0.4v0.4h-0.4z"/><path fill="#969393" d="M-3.7 -46.1h0.4v0.4h-0.4zM-6.5 -46.5h0.4v0.4h-0.4z"/><path fill="#939393" d="M-3.3 -46.1h0.4v0.4h-0.4zM-3.3 -46.5h1.2v0.4h-1.2zM0.3 -46.5h2.4v0.4h-2.4zM3.5 -46.5h0.4v0.4h-0.4zM-2.9 -46.9h1.2v0.4h-1.2zM-0.9 -46.9h0.8v0.4h-0.8zM4.3 -46.9h0.4v0.4h-0.4zM-2.5 -47.3h1.6v0.4h-1.6zM4.7 -47.3h0.4v0.4h-0.4zM-2.1 -47.7h0.8v0.4h-0.8zM5.5 -47.7h0.4v0.4h-0.4zM5.9 -48.1h0.4v0.4h-0.4zM6.3 -50.5h0.4v0.4h-0.4z"/><path fill="#969696" d="M-2.9 -46.1h0.4v0.4h-0.4zM-2.1 -46.5h0.8v0.4h-0.8zM-0.5 -46.5h0.8v0.4h-0.8zM2.7 -46.5h0.8v0.4h-0.8zM3.9 -46.5h0.4v0.4h-0.4zM-1.7 -46.9h0.8v0.4h-0.8zM5.1 -47.3h0.8v0.4h-0.8zM5.9 -47.7h0.4v0.4h-0.4zM6.3 -48.5h0.4v0.4h-0.4zM6.3 -48.9h0.8v0.4h-0.8zM6.3 -49.3h1.2v0.4h-1.2zM6.3 -49.7h1.2v0.4h-1.2zM6.3 -50.1h1.2v0.4h-1.2zM6.7 -50.5h0.8v0.4h-0.8z"/><path fill="#999999" d="M-2.5 -46.1h0.8v0.4h-0.8zM-0.1 -46.1h4v0.4h-4zM-1.3 -46.5h0.8v0.4h-0.8zM4.3 -46.5h0.4v0.4h-0.4zM4.7 -46.9h0.4v0.4h-0.4zM5.9 -47.3h0.4v0.4h-0.4zM6.3 -48.1h0.4v0.4h-0.4zM7.1 -48.9h0.4v0.4h-0.4zM7.5 -49.3h0.4v0.4h-0.4zM7.5 -49.7h0.8v0.4h-0.8zM7.5 -50.1h1.2v0.4h-1.2zM7.5 -50.5h1.2v0.4h-1.2z"/><path fill="#9c9c9c" d="M-1.7 -46.1h1.6v0.4h-1.6zM3.9 -46.1h0.4v0.4h-0.4zM5.1 -46.9h0.8v0.4h-0.8zM6.3 -47.7h0.4v0.4h-0.4zM6.7 -48.5h0.4v0.4h-0.4zM7.5 -48.9h0.4v0.4h-0.4zM7.9 -49.3h0.8v0.4h-0.8zM8.3 -49.7h0.8v0.4h-0.8zM8.7 -50.1h0.8v0.4h-0.8zM8.7 -50.5h0.8v0.4h-0.8z"/><path fill="#c9c6c6" d="M7.5 -46.1h0.4v0.4h-0.4z"/><path fill="#d5d5d5" d="M9.1 -46.1h0.4v0.4h-0.4zM13.1 -46.9h0.8v0.4h-0.8z"/><path fill="#d8d8d8" d="M9.5 -46.1h0.4v0.4h-0.4zM11.1 -46.5h0.4v0.4h-0.4zM12.3 -46.5h0.4v0.4h-0.4z"/><path fill="#e4e4e4" d="M11.5 -46.1h1.2v0.4h-1.2z"/><path fill="#dedee1" d="M13.1 -46.1h0.4v0.4h-0.4z"/><path fill="#d8d8db" d="M13.9 -46.1h0.4v0.4h-0.4z"/><path fill="#d2d2d8" d="M14.7 -46.1h0.4v0.4h-0.4zM14.3 -46.5h0.4v0.4h-0.4z"/><path fill="#cfcfd8" d="M15.1 -46.1h0.4v0.4h-0.4zM15.1 -46.5h0.8v0.4h-0.8z"/><path fill="#ccccdb" d="M15.5 -46.1h0.4v0.4h-0.4z"/><path fill="#c9c9db" d="M15.9 -46.1h0.4v0.4h-0.4z"/><path fill="#c6c6db" d="M16.3 -46.1h0.4v0.4h-0.4z"/><path fill="#c0c0db" d="M16.7 -46.1h0.4v0.4h-0.4z"/><path fill="#d5ae9f" d="M-10.5 -46.5h0.4v0.4h-0.4z"/><path fill="#cfcfcc" d="M-9.3 -46.5h0.4v0.4h-0.4z"/><path fill="#cccccc" d="M-7.3 -46.5h0.4v0.4h-0.4zM9.1 -46.5h0.4v0.4h-0.4zM10.7 -46.9h0.4v0.4h-0.4zM11.5 -47.3h0.4v0.4h-0.4zM13.1 -47.3h1.2v0.4h-1.2zM14.7 -47.3h0.4v0.4h-0.4z"/><path fill="#909090" d="M-6.1 -46.5h0.4v0.4h-0.4zM-4.1 -46.5h0.8v0.4h-0.8zM-7.3 -46.9h0.4v0.4h-0.4zM-3.7 -46.9h0.8v0.4h-0.8zM-0.1 -46.9h1.6v0.4h-1.6zM2.3 -46.9h2v0.4h-2zM-3.7 -47.3h1.2v0.4h-1.2zM-0.9 -47.3h0.4v0.4h-0.4zM4.3 -47.3h0.4v0.4h-0.4zM-3.3 -47.7h1.2v0.4h-1.2zM-1.3 -47.7h0.4v0.4h-0.4zM5.1 -47.7h0.4v0.4h-0.4zM-3.3 -48.1h2v0.4h-2zM5.9 -48.5h0.4v0.4h-0.4zM5.9 -49.3h0.4v0.4h-0.4zM5.9 -49.7h0.4v0.4h-0.4z"/><path fill="#908d8d" d="M-5.7 -46.5h0.4v0.4h-0.4zM-8.1 -48.1h0.4v0.4h-0.4zM-8.1 -48.5h0.4v0.4h-0.4zM-8.1 -48.9h0.4v0.4h-0.4zM-8.1 -49.3h0.4v0.4h-0.4z"/><path fill="#8d8d8d" d="M-5.3 -46.5h1.2v0.4h-1.2zM-6.9 -46.9h3.2v0.4h-3.2zM1.5 -46.9h0.8v0.4h-0.8zM-7.7 -47.3h4v0.4h-4zM-0.5 -47.3h2v0.4h-2zM2.7 -47.3h1.6v0.4h-1.6zM-7.7 -47.7h4.4v0.4h-4.4zM-0.9 -47.7h0.4v0.4h-0.4zM4.7 -47.7h0.4v0.4h-0.4zM-7.7 -48.1h4.4v0.4h-4.4zM-1.3 -48.1h0.8v0.4h-0.8zM5.5 -48.1h0.4v0.4h-0.4zM-7.7 -48.5h6.4v0.4h-6.4zM-7.7 -48.9h5.6v0.4h-5.6zM5.9 -48.9h0.4v0.4h-0.4zM-7.7 -49.3h5.2v0.4h-5.2zM-7.7 -49.7h4.8v0.4h-4.8zM-7.7 -50.1h4.8v0.4h-4.8zM5.9 -50.1h0.4v0.4h-0.4zM-7.3 -50.5h4v0.4h-4zM5.9 -50.5h0.4v0.4h-0.4z"/><path fill="#c6c6c6" d="M7.9 -46.5h0.4v0.4h-0.4zM9.1 -46.9h1.2v0.4h-1.2zM12.3 -47.3h0.4v0.4h-0.4zM13.5 -47.7h1.6v0.4h-1.6z"/><path fill="#c9c9c9" d="M8.3 -46.5h0.8v0.4h-0.8zM10.3 -46.9h0.4v0.4h-0.4zM11.1 -47.3h0.4v0.4h-0.4zM11.9 -47.3h0.4v0.4h-0.4zM12.7 -47.3h0.4v0.4h-0.4z"/><path fill="#d8d5d5" d="M10.7 -46.5h0.4v0.4h-0.4z"/><path fill="#d5d5d8" d="M13.9 -46.5h0.4v0.4h-0.4z"/><path fill="#d2d2d5" d="M14.7 -46.5h0.4v0.4h-0.4z"/><path fill="#ccccd8" d="M15.9 -46.5h0.4v0.4h-0.4z"/><path fill="#c6c6d8" d="M16.3 -46.5h0.4v0.4h-0.4z"/><path fill="#bdbdd8" d="M16.7 -46.5h0.4v0.4h-0.4zM17.1 -46.9h0.4v0.4h-0.4z"/><path fill="#babad8" d="M17.1 -46.5h0.4v0.4h-0.4zM17.5 -46.9h0.4v0.4h-0.4z"/><path fill="#b7b7d8" d="M17.9 -46.5h0.4v0.4h-0.4zM17.9 -46.9h0.4v0.4h-0.4z"/><path fill="#d5a290" d="M-10.5 -46.9h0.4v0.4h-0.4zM-10.1 -47.3h0.4v0.4h-0.4z"/><path fill="#d5a593" d="M-10.1 -46.9h0.4v0.4h-0.4z"/><path fill="#d5a899" d="M-9.7 -46.9h0.4v0.4h-0.4z"/><path fill="#d2b4a8" d="M-9.3 -46.9h0.4v0.4h-0.4z"/><path fill="#d2bdb7" d="M-8.9 -46.9h0.4v0.4h-0.4z"/><path fill="#d2c6c3" d="M-8.5 -46.9h0.4v0.4h-0.4z"/><path fill="#ccc6c6" d="M-8.1 -46.9h0.4v0.4h-0.4z"/><path fill="#a5a2a2" d="M-7.7 -46.9h0.4v0.4h-0.4z"/><path fill="#bababa" d="M7.9 -46.9h0.4v0.4h-0.4zM9.5 -47.7h1.6v0.4h-1.6zM12.3 -48.1h1.2v0.4h-1.2zM13.9 -48.5h1.6v0.4h-1.6zM15.9 -48.9h0.8v0.4h-0.8z"/><path fill="#c0c0c0" d="M8.3 -46.9h0.4v0.4h-0.4zM9.1 -47.3h0.4v0.4h-0.4zM9.9 -47.3h0.8v0.4h-0.8zM11.1 -47.7h0.4v0.4h-0.4zM11.9 -47.7h1.2v0.4h-1.2zM13.9 -48.1h1.6v0.4h-1.6z"/><path fill="#cfcfd2" d="M14.3 -46.9h1.2v0.4h-1.2z"/><path fill="#ccccd5" d="M15.5 -46.9h0.4v0.4h-0.4z"/><path fill="#c9c9d2" d="M15.9 -46.9h0.4v0.4h-0.4z"/><path fill="#c6c6d2" d="M16.3 -46.9h0.4v0.4h-0.4z"/><path fill="#c0c0d5" d="M16.7 -46.9h0.4v0.4h-0.4zM17.1 -47.3h0.4v0.4h-0.4z"/><path fill="#d5a28d" d="M-10.5 -47.3h0.4v0.4h-0.4z"/><path fill="#d2a290" d="M-9.7 -47.3h1.2v0.4h-1.2zM-10.1 -47.7h1.2v0.4h-1.2z"/><path fill="#c9a293" d="M-8.5 -47.3h0.4v0.4h-0.4z"/><path fill="#999390" d="M-8.1 -47.3h0.4v0.4h-0.4z"/><path fill="#8a8a8a" d="M1.5 -47.3h1.2v0.4h-1.2zM-0.5 -47.7h1.6v0.4h-1.6zM3.5 -47.7h1.2v0.4h-1.2zM-0.5 -48.1h0.8v0.4h-0.8zM5.1 -48.1h0.4v0.4h-0.4zM-1.3 -48.5h0.8v0.4h-0.8zM5.5 -48.5h0.4v0.4h-0.4zM-2.1 -48.9h1.2v0.4h-1.2zM-2.5 -49.3h0.8v0.4h-0.8zM-2.9 -49.7h0.8v0.4h-0.8zM-2.9 -50.1h0.4v0.4h-0.4zM-3.3 -50.5h0.8v0.4h-0.8z"/><path fill="#c9c9cc" d="M14.3 -47.3h0.4v0.4h-0.4z"/><path fill="#cccccf" d="M15.1 -47.3h0.8v0.4h-0.8z"/><path fill="#c9c9cf" d="M15.9 -47.3h0.4v0.4h-0.4z"/><path fill="#c6c6cf" d="M16.3 -47.3h0.4v0.4h-0.4z"/><path fill="#c3c3d2" d="M16.7 -47.3h0.4v0.4h-0.4z"/><path fill="#babad5" d="M17.5 -47.3h0.4v0.4h-0.4z"/><path fill="#b7b7d5" d="M17.9 -47.3h0.4v0.4h-0.4z"/><path fill="#b4b4d5" d="M18.3 -47.3h0.8v0.4h-0.8zM19.1 -47.7h0.4v0.4h-0.4zM19.5 -48.1h0.8v0.4h-0.8z"/><path fill="#d2a28d" d="M-10.5 -47.7h0.4v0.4h-0.4z"/><path fill="#cfa290" d="M-8.9 -47.7h0.4v0.4h-0.4z"/><path fill="#ba9c90" d="M-8.5 -47.7h0.4v0.4h-0.4zM-8.5 -49.7h0.4v0.4h-0.4z"/><path fill="#90908d" d="M-8.1 -47.7h0.4v0.4h-0.4zM-8.1 -49.7h0.4v0.4h-0.4zM-7.7 -50.5h0.4v0.4h-0.4z"/><path fill="#878787" d="M1.1 -47.7h2.4v0.4h-2.4zM0.3 -48.1h0.8v0.4h-0.8zM1.5 -48.1h0.8v0.4h-0.8zM3.5 -48.1h1.6v0.4h-1.6zM-0.5 -48.5h0.8v0.4h-0.8zM4.3 -48.5h1.2v0.4h-1.2zM-0.9 -48.9h0.4v0.4h-0.4zM5.1 -48.9h0.8v0.4h-0.8zM-1.7 -49.3h1.2v0.4h-1.2zM5.5 -49.3h0.4v0.4h-0.4zM-2.1 -49.7h1.6v0.4h-1.6zM5.5 -49.7h0.4v0.4h-0.4zM-2.5 -50.1h1.6v0.4h-1.6zM5.5 -50.1h0.4v0.4h-0.4zM-2.5 -50.5h1.6v0.4h-1.6zM5.5 -50.5h0.4v0.4h-0.4z"/><path fill="#c6c6c9" d="M15.1 -47.7h1.2v0.4h-1.2z"/><path fill="#c6c6cc" d="M16.3 -47.7h0.4v0.4h-0.4z"/><path fill="#c3c3cc" d="M16.7 -47.7h0.4v0.4h-0.4z"/><path fill="#c0c0cf" d="M17.1 -47.7h0.4v0.4h-0.4z"/><path fill="#bdbdcf" d="M17.5 -47.7h0.4v0.4h-0.4z"/><path fill="#babacc" d="M17.9 -47.7h0.4v0.4h-0.4z"/><path fill="#b7b7cf" d="M18.3 -47.7h0.4v0.4h-0.4z"/><path fill="#b4b4d2" d="M18.7 -47.7h0.4v0.4h-0.4zM19.1 -48.1h0.4v0.4h-0.4zM19.9 -48.5h0.8v0.4h-0.8z"/><path fill="#d29f8d" d="M-10.5 -48.1h0.8v0.4h-0.8zM-10.5 -48.5h0.8v0.4h-0.8z"/><path fill="#d29f90" d="M-9.7 -48.1h0.4v0.4h-0.4z"/><path fill="#cf9f90" d="M-9.3 -48.1h0.8v0.4h-0.8zM-9.7 -48.5h0.8v0.4h-0.8zM-9.7 -48.9h0.8v0.4h-0.8zM-10.1 -49.3h0.8v0.4h-0.8zM-10.1 -49.7h0.4v0.4h-0.4zM-10.5 -50.1h0.8v0.4h-0.8zM-10.5 -50.5h0.4v0.4h-0.4z"/><path fill="#ae9690" d="M-8.5 -48.1h0.4v0.4h-0.4zM-8.5 -49.3h0.4v0.4h-0.4z"/><path fill="#848484" d="M1.1 -48.1h0.4v0.4h-0.4zM2.3 -48.1h1.2v0.4h-1.2zM0.3 -48.5h2v0.4h-2zM3.9 -48.5h0.4v0.4h-0.4zM-0.5 -48.9h1.6v0.4h-1.6zM4.3 -48.9h0.8v0.4h-0.8zM-0.5 -49.3h0.8v0.4h-0.8zM4.3 -49.3h1.2v0.4h-1.2zM-0.5 -49.7h0.4v0.4h-0.4zM4.7 -49.7h0.8v0.4h-0.8zM-0.9 -50.1h0.8v0.4h-0.8zM4.7 -50.1h0.8v0.4h-0.8zM-0.9 -50.5h0.8v0.4h-0.8zM4.7 -50.5h0.8v0.4h-0.8z"/><path fill="#c0c0c3" d="M15.5 -48.1h0.4v0.4h-0.4z"/><path fill="#c3c3c6" d="M16.3 -48.1h0.4v0.4h-0.4z"/><path fill="#c0c0c6" d="M16.7 -48.1h0.8v0.4h-0.8z"/><path fill="#bdbdc6" d="M17.5 -48.1h0.4v0.4h-0.4z"/><path fill="#babac6" d="M17.9 -48.1h0.8v0.4h-0.8zM18.7 -48.5h0.4v0.4h-0.4z"/><path fill="#b7b7cc" d="M18.7 -48.1h0.4v0.4h-0.4zM19.1 -48.5h0.4v0.4h-0.4z"/><path fill="#cc9f90" d="M-8.9 -48.5h0.4v0.4h-0.4zM-8.9 -48.9h0.4v0.4h-0.4zM-9.3 -49.3h0.8v0.4h-0.8zM-9.7 -49.7h1.2v0.4h-1.2zM-9.7 -50.1h1.2v0.4h-1.2zM-10.1 -50.5h1.2v0.4h-1.2z"/><path fill="#a89690" d="M-8.5 -48.5h0.4v0.4h-0.4zM-8.5 -48.9h0.4v0.4h-0.4z"/><path fill="#818181" d="M2.3 -48.5h1.6v0.4h-1.6zM1.1 -48.9h1.2v0.4h-1.2zM3.5 -48.9h0.8v0.4h-0.8zM0.3 -49.3h1.2v0.4h-1.2zM3.9 -49.3h0.4v0.4h-0.4zM-0.1 -49.7h1.6v0.4h-1.6zM4.3 -49.7h0.4v0.4h-0.4zM-0.1 -50.1h1.2v0.4h-1.2zM4.3 -50.1h0.4v0.4h-0.4zM-0.1 -50.5h1.2v0.4h-1.2zM4.3 -50.5h0.4v0.4h-0.4z"/><path fill="#bdbdc0" d="M15.9 -48.5h2v0.4h-2z"/><path fill="#babac3" d="M17.9 -48.5h0.8v0.4h-0.8zM18.7 -48.9h0.8v0.4h-0.8z"/><path fill="#b4b4cf" d="M19.5 -48.5h0.4v0.4h-0.4z"/><path fill="#cf9f8d" d="M-10.5 -48.9h0.8v0.4h-0.8zM-10.5 -49.3h0.4v0.4h-0.4zM-10.5 -49.7h0.4v0.4h-0.4z"/><path fill="#7e7e7e" d="M2.3 -48.9h1.2v0.4h-1.2zM1.5 -49.3h2.4v0.4h-2.4zM1.5 -49.7h2.8v0.4h-2.8zM1.1 -50.1h0.8v0.4h-0.8zM3.5 -50.1h0.8v0.4h-0.8zM1.1 -50.5h0.8v0.4h-0.8zM3.5 -50.5h0.8v0.4h-0.8z"/><path fill="#bababd" d="M16.7 -48.9h1.2v0.4h-1.2zM18.7 -49.3h0.4v0.4h-0.4z"/><path fill="#babac0" d="M17.9 -48.9h0.8v0.4h-0.8z"/><path fill="#b7b7c3" d="M19.5 -48.9h1.2v0.4h-1.2z"/><path fill="#b7b7ba" d="M17.5 -49.3h0.8v0.4h-0.8zM18.3 -49.7h0.4v0.4h-0.4zM18.7 -50.1h0.4v0.4h-0.4zM18.7 -50.5h0.4v0.4h-0.4z"/><path fill="#b7b7bd" d="M18.3 -49.3h0.4v0.4h-0.4zM18.7 -49.7h2v0.4h-2zM19.1 -50.1h1.6v0.4h-1.6zM19.1 -50.5h1.6v0.4h-1.6z"/><path fill="#b7b7c0" d="M19.1 -49.3h1.6v0.4h-1.6z"/><path fill="#c69f90" d="M-8.5 -50.1h0.4v0.4h-0.4z"/><path fill="#99908d" d="M-8.1 -50.1h0.4v0.4h-0.4z"/><path fill="#7b7b7b" d="M1.9 -50.1h1.6v0.4h-1.6zM1.9 -50.5h1.6v0.4h-1.6z"/><path fill="#c99f90" d="M-8.9 -50.5h0.8v0.4h-0.8z"/><path fill="#b19990" d="M-8.1 -50.5h0.4v0.4h-0.4z"/><path fill="#b6b6da" d="M14 -45.45L14.66 -45.09L15.36 -45.3L16.06 -45.5L16.62 -45.78L17.04 -46.19L17.46 -46.46L18.1 -46.94L18.73 -47.28L19.11 -47.7L19.46 -48.18L19.92 -48.72L20.5 -48.9L20.5 -39.5L19.2 -39.5L19 -41L17.5 -42L15.5 -43.2L14.3 -44.5Z"/><path fill="#aeaed6" d="M17.5 -46.3L19.3 -47.3L19.8 -48.4L20.5 -48.5L20.5 -39.5L19.3 -39.5L19 -41L18.2 -43.5Z"/><ellipse cx="17.85" cy="-42.96" rx="1.35" ry="1.3" fill="#f0b8a8"/><ellipse cx="10.9" cy="-44.75" rx="0.42" ry="0.38" fill="#f4e268"/><path fill="#a8a8d4" d="M9.72 -37.35L10.62 -37.35L10.62 -36.35L10.3 -36.2L9.95 -36.3L9.72 -36.55Z"/><ellipse cx="13.95" cy="-41.2" rx="0.15" ry="0.2" fill="#c4c4e0"/><path fill="#d2d2e6" d="M13.4 -45.7L14.2 -45.5L14.66 -45.15L15.2 -45.1L15.6 -44.7L15.5 -44.2L14.8 -44.3L14.2 -44.6L13.4 -44.7Z"/></g></g><use href="#lakes" fill="#fff"/><use href="#bord" stroke="#2a2a2a" stroke-width="0.9" fill="none"/><use href="#land" fill="none" stroke="#151515" stroke-width="1.3"/><use href="#lakes" fill="none" stroke="#000" stroke-width="1.3"/></svg><path d="M527.7 659.2h0M465.0 672.0h0M451.0 678.5h0M514.0 677.3h0M508.9 684.5h0M490.3 688.9h0M547.0 697.8h0M548.7 703.3h0M392.4 730.6h0M403.8 737.5h0M392.0 754.9h0M405.2 760.5h0M408.9 761.7h0M399.2 765.7h0M401.8 769.1h0M451.7 771.6h0M480.7 771.1h0M482.1 774.7h0M545.0 742.2h0M549.6 746.3h0M555.2 746.0h0M535.9 749.1h0M547.9 753.7h0M553.0 754.9h0M544.5 764.3h0M537.1 767.7h0M450.5 789.9h0M462.4 788.7h0M465.5 788.7h0M537.1 787.9h0M413.4 789.2h0M411.2 792.1h0M409.1 797.8h0M385.0 798.6h0M226.5 808.4h0M198.8 814.2h0M220.0 825.7h0M165.1 824.5h0M167.5 825.7h0M162.7 829.3h0M184.8 832.9h0M189.2 832.9h0M171.1 840.1h0M169.9 846.1h0M255.3 834.1h0M332.3 825.2h0M333.5 828.6h0M340.8 831.5h0M345.1 831.5h0M349.2 832.2h0M295.0 845.4h0M302.2 851.7h0M308.3 852.2h0M306.3 856.0h0M255.3 857.4h0M270.5 859.8h0M283.0 862.3h0M173.5 855.8h0M168.7 867.1h0M180.7 867.1h0M194.0 863.7h0M201.2 860.6h0M200.5 865.4h0M195.2 867.1h0M210.8 867.8h0M214.4 870.9h0M224.0 865.4h0M250.5 872.1h0M236.1 883.4h0M278.2 881.7h0M303.5 884.9h0M166.3 887.5h0M172.3 887.5h0M186.8 882.2h0M184.3 887.5h0M309.0 897.8h0M299.8 904.1h0M262.1 908.7h0M280.1 912.3h0M258.9 918.8h0M200.7 921.4h0M148.7 926.7h0M144.6 935.8h0M212.0 932.7h0M242.1 931.0h0M200.0 937.1h0M231.3 939.2h0M171.1 952.4h0M192.8 958.0h0M279.9 970.2h0M309.0 982.7h0M325.8 988.5h0M342.2 989.7h0M286.6 994.8h0M237.3 996.5h0M239.7 1000.1h0M177.8 984.4h0M159.8 985.6h0M218.0 982.0h0M349.2 805.0h0M355.2 927.4h0M397.8 803.6h0M412.7 803.6h0M404.3 808.1h0M417.6 809.3h0M482.5 804.8h0M494.1 801.6h0M508.0 799.7h0M500.6 807.7h0M365.1 818.5h0M413.2 842.1h0M427.2 854.6h0M376.2 862.3h0M422.9 871.4h0M440.7 868.0h0M458.5 862.3h0M484.2 834.8h0M495.3 834.8h0M382.7 917.1h0M397.8 919.0h0M394.7 933.0h0M393.5 948.4h0M384.4 968.1h0M525.8 1000.8h0M386.3 1034.9h0M415.2 1034.2h0M493.4 911.1h0M495.8 914.7h0M595.6 622.9h0M640.7 629.8h0M672.8 636.1h0M689.6 626.8h0M573.2 701.5h0M567.3 707.4h0M569.3 706.0h0M594.2 712.4h0M612.0 723.3h0M617.4 720.5h0M633.2 718.5h0M664.9 721.9h0M612.4 735.7h0M615.4 735.7h0M627.7 735.7h0M561.9 733.8h0M564.5 740.1h0M577.4 735.7h0M579.4 741.7h0M584.7 739.7h0M590.2 748.0h0M566.9 747.6h0M573.2 751.0h0M617.4 759.9h0M642.1 754.6h0M647.1 755.5h0M636.2 761.9h0M634.2 766.8h0M637.8 764.9h0M647.1 762.9h0M668.8 756.5h0M674.4 755.9h0M683.3 758.9h0M686.3 735.7h0M720.3 725.8h0M722.3 730.8h0M735.6 725.5h0M728.8 715.9h0M732.8 712.6h0M753.4 728.8h0M762.3 734.8h0M714.4 740.3h0M717.7 739.3h0M722.3 741.1h0M730.2 742.7h0M709.8 763.9h0M713.0 763.9h0M718.3 762.9h0M722.3 763.5h0M719.3 766.8h0M722.3 766.8h0M720.9 770.4h0M724.3 771.4h0M646.1 779.3h0M691.2 780.3h0M693.6 782.9h0M704.9 790.8h0M722.3 800.5h0M730.6 796.7h0M733.2 800.5h0M745.5 802.7h0M560.5 789.6h0M563.3 800.5h0M564.9 805.4h0M580.3 810.4h0M614.4 792.2h0M752.4 822.3h0M767.8 816.9h0M729.2 822.9h0M880.2 645.7h0M867.9 670.4h0M884.6 670.4h0M872.5 691.2h0M857.0 696.5h0M864.6 697.5h0M844.2 702.1h0M901.6 694.2h0M904.7 704.1h0M951.1 715.5h0M941.6 725.5h0M774.9 723.9h0M805.6 730.8h0M796.7 747.6h0M853.1 788.2h0M911.5 806.0h0M778.5 798.7h0M777.9 806.4h0M796.7 815.9h0M763.7 838.8h0M771.2 851.7h0M782.1 849.0h0M783.1 862.9h0M818.9 835.9h0M838.7 854.7h0M841.7 863.3h0M805.0 866.0h0M812.7 866.0h0M819.3 868.4h0M810.1 872.5h0M817.2 875.2h0M829.5 869.0h0M830.5 873.5h0M802.5 879.7h0M853.0 874.2h0M859.1 879.3h0M839.7 888.5h0M859.1 891.1h0M870.4 892.5h0M869.3 897.2h0M838.3 894.0h0M864.2 861.9h0M868.3 865.0h0M872.4 868.0h0M893.4 872.7h0M900.0 880.9h0M906.5 879.9h0M907.1 885.8h0M918.4 887.4h0M926.5 891.9h0M865.2 925.8h0M871.4 924.6h0M891.8 922.2h0M866.3 938.5h0M831.9 944.6h0M841.7 953.2h0M870.4 950.8h0M865.2 955.9h0M861.8 960.6h0M766.1 963.7h0M775.3 970.8h0M776.3 959.0h0M800.9 962.4h0M800.9 966.5h0M807.4 974.3h0M813.1 959.0h0M832.5 962.6h0M837.7 969.2h0M836.2 990.2h0M677.2 822.5h0M677.2 841.5h0M657.8 844.1h0M671.9 855.1h0M648.6 879.9h0M662.7 875.6h0M672.9 891.9h0M652.7 903.8h0M663.7 918.1h0M666.0 915.4h0M648.6 928.3h0M667.4 1001.5h0M676.0 999.4h0M688.9 991.6h0M691.9 988.0h0M695.4 985.1h0M701.1 997.8h0M722.6 991.6h0" stroke="#000" stroke-width="3.3" stroke-linecap="round" fill="none"/><text x="466.4" y="741.4" class="cl">FR</text><text x="691.2" y="665.8" class="cl">DE</text><text x="342.5" y="894.2" class="cl">ES</text><text x="165.8" y="917.4" class="cl">PT</text><text x="776.6" y="839.4" class="cl">IT</text><rect x="129.10" y="611.70" width="846.00" height="433.50" fill="none" stroke="#111" stroke-width="1.9"/><text x="118.60" y="1023.70" class="tl" text-anchor="end">36</text><text x="118.60" y="965.90" class="tl" text-anchor="end">38</text><text x="118.60" y="908.10" class="tl" text-anchor="end">40</text><text x="118.60" y="850.30" class="tl" text-anchor="end">42</text><text x="118.60" y="792.50" class="tl" text-anchor="end">44</text><text x="118.60" y="734.70" class="tl" text-anchor="end">46</text><text x="118.60" y="676.90" class="tl" text-anchor="end">48</text><text x="118.60" y="619.10" class="tl" text-anchor="end">50</text><text x="129.10" y="1069.90" class="tl" text-anchor="middle">10W</text><text x="270.10" y="1069.90" class="tl" text-anchor="middle">5W</text><text x="411.10" y="1069.90" class="tl" text-anchor="middle">0</text><text x="552.10" y="1069.90" class="tl" text-anchor="middle">5E</text><text x="693.10" y="1069.90" class="tl" text-anchor="middle">10E</text><text x="834.10" y="1069.90" class="tl" text-anchor="middle">15E</text><text x="975.10" y="1069.90" class="tl" text-anchor="middle">20E</text><path d="M129.10 1016.30h-4.8M129.10 958.50h-4.8M129.10 900.70h-4.8M129.10 842.90h-4.8M129.10 785.10h-4.8M129.10 727.30h-4.8M129.10 669.50h-4.8M129.10 611.70h-4.8M129.10 1045.20v4.8M270.10 1045.20v4.8M411.10 1045.20v4.8M552.10 1045.20v4.8M693.10 1045.20v4.8M834.10 1045.20v4.8M975.10 1045.20v4.8" stroke="#111" stroke-width="1.9" fill="none"/><text x="552.10" y="1099.20" class="axl" text-anchor="middle">Longitude (<tspan dx="4">°</tspan><tspan dx="4">)</tspan></text><text transform="translate(86.80 828.45) rotate(-90)" class="axl" text-anchor="middle">Latitude (N)</text><svg x="1134.75" y="611.50" width="846.35" height="433.40" viewBox="-10 -50 30 15" preserveAspectRatio="none"><g clip-path="url(#cland)"><g filter="url(#bl)"><path fill="#ea8a66" d="M-10.5 -34.9h0.4v0.4h-0.4zM-8.9 -35.3h0.4v0.4h-0.4zM-8.5 -35.7h0.4v0.4h-0.4zM-7.3 -36.5h0.4v0.4h-0.4zM-10.5 -36.9h0.8v0.4h-0.8zM-6.1 -36.9h1.2v0.4h-1.2zM-2.5 -36.9h0.4v0.4h-0.4zM-9.7 -37.3h1.2v0.4h-1.2zM-1.7 -37.3h0.4v0.4h-0.4zM-0.9 -37.7h0.4v0.4h-0.4zM-0.9 -38.1h0.4v0.4h-0.4zM-1.3 -38.5h0.4v0.4h-0.4z"/><path fill="#ea8a63" d="M-10.1 -34.9h0.8v0.4h-0.8zM-10.5 -35.3h1.6v0.4h-1.6zM-10.5 -35.7h2v0.4h-2zM-10.5 -36.1h2.8v0.4h-2.8zM-10.5 -36.5h3.2v0.4h-3.2zM-9.7 -36.9h3.6v0.4h-3.6zM-4.9 -36.9h1.2v0.4h-1.2zM-2.9 -36.9h0.4v0.4h-0.4zM-8.5 -37.3h1.2v0.4h-1.2zM-6.1 -37.3h0.4v0.4h-0.4zM-2.5 -37.3h0.8v0.4h-0.8zM-8.1 -37.7h1.2v0.4h-1.2zM-2.5 -37.7h1.6v0.4h-1.6zM-7.3 -38.1h0.4v0.4h-0.4zM-2.1 -38.1h1.2v0.4h-1.2zM-1.7 -38.5h0.4v0.4h-0.4zM-2.1 -38.9h0.8v0.4h-0.8z"/><path fill="#e78d69" d="M-9.3 -34.9h0.4v0.4h-0.4z"/><path fill="#e1937b" d="M-8.9 -34.9h0.4v0.4h-0.4z"/><path fill="#de9c8a" d="M-8.5 -34.9h0.4v0.4h-0.4zM-6.5 -35.3h0.8v0.4h-0.8zM-5.3 -35.7h0.4v0.4h-0.4z"/><path fill="#db9c8d" d="M-8.1 -34.9h2.4v0.4h-2.4z"/><path fill="#db9f8d" d="M-5.7 -34.9h0.4v0.4h-0.4zM-5.3 -35.3h0.4v0.4h-0.4z"/><path fill="#db9f90" d="M-5.3 -34.9h0.4v0.4h-0.4zM-4.9 -35.3h0.4v0.4h-0.4zM-4.5 -35.7h0.4v0.4h-0.4z"/><path fill="#dba293" d="M-4.9 -34.9h1.2v0.4h-1.2zM-4.5 -35.3h0.8v0.4h-0.8zM-3.7 -35.7h0.4v0.4h-0.4z"/><path fill="#dba596" d="M-3.7 -34.9h0.4v0.4h-0.4zM6.3 -40.1h0.4v0.4h-0.4z"/><path fill="#d8a596" d="M-3.3 -34.9h0.4v0.4h-0.4zM-3.3 -35.3h0.4v0.4h-0.4zM-2.9 -35.7h0.4v0.4h-0.4z"/><path fill="#d8a899" d="M-2.9 -34.9h2.8v0.4h-2.8zM-2.5 -35.3h2v0.4h-2zM-1.3 -35.7h0.8v0.4h-0.8zM7.1 -38.5h1.6v0.4h-1.6zM6.3 -38.9h4v0.4h-4zM6.7 -39.3h4.4v0.4h-4.4zM6.7 -39.7h4.4v0.4h-4.4zM6.7 -40.1h4.4v0.4h-4.4zM6.7 -40.5h4v0.4h-4zM6.7 -40.9h4v0.4h-4zM7.1 -41.3h3.2v0.4h-3.2z"/><path fill="#dbab99" d="M-0.1 -34.9h1.2v0.4h-1.2zM-0.5 -35.3h1.6v0.4h-1.6zM-0.5 -35.7h1.2v0.4h-1.2zM-0.5 -36.1h1.2v0.4h-1.2zM-0.1 -36.5h0.8v0.4h-0.8zM9.9 -41.7h0.4v0.4h-0.4zM7.9 -42.5h0.4v0.4h-0.4zM8.7 -42.9h0.8v0.4h-0.8z"/><path fill="#deae99" d="M1.1 -34.9h0.8v0.4h-0.8zM5.5 -34.9h0.4v0.4h-0.4zM1.1 -35.3h0.8v0.4h-0.8zM5.5 -35.3h0.4v0.4h-0.4zM1.1 -35.7h0.8v0.4h-0.8zM1.1 -36.1h0.4v0.4h-0.4zM0.7 -36.5h0.8v0.4h-0.8zM0.7 -36.9h0.8v0.4h-0.8zM5.9 -37.7h0.4v0.4h-0.4zM5.9 -38.1h0.4v0.4h-0.4zM5.9 -38.5h0.4v0.4h-0.4z"/><path fill="#deb199" d="M1.9 -34.9h1.2v0.4h-1.2zM5.1 -34.9h0.4v0.4h-0.4zM1.9 -35.3h1.2v0.4h-1.2zM5.1 -35.3h0.4v0.4h-0.4zM1.9 -35.7h1.2v0.4h-1.2zM5.5 -35.7h0.4v0.4h-0.4zM1.5 -36.1h1.6v0.4h-1.6zM5.5 -36.1h0.4v0.4h-0.4zM1.5 -36.5h1.2v0.4h-1.2zM5.5 -36.5h0.4v0.4h-0.4zM1.5 -36.9h1.2v0.4h-1.2zM5.5 -36.9h0.4v0.4h-0.4zM1.9 -37.3h0.8v0.4h-0.8zM5.5 -37.3h0.4v0.4h-0.4zM5.5 -37.7h0.4v0.4h-0.4z"/><path fill="#deb499" d="M3.1 -34.9h0.4v0.4h-0.4zM2.7 -36.5h0.4v0.4h-0.4zM2.7 -36.9h0.4v0.4h-0.4z"/><path fill="#e1b499" d="M3.5 -34.9h0.4v0.4h-0.4zM3.1 -35.3h0.8v0.4h-0.8zM3.1 -35.7h0.8v0.4h-0.8zM3.1 -36.1h0.8v0.4h-0.8zM3.1 -36.5h0.8v0.4h-0.8zM3.1 -36.9h0.8v0.4h-0.8zM2.7 -37.3h1.2v0.4h-1.2z"/><path fill="#e1b496" d="M3.9 -34.9h0.8v0.4h-0.8zM3.9 -35.3h0.8v0.4h-0.8zM3.9 -35.7h0.8v0.4h-0.8zM3.9 -36.1h0.8v0.4h-0.8zM3.9 -36.5h1.2v0.4h-1.2zM3.9 -36.9h1.2v0.4h-1.2zM3.9 -37.3h1.2v0.4h-1.2zM3.1 -37.7h2v0.4h-2z"/><path fill="#deb496" d="M4.7 -34.9h0.4v0.4h-0.4zM4.7 -35.3h0.4v0.4h-0.4zM4.7 -35.7h0.4v0.4h-0.4zM4.7 -36.1h0.4v0.4h-0.4zM5.1 -37.3h0.4v0.4h-0.4zM5.1 -37.7h0.4v0.4h-0.4zM5.1 -38.1h0.4v0.4h-0.4z"/><path fill="#dbae9c" d="M5.9 -34.9h0.8v0.4h-0.8zM5.9 -35.3h0.8v0.4h-0.8zM5.9 -35.7h0.8v0.4h-0.8zM5.9 -36.1h0.8v0.4h-0.8zM5.9 -36.5h0.8v0.4h-0.8zM5.9 -36.9h0.8v0.4h-0.8zM9.9 -42.5h0.4v0.4h-0.4z"/><path fill="#dbab9f" d="M6.7 -34.9h0.4v0.4h-0.4zM6.7 -35.3h0.4v0.4h-0.4zM6.7 -35.7h0.4v0.4h-0.4zM6.7 -36.1h0.4v0.4h-0.4zM6.7 -36.5h0.4v0.4h-0.4z"/><path fill="#d8a89f" d="M7.1 -34.9h0.4v0.4h-0.4zM7.1 -35.3h0.4v0.4h-0.4zM7.1 -35.7h0.4v0.4h-0.4zM7.1 -36.1h0.4v0.4h-0.4zM7.1 -36.5h0.4v0.4h-0.4zM7.1 -36.9h0.4v0.4h-0.4zM7.1 -37.3h0.4v0.4h-0.4zM7.1 -37.7h0.4v0.4h-0.4zM6.7 -38.1h1.6v0.4h-1.6zM9.5 -38.5h0.4v0.4h-0.4z"/><path fill="#d8a8a2" d="M7.5 -34.9h1.6v0.4h-1.6zM7.5 -35.3h1.6v0.4h-1.6zM7.5 -35.7h1.6v0.4h-1.6zM7.5 -36.1h1.6v0.4h-1.6zM7.5 -36.5h1.6v0.4h-1.6zM7.5 -36.9h1.6v0.4h-1.6zM7.5 -37.3h1.6v0.4h-1.6zM7.5 -37.7h1.2v0.4h-1.2zM8.3 -38.1h0.8v0.4h-0.8z"/><path fill="#d8aba5" d="M9.1 -34.9h4v0.4h-4zM9.1 -35.3h3.6v0.4h-3.6zM9.1 -35.7h3.2v0.4h-3.2zM9.1 -36.1h2.8v0.4h-2.8zM9.1 -36.5h2v0.4h-2zM9.1 -36.9h1.6v0.4h-1.6zM9.1 -37.3h1.6v0.4h-1.6zM9.1 -37.7h1.6v0.4h-1.6zM9.9 -38.1h0.8v0.4h-0.8zM10.3 -38.5h0.4v0.4h-0.4z"/><path fill="#dbaea5" d="M13.1 -34.9h0.4v0.4h-0.4zM17.5 -34.9h0.4v0.4h-0.4zM13.1 -35.3h0.4v0.4h-0.4zM13.1 -35.7h0.4v0.4h-0.4zM12.7 -36.1h0.4v0.4h-0.4zM12.3 -36.9h0.4v0.4h-0.4zM11.9 -37.3h0.4v0.4h-0.4zM11.9 -37.7h0.4v0.4h-0.4zM11.5 -38.1h0.4v0.4h-0.4zM11.5 -38.5h0.4v0.4h-0.4zM11.1 -38.9h0.4v0.4h-0.4z"/><path fill="#dbaea2" d="M13.5 -34.9h4v0.4h-4zM13.5 -35.3h4.4v0.4h-4.4zM13.5 -35.7h4.8v0.4h-4.8zM13.5 -36.1h4.4v0.4h-4.4zM13.9 -36.5h3.2v0.4h-3.2zM13.9 -36.9h2.8v0.4h-2.8zM13.9 -37.3h2.4v0.4h-2.4zM14.3 -37.7h1.6v0.4h-1.6zM14.3 -38.1h1.2v0.4h-1.2zM11.1 -39.3h0.4v0.4h-0.4z"/><path fill="#d5b4ab" d="M17.9 -34.9h0.4v0.4h-0.4z"/><path fill="#d5b7ae" d="M18.3 -34.9h0.4v0.4h-0.4zM18.7 -35.7h0.4v0.4h-0.4zM19.9 -37.7h0.4v0.4h-0.4zM19.5 -38.5h0.4v0.4h-0.4z"/><path fill="#d2b7ae" d="M18.7 -34.9h2v0.4h-2zM18.7 -35.3h1.2v0.4h-1.2zM19.1 -35.7h0.4v0.4h-0.4zM19.1 -36.1h0.4v0.4h-0.4zM19.1 -39.3h0.4v0.4h-0.4zM18.7 -40.1h0.4v0.4h-0.4zM18.3 -40.9h0.4v0.4h-0.4z"/><path fill="#e49378" d="M-8.5 -35.3h0.4v0.4h-0.4zM-7.3 -36.1h0.4v0.4h-0.4z"/><path fill="#de9987" d="M-8.1 -35.3h0.4v0.4h-0.4zM-7.3 -35.7h1.2v0.4h-1.2z"/><path fill="#db9c8a" d="M-7.7 -35.3h1.2v0.4h-1.2z"/><path fill="#de9c8d" d="M-5.7 -35.3h0.4v0.4h-0.4z"/><path fill="#dba296" d="M-3.7 -35.3h0.4v0.4h-0.4z"/><path fill="#d8a896" d="M-2.9 -35.3h0.4v0.4h-0.4zM-2.5 -35.7h1.2v0.4h-1.2zM-0.9 -36.1h0.4v0.4h-0.4zM6.3 -39.3h0.4v0.4h-0.4zM6.3 -39.7h0.4v0.4h-0.4z"/><path fill="#d8aea5" d="M12.7 -35.3h0.4v0.4h-0.4zM12.3 -35.7h0.8v0.4h-0.8zM11.9 -36.1h0.8v0.4h-0.8zM11.1 -36.5h1.6v0.4h-1.6zM10.7 -36.9h1.6v0.4h-1.6zM10.7 -37.3h1.2v0.4h-1.2zM10.7 -37.7h1.2v0.4h-1.2zM10.7 -38.1h0.8v0.4h-0.8zM10.7 -38.5h0.8v0.4h-0.8z"/><path fill="#d8b1a5" d="M17.9 -35.3h0.4v0.4h-0.4zM18.3 -35.7h0.4v0.4h-0.4zM18.7 -36.1h0.4v0.4h-0.4zM18.3 -37.7h0.4v0.4h-0.4zM17.9 -38.1h0.4v0.4h-0.4zM17.5 -38.5h0.4v0.4h-0.4zM16.7 -38.9h0.8v0.4h-0.8zM15.5 -39.3h1.2v0.4h-1.2z"/><path fill="#d5b7ab" d="M18.3 -35.3h0.4v0.4h-0.4zM19.5 -36.9h0.4v0.4h-0.4zM19.9 -37.3h0.4v0.4h-0.4zM19.5 -38.1h0.4v0.4h-0.4zM19.1 -38.9h0.4v0.4h-0.4zM18.7 -39.7h0.4v0.4h-0.4zM18.3 -40.5h0.4v0.4h-0.4zM17.9 -41.3h0.4v0.4h-0.4z"/><path fill="#d2b7b1" d="M19.9 -35.3h0.8v0.4h-0.8zM19.5 -35.7h1.2v0.4h-1.2zM19.5 -36.1h1.2v0.4h-1.2zM19.5 -36.5h1.2v0.4h-1.2zM19.9 -36.9h0.8v0.4h-0.8zM17.9 -41.7h0.4v0.4h-0.4z"/><path fill="#e49072" d="M-8.1 -35.7h0.4v0.4h-0.4z"/><path fill="#de9984" d="M-7.7 -35.7h0.4v0.4h-0.4z"/><path fill="#de9c87" d="M-6.1 -35.7h0.8v0.4h-0.8z"/><path fill="#de9f8a" d="M-4.9 -35.7h0.4v0.4h-0.4z"/><path fill="#dba290" d="M-4.1 -35.7h0.4v0.4h-0.4z"/><path fill="#dba593" d="M-3.3 -35.7h0.4v0.4h-0.4zM6.3 -40.5h0.4v0.4h-0.4z"/><path fill="#dbae99" d="M0.7 -35.7h0.4v0.4h-0.4zM0.7 -36.1h0.4v0.4h-0.4z"/><path fill="#deb196" d="M5.1 -35.7h0.4v0.4h-0.4zM5.1 -36.1h0.4v0.4h-0.4zM5.1 -36.5h0.4v0.4h-0.4zM5.1 -36.9h0.4v0.4h-0.4zM5.5 -38.1h0.4v0.4h-0.4zM5.5 -38.5h0.4v0.4h-0.4z"/><path fill="#e78d6c" d="M-7.7 -36.1h0.4v0.4h-0.4zM-6.9 -36.5h0.4v0.4h-0.4zM-4.5 -36.5h0.8v0.4h-0.8z"/><path fill="#e1967b" d="M-6.9 -36.1h1.6v0.4h-1.6z"/><path fill="#e1967e" d="M-5.3 -36.1h0.8v0.4h-0.8z"/><path fill="#e19981" d="M-4.5 -36.1h0.4v0.4h-0.4zM-3.7 -36.1h0.4v0.4h-0.4zM0.7 -38.5h0.4v0.4h-0.4zM2.7 -38.5h0.8v0.4h-0.8zM0.7 -38.9h0.4v0.4h-0.4zM2.3 -38.9h1.2v0.4h-1.2zM0.7 -39.3h0.4v0.4h-0.4zM2.3 -39.3h1.2v0.4h-1.2zM1.9 -39.7h1.2v0.4h-1.2zM1.9 -40.1h1.2v0.4h-1.2z"/><path fill="#e19984" d="M-4.1 -36.1h0.4v0.4h-0.4zM3.1 -39.7h0.4v0.4h-0.4z"/><path fill="#e19c81" d="M-3.3 -36.1h0.4v0.4h-0.4zM0.7 -37.7h0.4v0.4h-0.4zM1.1 -39.7h0.4v0.4h-0.4z"/><path fill="#de9c84" d="M-2.9 -36.1h0.4v0.4h-0.4zM-1.3 -36.5h0.4v0.4h-0.4z"/><path fill="#de9f87" d="M-2.5 -36.1h0.4v0.4h-0.4z"/><path fill="#dea28a" d="M-2.1 -36.1h0.4v0.4h-0.4zM-0.5 -36.9h0.4v0.4h-0.4z"/><path fill="#dba590" d="M-1.7 -36.1h0.4v0.4h-0.4zM-0.9 -36.5h0.4v0.4h-0.4z"/><path fill="#d8a593" d="M-1.3 -36.1h0.4v0.4h-0.4z"/><path fill="#dbb1a5" d="M13.1 -36.1h0.4v0.4h-0.4zM12.7 -36.5h1.2v0.4h-1.2zM12.7 -36.9h1.2v0.4h-1.2zM12.3 -37.3h1.6v0.4h-1.6zM12.3 -37.7h2v0.4h-2zM11.9 -38.1h2.4v0.4h-2.4zM11.9 -38.5h2.4v0.4h-2.4zM11.5 -38.9h3.2v0.4h-3.2zM11.5 -39.3h2.8v0.4h-2.8zM11.5 -39.7h2v0.4h-2z"/><path fill="#d8b1a2" d="M17.9 -36.1h0.8v0.4h-0.8zM17.5 -36.5h1.6v0.4h-1.6zM17.1 -36.9h2v0.4h-2zM16.7 -37.3h2v0.4h-2zM15.9 -37.7h2.4v0.4h-2.4zM15.5 -38.1h2.4v0.4h-2.4zM15.1 -38.5h2.4v0.4h-2.4zM14.7 -38.9h2v0.4h-2z"/><path fill="#e7906c" d="M-6.5 -36.5h0.4v0.4h-0.4zM-4.9 -36.5h0.4v0.4h-0.4zM-1.3 -36.9h0.4v0.4h-0.4zM-0.5 -37.3h0.4v0.4h-0.4z"/><path fill="#e7906f" d="M-6.1 -36.5h1.2v0.4h-1.2zM-2.5 -36.5h0.4v0.4h-0.4z"/><path fill="#ea8d69" d="M-3.7 -36.5h0.8v0.4h-0.8zM-1.7 -36.9h0.4v0.4h-0.4zM-0.9 -37.3h0.4v0.4h-0.4zM-10.1 -37.7h0.8v0.4h-0.8zM-0.1 -37.7h0.4v0.4h-0.4zM-8.5 -38.1h0.4v0.4h-0.4zM-0.1 -38.1h0.4v0.4h-0.4zM-7.7 -38.5h0.4v0.4h-0.4zM-0.1 -38.5h0.4v0.4h-0.4zM-7.3 -38.9h0.4v0.4h-0.4zM-0.5 -38.9h0.4v0.4h-0.4zM-0.9 -39.3h0.4v0.4h-0.4zM-1.7 -39.7h0.4v0.4h-0.4z"/><path fill="#ea906c" d="M-2.9 -36.5h0.4v0.4h-0.4zM-9.7 -38.1h0.8v0.4h-0.8zM-8.5 -38.5h0.4v0.4h-0.4zM-7.7 -38.9h0.4v0.4h-0.4zM-0.1 -38.9h0.4v0.4h-0.4zM-0.1 -39.3h0.4v0.4h-0.4zM-0.9 -39.7h0.8v0.4h-0.8zM-1.7 -40.1h0.8v0.4h-0.8z"/><path fill="#e79372" d="M-2.1 -36.5h0.4v0.4h-0.4zM0.3 -37.7h0.4v0.4h-0.4zM0.3 -38.5h0.4v0.4h-0.4z"/><path fill="#e49678" d="M-1.7 -36.5h0.4v0.4h-0.4zM-0.9 -36.9h0.4v0.4h-0.4z"/><path fill="#dba896" d="M-0.5 -36.5h0.4v0.4h-0.4zM6.3 -40.9h0.4v0.4h-0.4z"/><path fill="#d8aea2" d="M17.1 -36.5h0.4v0.4h-0.4zM16.7 -36.9h0.4v0.4h-0.4zM16.3 -37.3h0.4v0.4h-0.4z"/><path fill="#d5b4a8" d="M19.1 -36.5h0.4v0.4h-0.4z"/><path fill="#ed8a63" d="M-3.7 -36.9h0.8v0.4h-0.8zM-2.9 -37.3h0.4v0.4h-0.4zM-6.9 -38.5h0.4v0.4h-0.4zM-6.5 -38.9h0.4v0.4h-0.4zM-5.3 -39.3h3.2v0.4h-3.2z"/><path fill="#ea8d66" d="M-2.1 -36.9h0.4v0.4h-0.4zM-10.5 -37.3h0.8v0.4h-0.8zM-1.3 -37.3h0.4v0.4h-0.4zM-9.3 -37.7h1.2v0.4h-1.2zM-0.5 -37.7h0.4v0.4h-0.4zM-8.1 -38.1h0.8v0.4h-0.8zM-0.5 -38.1h0.4v0.4h-0.4zM-7.3 -38.5h0.4v0.4h-0.4zM-0.9 -38.5h0.8v0.4h-0.8zM-1.3 -38.9h0.8v0.4h-0.8zM-1.7 -39.3h0.8v0.4h-0.8z"/><path fill="#deab96" d="M-0.1 -36.9h0.4v0.4h-0.4z"/><path fill="#dbab96" d="M0.3 -36.9h0.4v0.4h-0.4z"/><path fill="#d8ab9f" d="M6.7 -36.9h0.4v0.4h-0.4zM6.7 -37.3h0.4v0.4h-0.4zM6.7 -37.7h0.4v0.4h-0.4zM9.9 -38.5h0.4v0.4h-0.4z"/><path fill="#d8b4a5" d="M19.1 -36.9h0.4v0.4h-0.4zM18.7 -37.3h0.4v0.4h-0.4zM18.3 -38.1h0.4v0.4h-0.4zM17.9 -38.5h0.4v0.4h-0.4zM17.5 -38.9h0.4v0.4h-0.4zM14.7 -39.3h0.8v0.4h-0.8zM16.7 -39.3h0.8v0.4h-0.8zM15.5 -39.7h1.6v0.4h-1.6z"/><path fill="#ea8a60" d="M-7.3 -37.3h0.4v0.4h-0.4zM-6.5 -37.3h0.4v0.4h-0.4z"/><path fill="#ea8760" d="M-6.9 -37.3h0.4v0.4h-0.4zM-5.3 -37.3h0.4v0.4h-0.4zM-6.9 -37.7h0.4v0.4h-0.4zM-6.9 -38.1h0.4v0.4h-0.4zM-2.5 -38.1h0.4v0.4h-0.4zM-2.1 -38.5h0.4v0.4h-0.4z"/><path fill="#ea8763" d="M-5.7 -37.3h0.4v0.4h-0.4z"/><path fill="#ed8760" d="M-4.9 -37.3h1.6v0.4h-1.6zM-6.5 -37.7h1.2v0.4h-1.2zM-3.7 -37.7h1.2v0.4h-1.2zM-6.5 -38.1h0.8v0.4h-0.8zM-2.9 -38.1h0.4v0.4h-0.4zM-6.5 -38.5h0.8v0.4h-0.8zM-2.9 -38.5h0.8v0.4h-0.8zM-5.7 -38.9h3.6v0.4h-3.6z"/><path fill="#ed8a60" d="M-3.3 -37.3h0.4v0.4h-0.4z"/><path fill="#e4997b" d="M-0.1 -37.3h0.4v0.4h-0.4z"/><path fill="#dea58d" d="M0.3 -37.3h0.4v0.4h-0.4zM1.5 -37.7h0.4v0.4h-0.4z"/><path fill="#deab93" d="M0.7 -37.3h0.4v0.4h-0.4z"/><path fill="#deae96" d="M1.1 -37.3h0.8v0.4h-0.8z"/><path fill="#deae9c" d="M5.9 -37.3h0.4v0.4h-0.4z"/><path fill="#dbab9c" d="M6.3 -37.3h0.4v0.4h-0.4zM6.3 -37.7h0.4v0.4h-0.4zM6.3 -38.1h0.4v0.4h-0.4zM6.3 -38.5h0.4v0.4h-0.4zM7.1 -41.7h0.4v0.4h-0.4zM7.5 -42.1h0.4v0.4h-0.4zM9.9 -42.1h0.4v0.4h-0.4zM8.3 -42.9h0.4v0.4h-0.4zM9.5 -42.9h0.4v0.4h-0.4zM8.7 -43.3h0.8v0.4h-0.8z"/><path fill="#d8b7a8" d="M19.1 -37.3h0.8v0.4h-0.8zM19.1 -37.7h0.8v0.4h-0.8zM18.7 -38.1h0.8v0.4h-0.8zM18.3 -38.5h1.2v0.4h-1.2zM17.9 -38.9h1.2v0.4h-1.2zM17.5 -39.3h1.6v0.4h-1.6zM17.1 -39.7h1.6v0.4h-1.6zM15.5 -40.1h0.4v0.4h-0.4zM16.3 -40.1h2.4v0.4h-2.4zM15.9 -40.5h2.4v0.4h-2.4zM16.7 -40.9h1.6v0.4h-1.6zM17.1 -41.3h0.8v0.4h-0.8z"/><path fill="#cfb7b1" d="M20.3 -37.3h0.4v0.4h-0.4zM19.9 -38.1h0.4v0.4h-0.4z"/><path fill="#ea9069" d="M-10.5 -37.7h0.4v0.4h-0.4zM-8.9 -38.1h0.4v0.4h-0.4zM-8.1 -38.5h0.4v0.4h-0.4zM-0.5 -39.3h0.4v0.4h-0.4zM-1.3 -39.7h0.4v0.4h-0.4z"/><path fill="#ed845d" d="M-5.3 -37.7h1.6v0.4h-1.6zM-5.7 -38.1h2.8v0.4h-2.8zM-5.7 -38.5h2.8v0.4h-2.8z"/><path fill="#e1a28a" d="M1.1 -37.7h0.4v0.4h-0.4zM2.7 -38.1h0.4v0.4h-0.4zM4.3 -38.5h0.4v0.4h-0.4zM5.5 -38.9h0.4v0.4h-0.4zM5.9 -39.3h0.4v0.4h-0.4zM3.5 -41.3h0.4v0.4h-0.4z"/><path fill="#dea890" d="M1.9 -37.7h0.4v0.4h-0.4z"/><path fill="#deae93" d="M2.3 -37.7h0.4v0.4h-0.4z"/><path fill="#e1b196" d="M2.7 -37.7h0.4v0.4h-0.4z"/><path fill="#d8aba2" d="M8.7 -37.7h0.4v0.4h-0.4zM9.1 -38.1h0.8v0.4h-0.8zM10.7 -38.9h0.4v0.4h-0.4z"/><path fill="#d8b7a5" d="M18.7 -37.7h0.4v0.4h-0.4z"/><path fill="#c9b7ba" d="M20.3 -37.7h0.4v0.4h-0.4zM19.9 -38.5h0.4v0.4h-0.4z"/><path fill="#ea936f" d="M-10.5 -38.1h0.4v0.4h-0.4zM-9.7 -38.5h0.8v0.4h-0.8zM-8.5 -38.9h0.4v0.4h-0.4zM-0.1 -39.7h0.4v0.4h-0.4zM-0.9 -40.1h0.4v0.4h-0.4z"/><path fill="#ea936c" d="M-10.1 -38.1h0.4v0.4h-0.4zM-8.9 -38.5h0.4v0.4h-0.4zM-8.1 -38.9h0.4v0.4h-0.4z"/><path fill="#e7936f" d="M0.3 -38.1h0.4v0.4h-0.4z"/><path fill="#e1997e" d="M0.7 -38.1h0.4v0.4h-0.4z"/><path fill="#e19c84" d="M1.1 -38.1h1.2v0.4h-1.2zM1.1 -38.5h1.6v0.4h-1.6zM3.5 -38.5h0.4v0.4h-0.4zM1.1 -38.9h1.2v0.4h-1.2zM3.5 -38.9h0.4v0.4h-0.4zM1.1 -39.3h1.2v0.4h-1.2zM3.5 -39.3h0.4v0.4h-0.4zM1.5 -39.7h0.4v0.4h-0.4zM3.1 -40.1h0.4v0.4h-0.4zM2.3 -40.5h1.2v0.4h-1.2z"/><path fill="#e19f87" d="M2.3 -38.1h0.4v0.4h-0.4zM3.9 -38.5h0.4v0.4h-0.4zM3.9 -39.3h0.4v0.4h-0.4zM3.9 -39.7h0.4v0.4h-0.4zM3.5 -40.5h0.4v0.4h-0.4zM3.1 -40.9h0.8v0.4h-0.8z"/><path fill="#e1a88d" d="M3.1 -38.1h0.4v0.4h-0.4zM4.7 -38.5h0.4v0.4h-0.4z"/><path fill="#e1ae93" d="M3.5 -38.1h0.4v0.4h-0.4z"/><path fill="#e1b193" d="M3.9 -38.1h0.8v0.4h-0.8z"/><path fill="#e1b493" d="M4.7 -38.1h0.4v0.4h-0.4z"/><path fill="#c3b7c3" d="M20.3 -38.1h0.4v0.4h-0.4z"/><path fill="#ea9672" d="M-10.5 -38.5h0.8v0.4h-0.8zM-9.3 -38.9h0.8v0.4h-0.8zM-1.3 -40.5h0.4v0.4h-0.4z"/><path fill="#e1ab90" d="M5.1 -38.5h0.4v0.4h-0.4z"/><path fill="#d8a89c" d="M6.7 -38.5h0.4v0.4h-0.4zM8.7 -38.5h0.8v0.4h-0.8zM10.3 -38.9h0.4v0.4h-0.4z"/><path fill="#dbb1a2" d="M14.3 -38.5h0.8v0.4h-0.8zM9.9 -42.9h0.4v0.4h-0.4z"/><path fill="#bab4cc" d="M20.3 -38.5h0.4v0.4h-0.4zM19.9 -39.3h0.4v0.4h-0.4zM19.5 -40.1h0.4v0.4h-0.4zM19.1 -40.9h0.4v0.4h-0.4z"/><path fill="#ea9975" d="M-10.5 -38.9h1.2v0.4h-1.2zM-8.9 -39.3h0.8v0.4h-0.8z"/><path fill="#ed8a66" d="M-6.9 -38.9h0.4v0.4h-0.4zM-6.1 -39.3h0.8v0.4h-0.8zM-2.1 -39.3h0.4v0.4h-0.4zM-4.1 -39.7h1.2v0.4h-1.2z"/><path fill="#ed8763" d="M-6.1 -38.9h0.4v0.4h-0.4z"/><path fill="#e79375" d="M0.3 -38.9h0.4v0.4h-0.4z"/><path fill="#e19c87" d="M3.9 -38.9h0.4v0.4h-0.4zM3.5 -39.7h0.4v0.4h-0.4zM3.5 -40.1h0.4v0.4h-0.4z"/><path fill="#e19f8a" d="M4.3 -38.9h1.2v0.4h-1.2zM4.3 -39.3h1.6v0.4h-1.6zM4.3 -39.7h2v0.4h-2zM3.9 -40.1h2.4v0.4h-2.4zM3.9 -40.5h2.4v0.4h-2.4zM3.9 -40.9h2.4v0.4h-2.4zM3.9 -41.3h1.6v0.4h-1.6z"/><path fill="#dea590" d="M5.9 -38.9h0.4v0.4h-0.4z"/><path fill="#cfb7b4" d="M19.5 -38.9h0.4v0.4h-0.4zM19.1 -39.7h0.4v0.4h-0.4zM18.7 -40.5h0.4v0.4h-0.4zM18.3 -41.3h0.4v0.4h-0.4z"/><path fill="#c0b4c3" d="M19.9 -38.9h0.4v0.4h-0.4z"/><path fill="#b7b4cf" d="M20.3 -38.9h0.4v0.4h-0.4zM19.9 -39.7h0.4v0.4h-0.4z"/><path fill="#ed9c78" d="M-10.5 -39.3h1.6v0.4h-1.6zM-7.7 -39.7h0.4v0.4h-0.4zM-6.9 -40.1h0.4v0.4h-0.4zM-6.1 -40.5h0.4v0.4h-0.4zM-5.7 -40.9h0.4v0.4h-0.4z"/><path fill="#ed9672" d="M-8.1 -39.3h0.4v0.4h-0.4zM-6.5 -40.1h0.4v0.4h-0.4zM-5.7 -40.5h0.8v0.4h-0.8z"/><path fill="#ed966f" d="M-7.7 -39.3h0.4v0.4h-0.4zM-4.9 -40.5h0.4v0.4h-0.4z"/><path fill="#ed936c" d="M-7.3 -39.3h0.4v0.4h-0.4z"/><path fill="#ed9069" d="M-6.9 -39.3h0.4v0.4h-0.4zM-4.9 -40.1h1.2v0.4h-1.2zM-2.9 -40.1h1.2v0.4h-1.2z"/><path fill="#ed8d66" d="M-6.5 -39.3h0.4v0.4h-0.4zM-5.7 -39.7h1.6v0.4h-1.6zM-2.9 -39.7h1.2v0.4h-1.2z"/><path fill="#e79675" d="M0.3 -39.3h0.4v0.4h-0.4z"/><path fill="#dbb4a5" d="M14.3 -39.3h0.4v0.4h-0.4zM11.1 -40.1h0.4v0.4h-0.4zM10.7 -40.9h0.4v0.4h-0.4zM10.3 -41.7h0.4v0.4h-0.4z"/><path fill="#c9b7bd" d="M19.5 -39.3h0.4v0.4h-0.4z"/><path fill="#b7b4d2" d="M20.3 -39.3h0.4v0.4h-0.4zM19.5 -40.5h0.4v0.4h-0.4zM19.1 -41.3h0.4v0.4h-0.4zM19.1 -41.7h0.4v0.4h-0.4zM19.1 -42.1h0.4v0.4h-0.4zM19.5 -42.5h0.4v0.4h-0.4zM19.5 -42.9h0.4v0.4h-0.4zM19.5 -43.3h0.4v0.4h-0.4zM19.5 -43.7h0.4v0.4h-0.4zM18.7 -44.1h0.8v0.4h-0.8z"/><path fill="#ed9f7b" d="M-10.5 -39.7h1.2v0.4h-1.2zM-8.1 -39.7h0.4v0.4h-0.4zM-6.5 -40.5h0.4v0.4h-0.4zM-5.3 -41.3h0.4v0.4h-0.4zM-4.5 -41.3h0.4v0.4h-0.4z"/><path fill="#eda27e" d="M-9.3 -39.7h1.2v0.4h-1.2zM-7.3 -40.1h0.4v0.4h-0.4zM-6.1 -40.9h0.4v0.4h-0.4zM-5.7 -41.3h0.4v0.4h-0.4z"/><path fill="#ed9972" d="M-7.3 -39.7h0.4v0.4h-0.4z"/><path fill="#ed936f" d="M-6.9 -39.7h0.4v0.4h-0.4zM-6.1 -40.1h0.4v0.4h-0.4zM-4.5 -40.5h3.2v0.4h-3.2z"/><path fill="#ed906c" d="M-6.5 -39.7h0.4v0.4h-0.4zM-5.7 -40.1h0.8v0.4h-0.8z"/><path fill="#ed8d69" d="M-6.1 -39.7h0.4v0.4h-0.4zM-3.7 -40.1h0.8v0.4h-0.8z"/><path fill="#e79678" d="M0.3 -39.7h0.4v0.4h-0.4z"/><path fill="#e4997e" d="M0.7 -39.7h0.4v0.4h-0.4z"/><path fill="#dbae9f" d="M11.1 -39.7h0.4v0.4h-0.4z"/><path fill="#dbb7ab" d="M13.5 -39.7h0.4v0.4h-0.4zM10.3 -42.1h0.4v0.4h-0.4z"/><path fill="#dbbaae" d="M13.9 -39.7h0.8v0.4h-0.8zM14.7 -40.1h0.4v0.4h-0.4zM15.1 -40.5h0.4v0.4h-0.4zM15.5 -40.9h0.4v0.4h-0.4zM15.9 -41.7h0.4v0.4h-0.4z"/><path fill="#d8b7ab" d="M14.7 -39.7h0.4v0.4h-0.4zM15.1 -40.1h0.4v0.4h-0.4zM17.5 -41.7h0.4v0.4h-0.4z"/><path fill="#d8b4a8" d="M15.1 -39.7h0.4v0.4h-0.4zM15.9 -40.1h0.4v0.4h-0.4z"/><path fill="#c0b4c6" d="M19.5 -39.7h0.4v0.4h-0.4zM19.1 -40.5h0.4v0.4h-0.4z"/><path fill="#b4b4d2" d="M20.3 -39.7h0.4v0.4h-0.4zM19.9 -40.1h0.4v0.4h-0.4zM19.9 -40.5h0.4v0.4h-0.4zM19.5 -40.9h0.4v0.4h-0.4zM19.5 -41.3h0.4v0.4h-0.4z"/><path fill="#eda281" d="M-10.5 -40.1h0.4v0.4h-0.4z"/><path fill="#eda581" d="M-10.1 -40.1h0.4v0.4h-0.4z"/><path fill="#eda884" d="M-9.7 -40.1h0.4v0.4h-0.4zM-7.7 -40.1h0.4v0.4h-0.4z"/><path fill="#edab87" d="M-9.3 -40.1h0.4v0.4h-0.4zM-8.1 -40.1h0.4v0.4h-0.4z"/><path fill="#edab8a" d="M-8.9 -40.1h0.4v0.4h-0.4zM-10.5 -40.5h0.4v0.4h-0.4zM-7.3 -40.5h0.4v0.4h-0.4zM-5.7 -41.7h0.4v0.4h-0.4z"/><path fill="#edae8a" d="M-8.5 -40.1h0.4v0.4h-0.4z"/><path fill="#ea9372" d="M-0.5 -40.1h0.4v0.4h-0.4z"/><path fill="#ea9375" d="M-0.1 -40.1h0.4v0.4h-0.4z"/><path fill="#ea9678" d="M0.3 -40.1h0.4v0.4h-0.4zM-0.1 -40.5h0.4v0.4h-0.4z"/><path fill="#e7997b" d="M0.7 -40.1h0.4v0.4h-0.4z"/><path fill="#e49981" d="M1.1 -40.1h0.4v0.4h-0.4z"/><path fill="#e49c81" d="M1.5 -40.1h0.4v0.4h-0.4z"/><path fill="#dbbdb1" d="M11.5 -40.1h1.2v0.4h-1.2zM13.1 -40.1h0.4v0.4h-0.4zM14.3 -40.1h0.4v0.4h-0.4zM14.7 -40.5h0.4v0.4h-0.4zM15.1 -40.9h0.4v0.4h-0.4zM10.7 -41.3h0.4v0.4h-0.4zM15.1 -41.3h0.4v0.4h-0.4zM15.1 -41.7h0.4v0.4h-0.4zM15.1 -42.1h0.4v0.4h-0.4z"/><path fill="#dbbdae" d="M12.7 -40.1h0.4v0.4h-0.4zM11.1 -40.5h0.4v0.4h-0.4zM15.5 -41.3h0.4v0.4h-0.4zM15.5 -41.7h0.4v0.4h-0.4zM15.5 -42.1h0.8v0.4h-0.8z"/><path fill="#dbc0b1" d="M13.5 -40.1h0.4v0.4h-0.4zM14.7 -40.9h0.4v0.4h-0.4zM14.7 -41.3h0.4v0.4h-0.4zM14.7 -41.7h0.4v0.4h-0.4zM14.7 -42.1h0.4v0.4h-0.4z"/><path fill="#dbc0b4" d="M13.9 -40.1h0.4v0.4h-0.4zM11.5 -40.5h3.2v0.4h-3.2zM11.1 -40.9h3.6v0.4h-3.6zM11.1 -41.3h3.6v0.4h-3.6zM10.7 -41.7h4v0.4h-4zM10.7 -42.1h0.4v0.4h-0.4zM11.5 -42.1h3.2v0.4h-3.2zM12.3 -42.5h2.8v0.4h-2.8zM13.1 -42.9h1.6v0.4h-1.6zM13.9 -43.3h0.4v0.4h-0.4z"/><path fill="#c6b7bd" d="M19.1 -40.1h0.4v0.4h-0.4zM18.7 -40.9h0.4v0.4h-0.4z"/><path fill="#b4b4d5" d="M20.3 -40.1h0.4v0.4h-0.4zM20.3 -40.5h0.4v0.4h-0.4zM19.9 -40.9h0.8v0.4h-0.8zM19.9 -41.3h0.8v0.4h-0.8zM19.5 -41.7h1.2v0.4h-1.2zM19.5 -42.1h1.2v0.4h-1.2zM19.9 -42.5h0.8v0.4h-0.8zM19.9 -42.9h0.8v0.4h-0.8zM19.9 -43.3h0.8v0.4h-0.8zM19.9 -43.7h0.8v0.4h-0.8zM19.5 -44.1h1.2v0.4h-1.2zM18.7 -44.5h2v0.4h-2zM18.7 -44.9h2v0.4h-2zM18.7 -45.3h2v0.4h-2zM19.1 -45.7h1.6v0.4h-1.6zM19.9 -46.1h0.8v0.4h-0.8z"/><path fill="#edae8d" d="M-10.1 -40.5h0.4v0.4h-0.4zM-6.9 -40.9h0.4v0.4h-0.4zM-6.5 -41.3h0.4v0.4h-0.4z"/><path fill="#edb490" d="M-9.7 -40.5h0.4v0.4h-0.4z"/><path fill="#f0b796" d="M-9.3 -40.5h0.8v0.4h-0.8zM-10.5 -40.9h0.4v0.4h-0.4z"/><path fill="#f0ba99" d="M-8.5 -40.5h0.4v0.4h-0.4zM-10.1 -40.9h0.4v0.4h-0.4z"/><path fill="#edb796" d="M-8.1 -40.5h0.4v0.4h-0.4zM-6.9 -41.3h0.4v0.4h-0.4zM-5.7 -42.1h0.4v0.4h-0.4z"/><path fill="#edb190" d="M-7.7 -40.5h0.4v0.4h-0.4zM-6.1 -41.7h0.4v0.4h-0.4z"/><path fill="#eda584" d="M-6.9 -40.5h0.4v0.4h-0.4zM-4.9 -41.7h0.4v0.4h-0.4zM-3.7 -41.7h0.4v0.4h-0.4z"/><path fill="#ea9675" d="M-0.9 -40.5h0.8v0.4h-0.8z"/><path fill="#ea967b" d="M0.3 -40.5h0.4v0.4h-0.4z"/><path fill="#ea997b" d="M0.7 -40.5h0.4v0.4h-0.4zM-0.1 -40.9h0.8v0.4h-0.8z"/><path fill="#ea997e" d="M1.1 -40.5h0.4v0.4h-0.4z"/><path fill="#e79f84" d="M1.5 -40.5h0.4v0.4h-0.4z"/><path fill="#e49f84" d="M1.9 -40.5h0.4v0.4h-0.4z"/><path fill="#d8ab9c" d="M10.7 -40.5h0.4v0.4h-0.4z"/><path fill="#d8baab" d="M15.5 -40.5h0.4v0.4h-0.4zM15.9 -40.9h0.4v0.4h-0.4zM15.9 -41.3h0.8v0.4h-0.8zM16.3 -41.7h0.8v0.4h-0.8z"/><path fill="#f0bd9f" d="M-9.7 -40.9h0.4v0.4h-0.4z"/><path fill="#f0c0a2" d="M-9.3 -40.9h0.4v0.4h-0.4z"/><path fill="#f0c3a2" d="M-8.9 -40.9h0.8v0.4h-0.8zM-10.5 -41.3h0.4v0.4h-0.4z"/><path fill="#f0c09f" d="M-8.1 -40.9h0.4v0.4h-0.4z"/><path fill="#edbd9c" d="M-7.7 -40.9h0.4v0.4h-0.4zM-7.3 -41.3h0.4v0.4h-0.4zM-5.7 -42.5h0.4v0.4h-0.4z"/><path fill="#edb493" d="M-7.3 -40.9h0.4v0.4h-0.4zM-5.3 -42.1h0.4v0.4h-0.4z"/><path fill="#eda887" d="M-6.5 -40.9h0.4v0.4h-0.4zM-6.1 -41.3h0.4v0.4h-0.4zM-5.3 -41.7h0.4v0.4h-0.4z"/><path fill="#ed9975" d="M-5.3 -40.9h1.2v0.4h-1.2zM-1.7 -40.9h0.4v0.4h-0.4z"/><path fill="#ed9675" d="M-4.1 -40.9h2.4v0.4h-2.4z"/><path fill="#ed9978" d="M-1.3 -40.9h0.8v0.4h-0.8z"/><path fill="#ea9978" d="M-0.5 -40.9h0.4v0.4h-0.4z"/><path fill="#ea9c7e" d="M0.7 -40.9h0.4v0.4h-0.4z"/><path fill="#ea9f84" d="M1.1 -40.9h0.4v0.4h-0.4zM0.3 -41.3h0.4v0.4h-0.4z"/><path fill="#eaa58a" d="M1.5 -40.9h0.4v0.4h-0.4zM1.1 -41.3h0.4v0.4h-0.4z"/><path fill="#eaa58d" d="M1.9 -40.9h0.4v0.4h-0.4z"/><path fill="#e7a28a" d="M2.3 -40.9h0.4v0.4h-0.4z"/><path fill="#e49f87" d="M2.7 -40.9h0.4v0.4h-0.4z"/><path fill="#d8baa8" d="M16.3 -40.9h0.4v0.4h-0.4zM16.7 -41.3h0.4v0.4h-0.4zM17.1 -41.7h0.4v0.4h-0.4z"/><path fill="#f0c6a5" d="M-10.1 -41.3h0.4v0.4h-0.4z"/><path fill="#f0c9a8" d="M-9.7 -41.3h0.4v0.4h-0.4z"/><path fill="#f0c9ab" d="M-9.3 -41.3h0.4v0.4h-0.4zM-8.1 -41.3h0.4v0.4h-0.4z"/><path fill="#f0ccae" d="M-8.9 -41.3h0.8v0.4h-0.8z"/><path fill="#edc3a5" d="M-7.7 -41.3h0.4v0.4h-0.4zM-7.3 -41.7h0.4v0.4h-0.4z"/><path fill="#ed9c7b" d="M-4.9 -41.3h0.4v0.4h-0.4zM-4.1 -41.3h2.4v0.4h-2.4z"/><path fill="#ed9c7e" d="M-1.7 -41.3h0.4v0.4h-0.4z"/><path fill="#ed9f7e" d="M-1.3 -41.3h1.2v0.4h-1.2z"/><path fill="#ea9f81" d="M-0.1 -41.3h0.4v0.4h-0.4z"/><path fill="#eaa287" d="M0.7 -41.3h0.4v0.4h-0.4z"/><path fill="#eaa88d" d="M1.5 -41.3h0.4v0.4h-0.4zM0.3 -41.7h0.4v0.4h-0.4z"/><path fill="#eaa890" d="M1.9 -41.3h0.8v0.4h-0.8z"/><path fill="#e7a890" d="M2.7 -41.3h0.4v0.4h-0.4zM3.5 -41.7h0.4v0.4h-0.4z"/><path fill="#e4a58d" d="M3.1 -41.3h0.4v0.4h-0.4z"/><path fill="#e1a28d" d="M5.5 -41.3h0.4v0.4h-0.4zM4.3 -41.7h0.4v0.4h-0.4z"/><path fill="#e1ae99" d="M5.9 -41.3h0.4v0.4h-0.4zM5.1 -41.7h0.4v0.4h-0.4z"/><path fill="#e1b7a5" d="M6.3 -41.3h0.4v0.4h-0.4z"/><path fill="#d8ab99" d="M6.7 -41.3h0.4v0.4h-0.4z"/><path fill="#d8ae9f" d="M10.3 -41.3h0.4v0.4h-0.4z"/><path fill="#bdb4c9" d="M18.7 -41.3h0.4v0.4h-0.4z"/><path fill="#edccae" d="M-10.5 -41.7h0.4v0.4h-0.4z"/><path fill="#edcfb1" d="M-10.1 -41.7h0.8v0.4h-0.8zM-8.1 -41.7h0.4v0.4h-0.4z"/><path fill="#edd2b4" d="M-9.3 -41.7h0.8v0.4h-0.8zM-8.1 -42.1h0.4v0.4h-0.4z"/><path fill="#edcfb4" d="M-8.5 -41.7h0.4v0.4h-0.4z"/><path fill="#edc9ab" d="M-7.7 -41.7h0.4v0.4h-0.4z"/><path fill="#edc09f" d="M-6.9 -41.7h0.4v0.4h-0.4z"/><path fill="#edb799" d="M-6.5 -41.7h0.4v0.4h-0.4zM-4.9 -42.5h0.4v0.4h-0.4z"/><path fill="#eda587" d="M-4.5 -41.7h0.8v0.4h-0.8zM-3.3 -41.7h1.6v0.4h-1.6z"/><path fill="#eda88a" d="M-1.7 -41.7h0.4v0.4h-0.4zM-0.9 -41.7h0.8v0.4h-0.8z"/><path fill="#eda88d" d="M-1.3 -41.7h0.4v0.4h-0.4z"/><path fill="#eaa88a" d="M-0.1 -41.7h0.4v0.4h-0.4z"/><path fill="#eaab90" d="M0.7 -41.7h0.4v0.4h-0.4z"/><path fill="#eaab93" d="M1.1 -41.7h2.4v0.4h-2.4z"/><path fill="#e1a58d" d="M3.9 -41.7h0.4v0.4h-0.4z"/><path fill="#e1a590" d="M4.7 -41.7h0.4v0.4h-0.4z"/><path fill="#e4bdab" d="M5.5 -41.7h0.4v0.4h-0.4z"/><path fill="#e4c3b4" d="M5.9 -41.7h0.8v0.4h-0.8zM6.7 -42.1h0.4v0.4h-0.4zM7.5 -43.3h0.4v0.4h-0.4z"/><path fill="#e1baab" d="M6.7 -41.7h0.4v0.4h-0.4zM7.9 -43.3h0.4v0.4h-0.4z"/><path fill="#dba899" d="M7.5 -41.7h2.4v0.4h-2.4zM7.9 -42.1h2v0.4h-2zM8.3 -42.5h1.6v0.4h-1.6z"/><path fill="#c6b7c3" d="M18.3 -41.7h0.4v0.4h-0.4z"/><path fill="#bab4cf" d="M18.7 -41.7h0.4v0.4h-0.4z"/><path fill="#ead2b7" d="M-10.5 -42.1h2.4v0.4h-2.4z"/><path fill="#edccb1" d="M-7.7 -42.1h0.4v0.4h-0.4z"/><path fill="#edc9ae" d="M-7.3 -42.1h0.4v0.4h-0.4z"/><path fill="#edc6a8" d="M-6.9 -42.1h0.4v0.4h-0.4z"/><path fill="#edc0a2" d="M-6.5 -42.1h0.4v0.4h-0.4zM-6.1 -42.5h0.4v0.4h-0.4z"/><path fill="#edba9c" d="M-6.1 -42.1h0.4v0.4h-0.4zM-5.3 -42.5h0.4v0.4h-0.4z"/><path fill="#edb193" d="M-4.9 -42.1h0.4v0.4h-0.4z"/><path fill="#edae93" d="M-4.5 -42.1h1.2v0.4h-1.2z"/><path fill="#edb196" d="M-3.3 -42.1h0.4v0.4h-0.4z"/><path fill="#eab196" d="M-2.9 -42.1h1.6v0.4h-1.6zM-0.1 -42.1h0.4v0.4h-0.4zM1.5 -42.1h0.4v0.4h-0.4z"/><path fill="#eab499" d="M-1.3 -42.1h1.2v0.4h-1.2zM0.7 -42.1h0.8v0.4h-0.8z"/><path fill="#eab199" d="M0.3 -42.1h0.4v0.4h-0.4zM3.1 -42.1h0.4v0.4h-0.4z"/><path fill="#eaae96" d="M1.9 -42.1h1.2v0.4h-1.2z"/><path fill="#eab49c" d="M3.5 -42.1h0.4v0.4h-0.4zM2.3 -42.5h0.8v0.4h-0.8z"/><path fill="#e7b7a2" d="M3.9 -42.1h0.4v0.4h-0.4zM3.1 -42.5h0.4v0.4h-0.4z"/><path fill="#e7baa8" d="M4.3 -42.1h0.4v0.4h-0.4z"/><path fill="#e7c0ae" d="M4.7 -42.1h0.4v0.4h-0.4zM3.9 -42.5h0.4v0.4h-0.4zM3.5 -42.9h0.4v0.4h-0.4z"/><path fill="#e7c3b1" d="M5.1 -42.1h0.4v0.4h-0.4zM4.3 -42.5h0.8v0.4h-0.8zM4.3 -42.9h0.4v0.4h-0.4z"/><path fill="#e7c3b4" d="M5.5 -42.1h0.4v0.4h-0.4zM5.1 -42.5h0.4v0.4h-0.4z"/><path fill="#e4c6b4" d="M5.9 -42.1h0.4v0.4h-0.4zM5.5 -42.5h0.8v0.4h-0.8zM5.1 -42.9h0.8v0.4h-0.8zM4.7 -43.3h1.2v0.4h-1.2z"/><path fill="#e4c6b7" d="M6.3 -42.1h0.4v0.4h-0.4zM6.3 -42.5h0.8v0.4h-0.8zM5.9 -42.9h1.2v0.4h-1.2zM5.9 -43.3h0.4v0.4h-0.4zM7.1 -43.3h0.4v0.4h-0.4z"/><path fill="#deb7a8" d="M7.1 -42.1h0.4v0.4h-0.4zM8.7 -43.7h0.4v0.4h-0.4z"/><path fill="#dbc3b7" d="M11.1 -42.1h0.4v0.4h-0.4zM10.7 -42.5h1.6v0.4h-1.6zM11.9 -42.9h1.2v0.4h-1.2zM12.3 -43.3h1.6v0.4h-1.6zM13.1 -43.7h0.8v0.4h-0.8z"/><path fill="#d8baae" d="M16.3 -42.1h0.8v0.4h-0.8z"/><path fill="#d5baae" d="M17.1 -42.1h0.4v0.4h-0.4z"/><path fill="#d2bab7" d="M17.5 -42.1h0.4v0.4h-0.4z"/><path fill="#c9bac3" d="M17.9 -42.1h0.4v0.4h-0.4z"/><path fill="#c3bacc" d="M18.3 -42.1h0.4v0.4h-0.4zM18.3 -42.9h0.4v0.4h-0.4z"/><path fill="#bab7d2" d="M18.7 -42.1h0.4v0.4h-0.4zM19.1 -42.5h0.4v0.4h-0.4zM19.1 -42.9h0.4v0.4h-0.4zM19.1 -43.3h0.4v0.4h-0.4zM18.3 -44.1h0.4v0.4h-0.4z"/><path fill="#e4d5b7" d="M-10.5 -42.5h2v0.4h-2z"/><path fill="#e4d2b7" d="M-8.5 -42.5h0.4v0.4h-0.4zM-7.7 -42.9h0.8v0.4h-0.8z"/><path fill="#e7d2b7" d="M-8.1 -42.5h0.4v0.4h-0.4z"/><path fill="#eacfb4" d="M-7.7 -42.5h0.4v0.4h-0.4z"/><path fill="#eacfb1" d="M-7.3 -42.5h0.4v0.4h-0.4z"/><path fill="#eaccb1" d="M-6.9 -42.5h0.4v0.4h-0.4z"/><path fill="#eac6a8" d="M-6.5 -42.5h0.4v0.4h-0.4z"/><path fill="#edb499" d="M-4.5 -42.5h0.4v0.4h-0.4z"/><path fill="#edb79c" d="M-4.1 -42.5h0.4v0.4h-0.4z"/><path fill="#eaba9f" d="M-3.7 -42.5h0.4v0.4h-0.4z"/><path fill="#eabda2" d="M-3.3 -42.5h0.4v0.4h-0.4zM-4.9 -42.9h0.8v0.4h-0.8z"/><path fill="#e7bda2" d="M-2.9 -42.5h0.8v0.4h-0.8zM-1.7 -42.5h1.2v0.4h-1.2zM0.7 -42.5h0.8v0.4h-0.8z"/><path fill="#e7bda5" d="M-2.1 -42.5h0.4v0.4h-0.4zM-0.5 -42.5h0.4v0.4h-0.4z"/><path fill="#e7baa2" d="M-0.1 -42.5h0.8v0.4h-0.8z"/><path fill="#e7b79f" d="M1.5 -42.5h0.4v0.4h-0.4z"/><path fill="#e7b49c" d="M1.9 -42.5h0.4v0.4h-0.4z"/><path fill="#e7bda8" d="M3.5 -42.5h0.4v0.4h-0.4zM2.3 -42.9h0.8v0.4h-0.8z"/><path fill="#e1c0b1" d="M7.1 -42.5h0.4v0.4h-0.4z"/><path fill="#deb4a2" d="M7.5 -42.5h0.4v0.4h-0.4z"/><path fill="#dbbaab" d="M10.3 -42.5h0.4v0.4h-0.4z"/><path fill="#d8bdb4" d="M15.1 -42.5h0.4v0.4h-0.4z"/><path fill="#d8bdb7" d="M15.5 -42.5h0.4v0.4h-0.4z"/><path fill="#d5bdba" d="M15.9 -42.5h0.8v0.4h-0.8z"/><path fill="#d2bdbd" d="M16.7 -42.5h0.4v0.4h-0.4z"/><path fill="#cfbdc0" d="M17.1 -42.5h0.4v0.4h-0.4z"/><path fill="#c9bdc9" d="M17.5 -42.5h0.4v0.4h-0.4z"/><path fill="#c6bacc" d="M17.9 -42.5h0.4v0.4h-0.4zM17.9 -42.9h0.4v0.4h-0.4zM17.9 -43.3h0.4v0.4h-0.4z"/><path fill="#c3bacf" d="M18.3 -42.5h0.4v0.4h-0.4zM18.3 -43.3h0.4v0.4h-0.4zM17.9 -43.7h0.4v0.4h-0.4z"/><path fill="#bdb7cf" d="M18.7 -42.5h0.4v0.4h-0.4z"/><path fill="#ded5b7" d="M-10.5 -42.9h2.4v0.4h-2.4z"/><path fill="#e1d2b7" d="M-8.1 -42.9h0.4v0.4h-0.4zM-6.9 -43.3h0.4v0.4h-0.4zM-6.5 -44.5h0.4v0.4h-0.4z"/><path fill="#e4cfb4" d="M-6.9 -42.9h0.4v0.4h-0.4zM-6.5 -43.3h0.4v0.4h-0.4z"/><path fill="#e7c9ae" d="M-6.5 -42.9h0.4v0.4h-0.4zM-6.1 -43.3h0.4v0.4h-0.4zM-4.9 -43.7h0.4v0.4h-0.4z"/><path fill="#eac3a8" d="M-6.1 -42.9h0.4v0.4h-0.4z"/><path fill="#eac0a5" d="M-5.7 -42.9h0.8v0.4h-0.8z"/><path fill="#eabda5" d="M-4.1 -42.9h0.4v0.4h-0.4z"/><path fill="#e7c3ab" d="M-3.7 -42.9h0.4v0.4h-0.4zM-4.9 -43.3h0.8v0.4h-0.8z"/><path fill="#e4c6ae" d="M-3.3 -42.9h0.8v0.4h-0.8zM-1.7 -42.9h0.8v0.4h-0.8zM0.7 -42.9h0.8v0.4h-0.8z"/><path fill="#e4c6b1" d="M-2.5 -42.9h0.4v0.4h-0.4zM2.3 -43.3h0.4v0.4h-0.4z"/><path fill="#e4c9b1" d="M-2.1 -42.9h0.4v0.4h-0.4zM-3.7 -43.3h0.4v0.4h-0.4zM-5.7 -43.7h0.4v0.4h-0.4z"/><path fill="#e4c6ab" d="M-0.9 -42.9h0.8v0.4h-0.8z"/><path fill="#e4c3ab" d="M-0.1 -42.9h0.8v0.4h-0.8zM1.5 -42.9h0.4v0.4h-0.4z"/><path fill="#e7c0a8" d="M1.9 -42.9h0.4v0.4h-0.4z"/><path fill="#e7c0ab" d="M3.1 -42.9h0.4v0.4h-0.4z"/><path fill="#e7c3ae" d="M3.9 -42.9h0.4v0.4h-0.4z"/><path fill="#e4c3b1" d="M4.7 -42.9h0.4v0.4h-0.4zM2.7 -43.3h0.4v0.4h-0.4zM3.5 -43.3h1.2v0.4h-1.2z"/><path fill="#e4c3b7" d="M7.1 -42.9h0.4v0.4h-0.4zM7.5 -43.7h0.4v0.4h-0.4z"/><path fill="#e1bdae" d="M7.5 -42.9h0.4v0.4h-0.4zM8.3 -43.7h0.4v0.4h-0.4z"/><path fill="#deb1a2" d="M7.9 -42.9h0.4v0.4h-0.4zM8.3 -43.3h0.4v0.4h-0.4z"/><path fill="#debdb1" d="M10.3 -42.9h0.4v0.4h-0.4z"/><path fill="#dec3b7" d="M10.7 -42.9h1.2v0.4h-1.2zM10.3 -43.3h0.4v0.4h-0.4zM9.9 -43.7h0.4v0.4h-0.4z"/><path fill="#d8c0ba" d="M14.7 -42.9h0.4v0.4h-0.4zM14.3 -43.3h0.4v0.4h-0.4z"/><path fill="#cfc0c6" d="M15.1 -42.9h0.4v0.4h-0.4z"/><path fill="#cfc0c9" d="M15.5 -42.9h0.4v0.4h-0.4z"/><path fill="#ccc0cc" d="M15.9 -42.9h0.8v0.4h-0.8z"/><path fill="#ccc0cf" d="M16.7 -42.9h0.4v0.4h-0.4zM15.5 -43.3h1.2v0.4h-1.2z"/><path fill="#c9bdcc" d="M17.1 -42.9h0.8v0.4h-0.8z"/><path fill="#c0bacf" d="M18.7 -42.9h0.4v0.4h-0.4zM18.3 -43.7h0.4v0.4h-0.4z"/><path fill="#dbd5b7" d="M-10.5 -43.3h2.4v0.4h-2.4z"/><path fill="#dbd5ba" d="M-8.1 -43.3h0.4v0.4h-0.4zM-8.1 -43.7h0.8v0.4h-0.8zM-8.1 -44.1h1.2v0.4h-1.2zM-8.1 -44.5h1.2v0.4h-1.2zM-8.1 -44.9h0.8v0.4h-0.8zM-8.1 -45.3h0.4v0.4h-0.4zM-8.5 -45.7h0.8v0.4h-0.8zM-8.5 -46.1h0.8v0.4h-0.8zM-7.3 -46.1h0.4v0.4h-0.4zM-8.5 -46.5h0.8v0.4h-0.8z"/><path fill="#ded5ba" d="M-7.7 -43.3h0.8v0.4h-0.8zM-7.3 -43.7h0.8v0.4h-0.8zM-6.9 -44.1h0.4v0.4h-0.4zM-6.9 -44.5h0.4v0.4h-0.4zM-6.9 -44.9h0.4v0.4h-0.4zM-6.9 -45.3h0.4v0.4h-0.4zM-6.9 -45.7h0.4v0.4h-0.4z"/><path fill="#e7c6ab" d="M-5.7 -43.3h0.8v0.4h-0.8z"/><path fill="#e7c6ae" d="M-4.1 -43.3h0.4v0.4h-0.4zM-4.5 -43.7h0.4v0.4h-0.4z"/><path fill="#e1ccb7" d="M-3.3 -43.3h0.4v0.4h-0.4zM-1.7 -43.3h0.4v0.4h-0.4z"/><path fill="#e1cfba" d="M-2.9 -43.3h1.2v0.4h-1.2z"/><path fill="#deccb4" d="M-1.3 -43.3h0.4v0.4h-0.4zM0.3 -43.3h0.8v0.4h-0.8z"/><path fill="#deccb1" d="M-0.9 -43.3h1.2v0.4h-1.2z"/><path fill="#e1ccb4" d="M1.1 -43.3h0.4v0.4h-0.4z"/><path fill="#e1c9b4" d="M1.5 -43.3h0.4v0.4h-0.4z"/><path fill="#e1c6b4" d="M1.9 -43.3h0.4v0.4h-0.4zM2.7 -43.7h0.4v0.4h-0.4zM4.3 -43.7h1.2v0.4h-1.2z"/><path fill="#e4c3ae" d="M3.1 -43.3h0.4v0.4h-0.4z"/><path fill="#e1c6b7" d="M6.3 -43.3h0.8v0.4h-0.8zM5.5 -43.7h0.4v0.4h-0.4zM6.7 -43.7h0.8v0.4h-0.8zM7.1 -44.1h0.8v0.4h-0.8z"/><path fill="#deae9f" d="M9.5 -43.3h0.4v0.4h-0.4z"/><path fill="#deb7ab" d="M9.9 -43.3h0.4v0.4h-0.4z"/><path fill="#dec6ba" d="M10.7 -43.3h1.6v0.4h-1.6zM12.3 -43.7h0.4v0.4h-0.4z"/><path fill="#ccc0c9" d="M14.7 -43.3h0.4v0.4h-0.4zM14.3 -43.7h0.4v0.4h-0.4z"/><path fill="#c9c0cf" d="M15.1 -43.3h0.4v0.4h-0.4z"/><path fill="#c9c0d2" d="M16.7 -43.3h0.4v0.4h-0.4zM15.5 -43.7h1.2v0.4h-1.2z"/><path fill="#c9bdcf" d="M17.1 -43.3h0.4v0.4h-0.4z"/><path fill="#c6bdcf" d="M17.5 -43.3h0.4v0.4h-0.4z"/><path fill="#c0b7cf" d="M18.7 -43.3h0.4v0.4h-0.4z"/><path fill="#d8d5b7" d="M-10.5 -43.7h2.4v0.4h-2.4zM-10.5 -44.1h2v0.4h-2zM-10.5 -44.5h2v0.4h-2zM-10.5 -44.9h2v0.4h-2zM-10.5 -45.3h2v0.4h-2zM-10.5 -45.7h1.6v0.4h-1.6zM-10.1 -46.1h1.2v0.4h-1.2z"/><path fill="#e1cfb7" d="M-6.5 -43.7h0.4v0.4h-0.4zM-6.5 -44.1h0.4v0.4h-0.4zM-6.5 -44.9h0.4v0.4h-0.4zM-6.5 -45.3h0.4v0.4h-0.4zM-6.5 -45.7h0.4v0.4h-0.4zM-6.5 -46.1h0.4v0.4h-0.4z"/><path fill="#e4ccb1" d="M-6.1 -43.7h0.4v0.4h-0.4zM-5.3 -44.1h0.4v0.4h-0.4z"/><path fill="#e7c9b1" d="M-5.3 -43.7h0.4v0.4h-0.4zM-4.1 -43.7h0.4v0.4h-0.4zM-4.9 -44.1h1.2v0.4h-1.2zM-4.9 -44.5h1.2v0.4h-1.2zM-4.9 -44.9h1.2v0.4h-1.2zM-4.9 -45.3h1.2v0.4h-1.2zM-4.9 -45.7h1.2v0.4h-1.2z"/><path fill="#e4ccb4" d="M-3.7 -43.7h0.4v0.4h-0.4zM-6.1 -44.1h0.8v0.4h-0.8zM-6.1 -44.5h1.2v0.4h-1.2zM-6.1 -44.9h1.2v0.4h-1.2zM-3.7 -44.9h0.4v0.4h-0.4zM-6.1 -45.3h1.2v0.4h-1.2zM-3.7 -45.3h0.4v0.4h-0.4zM-6.1 -45.7h1.2v0.4h-1.2z"/><path fill="#e1d2ba" d="M-3.3 -43.7h0.4v0.4h-0.4zM-3.3 -44.9h0.4v0.4h-0.4z"/><path fill="#ded2bd" d="M-2.9 -43.7h1.2v0.4h-1.2z"/><path fill="#dbcfb7" d="M-1.7 -43.7h0.4v0.4h-0.4zM1.1 -43.7h0.4v0.4h-0.4z"/><path fill="#dbccb4" d="M-1.3 -43.7h0.4v0.4h-0.4z"/><path fill="#d8ccb4" d="M-0.9 -43.7h1.2v0.4h-1.2z"/><path fill="#d8cfb4" d="M0.3 -43.7h0.4v0.4h-0.4z"/><path fill="#d8cfb7" d="M0.7 -43.7h0.4v0.4h-0.4zM1.1 -44.1h0.8v0.4h-0.8zM-8.1 -46.9h0.4v0.4h-0.4z"/><path fill="#deccb7" d="M1.5 -43.7h0.8v0.4h-0.8z"/><path fill="#dec9b4" d="M2.3 -43.7h0.4v0.4h-0.4zM3.5 -44.1h1.2v0.4h-1.2zM-6.1 -46.1h0.4v0.4h-0.4z"/><path fill="#e1c6b1" d="M3.1 -43.7h1.2v0.4h-1.2z"/><path fill="#e1c9b7" d="M5.9 -43.7h0.8v0.4h-0.8z"/><path fill="#e1c3b4" d="M7.9 -43.7h0.4v0.4h-0.4z"/><path fill="#deb4a5" d="M9.1 -43.7h0.4v0.4h-0.4z"/><path fill="#debaab" d="M9.5 -43.7h0.4v0.4h-0.4z"/><path fill="#dec9bd" d="M10.3 -43.7h1.6v0.4h-1.6zM9.9 -44.1h0.4v0.4h-0.4zM12.3 -44.1h0.4v0.4h-0.4z"/><path fill="#dec9ba" d="M11.9 -43.7h0.4v0.4h-0.4zM5.9 -44.1h1.2v0.4h-1.2zM12.7 -44.1h0.4v0.4h-0.4zM7.1 -44.5h1.2v0.4h-1.2z"/><path fill="#dbc6ba" d="M12.7 -43.7h0.4v0.4h-0.4zM13.1 -44.1h0.8v0.4h-0.8z"/><path fill="#d8c3ba" d="M13.9 -43.7h0.4v0.4h-0.4z"/><path fill="#c6c0d2" d="M14.7 -43.7h0.8v0.4h-0.8zM16.7 -43.7h0.4v0.4h-0.4zM15.5 -44.1h1.2v0.4h-1.2z"/><path fill="#c6bdd2" d="M17.1 -43.7h0.4v0.4h-0.4z"/><path fill="#c3bdd2" d="M17.5 -43.7h0.4v0.4h-0.4zM16.7 -44.1h0.4v0.4h-0.4z"/><path fill="#bdb7d2" d="M18.7 -43.7h0.4v0.4h-0.4z"/><path fill="#b7b7d2" d="M19.1 -43.7h0.4v0.4h-0.4z"/><path fill="#d8d5ba" d="M-8.5 -44.1h0.4v0.4h-0.4zM-8.5 -44.5h0.4v0.4h-0.4zM-8.5 -44.9h0.4v0.4h-0.4zM-8.5 -45.3h0.4v0.4h-0.4zM-8.9 -45.7h0.4v0.4h-0.4zM-8.9 -46.1h0.4v0.4h-0.4zM-8.9 -46.5h0.4v0.4h-0.4z"/><path fill="#e4ccb7" d="M-3.7 -44.1h0.4v0.4h-0.4zM-3.7 -44.5h0.4v0.4h-0.4z"/><path fill="#e1d2bd" d="M-3.3 -44.1h0.4v0.4h-0.4zM-3.3 -44.5h0.4v0.4h-0.4z"/><path fill="#ded5c0" d="M-2.9 -44.1h0.8v0.4h-0.8zM-2.9 -44.5h0.4v0.4h-0.4z"/><path fill="#dbd2ba" d="M-2.1 -44.1h0.4v0.4h-0.4z"/><path fill="#d5cfb4" d="M-1.7 -44.1h0.4v0.4h-0.4zM0.7 -44.1h0.4v0.4h-0.4z"/><path fill="#d2ccb1" d="M-1.3 -44.1h0.4v0.4h-0.4zM-0.5 -44.1h1.2v0.4h-1.2z"/><path fill="#d2ccae" d="M-0.9 -44.1h0.4v0.4h-0.4z"/><path fill="#dbccb7" d="M1.9 -44.1h0.8v0.4h-0.8z"/><path fill="#dbc9b4" d="M2.7 -44.1h0.8v0.4h-0.8z"/><path fill="#dec9b7" d="M4.7 -44.1h1.2v0.4h-1.2z"/><path fill="#e1c6ba" d="M7.9 -44.1h0.8v0.4h-0.8z"/><path fill="#dec6b7" d="M8.7 -44.1h0.4v0.4h-0.4zM9.5 -44.1h0.4v0.4h-0.4z"/><path fill="#dec3b4" d="M9.1 -44.1h0.4v0.4h-0.4z"/><path fill="#deccc0" d="M10.3 -44.1h0.8v0.4h-0.8zM11.5 -44.1h0.8v0.4h-0.8z"/><path fill="#deccbd" d="M11.1 -44.1h0.4v0.4h-0.4zM8.3 -44.5h1.2v0.4h-1.2zM13.1 -44.5h0.4v0.4h-0.4z"/><path fill="#d2c3c3" d="M13.9 -44.1h0.4v0.4h-0.4z"/><path fill="#c3c0d2" d="M14.3 -44.1h0.4v0.4h-0.4z"/><path fill="#c3c0d5" d="M14.7 -44.1h0.8v0.4h-0.8zM15.1 -44.5h1.6v0.4h-1.6zM16.3 -44.9h0.4v0.4h-0.4z"/><path fill="#c0bdd5" d="M17.1 -44.1h0.4v0.4h-0.4zM16.7 -44.5h0.4v0.4h-0.4zM16.7 -44.9h0.4v0.4h-0.4z"/><path fill="#bdbdd5" d="M17.5 -44.1h0.4v0.4h-0.4zM17.1 -44.5h0.4v0.4h-0.4zM17.1 -44.9h0.4v0.4h-0.4zM17.1 -45.3h0.4v0.4h-0.4zM17.1 -45.7h0.4v0.4h-0.4zM17.1 -46.1h0.4v0.4h-0.4zM17.5 -46.5h0.4v0.4h-0.4z"/><path fill="#bdbad2" d="M17.9 -44.1h0.4v0.4h-0.4z"/><path fill="#dbd2bd" d="M-2.5 -44.5h0.4v0.4h-0.4zM-2.9 -44.9h0.4v0.4h-0.4z"/><path fill="#d5ccb4" d="M-2.1 -44.5h0.4v0.4h-0.4zM1.5 -44.5h0.4v0.4h-0.4zM2.3 -44.5h0.4v0.4h-0.4z"/><path fill="#cfc9ae" d="M-1.7 -44.5h0.4v0.4h-0.4z"/><path fill="#cfc9ab" d="M-1.3 -44.5h1.2v0.4h-1.2z"/><path fill="#cfccae" d="M-0.1 -44.5h0.8v0.4h-0.8z"/><path fill="#cfccb1" d="M0.7 -44.5h0.4v0.4h-0.4z"/><path fill="#d2ccb4" d="M1.1 -44.5h0.4v0.4h-0.4zM-2.5 -44.9h0.4v0.4h-0.4z"/><path fill="#d5ccb7" d="M1.9 -44.5h0.4v0.4h-0.4z"/><path fill="#d5c9b4" d="M2.7 -44.5h0.8v0.4h-0.8z"/><path fill="#d8c9b7" d="M3.5 -44.5h0.4v0.4h-0.4zM4.3 -44.5h0.4v0.4h-0.4z"/><path fill="#dbc9b7" d="M3.9 -44.5h0.4v0.4h-0.4z"/><path fill="#d8ccb7" d="M4.7 -44.5h0.8v0.4h-0.8z"/><path fill="#d8ccba" d="M5.5 -44.5h0.4v0.4h-0.4zM7.1 -44.9h0.4v0.4h-0.4z"/><path fill="#dbccba" d="M5.9 -44.5h1.2v0.4h-1.2zM7.5 -44.9h0.4v0.4h-0.4z"/><path fill="#decfbd" d="M9.5 -44.5h0.4v0.4h-0.4z"/><path fill="#decfc0" d="M9.9 -44.5h3.2v0.4h-3.2z"/><path fill="#d8c9c0" d="M13.5 -44.5h0.4v0.4h-0.4z"/><path fill="#cfc9cc" d="M13.9 -44.5h0.4v0.4h-0.4z"/><path fill="#c6c3d2" d="M14.3 -44.5h0.4v0.4h-0.4z"/><path fill="#c3c3d5" d="M14.7 -44.5h0.4v0.4h-0.4zM15.1 -44.9h1.2v0.4h-1.2zM16.3 -45.3h0.4v0.4h-0.4z"/><path fill="#bdbad5" d="M17.5 -44.5h0.4v0.4h-0.4z"/><path fill="#bab7d5" d="M17.9 -44.5h0.4v0.4h-0.4z"/><path fill="#b7b7d5" d="M18.3 -44.5h0.4v0.4h-0.4zM17.9 -44.9h0.8v0.4h-0.8zM17.9 -45.3h0.8v0.4h-0.8zM17.9 -45.7h1.2v0.4h-1.2zM18.3 -46.1h1.6v0.4h-1.6zM18.7 -46.5h2v0.4h-2zM18.7 -46.9h2v0.4h-2zM19.5 -47.3h1.2v0.4h-1.2zM19.9 -47.7h0.8v0.4h-0.8z"/><path fill="#dbd5bd" d="M-7.3 -44.9h0.4v0.4h-0.4zM-7.7 -45.3h0.8v0.4h-0.8zM-7.7 -45.7h0.8v0.4h-0.8zM-7.7 -46.1h0.4v0.4h-0.4zM-7.7 -46.5h0.4v0.4h-0.4z"/><path fill="#ccc9ab" d="M-2.1 -44.9h0.4v0.4h-0.4z"/><path fill="#ccc6a8" d="M-1.7 -44.9h1.2v0.4h-1.2z"/><path fill="#ccc6ab" d="M-0.5 -44.9h1.2v0.4h-1.2z"/><path fill="#ccc6ae" d="M0.7 -44.9h0.4v0.4h-0.4z"/><path fill="#ccc9ae" d="M1.1 -44.9h0.4v0.4h-0.4z"/><path fill="#cfc9b1" d="M1.5 -44.9h0.4v0.4h-0.4z"/><path fill="#cfc9b4" d="M1.9 -44.9h1.6v0.4h-1.6z"/><path fill="#d2c9b7" d="M3.5 -44.9h0.4v0.4h-0.4z"/><path fill="#d5c9b7" d="M3.9 -44.9h0.4v0.4h-0.4z"/><path fill="#d2ccb7" d="M4.3 -44.9h0.8v0.4h-0.8z"/><path fill="#d2ccba" d="M5.1 -44.9h0.4v0.4h-0.4zM6.3 -45.3h1.2v0.4h-1.2zM9.5 -46.5h0.4v0.4h-0.4zM13.1 -47.3h0.4v0.4h-0.4z"/><path fill="#d5ccba" d="M5.5 -44.9h1.6v0.4h-1.6z"/><path fill="#dbccbd" d="M7.9 -44.9h0.4v0.4h-0.4z"/><path fill="#dbccc0" d="M8.3 -44.9h0.4v0.4h-0.4z"/><path fill="#dbcfc0" d="M8.7 -44.9h0.4v0.4h-0.4z"/><path fill="#dbd2c0" d="M9.1 -44.9h1.2v0.4h-1.2zM13.1 -44.9h0.4v0.4h-0.4z"/><path fill="#ded2c0" d="M10.3 -44.9h1.2v0.4h-1.2z"/><path fill="#ded2c3" d="M11.5 -44.9h1.6v0.4h-1.6z"/><path fill="#d8d2c3" d="M13.5 -44.9h0.4v0.4h-0.4z"/><path fill="#d2cfc9" d="M13.9 -44.9h0.4v0.4h-0.4zM14.3 -45.7h0.4v0.4h-0.4zM14.7 -46.1h0.4v0.4h-0.4z"/><path fill="#ccc9cf" d="M14.3 -44.9h0.4v0.4h-0.4zM14.7 -45.3h0.4v0.4h-0.4z"/><path fill="#c6c6d2" d="M14.7 -44.9h0.4v0.4h-0.4zM15.5 -45.3h0.4v0.4h-0.4zM15.9 -45.7h0.4v0.4h-0.4zM16.3 -46.1h0.4v0.4h-0.4z"/><path fill="#babad5" d="M17.5 -44.9h0.4v0.4h-0.4zM17.5 -45.3h0.4v0.4h-0.4zM17.5 -45.7h0.4v0.4h-0.4zM17.5 -46.1h0.8v0.4h-0.8zM17.9 -46.5h0.8v0.4h-0.8zM17.9 -46.9h0.8v0.4h-0.8zM19.1 -47.3h0.4v0.4h-0.4zM19.5 -47.7h0.4v0.4h-0.4zM20.3 -48.1h0.4v0.4h-0.4z"/><path fill="#decfb7" d="M-3.3 -45.3h0.4v0.4h-0.4z"/><path fill="#d2c9b1" d="M-2.9 -45.3h0.4v0.4h-0.4z"/><path fill="#c9c6ab" d="M-2.5 -45.3h0.4v0.4h-0.4zM-0.1 -45.3h0.4v0.4h-0.4z"/><path fill="#c9c6a8" d="M-2.1 -45.3h2v0.4h-2z"/><path fill="#c9c3ab" d="M0.3 -45.3h1.2v0.4h-1.2z"/><path fill="#c9c6ae" d="M1.5 -45.3h0.4v0.4h-0.4z"/><path fill="#c9c6b1" d="M1.9 -45.3h1.6v0.4h-1.6z"/><path fill="#ccc6b4" d="M3.5 -45.3h0.4v0.4h-0.4z"/><path fill="#cfc9b7" d="M3.9 -45.3h0.8v0.4h-0.8z"/><path fill="#ccc9b7" d="M4.7 -45.3h0.8v0.4h-0.8zM5.9 -45.7h0.4v0.4h-0.4zM8.3 -46.9h0.4v0.4h-0.4zM9.1 -47.3h1.2v0.4h-1.2zM11.1 -47.7h2.4v0.4h-2.4z"/><path fill="#cfccba" d="M5.5 -45.3h0.8v0.4h-0.8zM6.7 -45.7h0.8v0.4h-0.8zM7.9 -46.5h1.6v0.4h-1.6zM9.5 -46.9h1.2v0.4h-1.2zM11.1 -47.3h1.2v0.4h-1.2zM12.7 -47.3h0.4v0.4h-0.4zM13.5 -47.7h0.8v0.4h-0.8z"/><path fill="#d5ccbd" d="M7.5 -45.3h0.4v0.4h-0.4z"/><path fill="#d8cfbd" d="M7.9 -45.3h0.4v0.4h-0.4z"/><path fill="#d8cfc0" d="M8.3 -45.3h0.8v0.4h-0.8z"/><path fill="#d8d2c0" d="M9.1 -45.3h0.8v0.4h-0.8zM13.1 -46.5h0.4v0.4h-0.4z"/><path fill="#dbd5c0" d="M9.9 -45.3h1.6v0.4h-1.6zM10.3 -45.7h2.8v0.4h-2.8z"/><path fill="#ded5c3" d="M11.5 -45.3h1.2v0.4h-1.2z"/><path fill="#dbd5c3" d="M12.7 -45.3h0.4v0.4h-0.4z"/><path fill="#d8d5c3" d="M13.1 -45.3h0.4v0.4h-0.4z"/><path fill="#d5d2c3" d="M13.5 -45.3h0.4v0.4h-0.4zM13.5 -45.7h0.4v0.4h-0.4zM13.5 -46.1h0.4v0.4h-0.4zM13.9 -46.5h0.4v0.4h-0.4z"/><path fill="#d2d2c6" d="M13.9 -45.3h0.4v0.4h-0.4zM14.3 -46.1h0.4v0.4h-0.4z"/><path fill="#cfcfc9" d="M14.3 -45.3h0.4v0.4h-0.4zM15.1 -46.5h0.4v0.4h-0.4z"/><path fill="#c9c6d2" d="M15.1 -45.3h0.4v0.4h-0.4z"/><path fill="#c6c6d5" d="M15.9 -45.3h0.4v0.4h-0.4zM16.3 -45.7h0.4v0.4h-0.4z"/><path fill="#c0c0d5" d="M16.7 -45.3h0.4v0.4h-0.4zM16.7 -45.7h0.4v0.4h-0.4z"/><path fill="#dec6b1" d="M-3.7 -45.7h0.4v0.4h-0.4z"/><path fill="#c9c3ae" d="M-3.3 -45.7h0.4v0.4h-0.4zM-6.9 -46.5h0.4v0.4h-0.4z"/><path fill="#c6c0ab" d="M-2.9 -45.7h0.4v0.4h-0.4zM-7.7 -46.9h0.4v0.4h-0.4z"/><path fill="#c6c3a8" d="M-2.5 -45.7h2.8v0.4h-2.8z"/><path fill="#c3c0ab" d="M0.3 -45.7h1.6v0.4h-1.6z"/><path fill="#c3c0ae" d="M1.9 -45.7h1.6v0.4h-1.6z"/><path fill="#c6c3ae" d="M3.5 -45.7h0.4v0.4h-0.4z"/><path fill="#c6c3b1" d="M3.9 -45.7h0.4v0.4h-0.4z"/><path fill="#c9c6b4" d="M4.3 -45.7h1.2v0.4h-1.2zM11.5 -48.1h0.4v0.4h-0.4z"/><path fill="#c9c9b7" d="M5.5 -45.7h0.4v0.4h-0.4zM10.7 -47.7h0.4v0.4h-0.4z"/><path fill="#ccc9ba" d="M6.3 -45.7h0.4v0.4h-0.4zM6.7 -46.1h0.8v0.4h-0.8zM7.5 -46.5h0.4v0.4h-0.4zM13.9 -48.1h1.2v0.4h-1.2z"/><path fill="#d2ccbd" d="M7.5 -45.7h0.4v0.4h-0.4z"/><path fill="#d5cfbd" d="M7.9 -45.7h0.4v0.4h-0.4zM8.3 -46.1h0.4v0.4h-0.4zM9.5 -46.1h0.4v0.4h-0.4zM10.7 -46.5h0.4v0.4h-0.4z"/><path fill="#d5cfc0" d="M8.3 -45.7h0.4v0.4h-0.4z"/><path fill="#d5d2bd" d="M8.7 -45.7h0.8v0.4h-0.8zM9.9 -46.1h0.4v0.4h-0.4zM11.1 -46.5h2v0.4h-2zM13.1 -46.9h0.4v0.4h-0.4z"/><path fill="#d8d2bd" d="M9.5 -45.7h0.4v0.4h-0.4zM10.3 -46.1h0.4v0.4h-0.4zM11.1 -46.1h0.8v0.4h-0.8z"/><path fill="#d8d5c0" d="M9.9 -45.7h0.4v0.4h-0.4zM13.1 -45.7h0.4v0.4h-0.4zM11.9 -46.1h1.6v0.4h-1.6z"/><path fill="#d5d2c6" d="M13.9 -45.7h0.4v0.4h-0.4zM13.9 -46.1h0.4v0.4h-0.4z"/><path fill="#cfcfcc" d="M14.7 -45.7h0.4v0.4h-0.4z"/><path fill="#cccccf" d="M15.1 -45.7h0.4v0.4h-0.4z"/><path fill="#c9c9d2" d="M15.5 -45.7h0.4v0.4h-0.4z"/><path fill="#d8d2b7" d="M-10.5 -46.1h0.4v0.4h-0.4zM-9.7 -46.5h0.8v0.4h-0.8z"/><path fill="#ded2ba" d="M-6.9 -46.1h0.4v0.4h-0.4z"/><path fill="#d5c6ae" d="M-5.7 -46.1h0.4v0.4h-0.4z"/><path fill="#ccc0ab" d="M-5.3 -46.1h0.4v0.4h-0.4z"/><path fill="#c9bdab" d="M-4.9 -46.1h0.4v0.4h-0.4z"/><path fill="#c6bda8" d="M-4.5 -46.1h0.4v0.4h-0.4z"/><path fill="#c0baa8" d="M-4.1 -46.1h0.4v0.4h-0.4z"/><path fill="#bdbaa8" d="M-3.7 -46.1h0.8v0.4h-0.8zM-6.5 -46.5h0.4v0.4h-0.4zM-3.3 -46.5h0.8v0.4h-0.8zM-2.9 -46.9h1.2v0.4h-1.2zM-0.5 -46.9h1.6v0.4h-1.6zM-2.5 -47.3h2v0.4h-2zM-2.5 -47.7h1.6v0.4h-1.6z"/><path fill="#c0bda8" d="M-2.9 -46.1h0.8v0.4h-0.8zM-2.1 -46.5h0.8v0.4h-0.8zM-0.9 -46.5h1.2v0.4h-1.2zM-1.7 -46.9h0.4v0.4h-0.4zM-0.9 -46.9h0.4v0.4h-0.4z"/><path fill="#c3c0a8" d="M-2.1 -46.1h2.4v0.4h-2.4z"/><path fill="#c0bdab" d="M0.3 -46.1h3.6v0.4h-3.6zM-1.3 -46.5h0.4v0.4h-0.4zM-1.3 -46.9h0.4v0.4h-0.4z"/><path fill="#c0bdae" d="M3.9 -46.1h0.4v0.4h-0.4zM4.3 -46.5h0.4v0.4h-0.4zM5.1 -46.9h0.4v0.4h-0.4zM9.9 -48.9h0.4v0.4h-0.4z"/><path fill="#c3c0b1" d="M4.3 -46.1h0.4v0.4h-0.4zM5.1 -46.5h0.8v0.4h-0.8zM9.1 -48.1h0.4v0.4h-0.4zM10.7 -48.5h0.8v0.4h-0.8z"/><path fill="#c3c3b1" d="M4.7 -46.1h0.4v0.4h-0.4z"/><path fill="#c6c3b4" d="M5.1 -46.1h0.8v0.4h-0.8zM6.3 -46.5h0.4v0.4h-0.4zM7.1 -46.9h0.4v0.4h-0.4zM7.9 -47.3h0.4v0.4h-0.4zM8.7 -47.7h0.4v0.4h-0.4zM9.9 -48.1h1.6v0.4h-1.6zM11.9 -48.5h1.2v0.4h-1.2z"/><path fill="#c9c6b7" d="M5.9 -46.1h0.8v0.4h-0.8zM7.1 -46.5h0.4v0.4h-0.4zM7.9 -46.9h0.4v0.4h-0.4zM8.3 -47.3h0.4v0.4h-0.4zM9.1 -47.7h1.6v0.4h-1.6zM11.9 -48.1h1.6v0.4h-1.6zM13.5 -48.5h0.8v0.4h-0.8z"/><path fill="#cfccbd" d="M7.5 -46.1h0.4v0.4h-0.4zM14.3 -47.7h0.8v0.4h-0.8z"/><path fill="#d2cfbd" d="M7.9 -46.1h0.4v0.4h-0.4zM8.7 -46.1h0.8v0.4h-0.8zM13.5 -47.3h0.4v0.4h-0.4z"/><path fill="#d8d5bd" d="M10.7 -46.1h0.4v0.4h-0.4z"/><path fill="#cfcccc" d="M15.1 -46.1h0.4v0.4h-0.4z"/><path fill="#cccccc" d="M15.5 -46.1h0.4v0.4h-0.4z"/><path fill="#c9c9cf" d="M15.9 -46.1h0.4v0.4h-0.4z"/><path fill="#c0c0d2" d="M16.7 -46.1h0.4v0.4h-0.4zM16.7 -46.5h0.4v0.4h-0.4zM17.1 -46.9h0.4v0.4h-0.4zM17.5 -47.3h0.4v0.4h-0.4z"/><path fill="#dbbda2" d="M-10.5 -46.5h0.4v0.4h-0.4z"/><path fill="#dbccb1" d="M-10.1 -46.5h0.4v0.4h-0.4z"/><path fill="#d8d2ba" d="M-7.3 -46.5h0.4v0.4h-0.4z"/><path fill="#bab7a5" d="M-6.1 -46.5h2.4v0.4h-2.4zM-6.9 -46.9h3.2v0.4h-3.2zM-7.7 -47.3h4.4v0.4h-4.4zM-8.1 -47.7h4.8v0.4h-4.8zM-8.1 -48.1h5.2v0.4h-5.2zM-8.1 -48.5h5.6v0.4h-5.6zM-8.1 -48.9h6v0.4h-6zM-8.1 -49.3h5.6v0.4h-5.6zM-7.7 -49.7h4.8v0.4h-4.8zM-7.7 -50.1h4.8v0.4h-4.8zM-7.7 -50.5h4.4v0.4h-4.4z"/><path fill="#babaa8" d="M-3.7 -46.5h0.4v0.4h-0.4zM-7.3 -46.9h0.4v0.4h-0.4zM-3.7 -46.9h0.8v0.4h-0.8zM1.1 -46.9h0.4v0.4h-0.4zM-3.3 -47.3h0.8v0.4h-0.8zM-3.3 -47.7h0.8v0.4h-0.8zM-2.9 -48.1h1.6v0.4h-1.6z"/><path fill="#bdbda8" d="M-2.5 -46.5h0.4v0.4h-0.4z"/><path fill="#bdbdab" d="M0.3 -46.5h0.8v0.4h-0.8z"/><path fill="#bdbaab" d="M1.1 -46.5h0.8v0.4h-0.8zM2.7 -46.5h0.4v0.4h-0.4z"/><path fill="#babaab" d="M1.9 -46.5h0.8v0.4h-0.8zM3.1 -46.5h1.2v0.4h-1.2zM4.3 -46.9h0.4v0.4h-0.4z"/><path fill="#c0c0b1" d="M4.7 -46.5h0.4v0.4h-0.4zM5.9 -46.9h0.4v0.4h-0.4zM6.7 -47.7h0.4v0.4h-0.4zM7.1 -48.1h0.4v0.4h-0.4zM10.3 -48.5h0.4v0.4h-0.4zM11.5 -49.3h0.4v0.4h-0.4z"/><path fill="#c3c3b4" d="M5.9 -46.5h0.4v0.4h-0.4zM6.7 -46.9h0.4v0.4h-0.4zM7.1 -47.3h0.8v0.4h-0.8zM9.5 -48.1h0.4v0.4h-0.4zM11.5 -48.5h0.4v0.4h-0.4zM12.3 -48.9h0.8v0.4h-0.8z"/><path fill="#c6c6b7" d="M6.7 -46.5h0.4v0.4h-0.4zM13.9 -48.9h0.8v0.4h-0.8z"/><path fill="#d2cfba" d="M9.9 -46.5h0.8v0.4h-0.8zM10.7 -46.9h2.4v0.4h-2.4z"/><path fill="#d5d2c0" d="M13.5 -46.5h0.4v0.4h-0.4zM13.5 -46.9h0.4v0.4h-0.4z"/><path fill="#d2cfc6" d="M14.3 -46.5h0.8v0.4h-0.8z"/><path fill="#cfccc9" d="M15.5 -46.5h0.4v0.4h-0.4zM15.5 -46.9h0.4v0.4h-0.4z"/><path fill="#ccc9cc" d="M15.9 -46.5h0.4v0.4h-0.4z"/><path fill="#c6c6cf" d="M16.3 -46.5h0.4v0.4h-0.4z"/><path fill="#bdbdd2" d="M17.1 -46.5h0.4v0.4h-0.4zM17.5 -46.9h0.4v0.4h-0.4zM17.9 -47.3h0.4v0.4h-0.4zM18.7 -47.7h0.4v0.4h-0.4zM19.1 -48.1h0.4v0.4h-0.4zM19.5 -48.5h0.8v0.4h-0.8z"/><path fill="#deb79c" d="M-10.5 -46.9h0.4v0.4h-0.4z"/><path fill="#dbb79f" d="M-10.1 -46.9h0.4v0.4h-0.4zM-9.3 -47.3h0.8v0.4h-0.8zM-9.3 -47.7h0.8v0.4h-0.8zM-9.3 -48.1h0.4v0.4h-0.4z"/><path fill="#dbbaa2" d="M-9.7 -46.9h0.4v0.4h-0.4z"/><path fill="#dbc3a8" d="M-9.3 -46.9h0.4v0.4h-0.4z"/><path fill="#dbc9ae" d="M-8.9 -46.9h0.4v0.4h-0.4z"/><path fill="#dbcfb4" d="M-8.5 -46.9h0.4v0.4h-0.4z"/><path fill="#b7b7a8" d="M1.5 -46.9h1.2v0.4h-1.2zM1.1 -47.3h0.4v0.4h-0.4zM-0.1 -47.7h0.4v0.4h-0.4zM-0.5 -48.1h0.4v0.4h-0.4zM-1.7 -48.5h0.8v0.4h-0.8z"/><path fill="#bab7ab" d="M2.7 -46.9h0.8v0.4h-0.8zM4.7 -47.3h0.4v0.4h-0.4zM6.7 -48.5h0.4v0.4h-0.4zM7.5 -48.9h0.4v0.4h-0.4zM7.9 -49.3h1.2v0.4h-1.2zM8.3 -49.7h1.2v0.4h-1.2zM8.7 -50.1h0.8v0.4h-0.8zM8.7 -50.5h0.8v0.4h-0.8z"/><path fill="#b7b7ab" d="M3.5 -46.9h0.8v0.4h-0.8zM4.3 -47.3h0.4v0.4h-0.4zM6.3 -48.5h0.4v0.4h-0.4zM7.1 -48.9h0.4v0.4h-0.4zM7.5 -49.3h0.4v0.4h-0.4zM7.9 -49.7h0.4v0.4h-0.4zM7.9 -50.1h0.8v0.4h-0.8zM7.9 -50.5h0.8v0.4h-0.8z"/><path fill="#bdbdae" d="M4.7 -46.9h0.4v0.4h-0.4zM9.1 -48.5h0.4v0.4h-0.4zM10.3 -49.3h0.4v0.4h-0.4zM10.7 -50.1h0.4v0.4h-0.4z"/><path fill="#c0bdb1" d="M5.5 -46.9h0.4v0.4h-0.4zM6.3 -47.3h0.4v0.4h-0.4zM6.7 -48.1h0.4v0.4h-0.4zM7.5 -48.1h1.6v0.4h-1.6zM9.5 -48.5h0.8v0.4h-0.8zM10.3 -48.9h1.2v0.4h-1.2zM10.7 -49.3h0.8v0.4h-0.8zM11.1 -49.7h1.2v0.4h-1.2zM11.1 -50.1h1.6v0.4h-1.6zM11.1 -50.5h1.6v0.4h-1.6z"/><path fill="#c3c0b4" d="M6.3 -46.9h0.4v0.4h-0.4zM6.7 -47.3h0.4v0.4h-0.4zM7.1 -47.7h1.6v0.4h-1.6zM11.5 -48.9h0.8v0.4h-0.8zM12.3 -49.3h0.8v0.4h-0.8zM12.7 -49.7h0.4v0.4h-0.4zM12.7 -50.1h0.4v0.4h-0.4z"/><path fill="#c6c3b7" d="M7.5 -46.9h0.4v0.4h-0.4zM13.1 -48.5h0.4v0.4h-0.4zM13.1 -48.9h0.8v0.4h-0.8zM13.5 -49.3h1.2v0.4h-1.2zM14.3 -49.7h0.4v0.4h-0.4z"/><path fill="#cfc9ba" d="M8.7 -46.9h0.8v0.4h-0.8z"/><path fill="#d2cfc0" d="M13.9 -46.9h0.4v0.4h-0.4z"/><path fill="#d2cfc3" d="M14.3 -46.9h0.4v0.4h-0.4z"/><path fill="#cfcfc3" d="M14.7 -46.9h0.4v0.4h-0.4z"/><path fill="#cfcfc6" d="M15.1 -46.9h0.4v0.4h-0.4z"/><path fill="#ccccc9" d="M15.9 -46.9h0.4v0.4h-0.4z"/><path fill="#c9c9cc" d="M16.3 -46.9h0.4v0.4h-0.4zM17.9 -48.5h0.4v0.4h-0.4zM18.3 -48.9h0.4v0.4h-0.4z"/><path fill="#c3c3cf" d="M16.7 -46.9h0.4v0.4h-0.4zM17.1 -47.3h0.4v0.4h-0.4zM17.9 -47.7h0.4v0.4h-0.4zM18.7 -48.1h0.4v0.4h-0.4zM19.5 -48.9h0.4v0.4h-0.4z"/><path fill="#dbb49c" d="M-10.5 -47.3h0.8v0.4h-0.8zM-10.5 -47.7h0.8v0.4h-0.8zM-10.5 -48.1h1.2v0.4h-1.2zM-10.5 -48.5h0.8v0.4h-0.8zM-10.5 -48.9h0.4v0.4h-0.4z"/><path fill="#dbb79c" d="M-9.7 -47.3h0.4v0.4h-0.4zM-9.7 -47.7h0.4v0.4h-0.4z"/><path fill="#d8b79f" d="M-8.5 -47.3h0.4v0.4h-0.4zM-8.9 -48.1h0.4v0.4h-0.4zM-8.9 -48.5h0.4v0.4h-0.4zM-8.9 -48.9h0.4v0.4h-0.4zM-8.9 -49.3h0.4v0.4h-0.4z"/><path fill="#c0b7a5" d="M-8.1 -47.3h0.4v0.4h-0.4zM-8.1 -50.1h0.4v0.4h-0.4z"/><path fill="#bab7a8" d="M-0.5 -47.3h1.6v0.4h-1.6zM-0.9 -47.7h0.8v0.4h-0.8zM-1.3 -48.1h0.8v0.4h-0.8zM-2.5 -48.5h0.8v0.4h-0.8z"/><path fill="#b7b4a8" d="M1.5 -47.3h0.4v0.4h-0.4zM2.7 -47.3h0.4v0.4h-0.4zM0.3 -47.7h0.4v0.4h-0.4zM-0.1 -48.1h0.4v0.4h-0.4zM-0.9 -48.5h0.4v0.4h-0.4zM6.3 -48.9h0.8v0.4h-0.8zM6.7 -49.3h0.8v0.4h-0.8zM6.7 -49.7h1.2v0.4h-1.2zM6.7 -50.1h1.2v0.4h-1.2zM6.7 -50.5h1.2v0.4h-1.2z"/><path fill="#b4b4a8" d="M1.9 -47.3h0.8v0.4h-0.8zM0.7 -47.7h1.2v0.4h-1.2zM3.5 -47.7h0.4v0.4h-0.4zM-0.5 -48.5h0.4v0.4h-0.4zM6.3 -49.3h0.4v0.4h-0.4zM6.3 -49.7h0.4v0.4h-0.4zM6.3 -50.1h0.4v0.4h-0.4zM6.3 -50.5h0.4v0.4h-0.4z"/><path fill="#b7b4ab" d="M3.1 -47.3h1.2v0.4h-1.2zM5.1 -47.7h0.4v0.4h-0.4zM5.5 -48.1h0.4v0.4h-0.4zM5.9 -48.5h0.4v0.4h-0.4z"/><path fill="#babaae" d="M5.1 -47.3h0.4v0.4h-0.4zM5.9 -47.7h0.4v0.4h-0.4zM6.3 -48.1h0.4v0.4h-0.4zM7.9 -48.9h1.2v0.4h-1.2zM9.1 -49.3h0.4v0.4h-0.4zM9.5 -50.1h0.4v0.4h-0.4zM9.5 -50.5h0.4v0.4h-0.4z"/><path fill="#bdbaae" d="M5.5 -47.3h0.4v0.4h-0.4zM7.1 -48.5h2v0.4h-2zM9.1 -48.9h0.8v0.4h-0.8zM9.5 -49.3h0.8v0.4h-0.8zM9.5 -49.7h1.2v0.4h-1.2zM9.9 -50.1h0.8v0.4h-0.8zM9.9 -50.5h1.2v0.4h-1.2z"/><path fill="#bdbdb1" d="M5.9 -47.3h0.4v0.4h-0.4zM6.3 -47.7h0.4v0.4h-0.4zM10.7 -49.7h0.4v0.4h-0.4z"/><path fill="#ccc6b7" d="M8.7 -47.3h0.4v0.4h-0.4z"/><path fill="#ccccb7" d="M10.3 -47.3h0.4v0.4h-0.4z"/><path fill="#cfccb7" d="M10.7 -47.3h0.4v0.4h-0.4zM12.3 -47.3h0.4v0.4h-0.4z"/><path fill="#cfcfbd" d="M13.9 -47.3h0.8v0.4h-0.8z"/><path fill="#cfccc0" d="M14.7 -47.3h0.4v0.4h-0.4z"/><path fill="#cfccc3" d="M15.1 -47.3h0.4v0.4h-0.4z"/><path fill="#cfccc6" d="M15.5 -47.3h0.4v0.4h-0.4z"/><path fill="#ccccc6" d="M15.9 -47.3h0.4v0.4h-0.4zM15.9 -47.7h0.8v0.4h-0.8z"/><path fill="#c9c9c9" d="M16.3 -47.3h0.4v0.4h-0.4zM17.5 -48.5h0.4v0.4h-0.4zM17.9 -48.9h0.4v0.4h-0.4zM17.9 -49.3h0.8v0.4h-0.8z"/><path fill="#c6c6cc" d="M16.7 -47.3h0.4v0.4h-0.4zM17.9 -48.1h0.8v0.4h-0.8zM18.3 -48.5h0.8v0.4h-0.8zM18.7 -48.9h0.4v0.4h-0.4zM19.1 -49.3h0.4v0.4h-0.4zM19.1 -49.7h0.4v0.4h-0.4z"/><path fill="#babad2" d="M18.3 -47.3h0.8v0.4h-0.8zM19.1 -47.7h0.4v0.4h-0.4zM19.5 -48.1h0.8v0.4h-0.8zM20.3 -48.5h0.4v0.4h-0.4z"/><path fill="#cfb7a2" d="M-8.5 -47.7h0.4v0.4h-0.4zM-8.5 -49.7h0.4v0.4h-0.4z"/><path fill="#b4b1a8" d="M1.9 -47.7h0.8v0.4h-0.8zM3.1 -47.7h0.4v0.4h-0.4zM0.3 -48.1h0.4v0.4h-0.4zM-0.1 -48.5h0.4v0.4h-0.4zM5.5 -48.5h0.4v0.4h-0.4zM5.9 -48.9h0.4v0.4h-0.4zM5.9 -49.3h0.4v0.4h-0.4z"/><path fill="#b1b1a8" d="M2.7 -47.7h0.4v0.4h-0.4zM0.7 -48.1h1.6v0.4h-1.6zM3.5 -48.1h1.6v0.4h-1.6zM0.3 -48.5h0.4v0.4h-0.4zM5.1 -48.5h0.4v0.4h-0.4zM5.9 -49.7h0.4v0.4h-0.4zM5.9 -50.1h0.4v0.4h-0.4zM5.9 -50.5h0.4v0.4h-0.4z"/><path fill="#b4b4ab" d="M3.9 -47.7h1.2v0.4h-1.2z"/><path fill="#bab7ae" d="M5.5 -47.7h0.4v0.4h-0.4zM5.9 -48.1h0.4v0.4h-0.4z"/><path fill="#ccccc0" d="M15.1 -47.7h0.4v0.4h-0.4z"/><path fill="#ccccc3" d="M15.5 -47.7h0.4v0.4h-0.4zM15.9 -48.1h0.8v0.4h-0.8z"/><path fill="#c9c9c6" d="M16.7 -47.7h0.4v0.4h-0.4zM17.1 -48.1h0.4v0.4h-0.4zM17.5 -48.9h0.4v0.4h-0.4zM17.5 -49.3h0.4v0.4h-0.4zM17.5 -49.7h0.8v0.4h-0.8zM17.5 -50.1h0.8v0.4h-0.8zM17.5 -50.5h0.8v0.4h-0.8z"/><path fill="#c6c6c9" d="M17.1 -47.7h0.4v0.4h-0.4zM17.5 -48.1h0.4v0.4h-0.4zM18.7 -49.3h0.4v0.4h-0.4zM18.3 -49.7h0.8v0.4h-0.8zM18.7 -50.1h0.4v0.4h-0.4zM18.7 -50.5h0.4v0.4h-0.4z"/><path fill="#c3c3cc" d="M17.5 -47.7h0.4v0.4h-0.4zM19.1 -48.9h0.4v0.4h-0.4zM19.5 -49.3h1.2v0.4h-1.2zM19.5 -49.7h1.2v0.4h-1.2zM19.1 -50.1h1.6v0.4h-1.6zM19.1 -50.5h1.6v0.4h-1.6z"/><path fill="#c0c0cf" d="M18.3 -47.7h0.4v0.4h-0.4zM19.1 -48.5h0.4v0.4h-0.4zM19.9 -48.9h0.8v0.4h-0.8z"/><path fill="#c9b7a2" d="M-8.5 -48.1h0.4v0.4h-0.4zM-8.5 -49.3h0.4v0.4h-0.4zM-8.1 -50.5h0.4v0.4h-0.4z"/><path fill="#b1aea8" d="M2.3 -48.1h0.4v0.4h-0.4zM1.5 -48.5h0.4v0.4h-0.4zM4.3 -48.5h0.8v0.4h-0.8zM5.5 -48.9h0.4v0.4h-0.4z"/><path fill="#aeaea8" d="M2.7 -48.1h0.8v0.4h-0.8zM1.9 -48.5h0.4v0.4h-0.4zM3.9 -48.5h0.4v0.4h-0.4zM4.3 -48.9h1.2v0.4h-1.2zM5.1 -49.3h0.8v0.4h-0.8z"/><path fill="#b4b1ab" d="M5.1 -48.1h0.4v0.4h-0.4z"/><path fill="#c9c9ba" d="M13.5 -48.1h0.4v0.4h-0.4zM15.1 -48.5h0.4v0.4h-0.4z"/><path fill="#ccc9bd" d="M15.1 -48.1h0.4v0.4h-0.4z"/><path fill="#ccc9c0" d="M15.5 -48.1h0.4v0.4h-0.4z"/><path fill="#c9c9c3" d="M16.7 -48.1h0.4v0.4h-0.4zM17.1 -48.5h0.4v0.4h-0.4zM17.1 -48.9h0.4v0.4h-0.4zM17.1 -49.3h0.4v0.4h-0.4zM17.1 -49.7h0.4v0.4h-0.4z"/><path fill="#dbb49f" d="M-9.7 -48.5h0.4v0.4h-0.4z"/><path fill="#d8b49f" d="M-9.3 -48.5h0.4v0.4h-0.4zM-10.1 -48.9h1.2v0.4h-1.2zM-10.5 -49.3h1.6v0.4h-1.6zM-10.5 -49.7h2v0.4h-2zM-10.5 -50.1h1.6v0.4h-1.6zM-10.5 -50.5h1.6v0.4h-1.6z"/><path fill="#c6b7a2" d="M-8.5 -48.5h0.4v0.4h-0.4zM-8.5 -48.9h0.4v0.4h-0.4z"/><path fill="#b1aea5" d="M0.7 -48.5h0.8v0.4h-0.8zM-0.1 -48.9h0.4v0.4h-0.4zM-0.5 -49.3h0.4v0.4h-0.4zM-0.5 -49.7h0.4v0.4h-0.4z"/><path fill="#aeaba5" d="M2.3 -48.5h1.2v0.4h-1.2zM1.1 -49.3h0.4v0.4h-0.4zM5.1 -49.7h0.4v0.4h-0.4zM0.7 -50.1h0.4v0.4h-0.4zM5.5 -50.1h0.4v0.4h-0.4zM0.7 -50.5h0.4v0.4h-0.4zM5.5 -50.5h0.4v0.4h-0.4z"/><path fill="#aeaba8" d="M3.5 -48.5h0.4v0.4h-0.4zM3.9 -48.9h0.4v0.4h-0.4zM4.3 -49.3h0.8v0.4h-0.8z"/><path fill="#c9c6ba" d="M14.3 -48.5h0.8v0.4h-0.8zM14.7 -48.9h0.8v0.4h-0.8z"/><path fill="#c9c9bd" d="M15.5 -48.5h0.4v0.4h-0.4zM15.9 -48.9h0.8v0.4h-0.8z"/><path fill="#c9c9c0" d="M15.9 -48.5h1.2v0.4h-1.2zM16.7 -48.9h0.4v0.4h-0.4zM16.7 -49.3h0.4v0.4h-0.4z"/><path fill="#b7b4a5" d="M-2.1 -48.9h1.2v0.4h-1.2zM-2.5 -49.3h1.6v0.4h-1.6zM-2.5 -49.7h1.6v0.4h-1.6zM-2.9 -50.1h1.6v0.4h-1.6zM-2.9 -50.5h1.6v0.4h-1.6z"/><path fill="#b4b4a5" d="M-0.9 -48.9h0.4v0.4h-0.4zM-1.3 -50.1h0.4v0.4h-0.4zM-1.3 -50.5h0.4v0.4h-0.4z"/><path fill="#b1b1a5" d="M-0.5 -48.9h0.4v0.4h-0.4zM-0.9 -50.5h0.4v0.4h-0.4z"/><path fill="#aeaea5" d="M0.3 -48.9h1.6v0.4h-1.6zM-0.1 -49.3h1.2v0.4h-1.2zM-0.1 -49.7h1.2v0.4h-1.2zM5.5 -49.7h0.4v0.4h-0.4zM-0.5 -50.1h1.2v0.4h-1.2zM-0.5 -50.5h1.2v0.4h-1.2z"/><path fill="#ababa5" d="M1.9 -48.9h2v0.4h-2zM1.5 -49.3h2.8v0.4h-2.8zM1.1 -49.7h0.8v0.4h-0.8zM3.9 -49.7h1.2v0.4h-1.2zM1.1 -50.1h0.8v0.4h-0.8zM3.9 -50.1h1.6v0.4h-1.6zM1.1 -50.5h0.4v0.4h-0.4zM3.9 -50.5h1.6v0.4h-1.6z"/><path fill="#c9c6bd" d="M15.5 -48.9h0.4v0.4h-0.4zM16.3 -49.3h0.4v0.4h-0.4z"/><path fill="#b4b1a5" d="M-0.9 -49.3h0.4v0.4h-0.4zM-0.9 -49.7h0.4v0.4h-0.4zM-0.9 -50.1h0.4v0.4h-0.4z"/><path fill="#c0c0b4" d="M11.9 -49.3h0.4v0.4h-0.4zM12.3 -49.7h0.4v0.4h-0.4zM12.7 -50.5h0.4v0.4h-0.4z"/><path fill="#c3c3b7" d="M13.1 -49.3h0.4v0.4h-0.4zM13.1 -49.7h1.2v0.4h-1.2zM13.5 -50.1h1.2v0.4h-1.2zM13.5 -50.5h1.2v0.4h-1.2z"/><path fill="#c6c3ba" d="M14.7 -49.3h0.4v0.4h-0.4zM14.7 -49.7h0.8v0.4h-0.8zM14.7 -50.1h0.8v0.4h-0.8zM14.7 -50.5h0.8v0.4h-0.8z"/><path fill="#c6c6ba" d="M15.1 -49.3h0.4v0.4h-0.4z"/><path fill="#c6c6bd" d="M15.5 -49.3h0.8v0.4h-0.8zM15.9 -49.7h0.8v0.4h-0.8z"/><path fill="#bdb7a5" d="M-8.1 -49.7h0.4v0.4h-0.4z"/><path fill="#b7b7a5" d="M-2.9 -49.7h0.4v0.4h-0.4zM-3.3 -50.5h0.4v0.4h-0.4z"/><path fill="#aba8a5" d="M1.9 -49.7h2v0.4h-2zM1.9 -50.1h2v0.4h-2zM1.5 -50.5h2.4v0.4h-2.4z"/><path fill="#c6c3bd" d="M15.5 -49.7h0.4v0.4h-0.4zM15.5 -50.1h1.2v0.4h-1.2zM15.5 -50.5h1.2v0.4h-1.2z"/><path fill="#c6c6c0" d="M16.7 -49.7h0.4v0.4h-0.4zM16.7 -50.1h0.4v0.4h-0.4zM16.7 -50.5h0.4v0.4h-0.4z"/><path fill="#d5b49f" d="M-8.9 -50.1h0.4v0.4h-0.4zM-8.9 -50.5h0.4v0.4h-0.4z"/><path fill="#d5b79f" d="M-8.5 -50.1h0.4v0.4h-0.4zM-8.5 -50.5h0.4v0.4h-0.4z"/><path fill="#c3c0b7" d="M13.1 -50.1h0.4v0.4h-0.4zM13.1 -50.5h0.4v0.4h-0.4z"/><path fill="#c9c6c3" d="M17.1 -50.1h0.4v0.4h-0.4zM17.1 -50.5h0.4v0.4h-0.4z"/><path fill="#c6c6c6" d="M18.3 -50.1h0.4v0.4h-0.4zM18.3 -50.5h0.4v0.4h-0.4z"/><path fill="#b8b8d4" d="M14 -45.45L14.66 -45.09L15.36 -45.3L16.06 -45.5L16.62 -45.78L17.04 -46.19L17.46 -46.46L18.1 -46.94L18.73 -47.28L19.11 -47.7L19.46 -48.18L19.92 -48.72L20.5 -48.9L20.5 -39.5L19.2 -39.5L19 -41L17.5 -42L15.5 -43.2L14.3 -44.5Z"/><path fill="#b2b2d2" d="M17.5 -46.3L19.3 -47.3L19.8 -48.4L20.5 -48.5L20.5 -39.5L19.3 -39.5L19 -41L18.2 -43.5Z"/><ellipse cx="17.85" cy="-42.96" rx="1.35" ry="1.3" fill="#dcbcc0"/><ellipse cx="10.9" cy="-44.75" rx="0.42" ry="0.38" fill="#e8da80"/><path fill="#a8a8d0" d="M9.72 -37.35L10.62 -37.35L10.62 -36.35L10.3 -36.2L9.95 -36.3L9.72 -36.55Z"/><ellipse cx="13.95" cy="-41.2" rx="0.15" ry="0.2" fill="#c0bcd8"/><path fill="#ccccd8" d="M13.4 -45.7L14.2 -45.5L14.66 -45.15L15.2 -45.1L15.6 -44.7L15.5 -44.2L14.8 -44.3L14.2 -44.6L13.4 -44.7Z"/></g></g><use href="#lakes" fill="#fff"/><use href="#bord" stroke="#2a2a2a" stroke-width="0.9" fill="none"/><use href="#land" fill="none" stroke="#151515" stroke-width="1.3"/><use href="#lakes" fill="none" stroke="#000" stroke-width="1.3"/></svg><path d="M1533.4 659.0h0M1470.6 671.8h0M1456.6 678.3h0M1519.7 677.1h0M1514.6 684.3h0M1495.9 688.7h0M1552.7 697.6h0M1554.4 703.1h0M1398.0 730.4h0M1409.5 737.3h0M1397.7 754.7h0M1410.8 760.3h0M1414.6 761.5h0M1404.9 765.5h0M1407.4 768.9h0M1457.3 771.4h0M1486.4 770.9h0M1487.7 774.5h0M1550.6 742.0h0M1555.2 746.1h0M1560.9 745.8h0M1541.6 748.9h0M1553.5 753.5h0M1558.6 754.7h0M1550.1 764.1h0M1542.8 767.5h0M1456.1 789.7h0M1468.1 788.5h0M1471.2 788.5h0M1542.8 787.7h0M1419.0 789.0h0M1416.8 791.9h0M1414.8 797.6h0M1390.7 798.4h0M1232.1 808.2h0M1204.4 814.0h0M1225.6 825.5h0M1170.7 824.3h0M1173.2 825.5h0M1168.3 829.1h0M1190.5 832.7h0M1194.8 832.7h0M1176.8 839.9h0M1175.6 845.9h0M1261.0 833.9h0M1338.0 825.0h0M1339.2 828.4h0M1346.4 831.3h0M1350.7 831.3h0M1354.8 832.0h0M1300.7 845.2h0M1307.9 851.5h0M1313.9 852.0h0M1312.0 855.8h0M1261.0 857.2h0M1276.1 859.6h0M1288.7 862.1h0M1179.2 855.6h0M1174.4 866.9h0M1186.4 866.9h0M1199.6 863.5h0M1206.8 860.4h0M1206.1 865.2h0M1200.8 866.9h0M1216.5 867.6h0M1220.1 870.7h0M1229.7 865.2h0M1256.2 871.9h0M1241.7 883.2h0M1283.8 881.5h0M1309.1 884.7h0M1171.9 887.3h0M1178.0 887.3h0M1192.4 882.0h0M1190.0 887.3h0M1314.6 897.6h0M1305.5 903.9h0M1267.7 908.5h0M1285.8 912.1h0M1264.6 918.6h0M1206.4 921.2h0M1154.4 926.5h0M1150.3 935.6h0M1217.7 932.5h0M1247.7 930.8h0M1205.6 936.9h0M1236.9 939.0h0M1176.8 952.2h0M1198.4 957.8h0M1285.5 970.0h0M1314.6 982.5h0M1331.5 988.3h0M1347.8 989.5h0M1292.3 994.6h0M1242.9 996.3h0M1245.3 999.9h0M1183.5 984.2h0M1165.5 985.4h0M1223.7 981.8h0M1354.8 804.8h0M1360.8 927.2h0M1403.5 803.4h0M1418.4 803.4h0M1410.0 807.9h0M1423.2 809.1h0M1488.2 804.6h0M1499.7 801.4h0M1513.7 799.5h0M1506.2 807.5h0M1370.8 818.3h0M1418.9 841.9h0M1432.8 854.4h0M1381.8 862.1h0M1428.5 871.2h0M1446.3 867.8h0M1464.1 862.1h0M1489.9 834.6h0M1500.9 834.6h0M1388.3 916.9h0M1403.5 918.8h0M1400.4 932.8h0M1399.1 948.2h0M1390.0 967.9h0M1531.5 1000.6h0M1391.9 1034.7h0M1420.8 1034.0h0M1499.0 910.9h0M1501.4 914.5h0M1601.2 622.7h0M1646.4 629.6h0M1678.4 635.9h0M1695.3 626.6h0M1578.9 701.3h0M1572.9 707.2h0M1574.9 705.8h0M1599.8 712.2h0M1617.7 723.1h0M1623.0 720.3h0M1638.8 718.3h0M1670.5 721.7h0M1618.1 735.5h0M1621.0 735.5h0M1633.3 735.5h0M1567.6 733.6h0M1570.2 739.9h0M1583.0 735.5h0M1585.0 741.5h0M1590.3 739.5h0M1595.9 747.8h0M1572.5 747.4h0M1578.9 750.8h0M1623.0 759.7h0M1647.8 754.4h0M1652.7 755.3h0M1641.8 761.7h0M1639.8 766.6h0M1643.4 764.7h0M1652.7 762.7h0M1674.5 756.3h0M1680.0 755.7h0M1688.9 758.7h0M1691.9 735.5h0M1726.0 725.6h0M1727.9 730.6h0M1741.2 725.3h0M1734.5 715.7h0M1738.4 712.4h0M1759.0 728.6h0M1767.9 734.6h0M1720.0 740.1h0M1723.4 739.1h0M1727.9 740.9h0M1735.9 742.5h0M1715.5 763.7h0M1718.6 763.7h0M1724.0 762.7h0M1727.9 763.3h0M1725.0 766.6h0M1727.9 766.6h0M1726.6 770.2h0M1729.9 771.2h0M1651.7 779.1h0M1696.9 780.1h0M1699.2 782.7h0M1710.5 790.6h0M1727.9 800.3h0M1736.3 796.5h0M1738.8 800.3h0M1751.1 802.5h0M1566.2 789.4h0M1569.0 800.3h0M1570.5 805.2h0M1586.0 810.2h0M1620.0 792.0h0M1758.0 822.1h0M1773.5 816.7h0M1734.9 822.7h0M1885.8 645.5h0M1873.6 670.2h0M1890.2 670.2h0M1878.1 691.0h0M1862.7 696.3h0M1870.2 697.3h0M1849.8 701.9h0M1907.2 694.0h0M1910.4 703.9h0M1956.7 715.3h0M1947.2 725.3h0M1780.5 723.7h0M1811.2 730.6h0M1802.3 747.4h0M1858.7 788.0h0M1917.1 805.8h0M1784.1 798.5h0M1783.5 806.2h0M1802.3 815.7h0M1769.3 838.6h0M1776.9 851.5h0M1787.7 848.8h0M1788.7 862.7h0M1824.5 835.7h0M1844.3 854.5h0M1847.4 863.1h0M1810.6 865.8h0M1818.4 865.8h0M1824.9 868.2h0M1815.7 872.3h0M1822.9 875.0h0M1835.1 868.8h0M1836.2 873.3h0M1808.2 879.5h0M1858.6 874.0h0M1864.8 879.1h0M1845.3 888.3h0M1864.8 890.9h0M1876.0 892.3h0M1875.0 897.0h0M1843.9 893.8h0M1869.9 861.7h0M1874.0 864.8h0M1878.0 867.8h0M1899.1 872.5h0M1905.6 880.7h0M1912.2 879.7h0M1912.8 885.6h0M1924.0 887.2h0M1932.2 891.7h0M1870.9 925.6h0M1877.0 924.4h0M1897.5 922.0h0M1871.9 938.3h0M1837.6 944.4h0M1847.4 953.0h0M1876.0 950.6h0M1870.9 955.7h0M1867.4 960.4h0M1771.8 963.5h0M1781.0 970.6h0M1782.0 958.8h0M1806.5 962.2h0M1806.5 966.3h0M1813.1 974.1h0M1818.8 958.8h0M1838.2 962.4h0M1843.3 969.0h0M1841.9 990.0h0M1682.9 822.3h0M1682.9 841.3h0M1663.4 843.9h0M1677.6 854.9h0M1654.3 879.7h0M1668.4 875.4h0M1678.6 891.7h0M1658.3 903.6h0M1669.4 917.9h0M1671.6 915.2h0M1654.3 928.1h0M1673.1 1001.3h0M1681.6 999.2h0M1694.5 991.4h0M1697.6 987.8h0M1701.1 984.9h0M1706.8 997.6h0M1728.2 991.4h0" stroke="#000" stroke-width="3.3" stroke-linecap="round" fill="none"/><text x="1472.0" y="741.2" class="cl">FR</text><text x="1696.8" y="665.6" class="cl">DE</text><text x="1348.2" y="894.0" class="cl">ES</text><text x="1171.5" y="917.2" class="cl">PT</text><text x="1782.2" y="839.2" class="cl">IT</text><rect x="1134.75" y="611.50" width="846.35" height="433.40" fill="none" stroke="#111" stroke-width="1.9"/><text x="1124.25" y="1023.41" class="tl" text-anchor="end">36</text><text x="1124.25" y="965.62" class="tl" text-anchor="end">38</text><text x="1124.25" y="907.83" class="tl" text-anchor="end">40</text><text x="1124.25" y="850.05" class="tl" text-anchor="end">42</text><text x="1124.25" y="792.26" class="tl" text-anchor="end">44</text><text x="1124.25" y="734.47" class="tl" text-anchor="end">46</text><text x="1124.25" y="676.69" class="tl" text-anchor="end">48</text><text x="1124.25" y="618.90" class="tl" text-anchor="end">50</text><text x="1134.75" y="1069.60" class="tl" text-anchor="middle">10W</text><text x="1275.81" y="1069.60" class="tl" text-anchor="middle">5W</text><text x="1416.87" y="1069.60" class="tl" text-anchor="middle">0</text><text x="1557.92" y="1069.60" class="tl" text-anchor="middle">5E</text><text x="1698.98" y="1069.60" class="tl" text-anchor="middle">10E</text><text x="1840.04" y="1069.60" class="tl" text-anchor="middle">15E</text><text x="1981.10" y="1069.60" class="tl" text-anchor="middle">20E</text><path d="M1134.75 1016.01h-4.8M1134.75 958.22h-4.8M1134.75 900.43h-4.8M1134.75 842.65h-4.8M1134.75 784.86h-4.8M1134.75 727.07h-4.8M1134.75 669.29h-4.8M1134.75 611.50h-4.8M1134.75 1044.90v4.8M1275.81 1044.90v4.8M1416.87 1044.90v4.8M1557.92 1044.90v4.8M1698.98 1044.90v4.8M1840.04 1044.90v4.8M1981.10 1044.90v4.8" stroke="#111" stroke-width="1.9" fill="none"/><text x="1557.92" y="1098.90" class="axl" text-anchor="middle">Longitude (<tspan dx="4">°</tspan><tspan dx="4">)</tspan></text><text transform="translate(1092.45 828.20) rotate(-90)" class="axl" text-anchor="middle">Latitude (N)</text><text class="lab" transform="translate(-2.12 75.9) scale(0.84 1.002)">a</text><text class="lab" transform="translate(1015.14 76.5) scale(0.98 1.041)">b</text><text class="lab" transform="translate(1.21 638.69) scale(0.822 1.013)">c</text><text class="lab" transform="translate(1015.17 639.3) scale(0.982 1.055)">d</text></svg></body></html>
